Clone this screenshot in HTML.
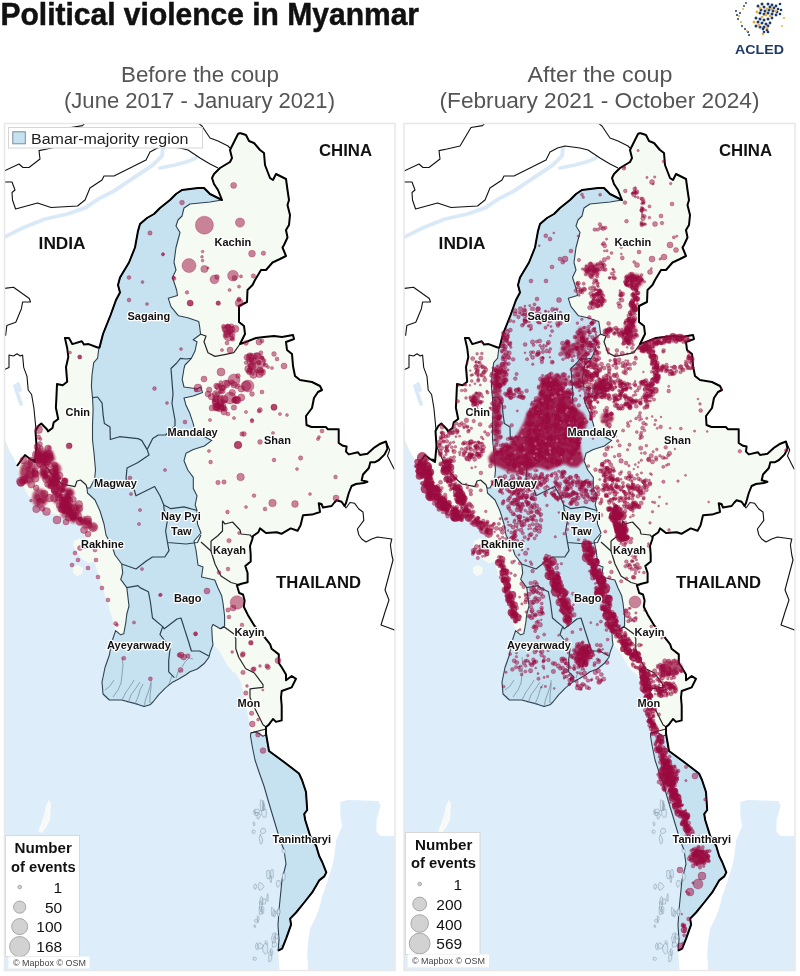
<!DOCTYPE html>
<html><head><meta charset="utf-8"><style>
html,body{margin:0;padding:0;background:#fff;}
body{width:800px;height:976px;overflow:hidden;position:relative;font-family:"Liberation Sans",sans-serif;}
svg{position:absolute;left:0;top:0;}
.cty{font-family:"Liberation Sans",sans-serif;font-weight:bold;font-size:16px;fill:#111;}
.dots circle{fill:#9b0b40;fill-opacity:0.5;stroke:#9b0b40;stroke-opacity:0.5;stroke-width:0.6}
.st{font-family:"Liberation Sans",sans-serif;font-weight:bold;font-size:11px;fill:#111;paint-order:stroke;stroke:#fff;stroke-width:2.5px;stroke-linejoin:round;}
</style></head><body>
<svg width="800" height="976" viewBox="0 0 800 976">
<defs>
<filter id="bl2" x="-20%" y="-20%" width="140%" height="140%"><feGaussianBlur stdDeviation="0.7"/></filter>
<filter id="bl" x="-20%" y="-20%" width="140%" height="140%"><feGaussianBlur stdDeviation="1.3"/></filter>
<clipPath id="cl"><rect x="4.5" y="123.5" width="390.5" height="847"/></clipPath>
<clipPath id="crp"><rect x="404" y="123.5" width="391" height="847"/></clipPath>
</defs>
<text x="0.5" y="24.8" font-family="'Liberation Sans', sans-serif" font-weight="bold" font-size="31" fill="#111" stroke="#111" stroke-width="0.5" textLength="418.5" lengthAdjust="spacingAndGlyphs">Political violence in Myanmar</text>
<text x="121" y="82" font-family="'Liberation Sans', sans-serif" font-size="21.5" fill="#555" textLength="158" lengthAdjust="spacingAndGlyphs">Before the coup</text>
<text x="64" y="108" font-family="'Liberation Sans', sans-serif" font-size="21.5" fill="#555" textLength="271" lengthAdjust="spacingAndGlyphs">(June 2017 - January 2021)</text>
<text x="527.5" y="82" font-family="'Liberation Sans', sans-serif" font-size="21.5" fill="#555" textLength="145" lengthAdjust="spacingAndGlyphs">After the coup</text>
<text x="439.5" y="108" font-family="'Liberation Sans', sans-serif" font-size="21.5" fill="#555" textLength="320" lengthAdjust="spacingAndGlyphs">(February 2021 - October 2024)</text>

<g>
<g fill="#1f3a68">
<circle cx="758" cy="6" r="1.5"/><circle cx="762" cy="4" r="1.5"/><circle cx="764" cy="7" r="1.5"/><circle cx="768" cy="4" r="1.5"/><circle cx="770" cy="7" r="1.5"/><circle cx="772" cy="5" r="1.4"/><circle cx="774" cy="8" r="1.4"/><circle cx="776" cy="6" r="1.4"/><circle cx="778" cy="9" r="1.3"/><circle cx="780" cy="4" r="1.3"/>
<circle cx="761" cy="10" r="1.5"/><circle cx="765" cy="11" r="1.5"/><circle cx="769" cy="10" r="1.5"/><circle cx="773" cy="11" r="1.5"/><circle cx="777" cy="12" r="1.4"/><circle cx="781" cy="10" r="1.3"/>
<circle cx="760" cy="13" r="1.5"/><circle cx="764" cy="14" r="1.5"/><circle cx="768" cy="13" r="1.5"/><circle cx="772" cy="14" r="1.5"/><circle cx="776" cy="15" r="1.4"/><circle cx="780" cy="14" r="1.3"/>
<circle cx="756" cy="18" r="1.5"/><circle cx="760" cy="19" r="1.5"/><circle cx="764" cy="20" r="1.5"/><circle cx="768" cy="19" r="1.5"/><circle cx="772" cy="18" r="1.4"/>
<circle cx="758" cy="22" r="1.5"/><circle cx="762" cy="23" r="1.5"/><circle cx="766" cy="24" r="1.5"/><circle cx="770" cy="23" r="1.4"/>
<circle cx="756" cy="26" r="1.5"/><circle cx="760" cy="27" r="1.5"/><circle cx="764" cy="27" r="1.5"/><circle cx="768" cy="26" r="1.4"/>
<circle cx="763" cy="29" r="1.4"/><circle cx="767" cy="30" r="1.4"/><circle cx="764" cy="32" r="1.3"/><circle cx="768" cy="32" r="1.3"/>
<circle cx="736" cy="11" r="1"/><circle cx="737" cy="15" r="1.1"/><circle cx="738" cy="19" r="1"/><circle cx="740" cy="13" r="1"/><circle cx="742" cy="26" r="1"/><circle cx="745" cy="29" r="1"/><circle cx="748" cy="32" r="1.1"/><circle cx="749" cy="35" r="1"/><circle cx="744" cy="6" r="0.9"/><circle cx="746" cy="3" r="0.9"/>
</g>
<g fill="#e9ac3c">
<circle cx="760" cy="8" r="1.4"/><circle cx="767" cy="9" r="1.4"/><circle cx="772" cy="9" r="1.3"/><circle cx="776" cy="11" r="1.2"/><circle cx="757" cy="12" r="1.4"/><circle cx="766" cy="15" r="1.4"/><circle cx="770" cy="16" r="1.3"/>
<circle cx="754" cy="22" r="1.5"/><circle cx="759" cy="25" r="1.5"/><circle cx="767" cy="28" r="1.4"/><circle cx="763" cy="34" r="1.3"/><circle cx="762" cy="17" r="1.3"/>
<circle cx="739" cy="16" r="1"/><circle cx="741" cy="22" r="1"/><circle cx="747" cy="31" r="1"/><circle cx="743" cy="9" r="0.9"/><circle cx="784" cy="18" r="1"/><circle cx="782" cy="26" r="0.9"/>
</g>
<text x="735" y="54" font-family="'Liberation Sans', sans-serif" font-weight="bold" font-size="13" fill="#1f3a68" textLength="49" lengthAdjust="spacingAndGlyphs">ACLED</text>
</g>
<g clip-path="url(#cl)">
<rect x="0" y="120" width="400" height="856" fill="#fff"/>
<path d="M0.0,390.0 L4.0,400.0 L5.0,440.0 L10.0,452.0 L14.0,458.0 L17.0,466.0 L40.0,485.0 L80.0,520.0 L110.0,560.0 L150.0,600.0 L210.0,640.0 L240.0,660.0 L266.0,733.3 L269.0,751.0 L284.0,762.0 L299.0,773.5 L302.0,780.0 L306.0,792.0 L307.2,810.0 L304.2,814.0 L305.2,820.0 L310.2,836.0 L316.2,846.0 L319.2,856.0 L322.2,862.0 L326.3,872.4 L324.3,876.4 L319.2,880.4 L312.2,892.4 L304.2,902.5 L296.1,912.5 L290.1,918.6 L291.1,924.6 L286.1,938.6 L282.1,948.7 L278.1,950.7 L280.0,975.0 L0.0,975.0Z" fill="#ddedfa"/>
<path d="M340.3,802.0 L348.4,800.0 L378.5,801.0 L380.5,806.0 L376.5,820.0 L376.5,832.0 L380.5,836.0 L392.5,836.0 L400.0,836.0 L400.0,975.0 L308.0,975.0 L308.2,968.8 L307.2,954.7 L308.2,940.6 L310.2,928.6 L316.2,916.5 L320.2,904.5 L322.2,896.5 L326.3,884.4 L332.3,866.0 L334.3,856.0 L336.3,840.0 L342.3,826.0 L340.3,816.0Z" fill="#ddedfa"/>
<path d="M15.0,386.0 L17.0,392.0 L19.0,398.0 L21.0,404.0" fill="none" stroke="#d9e9f7" stroke-width="3.8" stroke-linecap="round" stroke-linejoin="round"/>
<path d="M18.0,384.0 L20.0,390.0" fill="none" stroke="#d9e9f7" stroke-width="3.8" stroke-linecap="round" stroke-linejoin="round"/>
<path d="M0.0,238.0 L4.5,237.0 L22.5,228.0 L45.0,219.0 L67.5,214.0 L85.6,207.6 L99.0,198.6 L112.6,191.8 L126.0,182.8 L139.6,173.8 L153.0,164.8 L162.0,155.8 L163.0,148.0" fill="none" stroke="#d9e9f7" stroke-width="3.8" stroke-linecap="round" stroke-linejoin="round"/>
<path d="M160.0,168.0 L175.0,165.0 L186.0,162.0 L196.0,158.0" fill="none" stroke="#d9e9f7" stroke-width="3.8" stroke-linecap="round" stroke-linejoin="round"/>
<path d="M0.0,171.0 L4.0,171.0 L19.0,164.0 L23.0,167.5 L29.0,167.5 L40.0,159.0 L39.0,150.6 L47.0,149.0 L60.0,146.0 L71.0,127.5 L82.5,125.6 L86.0,122.0" fill="none" stroke="#111" stroke-width="1.1" stroke-linejoin="round"/>
<path d="M0.0,182.0 L12.0,182.0 L15.0,190.0 L12.0,192.5 L12.5,200.0 L15.6,209.0 L37.5,203.0 L51.0,207.5 L77.5,206.0 L85.0,200.0 L90.0,188.0 L102.0,180.0 L104.0,176.0 L114.0,176.0 L130.0,168.0 L142.0,162.0 L146.0,160.0 L150.0,152.0 L157.5,148.0 L165.0,146.0 L180.0,148.0 L188.0,150.0 L194.0,154.0 L200.0,158.0 L210.0,164.0 L218.0,168.0" fill="none" stroke="#111" stroke-width="1.1" stroke-linejoin="round"/>
<path d="M198.0,123.0 L202.0,126.0 L210.0,138.0 L218.0,141.0 L228.0,146.0 L230.0,148.0" fill="none" stroke="#111" stroke-width="1.1" stroke-linejoin="round"/>
<path d="M0.0,288.4 L4.5,288.4 L13.5,287.2 L29.3,298.5 L30.5,302.0 L22.6,302.0 L21.4,308.7 L15.8,322.2 L6.8,325.6 L5.6,335.8" fill="none" stroke="#111" stroke-width="1.1" stroke-linejoin="round"/>
<path d="M0.0,369.6 L4.5,369.6 L9.0,367.4 L9.0,355.0 L13.5,356.0 L17.0,353.8 L20.3,356.0 L22.6,355.0 L23.7,367.4 L27.0,376.4 L28.2,390.0 L31.6,394.5 L33.9,408.0 L36.1,430.6 L36.9,453.0 L36.9,462.0 L35.3,464.0 L33.8,459.4 L27.0,459.0 L25.0,455.0" fill="none" stroke="#111" stroke-width="1.1" stroke-linejoin="round"/>
<path d="M386.0,441.5 L389.7,450.0 L387.5,455.9 L394.0,468.8 L400.0,472.0" fill="none" stroke="#111" stroke-width="1.1" stroke-linejoin="round"/>
<path d="M344.5,506.0 L346.0,508.0 L350.0,502.5 L354.5,503.2 L358.8,509.0 L363.0,512.0 L363.8,520.4 L357.4,529.0 L358.8,534.8 L361.7,539.0 L366.0,542.0 L371.7,539.0 L377.5,537.0 L391.8,539.0 L390.4,544.8 L391.8,555.0 L393.0,560.0 L389.0,575.0 L385.0,590.0 L389.0,600.0 L385.0,612.0 L381.0,625.0 L392.0,629.0 L400.0,632.0" fill="none" stroke="#111" stroke-width="1.1" stroke-linejoin="round"/>
<path d="M240.0,133.0 L246.0,135.0 L249.0,141.0 L254.0,143.0 L260.0,150.0 L264.0,153.0 L265.0,165.0 L270.0,178.0 L273.0,180.0 L276.0,174.0 L286.0,179.0 L287.5,190.0 L289.0,200.0 L287.5,205.0 L290.0,215.0 L289.0,225.0 L286.0,230.0 L287.5,237.5 L284.0,245.0 L282.5,247.5 L286.0,256.0 L280.0,259.0 L272.5,262.5 L266.0,270.0 L261.0,270.0 L255.0,280.0 L252.5,285.0 L247.5,290.0 L247.0,302.0 L239.0,306.0 L239.0,322.0 L244.0,326.0 L245.0,334.0 L240.0,344.0 L246.0,342.0 L256.0,338.0 L264.0,337.0 L274.0,336.0 L282.0,337.0 L293.0,335.0 L294.0,339.0 L286.0,342.0 L287.0,350.0 L292.0,354.0 L293.0,366.0 L295.0,376.0 L300.0,380.0 L312.0,382.0 L320.0,386.0 L322.0,390.0 L318.0,392.0 L314.0,398.0 L312.0,408.0 L306.0,416.0 L306.5,425.0 L311.5,427.0 L325.8,427.0 L328.0,429.3 L338.7,429.3 L338.7,443.0 L343.0,445.8 L346.6,446.5 L346.0,451.6 L348.8,454.4 L358.0,452.3 L360.0,455.0 L367.4,453.7 L374.6,447.3 L380.3,443.7 L386.0,441.5 L387.5,448.7 L384.6,454.4 L379.0,460.0 L374.6,462.3 L370.3,462.3 L368.9,468.0 L363.0,474.5 L361.7,480.3 L367.4,481.7 L363.8,483.0 L356.0,484.0 L351.6,486.0 L348.8,493.0 L346.0,503.0 L344.5,506.0 L341.6,501.8 L336.6,500.3 L334.4,502.5 L331.6,506.0 L323.0,507.5 L321.5,504.0 L318.7,503.2 L320.0,512.0 L312.0,514.6 L303.0,515.3 L300.6,525.3 L297.6,530.7 L290.7,528.4 L281.4,533.8 L276.8,532.2 L266.0,533.0 L260.0,528.4 L258.4,532.2 L253.0,536.0 L252.3,539.2 L250.0,546.0 L250.7,554.5 L250.7,561.4 L245.3,566.0 L247.6,573.0 L247.6,582.2 L241.5,583.7 L236.9,585.2 L239.2,593.0 L243.0,594.5 L244.6,600.6 L243.8,606.7 L247.6,614.4 L254.4,625.7 L264.5,637.2 L270.2,644.4 L271.6,648.7 L278.8,654.4 L278.8,663.0 L281.7,667.3 L286.0,674.5 L286.0,680.3 L291.7,676.0 L296.0,678.8 L291.7,687.4 L281.7,691.0 L281.0,697.5 L281.7,706.0 L281.7,720.4 L276.0,721.9 L273.0,719.0 L268.8,724.7 L266.0,727.0 L266.0,733.3 L269.0,751.0 L284.0,762.0 L299.0,773.5 L302.0,780.0 L306.0,792.0 L307.2,810.0 L304.2,814.0 L305.2,820.0 L310.2,836.0 L316.2,846.0 L319.2,856.0 L322.2,862.0 L326.3,872.4 L324.3,876.4 L319.2,880.4 L312.2,892.4 L304.2,902.5 L296.1,912.5 L290.1,918.6 L291.1,924.6 L286.1,938.6 L282.1,948.7 L278.1,950.7 L279.0,940.0 L278.0,925.0 L279.0,910.0 L280.0,900.0 L282.0,880.0 L286.0,864.0 L284.0,850.0 L280.0,840.0 L274.0,820.0 L268.0,800.0 L264.0,786.0 L259.0,772.0 L255.0,760.0 L252.0,745.0 L250.5,736.0 L249.0,720.0 L246.0,706.0 L243.0,692.0 L241.0,682.0 L236.0,674.0 L233.0,671.8 L227.5,666.0 L224.6,660.3 L218.9,650.3 L213.0,644.6 L210.3,651.7 L208.8,657.5 L204.5,663.2 L197.3,669.0 L190.0,671.8 L185.9,674.7 L178.7,679.0 L173.0,681.9 L165.8,687.6 L158.6,694.8 L152.9,702.0 L150.0,704.8 L144.0,706.5 L138.0,704.4 L121.7,700.0 L109.4,700.0 L103.0,694.0 L102.0,682.0 L105.0,667.5 L109.4,655.0 L111.5,643.0 L115.6,630.6 L111.5,616.0 L106.0,598.0 L100.0,581.0 L96.0,567.0 L92.0,552.0 L86.0,538.0 L80.0,526.0 L70.0,519.0 L60.0,516.0 L48.0,512.0 L36.0,504.0 L27.0,494.0 L21.0,482.0 L18.0,472.0 L17.0,466.0 L25.0,455.0 L30.0,459.0 L35.0,462.0 L36.5,446.0 L35.5,431.0 L38.5,425.8 L41.3,423.5 L46.9,429.2 L48.0,431.4 L52.5,428.0 L53.7,422.4 L58.2,419.0 L55.9,407.7 L56.5,395.4 L57.0,384.1 L62.7,385.2 L67.2,381.8 L66.0,367.2 L68.3,357.0 L67.2,348.0 L64.9,337.9 L68.9,337.9 L72.3,344.1 L81.8,341.3 L84.1,344.6 L88.6,344.1 L97.6,347.5 L99.5,347.5 L103.0,334.0 L107.0,324.0 L110.6,315.0 L116.0,300.0 L120.0,292.5 L118.0,285.0 L120.0,277.5 L129.0,262.5 L135.0,247.5 L138.0,231.0 L140.0,224.0 L147.0,218.0 L154.0,214.0 L160.0,208.0 L170.0,200.0 L176.0,194.0 L182.0,190.0 L198.0,188.0 L204.0,188.0 L210.0,194.0 L218.0,198.0 L222.0,200.0 L218.0,190.0 L214.0,184.0 L212.0,178.0 L214.0,174.0 L220.0,168.0 L230.0,162.0 L232.0,158.0 L230.0,150.0 L232.0,146.0 L234.0,142.0 L238.0,134.0Z" fill="#f5fbf2"/>
<path d="M74.0,541.0 L80.0,538.0 L86.0,542.0 L92.0,548.0 L96.0,556.0 L94.0,562.0 L88.0,563.0 L82.0,559.0 L77.0,552.0 L73.0,546.0Z" fill="#f5fbf2"/>
<path d="M73.0,567.0 L78.0,565.0 L83.0,568.0 L82.0,574.0 L77.0,576.0 L73.0,573.0Z" fill="#f5fbf2"/>
<path d="M48.5,800.0 L51.0,803.0 L50.5,812.0 L50.0,820.0 L47.0,826.0 L42.0,833.0 L38.0,831.0 L41.0,824.0 L44.0,815.0 L46.0,806.0Z" fill="#f7faf7"/>
<path d="M182.0,190.0 L198.0,188.0 L204.0,188.0 L210.0,194.0 L218.0,198.0 L222.0,200.0 L210.0,202.0 L190.0,204.0 L184.0,208.0 L182.0,216.0 L178.0,220.0 L176.0,226.0 L180.0,232.5 L176.0,247.5 L174.0,262.5 L176.0,270.0 L172.5,277.5 L176.6,290.0 L177.5,295.5 L168.3,298.3 L171.0,306.6 L178.5,315.8 L187.7,317.7 L198.7,321.4 L199.7,327.0 L200.6,334.3 L193.2,339.8 L197.0,341.7 L195.0,351.0 L191.4,358.3 L185.0,365.0 L184.0,368.5 L182.2,379.5 L184.0,387.0 L197.0,388.7 L200.7,387.0 L202.5,392.4 L193.3,396.0 L184.0,398.0 L186.0,405.3 L189.6,412.7 L193.3,423.8 L195.2,433.0 L204.4,436.7 L211.8,440.4 L204.4,446.0 L193.3,449.6 L186.0,453.3 L184.0,460.7 L187.8,470.0 L193.3,477.3 L193.3,488.4 L197.0,495.8 L195.2,505.0 L197.0,510.5 L197.5,524.0 L201.0,533.0 L194.0,541.0 L196.0,550.0 L198.0,565.0 L203.0,567.0 L201.5,577.0 L214.8,580.0 L218.0,588.0 L221.7,595.8 L223.0,603.0 L224.6,616.0 L224.6,626.0 L220.3,628.8 L213.0,624.5 L211.7,627.3 L212.4,640.3 L213.0,644.6 L210.3,651.7 L208.8,657.5 L204.5,663.2 L197.3,669.0 L190.0,671.8 L185.9,674.7 L178.7,679.0 L173.0,681.9 L165.8,687.6 L158.6,694.8 L152.9,702.0 L150.0,704.8 L144.0,706.5 L138.0,704.4 L121.7,700.0 L109.4,700.0 L103.0,694.0 L102.0,682.0 L105.0,667.5 L109.4,655.0 L111.5,643.0 L115.6,630.6 L120.7,634.8 L123.8,633.7 L125.8,622.5 L126.8,614.0 L129.0,606.0 L126.8,587.6 L120.7,579.4 L122.7,573.0 L121.7,564.0 L115.0,555.0 L112.5,547.5 L106.0,535.0 L104.0,524.0 L100.0,511.0 L95.0,500.0 L87.5,493.0 L87.0,488.0 L90.0,488.0 L94.6,479.0 L95.5,470.0 L94.0,453.0 L92.5,440.0 L92.5,425.8 L93.1,408.9 L92.5,397.6 L91.4,386.3 L92.0,375.0 L93.1,367.2 L93.7,362.7 L97.6,358.2 L98.7,349.2 L99.5,347.5 L103.0,334.0 L107.0,324.0 L110.6,315.0 L116.0,300.0 L120.0,292.5 L118.0,285.0 L120.0,277.5 L129.0,262.5 L135.0,247.5 L138.0,231.0 L140.0,224.0 L147.0,218.0 L154.0,214.0 L160.0,208.0 L170.0,200.0 L176.0,194.0Z" fill="#c6e2f0" stroke="#2e4150" stroke-width="1.1" stroke-linejoin="round"/>
<path d="M250.8,733.0 L254.4,732.0 L258.7,733.3 L263.0,736.2 L266.0,734.8 L269.0,751.0 L284.0,762.0 L299.0,773.5 L302.0,780.0 L306.0,792.0 L307.2,810.0 L304.2,814.0 L305.2,820.0 L310.2,836.0 L316.2,846.0 L319.2,856.0 L322.2,862.0 L326.3,872.4 L324.3,876.4 L319.2,880.4 L312.2,892.4 L304.2,902.5 L296.1,912.5 L290.1,918.6 L291.1,924.6 L286.1,938.6 L282.1,948.7 L278.1,950.7 L279.0,940.0 L278.0,925.0 L279.0,910.0 L280.0,900.0 L282.0,880.0 L286.0,864.0 L284.0,850.0 L280.0,840.0 L274.0,820.0 L268.0,800.0 L264.0,786.0 L259.0,772.0 L255.0,760.0 L252.0,745.0 L250.5,736.0Z" fill="#c6e2f0" stroke="#2e4150" stroke-width="1.1" stroke-linejoin="round"/>
<path d="M113.0,697.0 L118.0,690.0 L121.0,683.0 L122.0,675.0 L123.0,665.0 L122.0,657.0" fill="none" stroke="#71869a" stroke-width="0.7"/>
<path d="M122.0,700.0 L126.0,692.0 L131.0,685.0 L134.0,680.0" fill="none" stroke="#71869a" stroke-width="0.7"/>
<path d="M128.0,703.0 L131.0,695.0 L136.0,688.0 L140.0,682.0" fill="none" stroke="#71869a" stroke-width="0.7"/>
<path d="M135.0,704.0 L138.0,697.0 L140.0,690.0 L143.0,684.0" fill="none" stroke="#71869a" stroke-width="0.7"/>
<path d="M144.0,706.0 L146.0,698.0 L149.0,690.0 L151.0,683.0" fill="none" stroke="#71869a" stroke-width="0.7"/>
<path d="M150.0,703.0 L150.0,695.0 L151.0,688.0 L151.0,680.0" fill="none" stroke="#71869a" stroke-width="0.7"/>
<path d="M165.0,689.0 L169.0,684.0 L172.0,676.0" fill="none" stroke="#71869a" stroke-width="0.7"/>
<path d="M105.0,690.0 L110.0,686.0 L114.0,680.0" fill="none" stroke="#71869a" stroke-width="0.7"/>
<path d="M182.0,667.0 L185.0,662.0 L189.0,658.0 L193.0,659.0" fill="none" stroke="#71869a" stroke-width="0.7"/>
<path d="M176.0,678.0 L178.0,672.0 L182.0,670.0" fill="none" stroke="#71869a" stroke-width="0.7"/>
<path d="M273.3,873.3 L273.4,877.4 L271.9,878.0 L270.6,876.9 L270.6,873.3 L270.8,870.0 L271.9,869.6 L273.1,869.8Z M277.3,944.2 L275.8,946.4 L274.3,946.9 L272.3,947.1 L272.3,944.2 L272.7,942.0 L274.3,940.9 L275.7,942.3Z M269.9,875.2 L269.1,878.9 L267.2,878.5 L266.5,875.2 L266.9,870.6 L269.3,870.6Z M278.3,936.1 L278.2,938.9 L276.3,938.6 L275.1,937.2 L274.8,934.8 L276.3,933.7 L277.6,934.3Z M262.4,911.0 L261.2,914.6 L259.3,914.4 L259.2,907.2 L261.3,906.7Z M259.3,814.1 L258.5,815.1 L257.3,815.4 L255.3,815.7 L255.5,814.1 L255.6,812.8 L257.3,812.4 L258.6,813.1Z M259.0,918.6 L258.8,920.4 L258.2,922.6 L257.4,921.2 L257.3,918.6 L257.3,915.9 L258.2,916.1 L258.8,916.6Z M275.3,938.4 L274.7,939.7 L273.8,939.6 L273.7,937.0 L274.8,936.7Z M255.4,812.0 L254.9,813.9 L254.2,814.6 L253.7,812.0 L254.3,810.2 L254.9,809.8Z M265.9,901.6 L265.4,904.0 L262.3,904.3 L262.0,901.6 L262.3,899.0 L265.5,899.0Z M268.3,897.8 L267.8,901.6 L266.8,899.6 L266.8,895.9 L267.9,893.6Z M271.7,879.5 L271.0,882.9 L270.1,880.9 L270.0,878.0 L271.0,875.5Z M257.5,921.3 L257.3,922.4 L256.2,923.0 L255.3,922.2 L254.7,921.3 L254.7,919.9 L256.2,919.2 L257.5,920.1Z M274.7,912.0 L273.6,916.0 L271.8,915.8 L271.3,912.0 L271.6,907.3 L273.4,908.8Z M259.8,810.9 L258.5,812.6 L255.0,812.7 L253.5,810.9 L255.2,809.3 L258.6,809.2Z M267.8,948.2 L267.5,952.3 L265.3,954.3 L263.3,951.8 L262.4,948.2 L263.5,945.1 L265.3,943.1 L267.3,944.5Z M266.5,813.0 L266.0,816.9 L263.5,817.4 L261.8,814.8 L261.2,810.7 L263.6,810.0 L266.0,809.1Z M263.8,804.8 L263.9,809.2 L263.2,810.6 L262.7,808.5 L262.3,804.8 L262.7,801.5 L263.2,800.8 L263.8,800.9Z M280.8,884.0 L279.3,886.2 L277.6,887.4 L276.6,885.1 L276.3,882.7 L277.5,880.3 L279.8,880.8Z M267.4,942.6 L267.2,944.5 L266.1,943.9 L265.6,943.2 L264.9,941.5 L266.0,940.4 L266.8,941.5Z M285.3,876.4 L284.9,879.2 L283.6,880.6 L282.4,879.0 L282.3,876.4 L282.3,873.4 L283.6,873.4 L284.8,873.7Z M263.9,909.9 L263.6,912.6 L262.7,914.2 L262.1,911.2 L261.5,907.5 L262.7,906.2 L263.7,907.2Z M264.9,807.6 L264.5,809.9 L263.8,810.1 L263.3,809.6 L262.7,807.6 L263.3,805.5 L263.8,803.6 L264.6,804.7Z M256.6,886.6 L255.8,889.1 L254.5,889.2 L253.6,886.6 L254.5,884.4 L255.9,883.8Z M257.9,946.8 L257.7,949.7 L256.8,949.7 L256.1,949.2 L255.5,946.8 L255.9,944.1 L256.8,942.7 L257.5,944.6Z M262.1,905.5 L261.0,911.8 L259.6,908.5 L259.4,902.0 L260.9,901.3Z M283.0,947.4 L282.5,948.5 L281.0,948.7 L279.3,948.3 L280.1,946.9 L280.9,945.6 L282.5,946.3Z M263.9,805.7 L262.6,810.4 L260.8,810.9 L260.1,805.7 L260.6,799.8 L262.6,800.8Z M280.4,911.6 L279.7,913.6 L278.3,914.2 L276.6,913.8 L276.3,911.6 L277.1,910.1 L278.3,909.3 L279.9,909.4Z M263.6,945.9 L261.8,948.3 L259.2,949.0 L257.8,945.9 L259.2,942.7 L261.6,943.8Z M271.9,957.0 L271.5,959.8 L270.5,961.2 L268.8,961.9 L268.7,957.0 L268.8,952.2 L270.5,950.6 L271.8,953.5Z M262.9,839.9 L261.9,843.5 L260.5,843.9 L259.7,841.5 L259.2,837.7 L260.4,834.1 L261.6,837.2Z M255.6,926.2 L255.3,927.6 L254.3,927.2 L253.7,926.2 L254.2,925.0 L255.3,925.0Z M275.5,938.0 L275.2,942.6 L272.6,943.2 L271.5,938.0 L272.8,933.7 L275.3,932.7Z M264.2,886.5 L262.0,889.2 L259.5,890.4 L257.9,886.5 L259.4,882.3 L262.1,883.6Z M285.3,851.0 L285.0,853.4 L282.6,852.4 L281.8,851.0 L282.4,849.3 L284.7,849.3Z M272.8,952.5 L271.8,954.9 L270.8,956.0 L270.3,952.5 L270.7,948.4 L271.9,949.4Z M275.7,914.2 L275.1,916.5 L274.0,917.1 L273.2,915.4 L272.6,912.3 L273.9,910.1 L275.5,910.8Z M255.0,823.7 L254.7,825.7 L253.5,825.6 L253.2,823.7 L253.4,821.8 L254.5,822.5Z M260.6,815.7 L259.5,817.1 L258.6,819.2 L257.0,818.4 L257.2,815.7 L257.3,813.5 L258.6,812.1 L259.8,813.6Z M255.4,831.6 L254.2,833.6 L252.2,832.9 L252.1,830.3 L254.1,829.9Z M266.0,830.9 L264.6,833.1 L262.2,833.7 L260.2,832.2 L260.8,830.0 L262.2,828.0 L264.8,828.6Z M279.7,912.6 L279.3,915.9 L277.8,916.2 L277.5,912.6 L277.8,909.2 L279.4,908.5Z M262.9,901.1 L262.4,904.3 L261.1,904.7 L259.7,903.4 L260.0,899.2 L261.1,896.6 L262.5,897.4Z M256.9,958.8 L255.2,960.4 L253.2,959.9 L253.0,957.5 L255.3,957.1Z" fill="#d3e7f5" stroke="#8797a5" stroke-width="0.5"/>
<path d="M200.6,334.3 L206.0,336.0 L204.0,341.7 L208.0,352.7 L215.0,356.4 L224.6,354.6 L233.8,352.7 L240.0,344.0" fill="none" stroke="#262626" stroke-width="1.2" stroke-linejoin="round"/>
<path d="M36.0,445.0 L45.0,465.0 L55.0,478.0 L62.0,484.0 L75.0,486.6 L77.0,481.0 L80.6,480.0 L86.0,484.7 L87.0,488.0" fill="none" stroke="#262626" stroke-width="1.2" stroke-linejoin="round"/>
<path d="M92.5,397.6 L97.6,397.0 L102.1,403.2 L103.2,415.6 L104.4,423.5 L110.0,427.0 L110.3,439.5 L119.5,436.7 L138.0,438.6 L141.7,440.4 L147.2,449.6" fill="none" stroke="#2e4150" stroke-width="1.2" stroke-linejoin="round"/>
<path d="M147.2,449.6 L152.7,438.6 L158.3,435.0 L165.6,435.0 L175.0,425.6 L175.0,420.0 L172.0,403.5 L173.0,394.3 L171.0,368.5 L176.7,363.0 L180.4,358.3 L186.0,359.0 L191.4,358.3" fill="none" stroke="#2e4150" stroke-width="1.2" stroke-linejoin="round"/>
<path d="M147.2,449.6 L149.0,455.0 L138.0,462.5 L127.0,468.0 L126.0,479.0 L134.3,490.0 L136.0,495.8 L154.6,486.5 L160.0,495.8 L163.8,505.0 L171.0,508.7 L184.0,506.8 L197.0,510.5" fill="none" stroke="#2e4150" stroke-width="1.2" stroke-linejoin="round"/>
<path d="M121.7,564.0 L136.0,569.0 L146.3,561.0 L152.5,557.0 L164.8,557.0 L169.0,550.7 L167.5,542.5" fill="none" stroke="#2e4150" stroke-width="1.2" stroke-linejoin="round"/>
<path d="M163.8,505.0 L164.0,509.0 L167.5,520.0 L165.6,531.0 L167.5,542.5 L186.0,544.0 L197.5,542.5 L201.0,535.0" fill="none" stroke="#2e4150" stroke-width="1.2" stroke-linejoin="round"/>
<path d="M126.8,587.6 L138.0,585.6 L140.0,587.6 L148.4,591.7 L150.4,602.0 L152.5,618.0 L162.7,626.6 L164.3,628.8 L177.0,619.0 L181.0,618.0 L185.0,630.6 L189.0,643.0 L191.4,651.0 L199.6,651.0 L208.8,656.0" fill="none" stroke="#2e4150" stroke-width="1.2" stroke-linejoin="round"/>
<path d="M162.7,626.6 L160.0,634.5 L168.0,645.0 L170.0,649.0 L168.7,660.3 L168.7,671.8 L174.4,677.6" fill="none" stroke="#2e4150" stroke-width="1.2" stroke-linejoin="round"/>
<path d="M211.0,541.0 L217.5,536.0 L222.5,531.0 L222.5,521.0 L225.0,524.0 L232.5,522.0 L240.0,530.0 L241.0,534.0 L250.0,535.0 L252.5,537.5" fill="none" stroke="#262626" stroke-width="1.2" stroke-linejoin="round"/>
<path d="M211.0,541.0 L211.0,551.0 L215.0,564.0 L221.0,576.0 L231.0,582.5 L240.0,585.0" fill="none" stroke="#262626" stroke-width="1.2" stroke-linejoin="round"/>
<path d="M201.0,542.0 L211.0,551.0" fill="none" stroke="#262626" stroke-width="1.2" stroke-linejoin="round"/>
<path d="M266.0,727.0 L263.0,724.7 L254.4,707.5 L250.0,697.5 L250.0,688.9 L263.0,687.4 L263.0,684.6 L254.4,673.0 L245.8,668.8 L238.7,657.3 L235.8,648.7 L235.8,638.7 L234.3,634.3 L224.3,627.0 L220.3,628.8" fill="none" stroke="#262626" stroke-width="1.2" stroke-linejoin="round"/>
<path d="M250.8,733.0 L266.0,729.0" fill="none" stroke="#262626" stroke-width="1.2" stroke-linejoin="round"/>
<path d="M240.0,133.0 L246.0,135.0 L249.0,141.0 L254.0,143.0 L260.0,150.0 L264.0,153.0 L265.0,165.0 L270.0,178.0 L273.0,180.0 L276.0,174.0 L286.0,179.0 L287.5,190.0 L289.0,200.0 L287.5,205.0 L290.0,215.0 L289.0,225.0 L286.0,230.0 L287.5,237.5 L284.0,245.0 L282.5,247.5 L286.0,256.0 L280.0,259.0 L272.5,262.5 L266.0,270.0 L261.0,270.0 L255.0,280.0 L252.5,285.0 L247.5,290.0 L247.0,302.0 L239.0,306.0 L239.0,322.0 L244.0,326.0 L245.0,334.0 L240.0,344.0 L246.0,342.0 L256.0,338.0 L264.0,337.0 L274.0,336.0 L282.0,337.0 L293.0,335.0 L294.0,339.0 L286.0,342.0 L287.0,350.0 L292.0,354.0 L293.0,366.0 L295.0,376.0 L300.0,380.0 L312.0,382.0 L320.0,386.0 L322.0,390.0 L318.0,392.0 L314.0,398.0 L312.0,408.0 L306.0,416.0 L306.5,425.0 L311.5,427.0 L325.8,427.0 L328.0,429.3 L338.7,429.3 L338.7,443.0 L343.0,445.8 L346.6,446.5 L346.0,451.6 L348.8,454.4 L358.0,452.3 L360.0,455.0 L367.4,453.7 L374.6,447.3 L380.3,443.7 L386.0,441.5 L387.5,448.7 L384.6,454.4 L379.0,460.0 L374.6,462.3 L370.3,462.3 L368.9,468.0 L363.0,474.5 L361.7,480.3 L367.4,481.7 L363.8,483.0 L356.0,484.0 L351.6,486.0 L348.8,493.0 L346.0,503.0 L344.5,506.0 L341.6,501.8 L336.6,500.3 L334.4,502.5 L331.6,506.0 L323.0,507.5 L321.5,504.0 L318.7,503.2 L320.0,512.0 L312.0,514.6 L303.0,515.3 L300.6,525.3 L297.6,530.7 L290.7,528.4 L281.4,533.8 L276.8,532.2 L266.0,533.0 L260.0,528.4 L258.4,532.2 L253.0,536.0 L252.3,539.2 L250.0,546.0 L250.7,554.5 L250.7,561.4 L245.3,566.0 L247.6,573.0 L247.6,582.2 L241.5,583.7 L236.9,585.2 L239.2,593.0 L243.0,594.5 L244.6,600.6 L243.8,606.7 L247.6,614.4 L254.4,625.7 L264.5,637.2 L270.2,644.4 L271.6,648.7 L278.8,654.4 L278.8,663.0 L281.7,667.3 L286.0,674.5 L286.0,680.3 L291.7,676.0 L296.0,678.8 L291.7,687.4 L281.7,691.0 L281.0,697.5 L281.7,706.0 L281.7,720.4 L276.0,721.9 L273.0,719.0 L268.8,724.7 L266.0,727.0 L266.0,733.3 L269.0,751.0 L284.0,762.0 L299.0,773.5 L302.0,780.0 L306.0,792.0 L307.2,810.0 L304.2,814.0 L305.2,820.0 L310.2,836.0 L316.2,846.0 L319.2,856.0 L322.2,862.0 L326.3,872.4 L324.3,876.4 L319.2,880.4 L312.2,892.4 L304.2,902.5 L296.1,912.5 L290.1,918.6 L291.1,924.6 L286.1,938.6 L282.1,948.7 L278.1,950.7" fill="none" stroke="#000" stroke-width="2" stroke-linejoin="round"/>
<path d="M17.0,466.0 L25.0,455.0 L30.0,459.0 L35.0,462.0 L36.5,446.0 L35.5,431.0 L38.5,425.8 L41.3,423.5 L46.9,429.2 L48.0,431.4 L52.5,428.0 L53.7,422.4 L58.2,419.0 L55.9,407.7 L56.5,395.4 L57.0,384.1 L62.7,385.2 L67.2,381.8 L66.0,367.2 L68.3,357.0 L67.2,348.0 L64.9,337.9 L68.9,337.9 L72.3,344.1 L81.8,341.3 L84.1,344.6 L88.6,344.1 L97.6,347.5 L99.5,347.5 L103.0,334.0 L107.0,324.0 L110.6,315.0 L116.0,300.0 L120.0,292.5 L118.0,285.0 L120.0,277.5 L129.0,262.5 L135.0,247.5 L138.0,231.0 L140.0,224.0 L147.0,218.0 L154.0,214.0 L160.0,208.0 L170.0,200.0 L176.0,194.0 L182.0,190.0 L198.0,188.0 L204.0,188.0 L210.0,194.0 L218.0,198.0 L222.0,200.0 L218.0,190.0 L214.0,184.0 L212.0,178.0 L214.0,174.0 L220.0,168.0 L230.0,162.0 L232.0,158.0 L230.0,150.0 L232.0,146.0 L234.0,142.0 L238.0,134.0 L240.0,133.0" fill="none" stroke="#000" stroke-width="2" stroke-linejoin="round"/>
<g fill="#9b0b40" filter="url(#bl)"><ellipse cx="27.7" cy="472.5" rx="8.0" ry="11.2" fill-opacity="0.80"/><ellipse cx="40.0" cy="498.0" rx="8.0" ry="9.6" fill-opacity="0.75"/><g fill="#9b0b40"><circle cx="43.8" cy="456.6" r="4.9" fill-opacity="0.89"/><circle cx="45.6" cy="459.3" r="2.6" fill-opacity="0.78"/><circle cx="50.2" cy="458.5" r="5.2" fill-opacity="0.70"/><circle cx="43.0" cy="452.5" r="4.1" fill-opacity="0.80"/><circle cx="37.7" cy="455.4" r="3.3" fill-opacity="0.88"/><circle cx="49.0" cy="454.5" r="4.9" fill-opacity="0.71"/><circle cx="48.3" cy="457.3" r="2.5" fill-opacity="0.87"/><circle cx="42.1" cy="458.6" r="5.4" fill-opacity="0.87"/><circle cx="44.8" cy="473.1" r="4.1" fill-opacity="0.83"/><circle cx="43.6" cy="472.8" r="4.6" fill-opacity="0.89"/><circle cx="55.4" cy="466.5" r="3.6" fill-opacity="0.71"/><circle cx="44.2" cy="463.0" r="3.4" fill-opacity="0.81"/><circle cx="43.8" cy="475.2" r="3.5" fill-opacity="0.74"/><circle cx="56.0" cy="472.2" r="3.4" fill-opacity="0.78"/><circle cx="56.1" cy="468.9" r="5.4" fill-opacity="0.68"/><circle cx="56.7" cy="480.7" r="2.5" fill-opacity="0.85"/><circle cx="52.7" cy="479.7" r="2.5" fill-opacity="0.69"/><circle cx="50.0" cy="485.3" r="3.1" fill-opacity="0.85"/><circle cx="62.9" cy="488.1" r="3.5" fill-opacity="0.75"/><circle cx="56.9" cy="485.6" r="2.8" fill-opacity="0.84"/><circle cx="62.7" cy="489.9" r="2.6" fill-opacity="0.89"/><circle cx="52.1" cy="482.1" r="4.3" fill-opacity="0.88"/><circle cx="57.6" cy="493.9" r="4.1" fill-opacity="0.75"/><circle cx="57.3" cy="482.7" r="2.7" fill-opacity="0.71"/><circle cx="64.3" cy="498.7" r="3.0" fill-opacity="0.69"/><circle cx="68.8" cy="491.8" r="3.7" fill-opacity="0.73"/><circle cx="64.4" cy="499.9" r="3.9" fill-opacity="0.77"/><circle cx="56.3" cy="501.2" r="2.6" fill-opacity="0.79"/><circle cx="69.6" cy="493.2" r="4.7" fill-opacity="0.89"/><circle cx="66.5" cy="503.1" r="2.8" fill-opacity="0.77"/><circle cx="60.7" cy="507.7" r="3.4" fill-opacity="0.78"/><circle cx="73.5" cy="507.8" r="5.4" fill-opacity="0.78"/><circle cx="68.1" cy="508.9" r="3.9" fill-opacity="0.74"/><circle cx="66.8" cy="500.2" r="3.6" fill-opacity="0.90"/><circle cx="77.4" cy="510.4" r="4.0" fill-opacity="0.75"/><circle cx="64.3" cy="505.1" r="4.8" fill-opacity="0.87"/><circle cx="65.0" cy="514.1" r="4.4" fill-opacity="0.65"/><circle cx="70.2" cy="515.3" r="3.2" fill-opacity="0.65"/><circle cx="70.4" cy="514.6" r="4.4" fill-opacity="0.65"/><circle cx="73.5" cy="519.3" r="4.0" fill-opacity="0.63"/><circle cx="74.7" cy="517.7" r="2.9" fill-opacity="0.64"/><circle cx="81.4" cy="521.0" r="4.0" fill-opacity="0.66"/><circle cx="83.9" cy="521.1" r="4.3" fill-opacity="0.67"/><circle cx="86.4" cy="524.6" r="4.6" fill-opacity="0.65"/><circle cx="93.6" cy="527.4" r="3.7" fill-opacity="0.62"/></g></g><g class="dots"><circle cx="38.4" cy="437.1" r="2.3"/><circle cx="40.6" cy="439" r="1.5"/><circle cx="38.6" cy="429.6" r="4"/><circle cx="39.8" cy="444.1" r="2.6"/><circle cx="30.5" cy="462.7" r="3"/><circle cx="35.1" cy="473.1" r="3.3"/><circle cx="31.1" cy="460.3" r="3.3"/><circle cx="29.5" cy="466.9" r="1.4"/><circle cx="35" cy="471.7" r="3.2"/><circle cx="35.3" cy="478.5" r="3.8"/><circle cx="25.6" cy="480.9" r="2.5"/><circle cx="26.4" cy="476" r="2.1"/><circle cx="27.8" cy="469.3" r="2.2"/><circle cx="29.4" cy="474.9" r="3.7"/><circle cx="31.3" cy="484.5" r="3.6"/><circle cx="21" cy="482.6" r="3.9"/><circle cx="35.8" cy="474.4" r="3.2"/><circle cx="21.9" cy="481.8" r="2.8"/><circle cx="23.4" cy="460.3" r="3.6"/><circle cx="33.7" cy="470" r="1.7"/><circle cx="23.6" cy="480" r="3.7"/><circle cx="30.9" cy="500.7" r="1.4"/><circle cx="44.4" cy="493.9" r="3.7"/><circle cx="49.6" cy="498.1" r="4"/><circle cx="36.2" cy="487.8" r="2.9"/><circle cx="38.2" cy="500.7" r="1.7"/><circle cx="36.3" cy="509" r="3.7"/><circle cx="37.6" cy="497" r="2.7"/><circle cx="42.9" cy="500.3" r="2.8"/><circle cx="42.4" cy="508.6" r="2.7"/><circle cx="38.6" cy="503.3" r="1.9"/><circle cx="40.4" cy="499.2" r="1.3"/><circle cx="38.3" cy="499.9" r="1.4"/><circle cx="42.3" cy="501.2" r="1.5"/><circle cx="232" cy="329.3" r="3.1"/><circle cx="227.6" cy="334.1" r="3.3"/><circle cx="232.8" cy="339.3" r="2"/><circle cx="229.3" cy="331.9" r="2.2"/><circle cx="227.8" cy="326.3" r="2.3"/><circle cx="231.5" cy="326" r="2.3"/><circle cx="231.1" cy="334.7" r="2.1"/><circle cx="225.6" cy="336.1" r="1.9"/><circle cx="225" cy="328.7" r="3.2"/><circle cx="223.6" cy="326.4" r="2.2"/><circle cx="235.3" cy="328.8" r="3.6"/><circle cx="247.1" cy="357.4" r="3.1"/><circle cx="264.2" cy="360.6" r="1.9"/><circle cx="245.9" cy="362.8" r="1.8"/><circle cx="262.4" cy="371.5" r="1.8"/><circle cx="249.7" cy="370.6" r="3"/><circle cx="262.4" cy="357.7" r="1.7"/><circle cx="250" cy="370.2" r="2"/><circle cx="251.3" cy="359.7" r="2.4"/><circle cx="252.8" cy="373.8" r="1.7"/><circle cx="253.4" cy="374.6" r="3.8"/><circle cx="248.3" cy="368.9" r="3.6"/><circle cx="258.9" cy="362.5" r="2.1"/><circle cx="251.2" cy="354.4" r="1.5"/><circle cx="257.1" cy="356" r="3.5"/><circle cx="259.6" cy="373.9" r="3.7"/><circle cx="264.6" cy="364.2" r="1.3"/><circle cx="260.9" cy="352.8" r="2.1"/><circle cx="258.9" cy="362.7" r="2.4"/><circle cx="265.5" cy="365.1" r="2.2"/><circle cx="249.1" cy="372.1" r="2.6"/><circle cx="261.8" cy="357.9" r="1.8"/><circle cx="255.8" cy="370.9" r="1.8"/><circle cx="262.3" cy="371.1" r="1.3"/><circle cx="258.1" cy="372.2" r="1.4"/><circle cx="249.5" cy="355.5" r="2.7"/><circle cx="253.2" cy="361.2" r="3.4"/><circle cx="255.1" cy="356.8" r="2.1"/><circle cx="251.4" cy="366.1" r="2.9"/><circle cx="220" cy="385.7" r="2.2"/><circle cx="211.5" cy="396.7" r="3.2"/><circle cx="220.7" cy="382.4" r="1.8"/><circle cx="220.4" cy="398.1" r="3.4"/><circle cx="220.7" cy="404" r="3"/><circle cx="222.5" cy="391.2" r="2.6"/><circle cx="232.3" cy="392.6" r="3.2"/><circle cx="223.6" cy="387.4" r="2.7"/><circle cx="232" cy="382.1" r="2.4"/><circle cx="222.3" cy="406.4" r="3.8"/><circle cx="220.5" cy="406.9" r="3.4"/><circle cx="216.4" cy="393.9" r="1.6"/><circle cx="236.3" cy="399.9" r="3.7"/><circle cx="235.5" cy="400" r="3.3"/><circle cx="227.3" cy="383.1" r="2.9"/><circle cx="238.7" cy="385.4" r="1.4"/><circle cx="237.4" cy="400.2" r="3.6"/><circle cx="241.3" cy="397.4" r="3.5"/><circle cx="225.4" cy="401.5" r="1.6"/><circle cx="209.2" cy="389.7" r="2.8"/><circle cx="236.8" cy="387.3" r="1.8"/><circle cx="216" cy="398.5" r="3.3"/><circle cx="221.2" cy="391" r="2.4"/><circle cx="219.6" cy="392.5" r="1.5"/><circle cx="225" cy="409.2" r="2.4"/><circle cx="233.9" cy="384.8" r="3.2"/><circle cx="234.2" cy="400.2" r="2.7"/><circle cx="224.4" cy="399.3" r="3.7"/><circle cx="233.9" cy="407.5" r="2.7"/><circle cx="222.9" cy="401.6" r="1.8"/><circle cx="216.6" cy="386" r="2.9"/><circle cx="218.3" cy="387" r="3.2"/><circle cx="241.3" cy="388.9" r="3.2"/><circle cx="216.6" cy="408.2" r="2.9"/><circle cx="214.3" cy="400.6" r="1.4"/><circle cx="217.7" cy="402.6" r="1.8"/><circle cx="215.8" cy="401.9" r="3.4"/><circle cx="217.7" cy="405.2" r="2.6"/><circle cx="223.4" cy="407.9" r="2.8"/><circle cx="217.7" cy="406.6" r="3.6"/><circle cx="216.4" cy="406.8" r="3.9"/><circle cx="41.3" cy="447.6" r="1.9"/><circle cx="46.4" cy="456.5" r="3.9"/><circle cx="49.1" cy="447.8" r="1.8"/><circle cx="37.2" cy="446.7" r="3.2"/><circle cx="37.1" cy="460.3" r="2.1"/><circle cx="40.5" cy="457.6" r="1.5"/><circle cx="37.8" cy="450.1" r="2.9"/><circle cx="38.7" cy="451.7" r="2.6"/><circle cx="36.2" cy="454.7" r="3.9"/><circle cx="39.8" cy="453.9" r="1.6"/><circle cx="37.5" cy="456.3" r="1.6"/><circle cx="39.5" cy="458.4" r="3.3"/><circle cx="37.9" cy="456.5" r="3.1"/><circle cx="48.1" cy="448.3" r="3.3"/><circle cx="55" cy="464.7" r="2.7"/><circle cx="38" cy="461.1" r="2.3"/><circle cx="50.1" cy="464.8" r="2.8"/><circle cx="39.4" cy="464.2" r="3"/><circle cx="48.9" cy="453.7" r="3.8"/><circle cx="38.6" cy="457.9" r="3.2"/><circle cx="47.7" cy="462.3" r="3"/><circle cx="44.9" cy="457.5" r="1.8"/><circle cx="37.1" cy="465.6" r="3.3"/><circle cx="46.6" cy="466" r="2.3"/><circle cx="41.1" cy="458.9" r="3.7"/><circle cx="36.6" cy="461.3" r="2"/><circle cx="51.1" cy="458.3" r="2.2"/><circle cx="43.8" cy="462.1" r="3.4"/><circle cx="46.6" cy="476.4" r="1.6"/><circle cx="44.9" cy="461.5" r="1.6"/><circle cx="55.1" cy="474" r="1.8"/><circle cx="43.3" cy="467.8" r="3.3"/><circle cx="55.8" cy="474.5" r="2.9"/><circle cx="42.4" cy="467.5" r="1.8"/><circle cx="50.1" cy="470.9" r="1.8"/><circle cx="44.5" cy="475.1" r="1.4"/><circle cx="55.6" cy="477.3" r="3.9"/><circle cx="47.2" cy="470.6" r="2.9"/><circle cx="52.2" cy="479" r="3.2"/><circle cx="45.5" cy="476.7" r="2.6"/><circle cx="51.5" cy="474" r="1.3"/><circle cx="54.9" cy="472.7" r="2.6"/><circle cx="55.2" cy="477.7" r="1.8"/><circle cx="55.3" cy="469.2" r="2.7"/><circle cx="57.7" cy="477.4" r="2.8"/><circle cx="47.5" cy="484.3" r="3"/><circle cx="45.8" cy="475.7" r="1.9"/><circle cx="46.3" cy="479.3" r="3.8"/><circle cx="51.2" cy="485.9" r="3.2"/><circle cx="56.8" cy="487" r="3.2"/><circle cx="59.5" cy="475.4" r="3.5"/><circle cx="53.5" cy="483.6" r="2.6"/><circle cx="48" cy="478.4" r="3.2"/><circle cx="55.5" cy="476.9" r="3.1"/><circle cx="50.8" cy="477.8" r="3.3"/><circle cx="52.8" cy="472.1" r="3.7"/><circle cx="64.4" cy="484.8" r="2.3"/><circle cx="60.6" cy="489.4" r="1.9"/><circle cx="65.7" cy="480.4" r="2.5"/><circle cx="53.9" cy="481.7" r="1.8"/><circle cx="58.1" cy="480.9" r="1.4"/><circle cx="59.8" cy="478.7" r="1.4"/><circle cx="59" cy="485.7" r="3.2"/><circle cx="51" cy="485.6" r="2.4"/><circle cx="54.4" cy="479.4" r="2.6"/><circle cx="53.3" cy="489.9" r="2.2"/><circle cx="64.6" cy="483" r="3.4"/><circle cx="59.3" cy="496.2" r="2.1"/><circle cx="55" cy="482.8" r="3.5"/><circle cx="62.6" cy="484.4" r="1.6"/><circle cx="54.1" cy="498.1" r="3.7"/><circle cx="62.5" cy="501.1" r="3.8"/><circle cx="59.1" cy="497.1" r="3.9"/><circle cx="54.8" cy="490.9" r="3.6"/><circle cx="55.3" cy="492.8" r="2.2"/><circle cx="66.6" cy="503.6" r="1.8"/><circle cx="67.8" cy="499.7" r="3.6"/><circle cx="64.1" cy="503.5" r="2.3"/><circle cx="61.3" cy="489.6" r="3.4"/><circle cx="62.6" cy="490.4" r="1.8"/><circle cx="67.4" cy="497.1" r="3.2"/><circle cx="60.7" cy="494.7" r="1.7"/><circle cx="62.3" cy="500.2" r="3.1"/><circle cx="54.9" cy="489.7" r="3.6"/><circle cx="68.8" cy="510.1" r="3.7"/><circle cx="65" cy="510.4" r="3.3"/><circle cx="62.7" cy="499.9" r="1.5"/><circle cx="64" cy="511.6" r="1.6"/><circle cx="67.4" cy="494.7" r="1.5"/><circle cx="69" cy="497.3" r="1.4"/><circle cx="59.1" cy="505.4" r="2.9"/><circle cx="67.2" cy="500.9" r="3.4"/><circle cx="68.1" cy="508.3" r="2.7"/><circle cx="59.8" cy="496.1" r="1.5"/><circle cx="60" cy="510.4" r="1.5"/><circle cx="65.3" cy="497" r="3.5"/><circle cx="68.3" cy="505.3" r="3.4"/><circle cx="73.4" cy="499.4" r="2.9"/><circle cx="69.4" cy="500.7" r="3.6"/><circle cx="72.4" cy="514.8" r="1.9"/><circle cx="71.3" cy="507.8" r="3.3"/><circle cx="62" cy="505.4" r="2.6"/><circle cx="61.9" cy="509.6" r="3.3"/><circle cx="69" cy="511.5" r="2.9"/><circle cx="64.8" cy="505.5" r="4"/><circle cx="67.2" cy="507.1" r="1.5"/><circle cx="64.9" cy="501.8" r="3.8"/><circle cx="75" cy="516" r="4"/><circle cx="72.7" cy="517.1" r="2.7"/><circle cx="68.9" cy="517.5" r="3.7"/><circle cx="79.5" cy="508.2" r="3.4"/><circle cx="78.9" cy="504.3" r="3.8"/><circle cx="68.2" cy="509.9" r="2.7"/><circle cx="67.4" cy="507.4" r="3.3"/><circle cx="63.8" cy="511.3" r="2.2"/><circle cx="72.9" cy="516.5" r="2.1"/><circle cx="66.5" cy="512" r="2.4"/><circle cx="73.1" cy="516" r="3.9"/><circle cx="73.7" cy="512.6" r="2.1"/><circle cx="74.6" cy="516.3" r="2.8"/><circle cx="73.6" cy="519.5" r="2.1"/><circle cx="79.6" cy="521.9" r="3.5"/><circle cx="78" cy="515.4" r="3.5"/><circle cx="80.3" cy="518.4" r="1.7"/><circle cx="87.7" cy="519.7" r="3.9"/><circle cx="80.1" cy="519.3" r="2.2"/><circle cx="80.5" cy="520.5" r="1.6"/><circle cx="88.1" cy="521.5" r="3.5"/><circle cx="89.2" cy="521.6" r="1.4"/><circle cx="89.3" cy="525.3" r="3.1"/><circle cx="233.6" cy="185.4" r="3"/><circle cx="204.4" cy="225.2" r="9"/><circle cx="240" cy="222.6" r="4.6"/><circle cx="182" cy="202.6" r="2.4"/><circle cx="252" cy="253.6" r="3.4"/><circle cx="263.4" cy="253.2" r="2.2"/><circle cx="189" cy="265.6" r="7"/><circle cx="204.4" cy="269" r="3.6"/><circle cx="214.4" cy="279.4" r="4.4"/><circle cx="217" cy="277" r="2.4"/><circle cx="233" cy="275.6" r="5.4"/><circle cx="234.4" cy="278" r="2.4"/><circle cx="241" cy="276.4" r="1.6"/><circle cx="253.4" cy="276" r="2.2"/><circle cx="202.6" cy="251.6" r="1.4"/><circle cx="202" cy="256.8" r="1.4"/><circle cx="202.6" cy="260.6" r="1.4"/><circle cx="208" cy="268" r="1.2"/><circle cx="187" cy="292.4" r="1.8"/><circle cx="190.4" cy="303.2" r="2.8"/><circle cx="218.4" cy="303.2" r="2.2"/><circle cx="229.6" cy="290" r="1.6"/><circle cx="239" cy="286.6" r="1.6"/><circle cx="239.2" cy="303" r="4"/><circle cx="239" cy="300" r="2"/><circle cx="174" cy="278.4" r="2"/><circle cx="163" cy="254.6" r="1.4"/><circle cx="150" cy="233" r="2.2"/><circle cx="163" cy="254" r="1.5"/><circle cx="129" cy="277.5" r="1.9"/><circle cx="142.5" cy="282" r="1.5"/><circle cx="129" cy="300" r="1.9"/><circle cx="147" cy="304" r="1.5"/><circle cx="173.6" cy="277.5" r="1.5"/><circle cx="181" cy="349" r="1.5"/><circle cx="154.5" cy="388.5" r="1.9"/><circle cx="167" cy="403" r="1.5"/><circle cx="79.5" cy="357" r="1.9"/><circle cx="190" cy="303" r="3"/><circle cx="218" cy="303" r="2"/><circle cx="239" cy="299" r="2"/><circle cx="228" cy="330" r="5"/><circle cx="229" cy="335" r="6"/><circle cx="228" cy="327" r="3"/><circle cx="232" cy="338" r="2"/><circle cx="222" cy="350" r="1.6"/><circle cx="230" cy="350" r="3"/><circle cx="227" cy="343" r="2"/><circle cx="259" cy="342" r="3"/><circle cx="246" cy="343" r="2.4"/><circle cx="262" cy="341" r="2"/><circle cx="256" cy="362" r="9"/><circle cx="250" cy="358" r="4"/><circle cx="252" cy="366" r="4"/><circle cx="260" cy="370" r="3"/><circle cx="262" cy="372" r="3.6"/><circle cx="274" cy="354" r="2.4"/><circle cx="277" cy="359" r="2"/><circle cx="284" cy="366" r="3"/><circle cx="268" cy="367" r="1.6"/><circle cx="272" cy="368" r="1.6"/><circle cx="221" cy="372" r="4"/><circle cx="204" cy="379" r="3"/><circle cx="234" cy="380" r="6"/><circle cx="246" cy="386" r="5"/><circle cx="248" cy="386" r="6"/><circle cx="238" cy="376" r="2.4"/><circle cx="226" cy="384" r="4"/><circle cx="222" cy="388" r="3"/><circle cx="216" cy="394" r="3.6"/><circle cx="208" cy="394" r="3"/><circle cx="230" cy="398" r="6"/><circle cx="218" cy="402" r="6"/><circle cx="220" cy="408" r="4"/><circle cx="212" cy="408" r="3"/><circle cx="224" cy="412" r="3"/><circle cx="228" cy="414" r="2"/><circle cx="198" cy="388" r="4"/><circle cx="196" cy="390" r="2"/><circle cx="252" cy="394" r="2.4"/><circle cx="262" cy="392" r="2"/><circle cx="274" cy="407" r="3"/><circle cx="280" cy="414" r="1.6"/><circle cx="260" cy="410" r="2.4"/><circle cx="246" cy="412" r="1.6"/><circle cx="252" cy="420" r="1.6"/><circle cx="234" cy="418" r="1.6"/><circle cx="210" cy="420" r="1.6"/><circle cx="244" cy="434" r="2.4"/><circle cx="238" cy="445" r="3.6"/><circle cx="260" cy="442" r="2.4"/><circle cx="273" cy="433" r="1.6"/><circle cx="322" cy="431" r="2"/><circle cx="318" cy="439" r="1.6"/><circle cx="185" cy="422" r="2"/><circle cx="209" cy="451" r="1.6"/><circle cx="274" cy="407.5" r="3"/><circle cx="238" cy="445" r="3.8"/><circle cx="242" cy="434" r="2.2"/><circle cx="252" cy="421" r="1.9"/><circle cx="259" cy="411" r="1.9"/><circle cx="274" cy="460" r="1.9"/><circle cx="300.6" cy="458" r="2.2"/><circle cx="297" cy="469" r="1.5"/><circle cx="240.6" cy="477" r="3.8"/><circle cx="218" cy="482.5" r="2.2"/><circle cx="224" cy="482" r="2.2"/><circle cx="210.6" cy="462" r="1.9"/><circle cx="254" cy="495.6" r="1.9"/><circle cx="272.5" cy="503" r="3.8"/><circle cx="295" cy="504" r="3.4"/><circle cx="265" cy="509" r="1.9"/><circle cx="227.5" cy="512" r="1.9"/><circle cx="246" cy="507" r="1.5"/><circle cx="310" cy="494" r="1.5"/><circle cx="335.5" cy="477" r="1.9"/><circle cx="336" cy="498" r="3"/><circle cx="319" cy="437" r="1.5"/><circle cx="287" cy="415" r="1.5"/><circle cx="229" cy="540.6" r="2.2"/><circle cx="239" cy="533" r="1.5"/><circle cx="228" cy="569" r="1.9"/><circle cx="237" cy="602.5" r="6.8"/><circle cx="233" cy="608" r="3"/><circle cx="228" cy="610" r="2.2"/><circle cx="229" cy="617" r="1.9"/><circle cx="242" cy="625" r="1.9"/><circle cx="251" cy="643" r="1.9"/><circle cx="242.5" cy="655" r="2.2"/><circle cx="254" cy="669" r="2.2"/><circle cx="267" cy="666" r="2.2"/><circle cx="278" cy="660.6" r="3"/><circle cx="207" cy="591" r="3"/><circle cx="219" cy="572.5" r="1.9"/><circle cx="180.6" cy="670" r="2.5"/><circle cx="183.6" cy="657" r="3"/><circle cx="179" cy="655" r="2"/><circle cx="188" cy="656" r="2.2"/><circle cx="195.6" cy="634" r="1.9"/><circle cx="160" cy="595" r="1.5"/><circle cx="117" cy="625" r="1.5"/><circle cx="250.8" cy="642.7" r="2.4"/><circle cx="243" cy="654" r="2.4"/><circle cx="232.2" cy="652" r="1.4"/><circle cx="260" cy="666" r="1.4"/><circle cx="268" cy="667.3" r="2.4"/><circle cx="253" cy="669.5" r="2.2"/><circle cx="243" cy="672.4" r="2.2"/><circle cx="247" cy="686" r="1.4"/><circle cx="245.8" cy="693" r="2.2"/><circle cx="262.8" cy="690" r="1.1"/><circle cx="251.6" cy="713.3" r="2.2"/><circle cx="258" cy="719.7" r="1.4"/><circle cx="252.3" cy="724" r="2.9"/><circle cx="258" cy="734.8" r="2.4"/><circle cx="263" cy="750.6" r="2.9"/><circle cx="123.8" cy="658.3" r="2"/><circle cx="150.4" cy="678.8" r="2"/><circle cx="181" cy="655" r="3"/><circle cx="134" cy="622.5" r="1.6"/><circle cx="115.6" cy="623.5" r="2"/><circle cx="160.7" cy="594.8" r="1.6"/><circle cx="195.5" cy="633.7" r="2"/><circle cx="142" cy="569" r="1.6"/><circle cx="139" cy="524" r="1.6"/><circle cx="130" cy="478" r="2"/><circle cx="131" cy="494" r="1.6"/><circle cx="165" cy="470" r="1.6"/><circle cx="140" cy="510" r="1.6"/><circle cx="70" cy="352.5" r="1.5"/><circle cx="80" cy="357" r="1.9"/><circle cx="69.5" cy="445.5" r="2.6"/><circle cx="64" cy="480" r="2.2"/><circle cx="93" cy="527" r="4.5"/><circle cx="21" cy="481.5" r="4.5"/><circle cx="48" cy="457.5" r="5"/><circle cx="46.5" cy="511.5" r="4"/><circle cx="69" cy="446" r="3"/><circle cx="64.5" cy="481" r="3"/><circle cx="85" cy="545" r="3.5"/><circle cx="80" cy="548" r="2.5"/><circle cx="75" cy="553" r="2"/><circle cx="78" cy="560" r="2"/><circle cx="95" cy="550" r="2"/><circle cx="96" cy="560" r="2"/><circle cx="72" cy="565" r="2"/><circle cx="88" cy="568" r="2"/><circle cx="98" cy="577" r="2"/><circle cx="102" cy="588" r="2"/><circle cx="108" cy="600" r="2"/><circle cx="57" cy="520" r="4"/><circle cx="66" cy="522" r="3"/><circle cx="84" cy="530" r="3.5"/><circle cx="88" cy="534" r="3"/></g>
<text x="319" y="156" class="cty" textLength="53" lengthAdjust="spacingAndGlyphs">CHINA</text>
<text x="38.6" y="249" class="cty" textLength="47" lengthAdjust="spacingAndGlyphs">INDIA</text>
<text x="276" y="587.5" class="cty" textLength="85" lengthAdjust="spacingAndGlyphs">THAILAND</text>
<text x="214.5" y="246" class="st">Kachin</text>
<text x="127.5" y="319.5" class="st">Sagaing</text>
<text x="65.6" y="416" class="st">Chin</text>
<text x="167.5" y="436" class="st">Mandalay</text>
<text x="264" y="444" class="st">Shan</text>
<text x="94" y="487" class="st">Magway</text>
<text x="161" y="520" class="st">Nay Pyi</text>
<text x="171" y="535" class="st">Taw</text>
<text x="81" y="548" class="st">Rakhine</text>
<text x="213" y="554" class="st">Kayah</text>
<text x="174" y="602" class="st">Bago</text>
<text x="234.5" y="636" class="st">Kayin</text>
<text x="107" y="649" class="st">Ayeyarwady</text>
<text x="237.6" y="707" class="st">Mon</text>
<text x="272.5" y="843" class="st">Tanintharyi</text>
<g font-family="'Liberation Sans', sans-serif">
<rect x="8.5" y="127.5" width="194" height="20.5" fill="#fff" stroke="#d6d6d6" stroke-width="1"/>
<rect x="12.8" y="131.8" width="12.5" height="12" fill="#c6e2f0" stroke="#7b8c99" stroke-width="1"/>
<text x="31" y="144" font-size="15.5" fill="#222" textLength="157.5" lengthAdjust="spacingAndGlyphs">Bamar-majority region</text>
</g>
</g>
<g clip-path="url(#crp)">
<g transform="translate(400,0)">
<rect x="0" y="120" width="400" height="856" fill="#fff"/>
<path d="M0.0,390.0 L4.0,400.0 L5.0,440.0 L10.0,452.0 L14.0,458.0 L17.0,466.0 L40.0,485.0 L80.0,520.0 L110.0,560.0 L150.0,600.0 L210.0,640.0 L240.0,660.0 L266.0,733.3 L269.0,751.0 L284.0,762.0 L299.0,773.5 L302.0,780.0 L306.0,792.0 L307.2,810.0 L304.2,814.0 L305.2,820.0 L310.2,836.0 L316.2,846.0 L319.2,856.0 L322.2,862.0 L326.3,872.4 L324.3,876.4 L319.2,880.4 L312.2,892.4 L304.2,902.5 L296.1,912.5 L290.1,918.6 L291.1,924.6 L286.1,938.6 L282.1,948.7 L278.1,950.7 L280.0,975.0 L0.0,975.0Z" fill="#ddedfa"/>
<path d="M340.3,802.0 L348.4,800.0 L378.5,801.0 L380.5,806.0 L376.5,820.0 L376.5,832.0 L380.5,836.0 L392.5,836.0 L400.0,836.0 L400.0,975.0 L308.0,975.0 L308.2,968.8 L307.2,954.7 L308.2,940.6 L310.2,928.6 L316.2,916.5 L320.2,904.5 L322.2,896.5 L326.3,884.4 L332.3,866.0 L334.3,856.0 L336.3,840.0 L342.3,826.0 L340.3,816.0Z" fill="#ddedfa"/>
<path d="M15.0,386.0 L17.0,392.0 L19.0,398.0 L21.0,404.0" fill="none" stroke="#d9e9f7" stroke-width="3.8" stroke-linecap="round" stroke-linejoin="round"/>
<path d="M18.0,384.0 L20.0,390.0" fill="none" stroke="#d9e9f7" stroke-width="3.8" stroke-linecap="round" stroke-linejoin="round"/>
<path d="M0.0,238.0 L4.5,237.0 L22.5,228.0 L45.0,219.0 L67.5,214.0 L85.6,207.6 L99.0,198.6 L112.6,191.8 L126.0,182.8 L139.6,173.8 L153.0,164.8 L162.0,155.8 L163.0,148.0" fill="none" stroke="#d9e9f7" stroke-width="3.8" stroke-linecap="round" stroke-linejoin="round"/>
<path d="M160.0,168.0 L175.0,165.0 L186.0,162.0 L196.0,158.0" fill="none" stroke="#d9e9f7" stroke-width="3.8" stroke-linecap="round" stroke-linejoin="round"/>
<path d="M0.0,171.0 L4.0,171.0 L19.0,164.0 L23.0,167.5 L29.0,167.5 L40.0,159.0 L39.0,150.6 L47.0,149.0 L60.0,146.0 L71.0,127.5 L82.5,125.6 L86.0,122.0" fill="none" stroke="#111" stroke-width="1.1" stroke-linejoin="round"/>
<path d="M0.0,182.0 L12.0,182.0 L15.0,190.0 L12.0,192.5 L12.5,200.0 L15.6,209.0 L37.5,203.0 L51.0,207.5 L77.5,206.0 L85.0,200.0 L90.0,188.0 L102.0,180.0 L104.0,176.0 L114.0,176.0 L130.0,168.0 L142.0,162.0 L146.0,160.0 L150.0,152.0 L157.5,148.0 L165.0,146.0 L180.0,148.0 L188.0,150.0 L194.0,154.0 L200.0,158.0 L210.0,164.0 L218.0,168.0" fill="none" stroke="#111" stroke-width="1.1" stroke-linejoin="round"/>
<path d="M198.0,123.0 L202.0,126.0 L210.0,138.0 L218.0,141.0 L228.0,146.0 L230.0,148.0" fill="none" stroke="#111" stroke-width="1.1" stroke-linejoin="round"/>
<path d="M0.0,288.4 L4.5,288.4 L13.5,287.2 L29.3,298.5 L30.5,302.0 L22.6,302.0 L21.4,308.7 L15.8,322.2 L6.8,325.6 L5.6,335.8" fill="none" stroke="#111" stroke-width="1.1" stroke-linejoin="round"/>
<path d="M0.0,369.6 L4.5,369.6 L9.0,367.4 L9.0,355.0 L13.5,356.0 L17.0,353.8 L20.3,356.0 L22.6,355.0 L23.7,367.4 L27.0,376.4 L28.2,390.0 L31.6,394.5 L33.9,408.0 L36.1,430.6 L36.9,453.0 L36.9,462.0 L35.3,464.0 L33.8,459.4 L27.0,459.0 L25.0,455.0" fill="none" stroke="#111" stroke-width="1.1" stroke-linejoin="round"/>
<path d="M386.0,441.5 L389.7,450.0 L387.5,455.9 L394.0,468.8 L400.0,472.0" fill="none" stroke="#111" stroke-width="1.1" stroke-linejoin="round"/>
<path d="M344.5,506.0 L346.0,508.0 L350.0,502.5 L354.5,503.2 L358.8,509.0 L363.0,512.0 L363.8,520.4 L357.4,529.0 L358.8,534.8 L361.7,539.0 L366.0,542.0 L371.7,539.0 L377.5,537.0 L391.8,539.0 L390.4,544.8 L391.8,555.0 L393.0,560.0 L389.0,575.0 L385.0,590.0 L389.0,600.0 L385.0,612.0 L381.0,625.0 L392.0,629.0 L400.0,632.0" fill="none" stroke="#111" stroke-width="1.1" stroke-linejoin="round"/>
<path d="M240.0,133.0 L246.0,135.0 L249.0,141.0 L254.0,143.0 L260.0,150.0 L264.0,153.0 L265.0,165.0 L270.0,178.0 L273.0,180.0 L276.0,174.0 L286.0,179.0 L287.5,190.0 L289.0,200.0 L287.5,205.0 L290.0,215.0 L289.0,225.0 L286.0,230.0 L287.5,237.5 L284.0,245.0 L282.5,247.5 L286.0,256.0 L280.0,259.0 L272.5,262.5 L266.0,270.0 L261.0,270.0 L255.0,280.0 L252.5,285.0 L247.5,290.0 L247.0,302.0 L239.0,306.0 L239.0,322.0 L244.0,326.0 L245.0,334.0 L240.0,344.0 L246.0,342.0 L256.0,338.0 L264.0,337.0 L274.0,336.0 L282.0,337.0 L293.0,335.0 L294.0,339.0 L286.0,342.0 L287.0,350.0 L292.0,354.0 L293.0,366.0 L295.0,376.0 L300.0,380.0 L312.0,382.0 L320.0,386.0 L322.0,390.0 L318.0,392.0 L314.0,398.0 L312.0,408.0 L306.0,416.0 L306.5,425.0 L311.5,427.0 L325.8,427.0 L328.0,429.3 L338.7,429.3 L338.7,443.0 L343.0,445.8 L346.6,446.5 L346.0,451.6 L348.8,454.4 L358.0,452.3 L360.0,455.0 L367.4,453.7 L374.6,447.3 L380.3,443.7 L386.0,441.5 L387.5,448.7 L384.6,454.4 L379.0,460.0 L374.6,462.3 L370.3,462.3 L368.9,468.0 L363.0,474.5 L361.7,480.3 L367.4,481.7 L363.8,483.0 L356.0,484.0 L351.6,486.0 L348.8,493.0 L346.0,503.0 L344.5,506.0 L341.6,501.8 L336.6,500.3 L334.4,502.5 L331.6,506.0 L323.0,507.5 L321.5,504.0 L318.7,503.2 L320.0,512.0 L312.0,514.6 L303.0,515.3 L300.6,525.3 L297.6,530.7 L290.7,528.4 L281.4,533.8 L276.8,532.2 L266.0,533.0 L260.0,528.4 L258.4,532.2 L253.0,536.0 L252.3,539.2 L250.0,546.0 L250.7,554.5 L250.7,561.4 L245.3,566.0 L247.6,573.0 L247.6,582.2 L241.5,583.7 L236.9,585.2 L239.2,593.0 L243.0,594.5 L244.6,600.6 L243.8,606.7 L247.6,614.4 L254.4,625.7 L264.5,637.2 L270.2,644.4 L271.6,648.7 L278.8,654.4 L278.8,663.0 L281.7,667.3 L286.0,674.5 L286.0,680.3 L291.7,676.0 L296.0,678.8 L291.7,687.4 L281.7,691.0 L281.0,697.5 L281.7,706.0 L281.7,720.4 L276.0,721.9 L273.0,719.0 L268.8,724.7 L266.0,727.0 L266.0,733.3 L269.0,751.0 L284.0,762.0 L299.0,773.5 L302.0,780.0 L306.0,792.0 L307.2,810.0 L304.2,814.0 L305.2,820.0 L310.2,836.0 L316.2,846.0 L319.2,856.0 L322.2,862.0 L326.3,872.4 L324.3,876.4 L319.2,880.4 L312.2,892.4 L304.2,902.5 L296.1,912.5 L290.1,918.6 L291.1,924.6 L286.1,938.6 L282.1,948.7 L278.1,950.7 L279.0,940.0 L278.0,925.0 L279.0,910.0 L280.0,900.0 L282.0,880.0 L286.0,864.0 L284.0,850.0 L280.0,840.0 L274.0,820.0 L268.0,800.0 L264.0,786.0 L259.0,772.0 L255.0,760.0 L252.0,745.0 L250.5,736.0 L249.0,720.0 L246.0,706.0 L243.0,692.0 L241.0,682.0 L236.0,674.0 L233.0,671.8 L227.5,666.0 L224.6,660.3 L218.9,650.3 L213.0,644.6 L210.3,651.7 L208.8,657.5 L204.5,663.2 L197.3,669.0 L190.0,671.8 L185.9,674.7 L178.7,679.0 L173.0,681.9 L165.8,687.6 L158.6,694.8 L152.9,702.0 L150.0,704.8 L144.0,706.5 L138.0,704.4 L121.7,700.0 L109.4,700.0 L103.0,694.0 L102.0,682.0 L105.0,667.5 L109.4,655.0 L111.5,643.0 L115.6,630.6 L111.5,616.0 L106.0,598.0 L100.0,581.0 L96.0,567.0 L92.0,552.0 L86.0,538.0 L80.0,526.0 L70.0,519.0 L60.0,516.0 L48.0,512.0 L36.0,504.0 L27.0,494.0 L21.0,482.0 L18.0,472.0 L17.0,466.0 L25.0,455.0 L30.0,459.0 L35.0,462.0 L36.5,446.0 L35.5,431.0 L38.5,425.8 L41.3,423.5 L46.9,429.2 L48.0,431.4 L52.5,428.0 L53.7,422.4 L58.2,419.0 L55.9,407.7 L56.5,395.4 L57.0,384.1 L62.7,385.2 L67.2,381.8 L66.0,367.2 L68.3,357.0 L67.2,348.0 L64.9,337.9 L68.9,337.9 L72.3,344.1 L81.8,341.3 L84.1,344.6 L88.6,344.1 L97.6,347.5 L99.5,347.5 L103.0,334.0 L107.0,324.0 L110.6,315.0 L116.0,300.0 L120.0,292.5 L118.0,285.0 L120.0,277.5 L129.0,262.5 L135.0,247.5 L138.0,231.0 L140.0,224.0 L147.0,218.0 L154.0,214.0 L160.0,208.0 L170.0,200.0 L176.0,194.0 L182.0,190.0 L198.0,188.0 L204.0,188.0 L210.0,194.0 L218.0,198.0 L222.0,200.0 L218.0,190.0 L214.0,184.0 L212.0,178.0 L214.0,174.0 L220.0,168.0 L230.0,162.0 L232.0,158.0 L230.0,150.0 L232.0,146.0 L234.0,142.0 L238.0,134.0Z" fill="#f5fbf2"/>
<path d="M74.0,541.0 L80.0,538.0 L86.0,542.0 L92.0,548.0 L96.0,556.0 L94.0,562.0 L88.0,563.0 L82.0,559.0 L77.0,552.0 L73.0,546.0Z" fill="#f5fbf2"/>
<path d="M73.0,567.0 L78.0,565.0 L83.0,568.0 L82.0,574.0 L77.0,576.0 L73.0,573.0Z" fill="#f5fbf2"/>
<path d="M48.5,800.0 L51.0,803.0 L50.5,812.0 L50.0,820.0 L47.0,826.0 L42.0,833.0 L38.0,831.0 L41.0,824.0 L44.0,815.0 L46.0,806.0Z" fill="#f7faf7"/>
<path d="M182.0,190.0 L198.0,188.0 L204.0,188.0 L210.0,194.0 L218.0,198.0 L222.0,200.0 L210.0,202.0 L190.0,204.0 L184.0,208.0 L182.0,216.0 L178.0,220.0 L176.0,226.0 L180.0,232.5 L176.0,247.5 L174.0,262.5 L176.0,270.0 L172.5,277.5 L176.6,290.0 L177.5,295.5 L168.3,298.3 L171.0,306.6 L178.5,315.8 L187.7,317.7 L198.7,321.4 L199.7,327.0 L200.6,334.3 L193.2,339.8 L197.0,341.7 L195.0,351.0 L191.4,358.3 L185.0,365.0 L184.0,368.5 L182.2,379.5 L184.0,387.0 L197.0,388.7 L200.7,387.0 L202.5,392.4 L193.3,396.0 L184.0,398.0 L186.0,405.3 L189.6,412.7 L193.3,423.8 L195.2,433.0 L204.4,436.7 L211.8,440.4 L204.4,446.0 L193.3,449.6 L186.0,453.3 L184.0,460.7 L187.8,470.0 L193.3,477.3 L193.3,488.4 L197.0,495.8 L195.2,505.0 L197.0,510.5 L197.5,524.0 L201.0,533.0 L194.0,541.0 L196.0,550.0 L198.0,565.0 L203.0,567.0 L201.5,577.0 L214.8,580.0 L218.0,588.0 L221.7,595.8 L223.0,603.0 L224.6,616.0 L224.6,626.0 L220.3,628.8 L213.0,624.5 L211.7,627.3 L212.4,640.3 L213.0,644.6 L210.3,651.7 L208.8,657.5 L204.5,663.2 L197.3,669.0 L190.0,671.8 L185.9,674.7 L178.7,679.0 L173.0,681.9 L165.8,687.6 L158.6,694.8 L152.9,702.0 L150.0,704.8 L144.0,706.5 L138.0,704.4 L121.7,700.0 L109.4,700.0 L103.0,694.0 L102.0,682.0 L105.0,667.5 L109.4,655.0 L111.5,643.0 L115.6,630.6 L120.7,634.8 L123.8,633.7 L125.8,622.5 L126.8,614.0 L129.0,606.0 L126.8,587.6 L120.7,579.4 L122.7,573.0 L121.7,564.0 L115.0,555.0 L112.5,547.5 L106.0,535.0 L104.0,524.0 L100.0,511.0 L95.0,500.0 L87.5,493.0 L87.0,488.0 L90.0,488.0 L94.6,479.0 L95.5,470.0 L94.0,453.0 L92.5,440.0 L92.5,425.8 L93.1,408.9 L92.5,397.6 L91.4,386.3 L92.0,375.0 L93.1,367.2 L93.7,362.7 L97.6,358.2 L98.7,349.2 L99.5,347.5 L103.0,334.0 L107.0,324.0 L110.6,315.0 L116.0,300.0 L120.0,292.5 L118.0,285.0 L120.0,277.5 L129.0,262.5 L135.0,247.5 L138.0,231.0 L140.0,224.0 L147.0,218.0 L154.0,214.0 L160.0,208.0 L170.0,200.0 L176.0,194.0Z" fill="#c6e2f0" stroke="#2e4150" stroke-width="1.1" stroke-linejoin="round"/>
<path d="M250.8,733.0 L254.4,732.0 L258.7,733.3 L263.0,736.2 L266.0,734.8 L269.0,751.0 L284.0,762.0 L299.0,773.5 L302.0,780.0 L306.0,792.0 L307.2,810.0 L304.2,814.0 L305.2,820.0 L310.2,836.0 L316.2,846.0 L319.2,856.0 L322.2,862.0 L326.3,872.4 L324.3,876.4 L319.2,880.4 L312.2,892.4 L304.2,902.5 L296.1,912.5 L290.1,918.6 L291.1,924.6 L286.1,938.6 L282.1,948.7 L278.1,950.7 L279.0,940.0 L278.0,925.0 L279.0,910.0 L280.0,900.0 L282.0,880.0 L286.0,864.0 L284.0,850.0 L280.0,840.0 L274.0,820.0 L268.0,800.0 L264.0,786.0 L259.0,772.0 L255.0,760.0 L252.0,745.0 L250.5,736.0Z" fill="#c6e2f0" stroke="#2e4150" stroke-width="1.1" stroke-linejoin="round"/>
<path d="M113.0,697.0 L118.0,690.0 L121.0,683.0 L122.0,675.0 L123.0,665.0 L122.0,657.0" fill="none" stroke="#71869a" stroke-width="0.7"/>
<path d="M122.0,700.0 L126.0,692.0 L131.0,685.0 L134.0,680.0" fill="none" stroke="#71869a" stroke-width="0.7"/>
<path d="M128.0,703.0 L131.0,695.0 L136.0,688.0 L140.0,682.0" fill="none" stroke="#71869a" stroke-width="0.7"/>
<path d="M135.0,704.0 L138.0,697.0 L140.0,690.0 L143.0,684.0" fill="none" stroke="#71869a" stroke-width="0.7"/>
<path d="M144.0,706.0 L146.0,698.0 L149.0,690.0 L151.0,683.0" fill="none" stroke="#71869a" stroke-width="0.7"/>
<path d="M150.0,703.0 L150.0,695.0 L151.0,688.0 L151.0,680.0" fill="none" stroke="#71869a" stroke-width="0.7"/>
<path d="M165.0,689.0 L169.0,684.0 L172.0,676.0" fill="none" stroke="#71869a" stroke-width="0.7"/>
<path d="M105.0,690.0 L110.0,686.0 L114.0,680.0" fill="none" stroke="#71869a" stroke-width="0.7"/>
<path d="M182.0,667.0 L185.0,662.0 L189.0,658.0 L193.0,659.0" fill="none" stroke="#71869a" stroke-width="0.7"/>
<path d="M176.0,678.0 L178.0,672.0 L182.0,670.0" fill="none" stroke="#71869a" stroke-width="0.7"/>
<path d="M273.3,873.3 L273.4,877.4 L271.9,878.0 L270.6,876.9 L270.6,873.3 L270.8,870.0 L271.9,869.6 L273.1,869.8Z M277.3,944.2 L275.8,946.4 L274.3,946.9 L272.3,947.1 L272.3,944.2 L272.7,942.0 L274.3,940.9 L275.7,942.3Z M269.9,875.2 L269.1,878.9 L267.2,878.5 L266.5,875.2 L266.9,870.6 L269.3,870.6Z M278.3,936.1 L278.2,938.9 L276.3,938.6 L275.1,937.2 L274.8,934.8 L276.3,933.7 L277.6,934.3Z M262.4,911.0 L261.2,914.6 L259.3,914.4 L259.2,907.2 L261.3,906.7Z M259.3,814.1 L258.5,815.1 L257.3,815.4 L255.3,815.7 L255.5,814.1 L255.6,812.8 L257.3,812.4 L258.6,813.1Z M259.0,918.6 L258.8,920.4 L258.2,922.6 L257.4,921.2 L257.3,918.6 L257.3,915.9 L258.2,916.1 L258.8,916.6Z M275.3,938.4 L274.7,939.7 L273.8,939.6 L273.7,937.0 L274.8,936.7Z M255.4,812.0 L254.9,813.9 L254.2,814.6 L253.7,812.0 L254.3,810.2 L254.9,809.8Z M265.9,901.6 L265.4,904.0 L262.3,904.3 L262.0,901.6 L262.3,899.0 L265.5,899.0Z M268.3,897.8 L267.8,901.6 L266.8,899.6 L266.8,895.9 L267.9,893.6Z M271.7,879.5 L271.0,882.9 L270.1,880.9 L270.0,878.0 L271.0,875.5Z M257.5,921.3 L257.3,922.4 L256.2,923.0 L255.3,922.2 L254.7,921.3 L254.7,919.9 L256.2,919.2 L257.5,920.1Z M274.7,912.0 L273.6,916.0 L271.8,915.8 L271.3,912.0 L271.6,907.3 L273.4,908.8Z M259.8,810.9 L258.5,812.6 L255.0,812.7 L253.5,810.9 L255.2,809.3 L258.6,809.2Z M267.8,948.2 L267.5,952.3 L265.3,954.3 L263.3,951.8 L262.4,948.2 L263.5,945.1 L265.3,943.1 L267.3,944.5Z M266.5,813.0 L266.0,816.9 L263.5,817.4 L261.8,814.8 L261.2,810.7 L263.6,810.0 L266.0,809.1Z M263.8,804.8 L263.9,809.2 L263.2,810.6 L262.7,808.5 L262.3,804.8 L262.7,801.5 L263.2,800.8 L263.8,800.9Z M280.8,884.0 L279.3,886.2 L277.6,887.4 L276.6,885.1 L276.3,882.7 L277.5,880.3 L279.8,880.8Z M267.4,942.6 L267.2,944.5 L266.1,943.9 L265.6,943.2 L264.9,941.5 L266.0,940.4 L266.8,941.5Z M285.3,876.4 L284.9,879.2 L283.6,880.6 L282.4,879.0 L282.3,876.4 L282.3,873.4 L283.6,873.4 L284.8,873.7Z M263.9,909.9 L263.6,912.6 L262.7,914.2 L262.1,911.2 L261.5,907.5 L262.7,906.2 L263.7,907.2Z M264.9,807.6 L264.5,809.9 L263.8,810.1 L263.3,809.6 L262.7,807.6 L263.3,805.5 L263.8,803.6 L264.6,804.7Z M256.6,886.6 L255.8,889.1 L254.5,889.2 L253.6,886.6 L254.5,884.4 L255.9,883.8Z M257.9,946.8 L257.7,949.7 L256.8,949.7 L256.1,949.2 L255.5,946.8 L255.9,944.1 L256.8,942.7 L257.5,944.6Z M262.1,905.5 L261.0,911.8 L259.6,908.5 L259.4,902.0 L260.9,901.3Z M283.0,947.4 L282.5,948.5 L281.0,948.7 L279.3,948.3 L280.1,946.9 L280.9,945.6 L282.5,946.3Z M263.9,805.7 L262.6,810.4 L260.8,810.9 L260.1,805.7 L260.6,799.8 L262.6,800.8Z M280.4,911.6 L279.7,913.6 L278.3,914.2 L276.6,913.8 L276.3,911.6 L277.1,910.1 L278.3,909.3 L279.9,909.4Z M263.6,945.9 L261.8,948.3 L259.2,949.0 L257.8,945.9 L259.2,942.7 L261.6,943.8Z M271.9,957.0 L271.5,959.8 L270.5,961.2 L268.8,961.9 L268.7,957.0 L268.8,952.2 L270.5,950.6 L271.8,953.5Z M262.9,839.9 L261.9,843.5 L260.5,843.9 L259.7,841.5 L259.2,837.7 L260.4,834.1 L261.6,837.2Z M255.6,926.2 L255.3,927.6 L254.3,927.2 L253.7,926.2 L254.2,925.0 L255.3,925.0Z M275.5,938.0 L275.2,942.6 L272.6,943.2 L271.5,938.0 L272.8,933.7 L275.3,932.7Z M264.2,886.5 L262.0,889.2 L259.5,890.4 L257.9,886.5 L259.4,882.3 L262.1,883.6Z M285.3,851.0 L285.0,853.4 L282.6,852.4 L281.8,851.0 L282.4,849.3 L284.7,849.3Z M272.8,952.5 L271.8,954.9 L270.8,956.0 L270.3,952.5 L270.7,948.4 L271.9,949.4Z M275.7,914.2 L275.1,916.5 L274.0,917.1 L273.2,915.4 L272.6,912.3 L273.9,910.1 L275.5,910.8Z M255.0,823.7 L254.7,825.7 L253.5,825.6 L253.2,823.7 L253.4,821.8 L254.5,822.5Z M260.6,815.7 L259.5,817.1 L258.6,819.2 L257.0,818.4 L257.2,815.7 L257.3,813.5 L258.6,812.1 L259.8,813.6Z M255.4,831.6 L254.2,833.6 L252.2,832.9 L252.1,830.3 L254.1,829.9Z M266.0,830.9 L264.6,833.1 L262.2,833.7 L260.2,832.2 L260.8,830.0 L262.2,828.0 L264.8,828.6Z M279.7,912.6 L279.3,915.9 L277.8,916.2 L277.5,912.6 L277.8,909.2 L279.4,908.5Z M262.9,901.1 L262.4,904.3 L261.1,904.7 L259.7,903.4 L260.0,899.2 L261.1,896.6 L262.5,897.4Z M256.9,958.8 L255.2,960.4 L253.2,959.9 L253.0,957.5 L255.3,957.1Z" fill="#d3e7f5" stroke="#8797a5" stroke-width="0.5"/>
<path d="M200.6,334.3 L206.0,336.0 L204.0,341.7 L208.0,352.7 L215.0,356.4 L224.6,354.6 L233.8,352.7 L240.0,344.0" fill="none" stroke="#262626" stroke-width="1.2" stroke-linejoin="round"/>
<path d="M36.0,445.0 L45.0,465.0 L55.0,478.0 L62.0,484.0 L75.0,486.6 L77.0,481.0 L80.6,480.0 L86.0,484.7 L87.0,488.0" fill="none" stroke="#262626" stroke-width="1.2" stroke-linejoin="round"/>
<path d="M92.5,397.6 L97.6,397.0 L102.1,403.2 L103.2,415.6 L104.4,423.5 L110.0,427.0 L110.3,439.5 L119.5,436.7 L138.0,438.6 L141.7,440.4 L147.2,449.6" fill="none" stroke="#2e4150" stroke-width="1.2" stroke-linejoin="round"/>
<path d="M147.2,449.6 L152.7,438.6 L158.3,435.0 L165.6,435.0 L175.0,425.6 L175.0,420.0 L172.0,403.5 L173.0,394.3 L171.0,368.5 L176.7,363.0 L180.4,358.3 L186.0,359.0 L191.4,358.3" fill="none" stroke="#2e4150" stroke-width="1.2" stroke-linejoin="round"/>
<path d="M147.2,449.6 L149.0,455.0 L138.0,462.5 L127.0,468.0 L126.0,479.0 L134.3,490.0 L136.0,495.8 L154.6,486.5 L160.0,495.8 L163.8,505.0 L171.0,508.7 L184.0,506.8 L197.0,510.5" fill="none" stroke="#2e4150" stroke-width="1.2" stroke-linejoin="round"/>
<path d="M121.7,564.0 L136.0,569.0 L146.3,561.0 L152.5,557.0 L164.8,557.0 L169.0,550.7 L167.5,542.5" fill="none" stroke="#2e4150" stroke-width="1.2" stroke-linejoin="round"/>
<path d="M163.8,505.0 L164.0,509.0 L167.5,520.0 L165.6,531.0 L167.5,542.5 L186.0,544.0 L197.5,542.5 L201.0,535.0" fill="none" stroke="#2e4150" stroke-width="1.2" stroke-linejoin="round"/>
<path d="M126.8,587.6 L138.0,585.6 L140.0,587.6 L148.4,591.7 L150.4,602.0 L152.5,618.0 L162.7,626.6 L164.3,628.8 L177.0,619.0 L181.0,618.0 L185.0,630.6 L189.0,643.0 L191.4,651.0 L199.6,651.0 L208.8,656.0" fill="none" stroke="#2e4150" stroke-width="1.2" stroke-linejoin="round"/>
<path d="M162.7,626.6 L160.0,634.5 L168.0,645.0 L170.0,649.0 L168.7,660.3 L168.7,671.8 L174.4,677.6" fill="none" stroke="#2e4150" stroke-width="1.2" stroke-linejoin="round"/>
<path d="M211.0,541.0 L217.5,536.0 L222.5,531.0 L222.5,521.0 L225.0,524.0 L232.5,522.0 L240.0,530.0 L241.0,534.0 L250.0,535.0 L252.5,537.5" fill="none" stroke="#262626" stroke-width="1.2" stroke-linejoin="round"/>
<path d="M211.0,541.0 L211.0,551.0 L215.0,564.0 L221.0,576.0 L231.0,582.5 L240.0,585.0" fill="none" stroke="#262626" stroke-width="1.2" stroke-linejoin="round"/>
<path d="M201.0,542.0 L211.0,551.0" fill="none" stroke="#262626" stroke-width="1.2" stroke-linejoin="round"/>
<path d="M266.0,727.0 L263.0,724.7 L254.4,707.5 L250.0,697.5 L250.0,688.9 L263.0,687.4 L263.0,684.6 L254.4,673.0 L245.8,668.8 L238.7,657.3 L235.8,648.7 L235.8,638.7 L234.3,634.3 L224.3,627.0 L220.3,628.8" fill="none" stroke="#262626" stroke-width="1.2" stroke-linejoin="round"/>
<path d="M250.8,733.0 L266.0,729.0" fill="none" stroke="#262626" stroke-width="1.2" stroke-linejoin="round"/>
<path d="M240.0,133.0 L246.0,135.0 L249.0,141.0 L254.0,143.0 L260.0,150.0 L264.0,153.0 L265.0,165.0 L270.0,178.0 L273.0,180.0 L276.0,174.0 L286.0,179.0 L287.5,190.0 L289.0,200.0 L287.5,205.0 L290.0,215.0 L289.0,225.0 L286.0,230.0 L287.5,237.5 L284.0,245.0 L282.5,247.5 L286.0,256.0 L280.0,259.0 L272.5,262.5 L266.0,270.0 L261.0,270.0 L255.0,280.0 L252.5,285.0 L247.5,290.0 L247.0,302.0 L239.0,306.0 L239.0,322.0 L244.0,326.0 L245.0,334.0 L240.0,344.0 L246.0,342.0 L256.0,338.0 L264.0,337.0 L274.0,336.0 L282.0,337.0 L293.0,335.0 L294.0,339.0 L286.0,342.0 L287.0,350.0 L292.0,354.0 L293.0,366.0 L295.0,376.0 L300.0,380.0 L312.0,382.0 L320.0,386.0 L322.0,390.0 L318.0,392.0 L314.0,398.0 L312.0,408.0 L306.0,416.0 L306.5,425.0 L311.5,427.0 L325.8,427.0 L328.0,429.3 L338.7,429.3 L338.7,443.0 L343.0,445.8 L346.6,446.5 L346.0,451.6 L348.8,454.4 L358.0,452.3 L360.0,455.0 L367.4,453.7 L374.6,447.3 L380.3,443.7 L386.0,441.5 L387.5,448.7 L384.6,454.4 L379.0,460.0 L374.6,462.3 L370.3,462.3 L368.9,468.0 L363.0,474.5 L361.7,480.3 L367.4,481.7 L363.8,483.0 L356.0,484.0 L351.6,486.0 L348.8,493.0 L346.0,503.0 L344.5,506.0 L341.6,501.8 L336.6,500.3 L334.4,502.5 L331.6,506.0 L323.0,507.5 L321.5,504.0 L318.7,503.2 L320.0,512.0 L312.0,514.6 L303.0,515.3 L300.6,525.3 L297.6,530.7 L290.7,528.4 L281.4,533.8 L276.8,532.2 L266.0,533.0 L260.0,528.4 L258.4,532.2 L253.0,536.0 L252.3,539.2 L250.0,546.0 L250.7,554.5 L250.7,561.4 L245.3,566.0 L247.6,573.0 L247.6,582.2 L241.5,583.7 L236.9,585.2 L239.2,593.0 L243.0,594.5 L244.6,600.6 L243.8,606.7 L247.6,614.4 L254.4,625.7 L264.5,637.2 L270.2,644.4 L271.6,648.7 L278.8,654.4 L278.8,663.0 L281.7,667.3 L286.0,674.5 L286.0,680.3 L291.7,676.0 L296.0,678.8 L291.7,687.4 L281.7,691.0 L281.0,697.5 L281.7,706.0 L281.7,720.4 L276.0,721.9 L273.0,719.0 L268.8,724.7 L266.0,727.0 L266.0,733.3 L269.0,751.0 L284.0,762.0 L299.0,773.5 L302.0,780.0 L306.0,792.0 L307.2,810.0 L304.2,814.0 L305.2,820.0 L310.2,836.0 L316.2,846.0 L319.2,856.0 L322.2,862.0 L326.3,872.4 L324.3,876.4 L319.2,880.4 L312.2,892.4 L304.2,902.5 L296.1,912.5 L290.1,918.6 L291.1,924.6 L286.1,938.6 L282.1,948.7 L278.1,950.7" fill="none" stroke="#000" stroke-width="2" stroke-linejoin="round"/>
<path d="M17.0,466.0 L25.0,455.0 L30.0,459.0 L35.0,462.0 L36.5,446.0 L35.5,431.0 L38.5,425.8 L41.3,423.5 L46.9,429.2 L48.0,431.4 L52.5,428.0 L53.7,422.4 L58.2,419.0 L55.9,407.7 L56.5,395.4 L57.0,384.1 L62.7,385.2 L67.2,381.8 L66.0,367.2 L68.3,357.0 L67.2,348.0 L64.9,337.9 L68.9,337.9 L72.3,344.1 L81.8,341.3 L84.1,344.6 L88.6,344.1 L97.6,347.5 L99.5,347.5 L103.0,334.0 L107.0,324.0 L110.6,315.0 L116.0,300.0 L120.0,292.5 L118.0,285.0 L120.0,277.5 L129.0,262.5 L135.0,247.5 L138.0,231.0 L140.0,224.0 L147.0,218.0 L154.0,214.0 L160.0,208.0 L170.0,200.0 L176.0,194.0 L182.0,190.0 L198.0,188.0 L204.0,188.0 L210.0,194.0 L218.0,198.0 L222.0,200.0 L218.0,190.0 L214.0,184.0 L212.0,178.0 L214.0,174.0 L220.0,168.0 L230.0,162.0 L232.0,158.0 L230.0,150.0 L232.0,146.0 L234.0,142.0 L238.0,134.0 L240.0,133.0" fill="none" stroke="#000" stroke-width="2" stroke-linejoin="round"/>
</g>
<g fill="#9b0b40" filter="url(#bl)"><path d="M541.8,379.5 L550.0,376.0 L558.0,381.0 L564.5,389.0 L571.0,399.0 L577.6,408.8 L584.0,413.7 L587.3,421.8 L585.7,428.3 L580.0,440.0 L580.8,451.0 L584.0,460.8 L577.6,467.3 L571.0,467.3 L564.5,464.0 L556.4,467.3 L548.3,470.6 L538.5,467.3 L528.8,470.6 L519.0,473.8 L509.3,472.2 L499.5,467.3 L489.8,464.0 L488.1,457.6 L493.0,451.0 L502.8,447.8 L512.5,441.3 L519.0,431.5 L524.0,421.8 L527.2,412.0 L533.7,405.5 L538.5,395.8 L540.0,386.0Z" fill-opacity="0.9"/><ellipse cx="592.0" cy="270.0" rx="8.0" ry="6.4" fill-opacity="0.80"/><ellipse cx="635.0" cy="281.0" rx="8.0" ry="7.2" fill-opacity="0.80"/><ellipse cx="568.0" cy="350.0" rx="7.2" ry="7.2" fill-opacity="0.75"/><ellipse cx="581.0" cy="343.0" rx="5.6" ry="16.0" fill-opacity="0.70"/><ellipse cx="500.0" cy="376.0" rx="7.2" ry="11.2" fill-opacity="0.70"/><ellipse cx="555.0" cy="381.0" rx="14.4" ry="6.4" fill-opacity="0.70"/><ellipse cx="630.0" cy="331.0" rx="6.4" ry="11.2" fill-opacity="0.70"/><ellipse cx="497.0" cy="410.0" rx="4.0" ry="36.0" fill-opacity="0.80"/><ellipse cx="580.0" cy="376.0" rx="7.2" ry="12.0" fill-opacity="0.70"/><ellipse cx="600.0" cy="390.0" rx="7.2" ry="7.2" fill-opacity="0.70"/><ellipse cx="607.0" cy="418.0" rx="6.4" ry="6.4" fill-opacity="0.70"/><ellipse cx="671.0" cy="667.0" rx="11.2" ry="6.4" fill-opacity="0.75"/><ellipse cx="699.0" cy="857.0" rx="8.8" ry="8.8" fill-opacity="0.95"/><ellipse cx="668.0" cy="776.0" rx="8.0" ry="12.0" fill-opacity="0.92"/><ellipse cx="583.0" cy="655.0" rx="7.2" ry="10.4" fill-opacity="0.95"/></g><g filter="url(#bl2)"><g fill="#9b0b40"><circle cx="586.6" cy="545.5" r="5.3" fill-opacity="0.78"/><circle cx="588.1" cy="549.1" r="3.0" fill-opacity="0.79"/><circle cx="590.2" cy="554.3" r="2.8" fill-opacity="0.74"/><circle cx="586.3" cy="557.8" r="4.6" fill-opacity="0.68"/><circle cx="595.3" cy="562.5" r="4.5" fill-opacity="0.81"/><circle cx="588.9" cy="557.3" r="4.1" fill-opacity="0.69"/><circle cx="590.2" cy="562.7" r="2.6" fill-opacity="0.78"/><circle cx="593.6" cy="571.4" r="4.0" fill-opacity="0.82"/><circle cx="595.3" cy="573.1" r="3.9" fill-opacity="0.74"/><circle cx="601.0" cy="579.5" r="5.0" fill-opacity="0.83"/><circle cx="596.0" cy="575.9" r="3.3" fill-opacity="0.69"/><circle cx="601.2" cy="580.8" r="5.0" fill-opacity="0.76"/><circle cx="604.1" cy="588.1" r="2.5" fill-opacity="0.72"/><circle cx="604.9" cy="588.1" r="5.4" fill-opacity="0.76"/><circle cx="598.6" cy="593.0" r="4.8" fill-opacity="0.74"/><circle cx="599.9" cy="593.7" r="5.4" fill-opacity="0.85"/><circle cx="601.4" cy="596.3" r="2.8" fill-opacity="0.69"/><circle cx="608.7" cy="599.1" r="4.2" fill-opacity="0.78"/><circle cx="604.2" cy="607.7" r="2.9" fill-opacity="0.82"/><circle cx="604.5" cy="608.5" r="3.1" fill-opacity="0.74"/><circle cx="613.2" cy="615.5" r="3.4" fill-opacity="0.87"/><circle cx="607.4" cy="615.4" r="5.1" fill-opacity="0.82"/><circle cx="607.4" cy="624.4" r="3.1" fill-opacity="0.73"/><circle cx="615.3" cy="621.5" r="3.4" fill-opacity="0.69"/><circle cx="610.9" cy="626.7" r="3.2" fill-opacity="0.81"/><circle cx="615.2" cy="628.6" r="5.4" fill-opacity="0.78"/><circle cx="618.9" cy="635.3" r="3.0" fill-opacity="0.71"/><circle cx="623.7" cy="637.9" r="3.2" fill-opacity="0.72"/><circle cx="624.7" cy="642.2" r="3.1" fill-opacity="0.89"/><circle cx="628.4" cy="642.4" r="3.7" fill-opacity="0.70"/><circle cx="623.3" cy="648.9" r="3.2" fill-opacity="0.83"/><circle cx="627.8" cy="650.9" r="4.3" fill-opacity="0.74"/><circle cx="628.7" cy="653.0" r="2.7" fill-opacity="0.73"/><circle cx="633.7" cy="657.2" r="4.3" fill-opacity="0.74"/><circle cx="638.6" cy="654.3" r="2.5" fill-opacity="0.74"/><circle cx="635.9" cy="656.0" r="3.0" fill-opacity="0.76"/><circle cx="638.6" cy="659.7" r="3.6" fill-opacity="0.88"/><circle cx="552.3" cy="561.4" r="4.6" fill-opacity="0.72"/><circle cx="546.0" cy="559.6" r="2.5" fill-opacity="0.78"/><circle cx="552.3" cy="571.7" r="2.5" fill-opacity="0.73"/><circle cx="551.6" cy="573.3" r="3.4" fill-opacity="0.80"/><circle cx="549.2" cy="575.4" r="4.7" fill-opacity="0.78"/><circle cx="556.5" cy="579.8" r="4.9" fill-opacity="0.78"/><circle cx="554.5" cy="582.7" r="5.2" fill-opacity="0.77"/><circle cx="556.5" cy="586.6" r="5.1" fill-opacity="0.71"/><circle cx="559.7" cy="585.9" r="4.2" fill-opacity="0.72"/><circle cx="556.2" cy="591.3" r="5.5" fill-opacity="0.78"/><circle cx="563.3" cy="592.7" r="4.7" fill-opacity="0.72"/><circle cx="562.0" cy="600.5" r="2.7" fill-opacity="0.75"/><circle cx="559.5" cy="602.2" r="3.9" fill-opacity="0.65"/><circle cx="566.8" cy="605.0" r="4.3" fill-opacity="0.78"/><circle cx="564.1" cy="604.4" r="3.4" fill-opacity="0.74"/><circle cx="564.8" cy="609.5" r="5.2" fill-opacity="0.73"/><circle cx="568.2" cy="619.8" r="3.5" fill-opacity="0.73"/><circle cx="567.3" cy="619.4" r="4.9" fill-opacity="0.78"/><circle cx="502.3" cy="559.3" r="3.1" fill-opacity="0.66"/><circle cx="498.5" cy="562.5" r="3.6" fill-opacity="0.77"/><circle cx="502.6" cy="567.7" r="2.4" fill-opacity="0.63"/><circle cx="501.7" cy="566.2" r="2.3" fill-opacity="0.68"/><circle cx="503.4" cy="570.0" r="2.5" fill-opacity="0.77"/><circle cx="506.2" cy="572.2" r="2.0" fill-opacity="0.61"/><circle cx="506.2" cy="572.2" r="3.4" fill-opacity="0.71"/><circle cx="503.5" cy="579.2" r="1.8" fill-opacity="0.63"/><circle cx="505.1" cy="577.1" r="3.6" fill-opacity="0.65"/><circle cx="503.8" cy="579.8" r="3.2" fill-opacity="0.69"/><circle cx="507.4" cy="585.9" r="3.6" fill-opacity="0.79"/><circle cx="508.4" cy="585.7" r="2.8" fill-opacity="0.64"/><circle cx="505.1" cy="589.8" r="3.4" fill-opacity="0.64"/><circle cx="507.3" cy="591.6" r="3.3" fill-opacity="0.70"/><circle cx="510.0" cy="596.5" r="2.7" fill-opacity="0.76"/><circle cx="512.4" cy="595.0" r="3.9" fill-opacity="0.74"/><circle cx="508.4" cy="599.7" r="3.2" fill-opacity="0.78"/><circle cx="510.6" cy="602.9" r="3.7" fill-opacity="0.76"/><circle cx="514.7" cy="604.8" r="3.2" fill-opacity="0.64"/><circle cx="514.0" cy="609.4" r="3.2" fill-opacity="0.74"/><circle cx="511.6" cy="612.4" r="4.0" fill-opacity="0.80"/><circle cx="514.2" cy="614.2" r="2.5" fill-opacity="0.78"/><circle cx="516.8" cy="614.1" r="2.0" fill-opacity="0.69"/><circle cx="515.6" cy="619.1" r="2.9" fill-opacity="0.61"/><circle cx="517.9" cy="617.4" r="3.6" fill-opacity="0.63"/><circle cx="640.9" cy="669.9" r="2.4" fill-opacity="0.63"/><circle cx="642.9" cy="672.5" r="4.1" fill-opacity="0.74"/><circle cx="646.5" cy="673.9" r="4.4" fill-opacity="0.62"/><circle cx="642.4" cy="677.2" r="2.7" fill-opacity="0.75"/><circle cx="645.9" cy="680.2" r="4.1" fill-opacity="0.71"/><circle cx="644.2" cy="682.2" r="4.1" fill-opacity="0.78"/><circle cx="644.0" cy="688.4" r="4.4" fill-opacity="0.70"/><circle cx="647.0" cy="687.0" r="3.4" fill-opacity="0.70"/><circle cx="647.7" cy="688.8" r="4.4" fill-opacity="0.70"/><circle cx="646.8" cy="697.3" r="3.4" fill-opacity="0.70"/><circle cx="649.3" cy="695.6" r="3.4" fill-opacity="0.68"/><circle cx="651.6" cy="704.6" r="2.7" fill-opacity="0.69"/><circle cx="646.5" cy="704.6" r="4.0" fill-opacity="0.78"/><circle cx="649.3" cy="707.0" r="2.5" fill-opacity="0.72"/><circle cx="652.9" cy="709.0" r="4.0" fill-opacity="0.60"/><circle cx="648.4" cy="712.9" r="3.7" fill-opacity="0.66"/><circle cx="650.0" cy="718.8" r="2.3" fill-opacity="0.75"/><circle cx="649.2" cy="721.1" r="2.6" fill-opacity="0.64"/><circle cx="652.7" cy="723.6" r="3.0" fill-opacity="0.68"/><circle cx="653.4" cy="724.7" r="2.5" fill-opacity="0.73"/><circle cx="654.9" cy="730.2" r="4.1" fill-opacity="0.72"/><circle cx="660.4" cy="738.2" r="3.9" fill-opacity="0.81"/><circle cx="661.7" cy="741.8" r="2.8" fill-opacity="0.83"/><circle cx="658.1" cy="749.4" r="4.2" fill-opacity="0.67"/><circle cx="659.2" cy="750.5" r="2.7" fill-opacity="0.66"/><circle cx="664.2" cy="751.5" r="4.0" fill-opacity="0.66"/><circle cx="662.1" cy="755.9" r="2.1" fill-opacity="0.68"/><circle cx="664.8" cy="760.0" r="4.4" fill-opacity="0.66"/><circle cx="664.4" cy="761.5" r="3.3" fill-opacity="0.78"/><circle cx="663.1" cy="759.5" r="2.3" fill-opacity="0.65"/><circle cx="666.3" cy="765.1" r="3.4" fill-opacity="0.67"/><circle cx="664.7" cy="766.0" r="4.1" fill-opacity="0.85"/><circle cx="670.5" cy="768.3" r="2.2" fill-opacity="0.84"/><circle cx="668.1" cy="775.8" r="2.8" fill-opacity="0.74"/><circle cx="669.3" cy="776.5" r="3.5" fill-opacity="0.64"/><circle cx="671.4" cy="782.3" r="2.5" fill-opacity="0.73"/><circle cx="672.4" cy="782.4" r="2.5" fill-opacity="0.67"/><circle cx="671.7" cy="782.7" r="4.2" fill-opacity="0.81"/><circle cx="673.8" cy="791.4" r="3.6" fill-opacity="0.72"/><circle cx="673.9" cy="792.0" r="4.5" fill-opacity="0.81"/><circle cx="672.4" cy="797.8" r="3.9" fill-opacity="0.80"/><circle cx="677.3" cy="797.4" r="4.2" fill-opacity="0.82"/><circle cx="677.7" cy="802.8" r="3.9" fill-opacity="0.72"/><circle cx="679.1" cy="801.1" r="2.9" fill-opacity="0.74"/><circle cx="675.5" cy="806.0" r="3.6" fill-opacity="0.77"/><circle cx="678.2" cy="813.0" r="3.7" fill-opacity="0.71"/><circle cx="682.3" cy="813.5" r="3.3" fill-opacity="0.72"/><circle cx="685.8" cy="817.0" r="3.8" fill-opacity="0.80"/><circle cx="686.8" cy="815.8" r="3.5" fill-opacity="0.79"/><circle cx="683.2" cy="821.3" r="2.1" fill-opacity="0.68"/><circle cx="685.2" cy="822.3" r="2.6" fill-opacity="0.83"/><circle cx="687.0" cy="828.4" r="4.4" fill-opacity="0.76"/><circle cx="690.7" cy="832.6" r="4.0" fill-opacity="0.65"/><circle cx="688.7" cy="836.7" r="2.1" fill-opacity="0.84"/><circle cx="417.4" cy="461.7" r="3.0" fill-opacity="0.74"/><circle cx="422.2" cy="457.4" r="5.3" fill-opacity="0.73"/><circle cx="422.3" cy="466.3" r="3.6" fill-opacity="0.70"/><circle cx="423.6" cy="465.9" r="3.3" fill-opacity="0.79"/><circle cx="420.9" cy="463.4" r="3.2" fill-opacity="0.65"/><circle cx="419.4" cy="471.2" r="3.7" fill-opacity="0.83"/><circle cx="426.6" cy="467.0" r="5.5" fill-opacity="0.84"/><circle cx="419.5" cy="476.0" r="3.8" fill-opacity="0.74"/><circle cx="430.0" cy="472.3" r="4.1" fill-opacity="0.84"/><circle cx="427.3" cy="474.7" r="5.4" fill-opacity="0.81"/><circle cx="427.6" cy="474.2" r="4.4" fill-opacity="0.73"/><circle cx="423.4" cy="473.5" r="4.1" fill-opacity="0.66"/><circle cx="427.4" cy="483.3" r="3.9" fill-opacity="0.69"/><circle cx="428.9" cy="480.7" r="4.8" fill-opacity="0.75"/><circle cx="434.7" cy="489.5" r="4.7" fill-opacity="0.69"/><circle cx="425.4" cy="488.9" r="4.8" fill-opacity="0.77"/><circle cx="429.5" cy="485.6" r="4.5" fill-opacity="0.76"/><circle cx="432.0" cy="489.4" r="4.8" fill-opacity="0.68"/><circle cx="430.4" cy="496.0" r="5.2" fill-opacity="0.82"/><circle cx="428.2" cy="486.4" r="3.3" fill-opacity="0.73"/><circle cx="436.3" cy="489.8" r="4.1" fill-opacity="0.65"/><circle cx="430.7" cy="495.9" r="4.1" fill-opacity="0.77"/><circle cx="435.7" cy="496.8" r="3.1" fill-opacity="0.71"/><circle cx="439.6" cy="500.6" r="2.7" fill-opacity="0.66"/><circle cx="442.2" cy="501.3" r="4.8" fill-opacity="0.68"/><circle cx="438.2" cy="497.5" r="4.9" fill-opacity="0.72"/><circle cx="442.9" cy="507.6" r="3.5" fill-opacity="0.75"/><circle cx="443.8" cy="506.9" r="3.8" fill-opacity="0.72"/><circle cx="439.3" cy="508.9" r="2.7" fill-opacity="0.66"/><circle cx="444.2" cy="504.8" r="4.5" fill-opacity="0.70"/><circle cx="448.6" cy="503.0" r="3.1" fill-opacity="0.78"/><circle cx="441.4" cy="505.4" r="4.7" fill-opacity="0.78"/><circle cx="445.7" cy="506.3" r="3.6" fill-opacity="0.79"/><circle cx="446.6" cy="506.0" r="4.6" fill-opacity="0.76"/><circle cx="455.7" cy="516.6" r="5.2" fill-opacity="0.73"/><circle cx="454.5" cy="510.0" r="3.4" fill-opacity="0.72"/><circle cx="459.2" cy="518.1" r="3.2" fill-opacity="0.71"/><circle cx="453.3" cy="512.6" r="3.7" fill-opacity="0.72"/><circle cx="454.8" cy="516.7" r="4.9" fill-opacity="0.75"/><circle cx="461.5" cy="516.7" r="3.0" fill-opacity="0.80"/><circle cx="448.4" cy="463.0" r="2.5" fill-opacity="0.70"/><circle cx="446.6" cy="468.9" r="5.4" fill-opacity="0.73"/><circle cx="450.2" cy="467.6" r="4.1" fill-opacity="0.76"/><circle cx="445.0" cy="471.0" r="4.7" fill-opacity="0.78"/><circle cx="446.3" cy="479.2" r="2.9" fill-opacity="0.75"/><circle cx="452.8" cy="478.7" r="3.1" fill-opacity="0.75"/><circle cx="453.2" cy="486.4" r="3.7" fill-opacity="0.67"/><circle cx="458.7" cy="488.6" r="4.0" fill-opacity="0.71"/><circle cx="458.0" cy="491.9" r="5.2" fill-opacity="0.68"/><circle cx="460.4" cy="494.5" r="5.1" fill-opacity="0.76"/><circle cx="462.0" cy="499.5" r="5.4" fill-opacity="0.73"/><circle cx="460.7" cy="500.9" r="4.9" fill-opacity="0.68"/><circle cx="461.3" cy="498.8" r="4.7" fill-opacity="0.80"/><circle cx="462.9" cy="502.3" r="3.1" fill-opacity="0.68"/><circle cx="464.1" cy="512.9" r="2.7" fill-opacity="0.66"/><circle cx="464.5" cy="513.3" r="4.8" fill-opacity="0.64"/><circle cx="468.7" cy="517.7" r="3.9" fill-opacity="0.73"/><circle cx="471.0" cy="516.8" r="2.8" fill-opacity="0.60"/><circle cx="475.0" cy="523.1" r="3.9" fill-opacity="0.60"/><circle cx="477.1" cy="521.6" r="2.7" fill-opacity="0.70"/><circle cx="480.6" cy="525.4" r="4.5" fill-opacity="0.65"/><circle cx="483.5" cy="529.6" r="4.8" fill-opacity="0.63"/><circle cx="489.0" cy="531.8" r="3.6" fill-opacity="0.60"/><circle cx="488.6" cy="533.4" r="4.5" fill-opacity="0.63"/><circle cx="636.1" cy="290.1" r="2.1" fill-opacity="0.75"/><circle cx="636.5" cy="290.8" r="1.6" fill-opacity="0.65"/><circle cx="634.8" cy="295.8" r="2.9" fill-opacity="0.68"/><circle cx="633.3" cy="294.6" r="2.2" fill-opacity="0.61"/><circle cx="636.8" cy="298.7" r="2.8" fill-opacity="0.75"/><circle cx="633.3" cy="300.9" r="1.9" fill-opacity="0.71"/><circle cx="631.7" cy="304.5" r="3.2" fill-opacity="0.72"/><circle cx="631.8" cy="303.8" r="3.0" fill-opacity="0.58"/><circle cx="633.5" cy="307.0" r="3.4" fill-opacity="0.67"/><circle cx="635.0" cy="308.3" r="3.1" fill-opacity="0.64"/><circle cx="634.9" cy="309.3" r="3.2" fill-opacity="0.60"/><circle cx="632.5" cy="313.7" r="1.9" fill-opacity="0.72"/><circle cx="630.9" cy="314.7" r="1.7" fill-opacity="0.62"/><circle cx="631.3" cy="319.0" r="2.3" fill-opacity="0.69"/><circle cx="628.9" cy="319.4" r="2.5" fill-opacity="0.74"/><circle cx="632.3" cy="323.0" r="1.6" fill-opacity="0.63"/><circle cx="631.2" cy="322.9" r="2.7" fill-opacity="0.65"/><circle cx="627.1" cy="329.0" r="3.1" fill-opacity="0.60"/><circle cx="629.9" cy="327.5" r="2.3" fill-opacity="0.66"/><circle cx="627.8" cy="329.9" r="2.3" fill-opacity="0.69"/><circle cx="627.1" cy="331.3" r="3.0" fill-opacity="0.62"/><circle cx="630.3" cy="335.3" r="3.0" fill-opacity="0.62"/><circle cx="629.2" cy="335.4" r="1.8" fill-opacity="0.58"/><circle cx="627.9" cy="341.1" r="1.9" fill-opacity="0.64"/><circle cx="628.3" cy="343.0" r="1.7" fill-opacity="0.60"/><circle cx="624.2" cy="343.0" r="2.4" fill-opacity="0.58"/><circle cx="642.5" cy="349.6" r="2.9" fill-opacity="0.68"/><circle cx="643.7" cy="350.8" r="2.6" fill-opacity="0.62"/><circle cx="643.8" cy="344.8" r="2.7" fill-opacity="0.69"/><circle cx="649.3" cy="348.3" r="3.3" fill-opacity="0.68"/><circle cx="645.7" cy="344.4" r="2.6" fill-opacity="0.68"/><circle cx="648.4" cy="343.6" r="2.9" fill-opacity="0.71"/><circle cx="654.8" cy="343.8" r="2.1" fill-opacity="0.71"/><circle cx="657.4" cy="342.3" r="2.6" fill-opacity="0.66"/><circle cx="655.4" cy="342.6" r="4.0" fill-opacity="0.66"/><circle cx="661.3" cy="342.7" r="2.2" fill-opacity="0.74"/><circle cx="663.3" cy="338.2" r="2.0" fill-opacity="0.61"/><circle cx="665.5" cy="340.5" r="2.5" fill-opacity="0.74"/><circle cx="666.7" cy="338.4" r="2.1" fill-opacity="0.75"/><circle cx="667.8" cy="340.4" r="3.0" fill-opacity="0.67"/><circle cx="672.9" cy="336.9" r="3.8" fill-opacity="0.75"/><circle cx="676.9" cy="339.3" r="2.1" fill-opacity="0.72"/><circle cx="676.2" cy="341.4" r="2.3" fill-opacity="0.67"/><circle cx="682.0" cy="337.4" r="3.0" fill-opacity="0.58"/><circle cx="679.7" cy="337.7" r="4.0" fill-opacity="0.74"/><circle cx="686.0" cy="338.8" r="3.3" fill-opacity="0.70"/><circle cx="649.3" cy="350.6" r="3.6" fill-opacity="0.57"/><circle cx="649.0" cy="352.3" r="2.1" fill-opacity="0.63"/><circle cx="652.1" cy="353.0" r="2.9" fill-opacity="0.61"/><circle cx="652.9" cy="356.5" r="3.2" fill-opacity="0.57"/><circle cx="654.4" cy="357.9" r="3.9" fill-opacity="0.68"/><circle cx="654.0" cy="362.0" r="3.2" fill-opacity="0.69"/><circle cx="656.5" cy="366.5" r="2.9" fill-opacity="0.75"/><circle cx="657.2" cy="369.7" r="2.7" fill-opacity="0.64"/><circle cx="655.8" cy="372.6" r="3.0" fill-opacity="0.66"/><circle cx="655.2" cy="375.2" r="2.5" fill-opacity="0.57"/><circle cx="657.2" cy="377.8" r="3.4" fill-opacity="0.67"/><circle cx="657.5" cy="376.8" r="3.1" fill-opacity="0.58"/><circle cx="652.9" cy="380.1" r="2.9" fill-opacity="0.64"/><circle cx="651.7" cy="384.0" r="3.0" fill-opacity="0.61"/><circle cx="652.4" cy="384.6" r="2.3" fill-opacity="0.58"/><circle cx="655.3" cy="390.4" r="3.3" fill-opacity="0.72"/><circle cx="651.5" cy="391.8" r="2.3" fill-opacity="0.70"/><circle cx="650.7" cy="395.1" r="2.0" fill-opacity="0.71"/><circle cx="646.4" cy="395.6" r="3.9" fill-opacity="0.56"/><circle cx="645.5" cy="396.8" r="2.5" fill-opacity="0.57"/><circle cx="619.1" cy="515.3" r="3.7" fill-opacity="0.76"/><circle cx="615.9" cy="507.2" r="2.6" fill-opacity="0.88"/><circle cx="614.2" cy="515.5" r="5.3" fill-opacity="0.89"/><circle cx="616.0" cy="512.4" r="3.4" fill-opacity="0.88"/><circle cx="621.7" cy="515.8" r="5.0" fill-opacity="0.75"/><circle cx="617.2" cy="515.6" r="5.1" fill-opacity="0.90"/><circle cx="615.6" cy="523.9" r="3.1" fill-opacity="0.87"/><circle cx="614.0" cy="518.4" r="4.7" fill-opacity="0.75"/><circle cx="624.2" cy="529.9" r="4.6" fill-opacity="0.71"/><circle cx="622.1" cy="530.6" r="3.8" fill-opacity="0.69"/><circle cx="618.3" cy="527.5" r="4.6" fill-opacity="0.72"/><circle cx="617.9" cy="526.7" r="4.5" fill-opacity="0.85"/><circle cx="621.2" cy="534.7" r="5.2" fill-opacity="0.81"/><circle cx="619.7" cy="530.9" r="5.3" fill-opacity="0.83"/><circle cx="621.4" cy="538.0" r="2.7" fill-opacity="0.90"/><circle cx="623.1" cy="536.8" r="4.1" fill-opacity="0.69"/><circle cx="626.0" cy="537.7" r="3.2" fill-opacity="0.86"/><circle cx="620.7" cy="537.7" r="4.8" fill-opacity="0.73"/></g></g><g class="dots"><circle cx="634.6" cy="188.8" r="1.8"/><circle cx="632.6" cy="193.4" r="1.4"/><circle cx="632.5" cy="193.1" r="1"/><circle cx="635.5" cy="187.8" r="1"/><circle cx="635.4" cy="196.9" r="1.1"/><circle cx="633.8" cy="194.5" r="2.2"/><circle cx="636.6" cy="191.8" r="2.3"/><circle cx="641.7" cy="203.7" r="1.1"/><circle cx="641.9" cy="211.8" r="1.2"/><circle cx="643.5" cy="209.7" r="1.4"/><circle cx="643.3" cy="202.8" r="1"/><circle cx="641.2" cy="210.2" r="1.5"/><circle cx="641.9" cy="209" r="1.5"/><circle cx="641.8" cy="224.9" r="1.9"/><circle cx="641.5" cy="222.7" r="1.6"/><circle cx="645.3" cy="224.3" r="1.3"/><circle cx="642.5" cy="224.6" r="1.1"/><circle cx="599.9" cy="224.3" r="1.8"/><circle cx="603.2" cy="228.6" r="2.1"/><circle cx="597.8" cy="229.6" r="1.7"/><circle cx="601" cy="227.6" r="2.1"/><circle cx="605.3" cy="227.8" r="1.8"/><circle cx="594.7" cy="229.6" r="1.8"/><circle cx="603.7" cy="243.2" r="1.8"/><circle cx="602.1" cy="244.4" r="1.1"/><circle cx="606.6" cy="239.1" r="1.2"/><circle cx="604.3" cy="250.9" r="1"/><circle cx="604.7" cy="245.8" r="2.1"/><circle cx="606.9" cy="250.8" r="1.3"/><circle cx="602.3" cy="263.3" r="2.1"/><circle cx="600.4" cy="261.8" r="1.2"/><circle cx="602.9" cy="266.1" r="1.3"/><circle cx="602" cy="265.8" r="2.2"/><circle cx="604.5" cy="265.2" r="1.8"/><circle cx="604.4" cy="259.6" r="2.2"/><circle cx="605.2" cy="269.5" r="2"/><circle cx="602.1" cy="263.8" r="1"/><circle cx="597.1" cy="281.2" r="1"/><circle cx="593.7" cy="283.2" r="1.4"/><circle cx="594.9" cy="280.5" r="2.1"/><circle cx="596.9" cy="283" r="1.3"/><circle cx="594.8" cy="287.3" r="1.1"/><circle cx="595.7" cy="289.7" r="1"/><circle cx="592.8" cy="286.9" r="1.3"/><circle cx="598.6" cy="283.2" r="0.9"/><circle cx="599.6" cy="290.6" r="1.1"/><circle cx="596.3" cy="280.5" r="1.6"/><circle cx="597.6" cy="285.2" r="1.4"/><circle cx="593.3" cy="295.4" r="1.6"/><circle cx="598.2" cy="286.6" r="1.2"/><circle cx="598.8" cy="296.1" r="2"/><circle cx="594.9" cy="303.3" r="1.6"/><circle cx="591.8" cy="301.3" r="0.9"/><circle cx="591.2" cy="303.6" r="1.9"/><circle cx="596.7" cy="305.5" r="2.2"/><circle cx="591.9" cy="303.2" r="1.2"/><circle cx="590.6" cy="303" r="1.8"/><circle cx="592.8" cy="307.5" r="2"/><circle cx="589.7" cy="307.6" r="2.2"/><circle cx="597.6" cy="274" r="1.6"/><circle cx="585.6" cy="274.6" r="1.4"/><circle cx="589.9" cy="268.4" r="2.2"/><circle cx="596.5" cy="264.7" r="1.1"/><circle cx="598.1" cy="264.3" r="2.1"/><circle cx="589" cy="270.8" r="1.1"/><circle cx="595" cy="270.4" r="2.2"/><circle cx="590.7" cy="275.9" r="2.1"/><circle cx="586.2" cy="266" r="1.3"/><circle cx="586.8" cy="271.4" r="1.3"/><circle cx="590.4" cy="264.1" r="2.2"/><circle cx="589.1" cy="269.3" r="1.7"/><circle cx="600.1" cy="268.7" r="2.2"/><circle cx="592" cy="270.5" r="1.6"/><circle cx="582.4" cy="269" r="1.2"/><circle cx="585.4" cy="269.6" r="1.9"/><circle cx="593.1" cy="267.2" r="1.6"/><circle cx="593.1" cy="274.5" r="1"/><circle cx="593.2" cy="266" r="1.3"/><circle cx="597.4" cy="270.1" r="1.7"/><circle cx="597.2" cy="276.6" r="1.5"/><circle cx="594.3" cy="270.1" r="1.6"/><circle cx="595.9" cy="269.2" r="1.6"/><circle cx="591.6" cy="277.1" r="1.9"/><circle cx="587.2" cy="271" r="2.2"/><circle cx="598.8" cy="264.2" r="1.1"/><circle cx="590.8" cy="263.2" r="1.2"/><circle cx="626.5" cy="284.1" r="2"/><circle cx="639.3" cy="283.9" r="1.1"/><circle cx="633" cy="280.8" r="2.3"/><circle cx="641.6" cy="274.9" r="1.5"/><circle cx="635.3" cy="278.1" r="1.2"/><circle cx="631.4" cy="285" r="0.9"/><circle cx="636.1" cy="279.9" r="0.9"/><circle cx="631.6" cy="283.2" r="1.6"/><circle cx="627.1" cy="276.8" r="1"/><circle cx="640.6" cy="276.9" r="1.1"/><circle cx="633.4" cy="288.4" r="2"/><circle cx="630.2" cy="274.7" r="2.2"/><circle cx="636.4" cy="284.6" r="1"/><circle cx="626.2" cy="284.4" r="1.5"/><circle cx="637.7" cy="286.4" r="1"/><circle cx="642.3" cy="280.2" r="1.4"/><circle cx="636.1" cy="288.7" r="1.3"/><circle cx="627.6" cy="281.5" r="1.2"/><circle cx="631.2" cy="277.5" r="2"/><circle cx="630.8" cy="281" r="1.1"/><circle cx="639.7" cy="281.9" r="1.2"/><circle cx="634.5" cy="288.8" r="1"/><circle cx="641.4" cy="279.8" r="1.6"/><circle cx="641.7" cy="279.1" r="1.6"/><circle cx="631.9" cy="287" r="1.9"/><circle cx="637.7" cy="279.3" r="1.4"/><circle cx="626.4" cy="285.3" r="1.3"/><circle cx="638.4" cy="277.1" r="1.2"/><circle cx="630.9" cy="280.3" r="1.1"/><circle cx="633.9" cy="276.7" r="2.2"/><circle cx="644.5" cy="281.8" r="1.2"/><circle cx="578.6" cy="287.7" r="1.6"/><circle cx="576.4" cy="288.1" r="0.9"/><circle cx="577.2" cy="283.1" r="1.5"/><circle cx="577.7" cy="284.8" r="1.7"/><circle cx="580.4" cy="291" r="1.8"/><circle cx="582.6" cy="292.5" r="1.4"/><circle cx="575.8" cy="290.7" r="1.8"/><circle cx="584.7" cy="289.5" r="1.9"/><circle cx="583.7" cy="283.7" r="1.6"/><circle cx="580.1" cy="292" r="2"/><circle cx="583.9" cy="289" r="2.1"/><circle cx="582.2" cy="290.3" r="1.2"/><circle cx="578.3" cy="283.3" r="2.1"/><circle cx="580.7" cy="289.5" r="1.8"/><circle cx="613.8" cy="274.9" r="0.9"/><circle cx="615" cy="278" r="1.6"/><circle cx="612.4" cy="276.9" r="1"/><circle cx="614.4" cy="272" r="1"/><circle cx="609.7" cy="277.8" r="1.2"/><circle cx="611.9" cy="273.6" r="1.6"/><circle cx="613.8" cy="278.2" r="1.8"/><circle cx="613.4" cy="269.9" r="1.1"/><circle cx="609.5" cy="277.9" r="1.3"/><circle cx="612.7" cy="269.1" r="1"/><circle cx="618.6" cy="303.4" r="1.9"/><circle cx="621.1" cy="295.8" r="1.6"/><circle cx="619.8" cy="299.3" r="1.1"/><circle cx="622.4" cy="294" r="2.3"/><circle cx="619.8" cy="306.4" r="2.3"/><circle cx="619.7" cy="295.4" r="1.2"/><circle cx="620.5" cy="292.8" r="1.6"/><circle cx="621.9" cy="300.2" r="2.1"/><circle cx="621.2" cy="294.6" r="2.2"/><circle cx="619.9" cy="290.5" r="0.9"/><circle cx="537.6" cy="315.6" r="1.3"/><circle cx="519.3" cy="312.6" r="1.3"/><circle cx="551" cy="326.5" r="1.1"/><circle cx="560.2" cy="323" r="2.2"/><circle cx="527.1" cy="313.4" r="1.5"/><circle cx="530.8" cy="315" r="1.3"/><circle cx="555.4" cy="311" r="2.2"/><circle cx="525" cy="310.4" r="1.6"/><circle cx="521.9" cy="313.5" r="2.2"/><circle cx="558" cy="325.7" r="1.8"/><circle cx="540.6" cy="323.1" r="1"/><circle cx="550.1" cy="315.6" r="2"/><circle cx="545.5" cy="311" r="1"/><circle cx="536.6" cy="312.6" r="1.3"/><circle cx="525.5" cy="321.4" r="1.3"/><circle cx="541" cy="314" r="1.1"/><circle cx="520.4" cy="308.8" r="2.2"/><circle cx="537.8" cy="309.2" r="2.2"/><circle cx="563.8" cy="315.6" r="1.1"/><circle cx="529.8" cy="305.6" r="1.2"/><circle cx="525.4" cy="318.9" r="2.1"/><circle cx="551" cy="314.6" r="1.5"/><circle cx="539.3" cy="313.6" r="1.4"/><circle cx="515.2" cy="310.8" r="2.3"/><circle cx="518.5" cy="317.1" r="1.8"/><circle cx="556.9" cy="309" r="1.3"/><circle cx="524.9" cy="314.2" r="1.5"/><circle cx="558.6" cy="316.3" r="1.7"/><circle cx="524.9" cy="306.1" r="1.1"/><circle cx="539.2" cy="322.1" r="2.2"/><circle cx="549.5" cy="321.1" r="2"/><circle cx="535.8" cy="318.4" r="1"/><circle cx="552.7" cy="309.5" r="2.2"/><circle cx="545.6" cy="311.5" r="1.1"/><circle cx="525.1" cy="320.8" r="1.9"/><circle cx="539.3" cy="319.3" r="1.4"/><circle cx="523.6" cy="319.8" r="0.9"/><circle cx="527.7" cy="315.9" r="2.2"/><circle cx="545.5" cy="327.7" r="1.6"/><circle cx="524.2" cy="309.9" r="2.2"/><circle cx="548.6" cy="311.6" r="0.9"/><circle cx="537.9" cy="321.9" r="1.5"/><circle cx="525.4" cy="321.7" r="2.2"/><circle cx="529.6" cy="314.8" r="1.9"/><circle cx="522.3" cy="325.3" r="1.9"/><circle cx="538.3" cy="308.7" r="2.3"/><circle cx="528.2" cy="326" r="1.2"/><circle cx="523.5" cy="324.3" r="1.3"/><circle cx="561.5" cy="316.9" r="1.2"/><circle cx="523.6" cy="314.7" r="1.8"/><circle cx="532.5" cy="309" r="2.3"/><circle cx="515.1" cy="314" r="2.2"/><circle cx="557.9" cy="323.5" r="2.3"/><circle cx="560.4" cy="312.2" r="1.2"/><circle cx="513.7" cy="321.6" r="1.4"/><circle cx="531.4" cy="312.3" r="1.1"/><circle cx="530.3" cy="329.8" r="1.1"/><circle cx="530.5" cy="326" r="2.1"/><circle cx="534.5" cy="304.4" r="1.6"/><circle cx="531.4" cy="328.7" r="1.2"/><circle cx="504.6" cy="362.9" r="0.9"/><circle cx="505.1" cy="359.5" r="2"/><circle cx="503.6" cy="356.9" r="2.2"/><circle cx="504.4" cy="337.9" r="2.2"/><circle cx="507.2" cy="337.5" r="1.9"/><circle cx="504.2" cy="338" r="0.9"/><circle cx="508.6" cy="363.7" r="1.8"/><circle cx="503.3" cy="346" r="2.2"/><circle cx="510.5" cy="342.5" r="1.3"/><circle cx="505.3" cy="346.7" r="2.2"/><circle cx="502.8" cy="359.1" r="1.9"/><circle cx="509.2" cy="357.9" r="1.8"/><circle cx="504.3" cy="339.8" r="1.4"/><circle cx="503" cy="357.1" r="1.2"/><circle cx="506.5" cy="340" r="2.3"/><circle cx="506" cy="355.4" r="1.5"/><circle cx="503.3" cy="343.7" r="1.8"/><circle cx="507.7" cy="356.9" r="2.1"/><circle cx="507.6" cy="331.8" r="2.1"/><circle cx="503.9" cy="349.7" r="1.4"/><circle cx="508.4" cy="335" r="1.2"/><circle cx="503.5" cy="333.1" r="2.1"/><circle cx="506.8" cy="340.1" r="1.5"/><circle cx="510.9" cy="347.3" r="1.2"/><circle cx="509.1" cy="353.1" r="2.3"/><circle cx="502" cy="346" r="2"/><circle cx="506.8" cy="364.2" r="1.4"/><circle cx="509.7" cy="345" r="1.3"/><circle cx="502.1" cy="350.8" r="1.8"/><circle cx="503.2" cy="341.7" r="1.1"/><circle cx="503" cy="337.2" r="1.7"/><circle cx="507.5" cy="335.1" r="0.9"/><circle cx="504.3" cy="354.1" r="1.2"/><circle cx="504.1" cy="335.1" r="2"/><circle cx="506.5" cy="329.5" r="1"/><circle cx="505" cy="349" r="1.8"/><circle cx="508" cy="343.4" r="1.3"/><circle cx="504.1" cy="365.1" r="1.3"/><circle cx="506.7" cy="341.3" r="1.5"/><circle cx="504.6" cy="334.9" r="1.9"/><circle cx="510" cy="344" r="2"/><circle cx="505.1" cy="362.3" r="1.5"/><circle cx="506.5" cy="352.6" r="2.2"/><circle cx="501.9" cy="351.9" r="1.4"/><circle cx="568.1" cy="343.6" r="1.3"/><circle cx="568.4" cy="357.7" r="1.1"/><circle cx="567.8" cy="355.5" r="2.3"/><circle cx="562.6" cy="343.3" r="2.2"/><circle cx="576.6" cy="349.7" r="1"/><circle cx="575.7" cy="348" r="2.2"/><circle cx="570.2" cy="355.8" r="1.1"/><circle cx="573.1" cy="345" r="1.5"/><circle cx="574.2" cy="355.9" r="1.2"/><circle cx="562.9" cy="348.2" r="1.6"/><circle cx="565.9" cy="343.2" r="1.2"/><circle cx="572" cy="357.2" r="1"/><circle cx="569.1" cy="354.6" r="1"/><circle cx="569.8" cy="350.9" r="1.8"/><circle cx="564.5" cy="348.6" r="1.7"/><circle cx="566.7" cy="352.9" r="1.5"/><circle cx="566.9" cy="341.4" r="1.8"/><circle cx="567.8" cy="345.2" r="2"/><circle cx="573" cy="349.2" r="1.2"/><circle cx="567.5" cy="342.9" r="1.1"/><circle cx="566.8" cy="342.7" r="1.5"/><circle cx="568.2" cy="341.7" r="1.8"/><circle cx="560.5" cy="354.2" r="2"/><circle cx="568.2" cy="342" r="1.6"/><circle cx="565.8" cy="358.1" r="1.1"/><circle cx="584.2" cy="355.6" r="1.2"/><circle cx="587.7" cy="342.7" r="2.2"/><circle cx="574.9" cy="337" r="2"/><circle cx="577.8" cy="355.6" r="1.1"/><circle cx="581" cy="359.8" r="1.2"/><circle cx="577.7" cy="343.2" r="1.3"/><circle cx="583.5" cy="358.8" r="1.1"/><circle cx="585" cy="327.6" r="1.6"/><circle cx="582.9" cy="337.4" r="2.1"/><circle cx="581.8" cy="346.2" r="2.1"/><circle cx="582.8" cy="338.8" r="2"/><circle cx="582.1" cy="337.4" r="2"/><circle cx="580.2" cy="330.1" r="1.9"/><circle cx="577.6" cy="348.6" r="2.3"/><circle cx="582.2" cy="349.5" r="1.3"/><circle cx="576.1" cy="347.6" r="1.5"/><circle cx="581.2" cy="358.8" r="1.1"/><circle cx="577.2" cy="349.1" r="0.9"/><circle cx="575.5" cy="337.3" r="1.2"/><circle cx="582.2" cy="346.6" r="1.2"/><circle cx="582.7" cy="342" r="1.1"/><circle cx="582.9" cy="357.9" r="2"/><circle cx="579.6" cy="333.6" r="0.9"/><circle cx="583" cy="345.5" r="1.4"/><circle cx="583" cy="340.8" r="2.2"/><circle cx="584.3" cy="332.9" r="2.2"/><circle cx="574.6" cy="344.3" r="1.5"/><circle cx="581.7" cy="360.6" r="1.1"/><circle cx="576.8" cy="347.3" r="1.6"/><circle cx="583" cy="355.5" r="1.1"/><circle cx="578.3" cy="335" r="1"/><circle cx="586.5" cy="354.3" r="1.9"/><circle cx="584.4" cy="341.6" r="1.9"/><circle cx="580.3" cy="332" r="1"/><circle cx="578.7" cy="353" r="1.9"/><circle cx="585.8" cy="351.5" r="1.3"/><circle cx="581.8" cy="340.4" r="2"/><circle cx="581.3" cy="333.6" r="1.8"/><circle cx="577.6" cy="332.4" r="1.9"/><circle cx="578.6" cy="358.2" r="1.4"/><circle cx="495.3" cy="387.4" r="1.8"/><circle cx="503.5" cy="380.6" r="2.3"/><circle cx="499.5" cy="385.5" r="1.9"/><circle cx="506.4" cy="374.2" r="1.9"/><circle cx="501.3" cy="370.6" r="1.2"/><circle cx="502.2" cy="364.2" r="2.2"/><circle cx="497.2" cy="366" r="0.9"/><circle cx="491.7" cy="381.4" r="1.8"/><circle cx="503.5" cy="382.6" r="1"/><circle cx="501.6" cy="372.2" r="2"/><circle cx="492.9" cy="367.8" r="1.1"/><circle cx="505.6" cy="379.8" r="2.1"/><circle cx="502.4" cy="370" r="1"/><circle cx="492.8" cy="383.2" r="1.2"/><circle cx="496.7" cy="373.9" r="0.9"/><circle cx="495.6" cy="369.9" r="1.9"/><circle cx="497.6" cy="371" r="2.2"/><circle cx="500.1" cy="385.8" r="1.8"/><circle cx="491.6" cy="373.6" r="1.5"/><circle cx="504.9" cy="371.7" r="1.9"/><circle cx="500.7" cy="368.1" r="2.1"/><circle cx="494.6" cy="383.3" r="2.3"/><circle cx="491.1" cy="375.7" r="1.6"/><circle cx="505.3" cy="367.2" r="1.6"/><circle cx="497.2" cy="385.3" r="1.3"/><circle cx="508" cy="369.9" r="1.2"/><circle cx="503.6" cy="376" r="1.1"/><circle cx="502.5" cy="364.3" r="2"/><circle cx="503.5" cy="384" r="1.8"/><circle cx="497.4" cy="373.2" r="1.5"/><circle cx="494.7" cy="369.4" r="2.2"/><circle cx="500" cy="372.6" r="2.1"/><circle cx="495.2" cy="374.9" r="1.6"/><circle cx="504.6" cy="383.1" r="1.8"/><circle cx="497.3" cy="371.1" r="1.1"/><circle cx="506.2" cy="380.5" r="1.9"/><circle cx="543.1" cy="380" r="2"/><circle cx="557.9" cy="375" r="1.5"/><circle cx="568.9" cy="376.8" r="1.2"/><circle cx="547.9" cy="384.3" r="2.1"/><circle cx="542.6" cy="375.5" r="1.2"/><circle cx="548.8" cy="381.4" r="1.1"/><circle cx="548.8" cy="376" r="2.3"/><circle cx="563.2" cy="374.6" r="2.2"/><circle cx="540.7" cy="379.1" r="2.3"/><circle cx="565.6" cy="384.7" r="1.5"/><circle cx="544.1" cy="383.2" r="1"/><circle cx="544.4" cy="379.2" r="0.9"/><circle cx="551.4" cy="385.7" r="1.9"/><circle cx="555" cy="383.1" r="1.5"/><circle cx="542.1" cy="382.7" r="1.5"/><circle cx="563.7" cy="387.5" r="1.5"/><circle cx="557.7" cy="385" r="1.5"/><circle cx="545.2" cy="384.6" r="2.1"/><circle cx="564.9" cy="384.2" r="2.1"/><circle cx="561.5" cy="383.3" r="1.5"/><circle cx="548.3" cy="383.1" r="1"/><circle cx="552.1" cy="385.5" r="1.9"/><circle cx="559.7" cy="377" r="1.5"/><circle cx="553.4" cy="382.9" r="1.5"/><circle cx="561.3" cy="387.9" r="1.2"/><circle cx="560.6" cy="385.5" r="1.4"/><circle cx="554.6" cy="388.6" r="1"/><circle cx="556.6" cy="375.6" r="2"/><circle cx="570.9" cy="381.3" r="1"/><circle cx="557.7" cy="381.7" r="1.9"/><circle cx="555.4" cy="383.2" r="2.1"/><circle cx="555.8" cy="379.6" r="2.2"/><circle cx="544.6" cy="383.9" r="1.4"/><circle cx="564.5" cy="375" r="2.3"/><circle cx="549.8" cy="373.9" r="1.3"/><circle cx="551.4" cy="373.2" r="1.5"/><circle cx="552.1" cy="384.2" r="1.4"/><circle cx="546.5" cy="376.6" r="1.9"/><circle cx="570.8" cy="381.4" r="1.2"/><circle cx="565.9" cy="379.3" r="1.2"/><circle cx="541.7" cy="385.4" r="2"/><circle cx="542.8" cy="352" r="1.7"/><circle cx="532.7" cy="357.4" r="2"/><circle cx="549.4" cy="352" r="1.3"/><circle cx="539.7" cy="341" r="2.1"/><circle cx="532.8" cy="364.2" r="1.3"/><circle cx="533.5" cy="345.1" r="1.5"/><circle cx="546" cy="346" r="1.2"/><circle cx="530.9" cy="352.3" r="1.5"/><circle cx="542.9" cy="358.1" r="1.4"/><circle cx="552.6" cy="362.1" r="1.1"/><circle cx="549.9" cy="357.3" r="0.9"/><circle cx="543.6" cy="345" r="1"/><circle cx="525.1" cy="344.5" r="2"/><circle cx="532.5" cy="341.9" r="2.2"/><circle cx="548.5" cy="342.4" r="2.1"/><circle cx="541.9" cy="362" r="1.8"/><circle cx="552.2" cy="362.2" r="2.1"/><circle cx="527.1" cy="359.2" r="1.6"/><circle cx="546.7" cy="351" r="2.1"/><circle cx="540" cy="345.5" r="1.2"/><circle cx="525" cy="352.8" r="1"/><circle cx="536.8" cy="341.6" r="1.6"/><circle cx="537.9" cy="354.3" r="2.1"/><circle cx="536.8" cy="355" r="1.8"/><circle cx="550.3" cy="349" r="1.5"/><circle cx="542.9" cy="357.4" r="0.9"/><circle cx="541.9" cy="358.8" r="2.2"/><circle cx="538.4" cy="352.5" r="2.2"/><circle cx="542.5" cy="347.8" r="2.1"/><circle cx="533.2" cy="352.2" r="1.6"/><circle cx="547.7" cy="343.7" r="1.5"/><circle cx="594.6" cy="299" r="2.1"/><circle cx="592.3" cy="303.9" r="1.5"/><circle cx="596.1" cy="293.9" r="1.6"/><circle cx="604.5" cy="300.8" r="2"/><circle cx="593" cy="294.7" r="1.3"/><circle cx="597.6" cy="300.4" r="2"/><circle cx="602.9" cy="298.8" r="1"/><circle cx="598" cy="300.8" r="2"/><circle cx="603.4" cy="300" r="1.8"/><circle cx="598.3" cy="301.5" r="1.7"/><circle cx="599.3" cy="292.8" r="1.8"/><circle cx="595.2" cy="302.7" r="1"/><circle cx="600.9" cy="305.5" r="1.8"/><circle cx="593.6" cy="303.8" r="2"/><circle cx="597.1" cy="293.6" r="1.3"/><circle cx="594.6" cy="294.7" r="1.5"/><circle cx="598.6" cy="305.8" r="1"/><circle cx="597.2" cy="289.7" r="1.1"/><circle cx="601.6" cy="299.4" r="2.2"/><circle cx="595" cy="289.3" r="1.4"/><circle cx="597.7" cy="305.9" r="2.3"/><circle cx="595.6" cy="296.4" r="1"/><circle cx="598.6" cy="292.8" r="1.1"/><circle cx="599.3" cy="291.2" r="2.3"/><circle cx="599.9" cy="293.4" r="1.9"/><circle cx="600.9" cy="301.8" r="2.1"/><circle cx="600.1" cy="290.5" r="1.8"/><circle cx="599.8" cy="297.3" r="2.2"/><circle cx="592.6" cy="302.1" r="1.1"/><circle cx="602.5" cy="297.8" r="1"/><circle cx="593.6" cy="299.3" r="1.5"/><circle cx="599.2" cy="291.6" r="2"/><circle cx="593.5" cy="300.6" r="1.8"/><circle cx="594.5" cy="295.9" r="2"/><circle cx="597.2" cy="294.3" r="1"/><circle cx="601.9" cy="295" r="1.7"/><circle cx="597.8" cy="294.6" r="1.5"/><circle cx="603" cy="295.8" r="1.9"/><circle cx="597.8" cy="305.1" r="2"/><circle cx="591.7" cy="296.6" r="1.7"/><circle cx="601.7" cy="305" r="1"/><circle cx="602" cy="303.6" r="2.1"/><circle cx="597.3" cy="293.9" r="2.1"/><circle cx="601.5" cy="301.3" r="2.2"/><circle cx="593.2" cy="290.5" r="1.7"/><circle cx="601.4" cy="292.6" r="2"/><circle cx="597.9" cy="301.2" r="1.6"/><circle cx="590.7" cy="293.6" r="2"/><circle cx="601.2" cy="297.3" r="1"/><circle cx="601.5" cy="302.9" r="1.2"/><circle cx="631.3" cy="342.1" r="2.1"/><circle cx="630.3" cy="330.3" r="1.7"/><circle cx="625" cy="322.4" r="1.2"/><circle cx="633.2" cy="327.2" r="1.7"/><circle cx="628.4" cy="331.5" r="1.1"/><circle cx="628" cy="320" r="1.8"/><circle cx="634.6" cy="321.4" r="1.7"/><circle cx="627.5" cy="331.5" r="0.9"/><circle cx="635.9" cy="330.6" r="1.7"/><circle cx="626.2" cy="338.8" r="1.5"/><circle cx="625.2" cy="322.1" r="1"/><circle cx="622.8" cy="332.6" r="2.1"/><circle cx="629.3" cy="343.5" r="2.2"/><circle cx="623" cy="333.7" r="1.5"/><circle cx="626.1" cy="332.8" r="1.8"/><circle cx="637.3" cy="335.8" r="1.5"/><circle cx="629.2" cy="321.5" r="2.3"/><circle cx="627.6" cy="342.3" r="2.2"/><circle cx="634.6" cy="336.9" r="1.8"/><circle cx="624.3" cy="338.1" r="2.2"/><circle cx="632.8" cy="325.4" r="1.7"/><circle cx="634.1" cy="320" r="1.4"/><circle cx="626.1" cy="320.5" r="1.6"/><circle cx="624.7" cy="323.7" r="1.1"/><circle cx="633.5" cy="322.5" r="1"/><circle cx="629.2" cy="319.7" r="2.2"/><circle cx="635.5" cy="334.6" r="1.5"/><circle cx="627.4" cy="340" r="1.6"/><circle cx="632.1" cy="321" r="1.2"/><circle cx="622.9" cy="337" r="1.7"/><circle cx="626.3" cy="328.5" r="1.1"/><circle cx="626.3" cy="340.5" r="1.4"/><circle cx="627.3" cy="280.9" r="1.3"/><circle cx="637.5" cy="283.4" r="1.2"/><circle cx="631.7" cy="278" r="1.3"/><circle cx="627.8" cy="279.1" r="2.3"/><circle cx="626.4" cy="278.1" r="2.2"/><circle cx="625.8" cy="284.2" r="1.3"/><circle cx="636.3" cy="278.8" r="1.1"/><circle cx="632.4" cy="276.6" r="1.5"/><circle cx="637.8" cy="277.1" r="1.7"/><circle cx="626.9" cy="276.5" r="2"/><circle cx="635" cy="276.8" r="1"/><circle cx="626.2" cy="282.5" r="1.6"/><circle cx="628.8" cy="276.9" r="1.8"/><circle cx="634.9" cy="285.4" r="1.7"/><circle cx="635.3" cy="279.7" r="1.9"/><circle cx="629.7" cy="285.8" r="2.1"/><circle cx="631.9" cy="274.2" r="2.2"/><circle cx="631.7" cy="286.2" r="1.3"/><circle cx="627.6" cy="285.6" r="1.4"/><circle cx="627.3" cy="279.2" r="1.7"/><circle cx="625.1" cy="281.3" r="1.5"/><circle cx="632.2" cy="275.7" r="1.9"/><circle cx="636.4" cy="286.1" r="1.3"/><circle cx="635" cy="279.3" r="2"/><circle cx="638.4" cy="280.9" r="1.6"/><circle cx="632.4" cy="281.5" r="0.9"/><circle cx="628.5" cy="285.4" r="0.9"/><circle cx="626.4" cy="283.8" r="1.2"/><circle cx="625.2" cy="282.4" r="1.7"/><circle cx="632.3" cy="283.8" r="1"/><circle cx="575.7" cy="442.4" r="1"/><circle cx="533.9" cy="424.5" r="1.6"/><circle cx="542.7" cy="394.8" r="1.5"/><circle cx="534.7" cy="432.3" r="2.1"/><circle cx="535.2" cy="430.8" r="1.9"/><circle cx="536.2" cy="451.1" r="2.2"/><circle cx="548.8" cy="418.6" r="2.1"/><circle cx="556.4" cy="416.7" r="2.2"/><circle cx="570.5" cy="412.1" r="1.2"/><circle cx="545.8" cy="419.8" r="2.3"/><circle cx="572.6" cy="452.8" r="1"/><circle cx="556" cy="461.6" r="2.2"/><circle cx="541" cy="418.8" r="1.8"/><circle cx="547.4" cy="427.5" r="1"/><circle cx="551.3" cy="425.4" r="0.9"/><circle cx="562.5" cy="449.7" r="2.1"/><circle cx="562.9" cy="406.3" r="1.8"/><circle cx="542.3" cy="428.4" r="2.2"/><circle cx="561.8" cy="405" r="1.6"/><circle cx="551.3" cy="461.1" r="1.3"/><circle cx="544.1" cy="436.8" r="1.1"/><circle cx="560.3" cy="461.5" r="1.6"/><circle cx="542" cy="422.3" r="1.6"/><circle cx="534.4" cy="408.5" r="1.5"/><circle cx="543.1" cy="404.5" r="1"/><circle cx="557.6" cy="452.2" r="1.8"/><circle cx="558.9" cy="437" r="1.2"/><circle cx="566.8" cy="421.9" r="1.7"/><circle cx="561.3" cy="422.5" r="1.3"/><circle cx="540.6" cy="402.7" r="1.6"/><circle cx="548.5" cy="431.9" r="0.9"/><circle cx="546.7" cy="453.9" r="1.2"/><circle cx="558.2" cy="424.3" r="1.3"/><circle cx="570.2" cy="397.7" r="1"/><circle cx="575.8" cy="420.2" r="1"/><circle cx="548.7" cy="420.2" r="1.9"/><circle cx="533.1" cy="403" r="2.2"/><circle cx="568.4" cy="397.4" r="1.4"/><circle cx="546.7" cy="439" r="1.8"/><circle cx="574.6" cy="450.7" r="1.6"/><circle cx="568.4" cy="444.5" r="2"/><circle cx="553.6" cy="447.8" r="1.9"/><circle cx="569.9" cy="431.9" r="1.6"/><circle cx="580.9" cy="430.8" r="1.5"/><circle cx="570.9" cy="454.8" r="1.8"/><circle cx="548.3" cy="421.2" r="1.5"/><circle cx="567.5" cy="408.4" r="1.4"/><circle cx="558.1" cy="415.8" r="1.4"/><circle cx="571.1" cy="453" r="1.6"/><circle cx="551.9" cy="399.7" r="1.3"/><circle cx="535.1" cy="431" r="1.7"/><circle cx="545.1" cy="452.5" r="2.1"/><circle cx="550.9" cy="457.8" r="0.9"/><circle cx="529.7" cy="430.2" r="1.6"/><circle cx="557.2" cy="464.9" r="1.6"/><circle cx="556" cy="439.8" r="1.4"/><circle cx="547" cy="432.6" r="1.4"/><circle cx="580.1" cy="439.1" r="1.6"/><circle cx="532.5" cy="415" r="1.5"/><circle cx="558.4" cy="430.9" r="2.1"/><circle cx="581" cy="423.9" r="1.5"/><circle cx="546.2" cy="427.4" r="2"/><circle cx="536.6" cy="410.4" r="2.3"/><circle cx="573.3" cy="426" r="1.1"/><circle cx="577.1" cy="440.2" r="2"/><circle cx="550.6" cy="397.5" r="1.3"/><circle cx="555.6" cy="425.4" r="1.2"/><circle cx="537.2" cy="435.4" r="1.7"/><circle cx="562.6" cy="388.4" r="1.5"/><circle cx="571.1" cy="409.5" r="1.9"/><circle cx="574.2" cy="431.9" r="1.8"/><circle cx="538" cy="424.8" r="1.7"/><circle cx="541.9" cy="436.7" r="1.6"/><circle cx="550" cy="394.7" r="1.1"/><circle cx="569.5" cy="393.5" r="1"/><circle cx="536.6" cy="426.8" r="2.1"/><circle cx="561.3" cy="449.5" r="1"/><circle cx="545.1" cy="442.2" r="1.4"/><circle cx="536.5" cy="406.3" r="1"/><circle cx="577.6" cy="431.6" r="1.4"/><circle cx="552.2" cy="415.9" r="1"/><circle cx="576.9" cy="431.6" r="2.2"/><circle cx="551.6" cy="434.6" r="1.2"/><circle cx="574.9" cy="410.2" r="2.2"/><circle cx="572.7" cy="409.3" r="1.7"/><circle cx="580.8" cy="424.6" r="2.2"/><circle cx="540.6" cy="416.2" r="1.9"/><circle cx="539.4" cy="409.7" r="2.1"/><circle cx="554.1" cy="448.4" r="1.2"/><circle cx="536.7" cy="413.7" r="1.2"/><circle cx="558.4" cy="394.2" r="1.6"/><circle cx="548.6" cy="417.3" r="1"/><circle cx="533.9" cy="451.1" r="1.4"/><circle cx="540.7" cy="400.3" r="1.3"/><circle cx="564.2" cy="412.3" r="1.1"/><circle cx="566.5" cy="392.4" r="1.3"/><circle cx="551.8" cy="451.9" r="2"/><circle cx="535.9" cy="413.2" r="1.9"/><circle cx="548.1" cy="461.7" r="1.2"/><circle cx="580.3" cy="425.4" r="1.2"/><circle cx="552.4" cy="395.5" r="1.9"/><circle cx="541.6" cy="457" r="1.7"/><circle cx="547.6" cy="404.7" r="1.8"/><circle cx="538.9" cy="454.8" r="1.1"/><circle cx="555.7" cy="428.4" r="1.3"/><circle cx="570.2" cy="415.8" r="1.8"/><circle cx="558.8" cy="409.9" r="1.4"/><circle cx="574.7" cy="410.7" r="1.8"/><circle cx="533.1" cy="430" r="1.4"/><circle cx="555" cy="408.8" r="1"/><circle cx="544.4" cy="403.1" r="1.1"/><circle cx="567.1" cy="407.6" r="1.5"/><circle cx="577.9" cy="447" r="2.1"/><circle cx="565.1" cy="438.1" r="1.4"/><circle cx="550.1" cy="437.7" r="1.9"/><circle cx="540.9" cy="452.7" r="1.4"/><circle cx="562.2" cy="399.5" r="1.1"/><circle cx="578.1" cy="443.7" r="1.9"/><circle cx="536.1" cy="400.8" r="1.3"/><circle cx="548.3" cy="388.1" r="1.3"/><circle cx="562.7" cy="399.4" r="2.1"/><circle cx="558.9" cy="442.3" r="1.3"/><circle cx="551.4" cy="439.7" r="1.4"/><circle cx="570.5" cy="407.9" r="1"/><circle cx="574.8" cy="433.6" r="1"/><circle cx="540.7" cy="393.9" r="2"/><circle cx="569" cy="391.9" r="1.9"/><circle cx="549" cy="444.8" r="2.1"/><circle cx="542.7" cy="392.2" r="2.2"/><circle cx="550.7" cy="459.4" r="1.9"/><circle cx="568.4" cy="451.4" r="1.8"/><circle cx="552.4" cy="389.3" r="1.9"/><circle cx="551" cy="426" r="2.2"/><circle cx="534.1" cy="446" r="1"/><circle cx="566.4" cy="449.5" r="1.3"/><circle cx="557.6" cy="462.6" r="1.8"/><circle cx="557.5" cy="405" r="1"/><circle cx="547" cy="417.9" r="1.2"/><circle cx="544.4" cy="395.9" r="1.9"/><circle cx="564.5" cy="404" r="1.2"/><circle cx="555.9" cy="420.6" r="2.2"/><circle cx="546.7" cy="408.9" r="2.1"/><circle cx="534.9" cy="430.1" r="1.4"/><circle cx="572.7" cy="428.9" r="2"/><circle cx="536.5" cy="438.3" r="1.7"/><circle cx="552.8" cy="446.3" r="2.1"/><circle cx="533.4" cy="408.1" r="1.4"/><circle cx="542.7" cy="400.8" r="1.9"/><circle cx="552.1" cy="394" r="1.4"/><circle cx="553.2" cy="414" r="1.1"/><circle cx="531.7" cy="442.4" r="2.3"/><circle cx="558.6" cy="393.7" r="1.6"/><circle cx="551.3" cy="400.2" r="1.7"/><circle cx="563.1" cy="435.2" r="2.2"/><circle cx="563.5" cy="405.1" r="1.2"/><circle cx="570.4" cy="452.2" r="1.3"/><circle cx="537.4" cy="436" r="2.1"/><circle cx="570.9" cy="451.4" r="1.9"/><circle cx="545.3" cy="399.8" r="2.1"/><circle cx="544.9" cy="414.5" r="1.7"/><circle cx="547.7" cy="451.5" r="1.2"/><circle cx="529.3" cy="430.3" r="1.8"/><circle cx="572.9" cy="441.4" r="2.2"/><circle cx="579.9" cy="424.6" r="1.6"/><circle cx="535.8" cy="409" r="1.7"/><circle cx="531.5" cy="440" r="1.1"/><circle cx="551.8" cy="462.6" r="1"/><circle cx="529.2" cy="420.2" r="1.2"/><circle cx="574.1" cy="453.4" r="2"/><circle cx="550.8" cy="407.7" r="1.8"/><circle cx="555.8" cy="418.7" r="1.4"/><circle cx="551.6" cy="438.3" r="2.1"/><circle cx="543.6" cy="420.5" r="1.7"/><circle cx="546.5" cy="400.6" r="1"/><circle cx="545.1" cy="421.8" r="2.3"/><circle cx="561.7" cy="449.9" r="1"/><circle cx="564.9" cy="433.7" r="1.3"/><circle cx="559" cy="461.2" r="1.6"/><circle cx="563.3" cy="408.9" r="1.4"/><circle cx="537.6" cy="439.3" r="1.5"/><circle cx="531.8" cy="437.8" r="1.4"/><circle cx="559.5" cy="418.3" r="1.6"/><circle cx="558.6" cy="416.7" r="1.1"/><circle cx="557.7" cy="394" r="2.1"/><circle cx="541.2" cy="392.6" r="1.6"/><circle cx="541.1" cy="424.1" r="1.7"/><circle cx="539.7" cy="430.8" r="1.1"/><circle cx="555.7" cy="432.1" r="1"/><circle cx="549.8" cy="390.9" r="1.5"/><circle cx="575.4" cy="429" r="1.9"/><circle cx="569.4" cy="394.2" r="2.3"/><circle cx="567.4" cy="393.2" r="2.1"/><circle cx="548.9" cy="398.7" r="2.2"/><circle cx="558.5" cy="447" r="1.1"/><circle cx="540.3" cy="414.8" r="0.9"/><circle cx="560.3" cy="402.1" r="1.3"/><circle cx="566.6" cy="419.1" r="2.1"/><circle cx="561.8" cy="454.8" r="1.7"/><circle cx="536.4" cy="444.6" r="1.4"/><circle cx="569.8" cy="439.4" r="2.1"/><circle cx="533.9" cy="414.8" r="1.9"/><circle cx="580.1" cy="442.7" r="1"/><circle cx="560.8" cy="393" r="1.7"/><circle cx="572" cy="394" r="2.2"/><circle cx="564.8" cy="405.4" r="1.2"/><circle cx="552" cy="452.1" r="1.7"/><circle cx="533.2" cy="449.1" r="1.2"/><circle cx="558" cy="408.2" r="1.9"/><circle cx="548.3" cy="396.5" r="2.1"/><circle cx="557.2" cy="440.2" r="2"/><circle cx="546.2" cy="397.1" r="1.6"/><circle cx="575.9" cy="449" r="0.9"/><circle cx="537.2" cy="450.5" r="1.9"/><circle cx="549" cy="423.1" r="1.1"/><circle cx="574.3" cy="416.5" r="2.1"/><circle cx="561.2" cy="391.1" r="1.4"/><circle cx="539.1" cy="456.5" r="1.7"/><circle cx="547.2" cy="422.4" r="1.7"/><circle cx="548.7" cy="413.3" r="0.9"/><circle cx="559.4" cy="411.7" r="0.9"/><circle cx="552.7" cy="463.9" r="1"/><circle cx="535.2" cy="438.7" r="1.3"/><circle cx="542.3" cy="425" r="1.3"/><circle cx="558.9" cy="427.3" r="2.2"/><circle cx="558.4" cy="446.7" r="2.1"/><circle cx="570.4" cy="435.6" r="1.8"/><circle cx="547.3" cy="407.5" r="2"/><circle cx="565.2" cy="409.3" r="2"/><circle cx="568.4" cy="425.7" r="1.8"/><circle cx="546.6" cy="429.1" r="1.5"/><circle cx="530.4" cy="412" r="1.4"/><circle cx="582.4" cy="423.5" r="1.4"/><circle cx="540.6" cy="403.8" r="1.4"/><circle cx="575.8" cy="421.3" r="1.5"/><circle cx="558.8" cy="409.2" r="1.1"/><circle cx="530.7" cy="409.1" r="1.3"/><circle cx="567.7" cy="429.1" r="2.2"/><circle cx="546.1" cy="458.7" r="1.7"/><circle cx="559.5" cy="464" r="1.4"/><circle cx="570.4" cy="419.3" r="2.1"/><circle cx="530.8" cy="423.8" r="2.2"/><circle cx="542.4" cy="405.6" r="0.9"/><circle cx="536.2" cy="406.4" r="1.9"/><circle cx="539.2" cy="417" r="1.2"/><circle cx="560.8" cy="454.1" r="1.8"/><circle cx="538" cy="443.7" r="2.2"/><circle cx="560.7" cy="391.3" r="2"/><circle cx="576" cy="412.3" r="1.1"/><circle cx="537.5" cy="428" r="2.1"/><circle cx="562.8" cy="458.8" r="1.2"/><circle cx="545.3" cy="444.9" r="1.8"/><circle cx="549.7" cy="439.3" r="1.4"/><circle cx="530.2" cy="418.1" r="1"/><circle cx="562.1" cy="411.8" r="1.6"/><circle cx="560.5" cy="405.6" r="1.5"/><circle cx="558.6" cy="464" r="1"/><circle cx="561.4" cy="442.9" r="1.4"/><circle cx="535" cy="446.4" r="1"/><circle cx="572.6" cy="418.9" r="1.7"/><circle cx="560" cy="429.4" r="1.8"/><circle cx="560.7" cy="411.5" r="1.9"/><circle cx="541.4" cy="441.9" r="2"/><circle cx="570.5" cy="409.7" r="2"/><circle cx="581.7" cy="421.3" r="1.3"/><circle cx="556.3" cy="460.3" r="1.1"/><circle cx="527.5" cy="423.1" r="1.8"/><circle cx="570.4" cy="414" r="2.3"/><circle cx="539.8" cy="445.5" r="1"/><circle cx="530.4" cy="425.1" r="1.7"/><circle cx="547.5" cy="396.9" r="1.1"/><circle cx="568.3" cy="458.7" r="1.1"/><circle cx="554.9" cy="435.9" r="1.4"/><circle cx="571.8" cy="421.8" r="1.4"/><circle cx="568.1" cy="390.2" r="1.8"/><circle cx="549.5" cy="454.1" r="1"/><circle cx="558.6" cy="417.8" r="2.2"/><circle cx="579.9" cy="435.2" r="1.2"/><circle cx="541.1" cy="406" r="1.5"/><circle cx="540" cy="401.3" r="2"/><circle cx="563" cy="408.9" r="2.3"/><circle cx="539.1" cy="430.6" r="1.1"/><circle cx="542" cy="445.1" r="2.1"/><circle cx="542.8" cy="411.5" r="1.6"/><circle cx="565.2" cy="432.8" r="1.5"/><circle cx="559.4" cy="455.6" r="1.2"/><circle cx="576.5" cy="413.8" r="2"/><circle cx="575.3" cy="399.6" r="2.1"/><circle cx="568.2" cy="392.8" r="1.1"/><circle cx="565.2" cy="392.2" r="1.4"/><circle cx="578.4" cy="442.3" r="2.1"/><circle cx="540.1" cy="448.4" r="1.9"/><circle cx="529.1" cy="425.4" r="1.2"/><circle cx="551.1" cy="393.4" r="0.9"/><circle cx="554.3" cy="395.9" r="1.5"/><circle cx="537" cy="439.8" r="1.1"/><circle cx="568.3" cy="425.1" r="1.1"/><circle cx="546.8" cy="424.7" r="2.2"/><circle cx="546.6" cy="402.2" r="2.3"/><circle cx="576.5" cy="443.5" r="1.3"/><circle cx="536.9" cy="406.2" r="1"/><circle cx="529.4" cy="425.7" r="1.5"/><circle cx="558.2" cy="414" r="0.9"/><circle cx="565.5" cy="437.2" r="1.7"/><circle cx="557.7" cy="440.2" r="2.3"/><circle cx="575.9" cy="442.4" r="1.5"/><circle cx="544.8" cy="418.5" r="2.3"/><circle cx="548.7" cy="415.8" r="1.5"/><circle cx="578.9" cy="405.4" r="1.8"/><circle cx="548.1" cy="404.3" r="1.2"/><circle cx="570.9" cy="457.7" r="1"/><circle cx="565.9" cy="410.9" r="1.8"/><circle cx="557.7" cy="410.2" r="2.3"/><circle cx="574.8" cy="425.8" r="1.7"/><circle cx="562.3" cy="444.5" r="1.4"/><circle cx="566.9" cy="416.5" r="1.6"/><circle cx="561.3" cy="439.2" r="1.4"/><circle cx="562.2" cy="428.4" r="1.2"/><circle cx="561.3" cy="406.2" r="2.2"/><circle cx="553.5" cy="442.7" r="1.6"/><circle cx="553.7" cy="402.7" r="1.1"/><circle cx="578.9" cy="427.3" r="1.6"/><circle cx="556.5" cy="450.1" r="1.2"/><circle cx="536.7" cy="450.8" r="1.5"/><circle cx="562.9" cy="451.2" r="2.2"/><circle cx="548.4" cy="451.6" r="2"/><circle cx="541.1" cy="393.2" r="1.4"/><circle cx="572" cy="426.7" r="1.5"/><circle cx="531.9" cy="416.6" r="2.3"/><circle cx="565.9" cy="420.9" r="1.6"/><circle cx="571.7" cy="445.7" r="1.1"/><circle cx="565.1" cy="414.4" r="1.6"/><circle cx="540.3" cy="414.7" r="1.4"/><circle cx="548.3" cy="386.4" r="1.2"/><circle cx="559" cy="389.6" r="1.1"/><circle cx="567.2" cy="407" r="1.4"/><circle cx="540.5" cy="451.7" r="1"/><circle cx="562.6" cy="453.7" r="1.2"/><circle cx="550.7" cy="448.4" r="1.8"/><circle cx="547.8" cy="388.5" r="1.5"/><circle cx="547.6" cy="442" r="1.3"/><circle cx="549.8" cy="436.9" r="2"/><circle cx="546.7" cy="415.8" r="1.7"/><circle cx="547.9" cy="438.2" r="1.4"/><circle cx="531" cy="445.5" r="1.4"/><circle cx="556.4" cy="424.7" r="2.2"/><circle cx="560.2" cy="422" r="1.5"/><circle cx="574" cy="418.2" r="1.6"/><circle cx="576.9" cy="420.2" r="1.6"/><circle cx="555.7" cy="451" r="1.8"/><circle cx="568.5" cy="417.1" r="1"/><circle cx="565.1" cy="429.3" r="2"/><circle cx="570.1" cy="394.4" r="1.2"/><circle cx="569.2" cy="430.2" r="1"/><circle cx="565.1" cy="441.9" r="1.6"/><circle cx="530.1" cy="440.3" r="1.5"/><circle cx="572.7" cy="454.8" r="1.1"/><circle cx="545.7" cy="426.5" r="0.9"/><circle cx="541.7" cy="410" r="1.3"/><circle cx="575.1" cy="429.5" r="1.6"/><circle cx="550.5" cy="389.1" r="1.3"/><circle cx="575.5" cy="449.2" r="2.1"/><circle cx="541.4" cy="401.2" r="1"/><circle cx="557.1" cy="414.9" r="1.5"/><circle cx="554.4" cy="431.7" r="1.4"/><circle cx="571.9" cy="401" r="2.2"/><circle cx="558.1" cy="389.1" r="1.3"/><circle cx="556.9" cy="417.7" r="1.7"/><circle cx="545.1" cy="406.9" r="2"/><circle cx="543.3" cy="441.8" r="2"/><circle cx="560.2" cy="421.4" r="2.2"/><circle cx="551.9" cy="455.2" r="1"/><circle cx="551.3" cy="436.1" r="1"/><circle cx="560.4" cy="399.4" r="2.2"/><circle cx="558.4" cy="449.1" r="1.6"/><circle cx="564.7" cy="439" r="1.3"/><circle cx="538.8" cy="452.1" r="1.1"/><circle cx="550.2" cy="437.7" r="1.3"/><circle cx="577.7" cy="439.9" r="1.1"/><circle cx="530.2" cy="440.7" r="1"/><circle cx="573.8" cy="408.5" r="1.2"/><circle cx="559.6" cy="410.5" r="1.7"/><circle cx="545.2" cy="452.3" r="1.1"/><circle cx="548.9" cy="387.6" r="1.4"/><circle cx="562.9" cy="402.9" r="1.7"/><circle cx="532.2" cy="422.2" r="1.9"/><circle cx="551.1" cy="439.3" r="1.1"/><circle cx="579.6" cy="427.1" r="1.3"/><circle cx="546.5" cy="445" r="1.6"/><circle cx="554.1" cy="454.1" r="1.7"/><circle cx="557.3" cy="392.1" r="1.1"/><circle cx="542.2" cy="456.4" r="2.1"/><circle cx="528.8" cy="432.9" r="2.3"/><circle cx="546.3" cy="460.6" r="1.8"/><circle cx="529.8" cy="411.7" r="1.5"/><circle cx="540.9" cy="444.4" r="1.2"/><circle cx="571.1" cy="408.9" r="1"/><circle cx="558.3" cy="392.7" r="1.7"/><circle cx="571.1" cy="432.6" r="1.5"/><circle cx="528.9" cy="426.1" r="1"/><circle cx="563.2" cy="395.6" r="1.7"/><circle cx="546.8" cy="415" r="1.8"/><circle cx="536.2" cy="398.6" r="2.2"/><circle cx="545.6" cy="452.4" r="2.1"/><circle cx="553.9" cy="396.9" r="1"/><circle cx="554.8" cy="427.9" r="1.1"/><circle cx="553.2" cy="398.1" r="1.6"/><circle cx="555.4" cy="414.4" r="1.2"/><circle cx="549.6" cy="401.3" r="1.1"/><circle cx="540.4" cy="454.7" r="1.6"/><circle cx="579.8" cy="424.1" r="2"/><circle cx="558.9" cy="440.1" r="1.2"/><circle cx="569" cy="397.3" r="1.3"/><circle cx="528.7" cy="416.5" r="1.6"/><circle cx="543.3" cy="456.2" r="1"/><circle cx="559.4" cy="403.7" r="1.7"/><circle cx="570.9" cy="441.9" r="1"/><circle cx="540.8" cy="432.9" r="2.3"/><circle cx="529.3" cy="434.5" r="1.9"/><circle cx="572.6" cy="412.4" r="2"/><circle cx="552.9" cy="458.7" r="0.9"/><circle cx="579.7" cy="418" r="1.5"/><circle cx="531.9" cy="404.6" r="1.9"/><circle cx="565" cy="397.1" r="1.4"/><circle cx="534.9" cy="400.9" r="1.2"/><circle cx="553.9" cy="424.8" r="2"/><circle cx="577.9" cy="445.1" r="1.8"/><circle cx="538.1" cy="435" r="2.1"/><circle cx="571.1" cy="392.4" r="1.9"/><circle cx="546.6" cy="398" r="2.3"/><circle cx="564.7" cy="444.6" r="1.1"/><circle cx="577.7" cy="444.6" r="2.1"/><circle cx="571.9" cy="432.2" r="1.5"/><circle cx="573.2" cy="447.8" r="2.1"/><circle cx="556.8" cy="460.7" r="1.1"/><circle cx="541.1" cy="452.1" r="1.2"/><circle cx="538.1" cy="421.6" r="1.2"/><circle cx="554.6" cy="457.6" r="1.9"/><circle cx="566.8" cy="416.4" r="2"/><circle cx="571.4" cy="439.6" r="2.2"/><circle cx="573.2" cy="417.5" r="1"/><circle cx="563.5" cy="451.9" r="1.4"/><circle cx="560.3" cy="451.9" r="2"/><circle cx="527.3" cy="424.1" r="0.9"/><circle cx="533.2" cy="450" r="1.5"/><circle cx="560.9" cy="421.6" r="1.4"/><circle cx="539" cy="413.3" r="2.1"/><circle cx="561.7" cy="408.4" r="1"/><circle cx="509.9" cy="458.4" r="1.5"/><circle cx="527.1" cy="461.8" r="1.1"/><circle cx="528" cy="437.3" r="2.1"/><circle cx="506.1" cy="444.7" r="2.2"/><circle cx="513.9" cy="443.2" r="2.1"/><circle cx="524.9" cy="464.6" r="1.5"/><circle cx="520" cy="466.6" r="1.6"/><circle cx="534.5" cy="441.2" r="1.6"/><circle cx="539.6" cy="450.5" r="2"/><circle cx="509" cy="447.3" r="1"/><circle cx="522.3" cy="463.6" r="1.6"/><circle cx="514.6" cy="465.7" r="2.2"/><circle cx="527.3" cy="438.4" r="1.8"/><circle cx="517.5" cy="466.7" r="1.4"/><circle cx="527.1" cy="456.2" r="1.4"/><circle cx="521" cy="457.6" r="2.2"/><circle cx="519.9" cy="447.6" r="2.3"/><circle cx="528.1" cy="453.8" r="1.5"/><circle cx="531" cy="464.5" r="1.9"/><circle cx="512.3" cy="440.4" r="2.2"/><circle cx="523.9" cy="454.5" r="1"/><circle cx="515.3" cy="459.9" r="1.8"/><circle cx="510.4" cy="460.4" r="1.3"/><circle cx="521.9" cy="449.5" r="2.3"/><circle cx="526.5" cy="461.8" r="1.8"/><circle cx="514.7" cy="466.8" r="1.9"/><circle cx="528.4" cy="444.9" r="1.1"/><circle cx="523.3" cy="462.4" r="2"/><circle cx="513.3" cy="440.5" r="1.6"/><circle cx="530.5" cy="441.5" r="1.3"/><circle cx="500.4" cy="445.5" r="1.4"/><circle cx="506.2" cy="445.9" r="2.2"/><circle cx="506.7" cy="446.3" r="1.5"/><circle cx="502.8" cy="444.3" r="1.5"/><circle cx="515" cy="466.8" r="1.3"/><circle cx="517.8" cy="462.8" r="1.8"/><circle cx="532.3" cy="446.1" r="1.1"/><circle cx="531.3" cy="451" r="1.7"/><circle cx="527.5" cy="460.1" r="1.3"/><circle cx="514" cy="465.4" r="1.6"/><circle cx="510.7" cy="456.2" r="1.3"/><circle cx="534.4" cy="454.1" r="1.4"/><circle cx="539.4" cy="444.5" r="1.2"/><circle cx="501.1" cy="453.6" r="2"/><circle cx="527.8" cy="449.2" r="2"/><circle cx="502.9" cy="445.8" r="1.8"/><circle cx="540.6" cy="456.3" r="1.9"/><circle cx="532.1" cy="448.6" r="2.2"/><circle cx="530.7" cy="446.9" r="1.4"/><circle cx="533.5" cy="447.2" r="1.2"/><circle cx="536.4" cy="453" r="1.6"/><circle cx="527.5" cy="464.8" r="1.1"/><circle cx="512.9" cy="438.1" r="1.5"/><circle cx="520.1" cy="463.3" r="1.8"/><circle cx="523.4" cy="448.9" r="1.7"/><circle cx="510" cy="463" r="2"/><circle cx="534.9" cy="440.8" r="1.8"/><circle cx="531.2" cy="452" r="2.2"/><circle cx="537.5" cy="459.8" r="2"/><circle cx="526.5" cy="464.1" r="1.1"/><circle cx="529" cy="458.5" r="1.8"/><circle cx="510.1" cy="438.2" r="1.7"/><circle cx="534.3" cy="444.7" r="1.2"/><circle cx="507.9" cy="439" r="1.8"/><circle cx="513.8" cy="458.4" r="1"/><circle cx="534.9" cy="446.4" r="0.9"/><circle cx="525.7" cy="440.4" r="1.3"/><circle cx="500.6" cy="450.3" r="1.7"/><circle cx="507.9" cy="456.1" r="1.4"/><circle cx="512.6" cy="454.2" r="1.2"/><circle cx="532.9" cy="442.7" r="2.1"/><circle cx="533.6" cy="453.2" r="0.9"/><circle cx="520.2" cy="449.6" r="1"/><circle cx="525.7" cy="459.2" r="1.7"/><circle cx="515.6" cy="452.4" r="1.7"/><circle cx="508" cy="463.8" r="2.3"/><circle cx="501.1" cy="451.3" r="1.1"/><circle cx="518" cy="457.8" r="1.9"/><circle cx="518" cy="446.9" r="1.2"/><circle cx="515.7" cy="445" r="1.2"/><circle cx="530.4" cy="452.5" r="1.5"/><circle cx="506.7" cy="458.5" r="1.2"/><circle cx="509.7" cy="453.9" r="1.9"/><circle cx="529.8" cy="459" r="1"/><circle cx="536" cy="459.1" r="1.8"/><circle cx="509.6" cy="447.4" r="1.1"/><circle cx="511.5" cy="437.4" r="1.1"/><circle cx="513.6" cy="464.8" r="2"/><circle cx="518" cy="439.3" r="1"/><circle cx="504.8" cy="460.9" r="1.6"/><circle cx="533" cy="451.2" r="2.1"/><circle cx="522.8" cy="452.3" r="1.2"/><circle cx="538" cy="458.7" r="2.2"/><circle cx="541.1" cy="450" r="1.9"/><circle cx="514.9" cy="462" r="2.1"/><circle cx="507.4" cy="454.7" r="1.4"/><circle cx="532.6" cy="450.8" r="1"/><circle cx="537.1" cy="453.1" r="1"/><circle cx="512.2" cy="456" r="2.1"/><circle cx="519.3" cy="456.5" r="1.2"/><circle cx="508.7" cy="465" r="1.4"/><circle cx="502.6" cy="454.9" r="1.1"/><circle cx="506.8" cy="450.6" r="1.7"/><circle cx="526" cy="458.6" r="1.5"/><circle cx="501" cy="459.2" r="1"/><circle cx="518.7" cy="448.8" r="1.8"/><circle cx="529.4" cy="443.7" r="1.8"/><circle cx="528.4" cy="451.1" r="1.1"/><circle cx="538" cy="455.2" r="1"/><circle cx="508.1" cy="448.6" r="2"/><circle cx="534.2" cy="456.3" r="1.9"/><circle cx="507.7" cy="457.5" r="2.2"/><circle cx="526.1" cy="465.4" r="1.3"/><circle cx="531.3" cy="439.3" r="2.3"/><circle cx="529.2" cy="442" r="2"/><circle cx="505.2" cy="452.4" r="1"/><circle cx="532.6" cy="464.5" r="2.2"/><circle cx="522.5" cy="462.3" r="1.6"/><circle cx="525.3" cy="455" r="2"/><circle cx="522" cy="445.3" r="1.5"/><circle cx="533.7" cy="450.7" r="1.1"/><circle cx="526.6" cy="442.6" r="1.5"/><circle cx="522" cy="447.3" r="1"/><circle cx="530.1" cy="463.2" r="2.1"/><circle cx="502.5" cy="447.8" r="1.3"/><circle cx="531.5" cy="440.7" r="1.7"/><circle cx="503" cy="458.2" r="1.7"/><circle cx="520.9" cy="450.6" r="1.5"/><circle cx="524.9" cy="456.8" r="2.2"/><circle cx="530.2" cy="461.5" r="2.2"/><circle cx="534.8" cy="458.9" r="0.9"/><circle cx="528" cy="463.2" r="1.5"/><circle cx="536.6" cy="441.8" r="2.2"/><circle cx="517.4" cy="458.6" r="1.3"/><circle cx="511.2" cy="447.2" r="1.4"/><circle cx="502.2" cy="450.2" r="2.3"/><circle cx="526.8" cy="465.8" r="2"/><circle cx="531.1" cy="444.8" r="1.2"/><circle cx="516.1" cy="436.7" r="1.2"/><circle cx="512.5" cy="460.7" r="2"/><circle cx="500.9" cy="436.5" r="1.6"/><circle cx="495.1" cy="421.4" r="1.4"/><circle cx="497.4" cy="451.9" r="1.1"/><circle cx="497.3" cy="423.5" r="1.7"/><circle cx="501.4" cy="401.7" r="2.2"/><circle cx="494.9" cy="446.6" r="0.9"/><circle cx="494.6" cy="429.4" r="2.3"/><circle cx="493.8" cy="404.4" r="1.9"/><circle cx="498.9" cy="432.1" r="2"/><circle cx="494.5" cy="388.1" r="0.9"/><circle cx="498.9" cy="383.8" r="1.3"/><circle cx="501.6" cy="422.9" r="1.7"/><circle cx="498.6" cy="418.8" r="1.9"/><circle cx="495" cy="370.8" r="1"/><circle cx="496.9" cy="452.3" r="1.9"/><circle cx="494.7" cy="434.2" r="1.1"/><circle cx="493" cy="392.3" r="1.5"/><circle cx="498.9" cy="405" r="1.9"/><circle cx="495.4" cy="439.9" r="0.9"/><circle cx="500.3" cy="385.4" r="2.1"/><circle cx="500" cy="425.4" r="1.3"/><circle cx="498.6" cy="417.8" r="1.8"/><circle cx="493.8" cy="377.9" r="1"/><circle cx="501.8" cy="399.5" r="1.8"/><circle cx="497.7" cy="385.1" r="1"/><circle cx="495.6" cy="430" r="1.1"/><circle cx="499.9" cy="387.6" r="1.4"/><circle cx="497.2" cy="375" r="1.2"/><circle cx="500" cy="390.7" r="1.4"/><circle cx="499.6" cy="385.2" r="1.2"/><circle cx="494.2" cy="399.6" r="1.4"/><circle cx="498.4" cy="407.5" r="2.1"/><circle cx="492.5" cy="424.7" r="2.1"/><circle cx="496.4" cy="375.4" r="1.5"/><circle cx="499.1" cy="373.4" r="1.1"/><circle cx="496.8" cy="380.6" r="1.2"/><circle cx="496.4" cy="375.6" r="1"/><circle cx="495.6" cy="407.2" r="2.2"/><circle cx="497.5" cy="371.4" r="1.2"/><circle cx="499.4" cy="415.7" r="2.1"/><circle cx="497.2" cy="386.6" r="1.1"/><circle cx="500.6" cy="384.1" r="1"/><circle cx="494.7" cy="448.2" r="1.5"/><circle cx="499.3" cy="371.7" r="1.5"/><circle cx="495.2" cy="383.5" r="1.8"/><circle cx="495.6" cy="375.8" r="2.3"/><circle cx="496.8" cy="381.2" r="0.9"/><circle cx="498.5" cy="411.3" r="0.9"/><circle cx="496.7" cy="431.6" r="1.7"/><circle cx="494.3" cy="409.9" r="1.7"/><circle cx="498.5" cy="378.1" r="2"/><circle cx="500.6" cy="398.1" r="2.2"/><circle cx="493.8" cy="385.4" r="1.7"/><circle cx="496.4" cy="377.6" r="1.2"/><circle cx="499.5" cy="417.5" r="2.2"/><circle cx="496" cy="426.1" r="0.9"/><circle cx="496.8" cy="411" r="2.2"/><circle cx="496.9" cy="454.3" r="1.8"/><circle cx="494.2" cy="440.1" r="1.2"/><circle cx="495.2" cy="401.6" r="1.4"/><circle cx="495.7" cy="379.6" r="2.1"/><circle cx="494.6" cy="405.9" r="1.7"/><circle cx="499.1" cy="377.4" r="1.2"/><circle cx="497.2" cy="417.3" r="2.1"/><circle cx="493.7" cy="417.7" r="1.5"/><circle cx="496.1" cy="445" r="1.8"/><circle cx="494.7" cy="449.8" r="1.5"/><circle cx="494.9" cy="391" r="2.3"/><circle cx="500.7" cy="402.8" r="1.6"/><circle cx="500.5" cy="437.6" r="1.8"/><circle cx="497.1" cy="375.5" r="1.2"/><circle cx="498.6" cy="417.8" r="2"/><circle cx="501" cy="416.3" r="1.2"/><circle cx="498.9" cy="388" r="1.2"/><circle cx="495.7" cy="412.1" r="1.8"/><circle cx="492.7" cy="431.7" r="1.8"/><circle cx="496.7" cy="425.5" r="2"/><circle cx="505.2" cy="393.7" r="1.8"/><circle cx="522" cy="395.8" r="1.2"/><circle cx="510.6" cy="393.2" r="2.2"/><circle cx="510" cy="392.9" r="2.2"/><circle cx="526.6" cy="390.8" r="1.9"/><circle cx="513.6" cy="396" r="2"/><circle cx="508.1" cy="390.7" r="1.2"/><circle cx="508.3" cy="392.9" r="1.5"/><circle cx="506.9" cy="395" r="2.2"/><circle cx="518.8" cy="392.3" r="1.9"/><circle cx="515.5" cy="390.1" r="1.6"/><circle cx="508.9" cy="392.4" r="2.2"/><circle cx="523.4" cy="398" r="1.8"/><circle cx="520.2" cy="396.5" r="2.3"/><circle cx="509.7" cy="397.2" r="1.3"/><circle cx="511.1" cy="397.9" r="1.7"/><circle cx="519.1" cy="390.4" r="0.9"/><circle cx="517.8" cy="396.7" r="1.3"/><circle cx="509.2" cy="396.4" r="0.9"/><circle cx="510.5" cy="391.2" r="1.9"/><circle cx="513" cy="394.3" r="1.3"/><circle cx="515" cy="393.7" r="1.3"/><circle cx="520" cy="396.4" r="1.3"/><circle cx="524" cy="396.7" r="1.4"/><circle cx="516.8" cy="390.3" r="2.2"/><circle cx="518.4" cy="388.6" r="1.1"/><circle cx="521.6" cy="392.6" r="1.9"/><circle cx="510.5" cy="397.6" r="2"/><circle cx="507.3" cy="395" r="1.2"/><circle cx="522" cy="397.6" r="2"/><circle cx="510.5" cy="389.1" r="1.8"/><circle cx="518.6" cy="389.7" r="1.2"/><circle cx="519" cy="389.3" r="1.8"/><circle cx="575.3" cy="368.8" r="1.5"/><circle cx="580.6" cy="382.7" r="0.9"/><circle cx="584" cy="367.6" r="1.3"/><circle cx="582.5" cy="381.7" r="1.8"/><circle cx="587.2" cy="367.1" r="1.3"/><circle cx="582.9" cy="368.8" r="1.1"/><circle cx="575.1" cy="384.1" r="2.1"/><circle cx="585.3" cy="370.3" r="1.3"/><circle cx="584" cy="362.7" r="1.8"/><circle cx="580.2" cy="365.5" r="2.2"/><circle cx="586.8" cy="374.9" r="1.2"/><circle cx="573.2" cy="376.2" r="1.6"/><circle cx="577.5" cy="382.5" r="1.6"/><circle cx="585" cy="364.2" r="1"/><circle cx="578" cy="375.5" r="1.3"/><circle cx="583" cy="367.7" r="1.3"/><circle cx="579.6" cy="382.4" r="2"/><circle cx="577.7" cy="374.4" r="2.2"/><circle cx="587.8" cy="379.6" r="1"/><circle cx="579.2" cy="380.1" r="1.3"/><circle cx="579.4" cy="379.6" r="1.3"/><circle cx="572.2" cy="383.5" r="2"/><circle cx="578.9" cy="363.6" r="1.5"/><circle cx="571.9" cy="369.6" r="2"/><circle cx="580.6" cy="386" r="1.1"/><circle cx="574.1" cy="383.9" r="1.5"/><circle cx="577.1" cy="364.7" r="1.2"/><circle cx="575.7" cy="383.2" r="2.1"/><circle cx="587.3" cy="375.2" r="2.2"/><circle cx="581.9" cy="369.7" r="1.6"/><circle cx="583.9" cy="383" r="1.1"/><circle cx="577.1" cy="368.4" r="1.3"/><circle cx="579.4" cy="390.7" r="1.1"/><circle cx="586.4" cy="370.6" r="1.1"/><circle cx="584.4" cy="371.2" r="1.2"/><circle cx="578.5" cy="385.7" r="2.1"/><circle cx="581.3" cy="361.3" r="2"/><circle cx="581.9" cy="388" r="2.2"/><circle cx="576.9" cy="386.5" r="2"/><circle cx="595.8" cy="387.6" r="1.4"/><circle cx="597.4" cy="387.8" r="1.1"/><circle cx="595.1" cy="397.4" r="1.5"/><circle cx="602.4" cy="397" r="2"/><circle cx="595.4" cy="397.6" r="2"/><circle cx="604.6" cy="395.6" r="1.3"/><circle cx="602.8" cy="387.9" r="2.1"/><circle cx="593.4" cy="390.7" r="1.4"/><circle cx="605.8" cy="387.2" r="2.1"/><circle cx="604.4" cy="393.2" r="1.8"/><circle cx="600.9" cy="389.2" r="1.4"/><circle cx="605.1" cy="395.1" r="2.1"/><circle cx="594.9" cy="387.1" r="1.2"/><circle cx="592.8" cy="386.9" r="0.9"/><circle cx="605.3" cy="385.1" r="1"/><circle cx="592.2" cy="394.3" r="1.2"/><circle cx="599.3" cy="388.2" r="2"/><circle cx="608.2" cy="386.6" r="1.8"/><circle cx="607.1" cy="389.5" r="2.2"/><circle cx="604.2" cy="386.6" r="2.1"/><circle cx="601.3" cy="382.9" r="1.7"/><circle cx="605.9" cy="390.3" r="1.6"/><circle cx="598.5" cy="396.8" r="1.8"/><circle cx="473.5" cy="397.1" r="1.4"/><circle cx="482.5" cy="401.7" r="1.1"/><circle cx="478.1" cy="398.1" r="1.9"/><circle cx="476.2" cy="393.3" r="1.6"/><circle cx="480.8" cy="403" r="1.4"/><circle cx="473.7" cy="402.4" r="2"/><circle cx="473.6" cy="404.4" r="2.3"/><circle cx="476.2" cy="397.3" r="1.9"/><circle cx="474.6" cy="396.6" r="1.9"/><circle cx="473.2" cy="399.7" r="1.6"/><circle cx="479" cy="394" r="2.2"/><circle cx="480.5" cy="394.6" r="2.2"/><circle cx="477.6" cy="402.6" r="2.1"/><circle cx="475.3" cy="404.9" r="1.2"/><circle cx="471.3" cy="399" r="2.2"/><circle cx="477.1" cy="405.1" r="1.7"/><circle cx="472.7" cy="400.8" r="2"/><circle cx="476.1" cy="400.4" r="1.3"/><circle cx="474.3" cy="397.9" r="1.6"/><circle cx="476.6" cy="393.3" r="0.9"/><circle cx="475.1" cy="402" r="1.9"/><circle cx="473.8" cy="395.6" r="1.6"/><circle cx="473.1" cy="400.4" r="2.2"/><circle cx="473.4" cy="400.2" r="1.9"/><circle cx="480" cy="402" r="1.9"/><circle cx="474.3" cy="403.7" r="2.2"/><circle cx="476.3" cy="393.2" r="1"/><circle cx="480.6" cy="401.5" r="1.1"/><circle cx="476.5" cy="400.9" r="2.3"/><circle cx="478" cy="376.4" r="1.2"/><circle cx="476.4" cy="361.9" r="1.5"/><circle cx="481.4" cy="365.3" r="1.1"/><circle cx="476.3" cy="365.6" r="1.6"/><circle cx="476.2" cy="369.5" r="1.5"/><circle cx="485.7" cy="369.7" r="2.2"/><circle cx="479.7" cy="362.8" r="1.7"/><circle cx="475.7" cy="362.1" r="1"/><circle cx="478.8" cy="366.5" r="1.5"/><circle cx="478.2" cy="374.6" r="1.4"/><circle cx="480.9" cy="358.2" r="2.1"/><circle cx="482.7" cy="366.5" r="1.8"/><circle cx="485" cy="367.6" r="1.5"/><circle cx="477.6" cy="371.3" r="1.8"/><circle cx="475.7" cy="366.8" r="2.1"/><circle cx="483.5" cy="372.2" r="1.8"/><circle cx="478.1" cy="380.7" r="1.7"/><circle cx="478.8" cy="362.4" r="1.1"/><circle cx="484.8" cy="377.2" r="0.9"/><circle cx="477.9" cy="369.5" r="1.6"/><circle cx="478.4" cy="379.5" r="1.4"/><circle cx="468.3" cy="431.4" r="1.8"/><circle cx="467.8" cy="426.7" r="1.4"/><circle cx="468.9" cy="430.3" r="1.3"/><circle cx="467" cy="427.1" r="1.4"/><circle cx="471.3" cy="428.3" r="1.3"/><circle cx="468" cy="456.4" r="1.1"/><circle cx="479.3" cy="442.9" r="1.2"/><circle cx="477.6" cy="454.4" r="2.2"/><circle cx="482.7" cy="451" r="2.2"/><circle cx="470.4" cy="443.9" r="1.9"/><circle cx="480.6" cy="447.7" r="1"/><circle cx="481" cy="455.1" r="1.7"/><circle cx="475.1" cy="442.2" r="1.1"/><circle cx="464.3" cy="452.2" r="1.8"/><circle cx="483.3" cy="447.2" r="2.3"/><circle cx="470.4" cy="447.8" r="1.3"/><circle cx="464.2" cy="443.6" r="1.1"/><circle cx="468.4" cy="454.7" r="1"/><circle cx="472.7" cy="453.6" r="0.9"/><circle cx="470.5" cy="455.8" r="1.7"/><circle cx="470.8" cy="457.6" r="1.7"/><circle cx="468.1" cy="447.9" r="2.2"/><circle cx="473.5" cy="442.8" r="1.1"/><circle cx="469.2" cy="453.8" r="0.9"/><circle cx="479.2" cy="455.7" r="1.6"/><circle cx="469.9" cy="453.4" r="1.7"/><circle cx="477.5" cy="448.2" r="2.2"/><circle cx="474.8" cy="446.3" r="1.4"/><circle cx="466.5" cy="458.1" r="2"/><circle cx="478.9" cy="456.4" r="2.3"/><circle cx="476.5" cy="446.4" r="2"/><circle cx="466.3" cy="452.2" r="1.1"/><circle cx="480.6" cy="449.8" r="1.3"/><circle cx="463.6" cy="455.2" r="1.7"/><circle cx="481.8" cy="451.7" r="1.5"/><circle cx="478.6" cy="442.1" r="1.3"/><circle cx="470.6" cy="454.5" r="1.3"/><circle cx="477.5" cy="453" r="1"/><circle cx="471.9" cy="454.4" r="1.2"/><circle cx="475.7" cy="445.6" r="1.4"/><circle cx="473.7" cy="456.2" r="2"/><circle cx="470.9" cy="457.3" r="1.5"/><circle cx="482.8" cy="449.5" r="1.1"/><circle cx="478" cy="442.9" r="1.9"/><circle cx="473" cy="454.8" r="1.1"/><circle cx="475.3" cy="447.5" r="1.2"/><circle cx="471.5" cy="441.7" r="2.1"/><circle cx="471.1" cy="449.4" r="1.9"/><circle cx="477.5" cy="446.9" r="2.2"/><circle cx="464.4" cy="442.7" r="2"/><circle cx="462.9" cy="443.7" r="1.6"/><circle cx="468.1" cy="443.3" r="2.2"/><circle cx="471.4" cy="455.7" r="1.3"/><circle cx="481.9" cy="444.4" r="2.2"/><circle cx="474.7" cy="459.4" r="2"/><circle cx="475.1" cy="450.7" r="2.1"/><circle cx="470.6" cy="442" r="2.2"/><circle cx="479.3" cy="453.6" r="1.9"/><circle cx="465.6" cy="449.3" r="2.1"/><circle cx="463.9" cy="453.7" r="1.7"/><circle cx="469.7" cy="443.4" r="1.1"/><circle cx="449.3" cy="444.8" r="1.3"/><circle cx="446.8" cy="446.9" r="2"/><circle cx="452.1" cy="432.8" r="2.1"/><circle cx="446.8" cy="461.6" r="2.3"/><circle cx="441.4" cy="448" r="2.3"/><circle cx="447.2" cy="446.7" r="1.3"/><circle cx="441" cy="437.2" r="1.8"/><circle cx="451.5" cy="461.1" r="1.9"/><circle cx="446.7" cy="461.2" r="1.8"/><circle cx="451" cy="458.1" r="1.8"/><circle cx="446.6" cy="448.8" r="1.3"/><circle cx="438.2" cy="446.9" r="1.2"/><circle cx="450.2" cy="431.3" r="2.1"/><circle cx="454.1" cy="451.6" r="2.2"/><circle cx="439.2" cy="442.4" r="2.3"/><circle cx="445.5" cy="447.5" r="0.9"/><circle cx="448" cy="459.5" r="1.7"/><circle cx="442.9" cy="433.5" r="2.1"/><circle cx="444.4" cy="458.7" r="1.6"/><circle cx="445.8" cy="461.8" r="1.5"/><circle cx="454.7" cy="429.4" r="2.1"/><circle cx="455.9" cy="436.7" r="1.1"/><circle cx="446.7" cy="450.8" r="2.2"/><circle cx="453" cy="450.5" r="1.1"/><circle cx="455.4" cy="446.8" r="1.4"/><circle cx="459.6" cy="436.2" r="1.1"/><circle cx="441.8" cy="432.4" r="1.7"/><circle cx="457.2" cy="432.8" r="1.6"/><circle cx="451.8" cy="447.2" r="1.5"/><circle cx="448.1" cy="435.5" r="2"/><circle cx="443.8" cy="456.7" r="1.2"/><circle cx="440.2" cy="444.2" r="1.4"/><circle cx="446.1" cy="454.5" r="1.2"/><circle cx="454.1" cy="457.1" r="1.5"/><circle cx="450.1" cy="460.3" r="1.7"/><circle cx="440" cy="438.9" r="1"/><circle cx="453.6" cy="442.2" r="1.3"/><circle cx="450.3" cy="460.7" r="1.2"/><circle cx="441.7" cy="438" r="1.4"/><circle cx="459.8" cy="452.4" r="1.5"/><circle cx="453.6" cy="432.6" r="1.8"/><circle cx="439.4" cy="445.2" r="1.4"/><circle cx="440.5" cy="453.7" r="1.9"/><circle cx="450.3" cy="433.1" r="1.8"/><circle cx="448.4" cy="450.8" r="1"/><circle cx="443.3" cy="441.3" r="1.2"/><circle cx="440.1" cy="451.7" r="2.3"/><circle cx="446" cy="436.6" r="1.8"/><circle cx="443.3" cy="441.4" r="1.9"/><circle cx="448.3" cy="432.6" r="1"/><circle cx="467.4" cy="458.9" r="2.2"/><circle cx="482.3" cy="375" r="2.2"/><circle cx="482.6" cy="396.8" r="1.1"/><circle cx="476.1" cy="409.4" r="2.3"/><circle cx="481.8" cy="353.5" r="1.4"/><circle cx="456.5" cy="423.5" r="1.4"/><circle cx="476.9" cy="373.2" r="2.3"/><circle cx="442.1" cy="427.1" r="2.1"/><circle cx="472.7" cy="358.6" r="2.1"/><circle cx="477.1" cy="353.8" r="1.4"/><circle cx="487.9" cy="434.3" r="2.1"/><circle cx="469.9" cy="456.3" r="1.8"/><circle cx="490.1" cy="407.9" r="1.2"/><circle cx="466" cy="398" r="1.4"/><circle cx="457.9" cy="401.3" r="1.7"/><circle cx="465.2" cy="390.3" r="1.8"/><circle cx="480.1" cy="424.4" r="2"/><circle cx="465.6" cy="385" r="1.3"/><circle cx="459.5" cy="425" r="2"/><circle cx="464" cy="427.7" r="1.2"/><circle cx="457.1" cy="430.6" r="1.9"/><circle cx="473.7" cy="421.1" r="1.8"/><circle cx="475.8" cy="372.7" r="1"/><circle cx="466.4" cy="420.4" r="2.3"/><circle cx="482" cy="367.5" r="1.4"/><circle cx="443.1" cy="435.5" r="1.9"/><circle cx="464.3" cy="384.3" r="1.3"/><circle cx="464.3" cy="425.4" r="2.2"/><circle cx="461.6" cy="390.5" r="1.3"/><circle cx="484.8" cy="379.8" r="2.1"/><circle cx="486.9" cy="391.3" r="1.2"/><circle cx="480.3" cy="385" r="1.1"/><circle cx="487.6" cy="392.7" r="1.5"/><circle cx="470.3" cy="370.6" r="0.9"/><circle cx="458.8" cy="385.5" r="0.9"/><circle cx="457.8" cy="431.3" r="1.4"/><circle cx="475.1" cy="414.9" r="1.2"/><circle cx="471.2" cy="375.3" r="1.2"/><circle cx="473.1" cy="412.2" r="1.6"/><circle cx="450.5" cy="442.8" r="1.2"/><circle cx="469.9" cy="385.3" r="1"/><circle cx="481.6" cy="437.3" r="1.3"/><circle cx="567.6" cy="484.4" r="2.3"/><circle cx="495.4" cy="481.4" r="1.2"/><circle cx="552.5" cy="493.3" r="2.1"/><circle cx="544.8" cy="481.6" r="2"/><circle cx="500.5" cy="477.8" r="2"/><circle cx="534" cy="499.8" r="1"/><circle cx="536.2" cy="476.4" r="0.9"/><circle cx="526.9" cy="483" r="1.6"/><circle cx="518.9" cy="491.1" r="1.6"/><circle cx="541.1" cy="484.8" r="1.4"/><circle cx="576.1" cy="476.3" r="2.1"/><circle cx="525.8" cy="480.1" r="1.8"/><circle cx="546.3" cy="478.5" r="1"/><circle cx="585.5" cy="481.1" r="1.1"/><circle cx="555.6" cy="486" r="1.4"/><circle cx="522.8" cy="495.4" r="1.4"/><circle cx="531.7" cy="498.7" r="1.4"/><circle cx="530.2" cy="474.9" r="1.8"/><circle cx="556.5" cy="483.4" r="1.5"/><circle cx="513.3" cy="493.7" r="1.5"/><circle cx="573.2" cy="481.2" r="1.9"/><circle cx="586.1" cy="490.5" r="1.8"/><circle cx="539.7" cy="484.2" r="1.2"/><circle cx="507.3" cy="489.4" r="1.9"/><circle cx="515.9" cy="489.3" r="1.1"/><circle cx="551.3" cy="475.1" r="1.6"/><circle cx="521.4" cy="486.5" r="1.1"/><circle cx="538.3" cy="488.5" r="1.1"/><circle cx="520.9" cy="490.4" r="1.7"/><circle cx="551.7" cy="493.4" r="1.7"/><circle cx="512.2" cy="483.3" r="2.1"/><circle cx="546.7" cy="492.6" r="1.4"/><circle cx="534.8" cy="499.1" r="2.1"/><circle cx="555.3" cy="473.2" r="1.8"/><circle cx="516.8" cy="495.4" r="1.1"/><circle cx="572.8" cy="485.6" r="0.9"/><circle cx="579" cy="483.2" r="2.1"/><circle cx="558.8" cy="486" r="2.1"/><circle cx="510.3" cy="497" r="1.4"/><circle cx="552.4" cy="473.6" r="1.1"/><circle cx="519.3" cy="478.4" r="2.2"/><circle cx="589" cy="483.2" r="2"/><circle cx="518.1" cy="497.8" r="2"/><circle cx="563.2" cy="476.8" r="1"/><circle cx="582.5" cy="486.6" r="1.8"/><circle cx="559.9" cy="483.9" r="2"/><circle cx="535.6" cy="475.9" r="2.2"/><circle cx="518.1" cy="492.3" r="2.1"/><circle cx="514.8" cy="490.9" r="1.5"/><circle cx="512.4" cy="476.5" r="2.2"/><circle cx="526.8" cy="485.3" r="1.6"/><circle cx="564.5" cy="496.3" r="1.4"/><circle cx="511" cy="480.4" r="1.9"/><circle cx="555.8" cy="482.2" r="1.6"/><circle cx="537.2" cy="485.2" r="2"/><circle cx="509.8" cy="491.7" r="1.4"/><circle cx="517.6" cy="489.1" r="1.6"/><circle cx="527.7" cy="487.4" r="1.2"/><circle cx="569.9" cy="477.6" r="2.1"/><circle cx="545.2" cy="488" r="1.8"/><circle cx="502.5" cy="493.3" r="1.3"/><circle cx="576.3" cy="493.6" r="1.8"/><circle cx="571.5" cy="483.1" r="1.8"/><circle cx="500.1" cy="482.4" r="1.6"/><circle cx="504.9" cy="476.6" r="2.1"/><circle cx="528.8" cy="474.5" r="1.2"/><circle cx="547.7" cy="475.7" r="1.6"/><circle cx="543.8" cy="483.2" r="1.6"/><circle cx="547" cy="486.1" r="1.2"/><circle cx="568.1" cy="479.2" r="1.9"/><circle cx="512.8" cy="487.2" r="1.8"/><circle cx="527.2" cy="484.4" r="1"/><circle cx="554.3" cy="490.7" r="1.1"/><circle cx="545.1" cy="492" r="1"/><circle cx="498.4" cy="477.6" r="1"/><circle cx="538.9" cy="477.5" r="1.3"/><circle cx="536.2" cy="481.1" r="2"/><circle cx="562.3" cy="473.4" r="1.2"/><circle cx="500.8" cy="490.9" r="2"/><circle cx="531.2" cy="497.9" r="1.4"/><circle cx="521.2" cy="472.2" r="2.2"/><circle cx="541.2" cy="483.2" r="1.5"/><circle cx="566.9" cy="494.9" r="1.6"/><circle cx="507.8" cy="482.2" r="2.1"/><circle cx="530.8" cy="489.8" r="1.7"/><circle cx="536.1" cy="487.2" r="1.2"/><circle cx="545.7" cy="495.9" r="1"/><circle cx="526.9" cy="496.4" r="2.3"/><circle cx="553.2" cy="495.3" r="1.6"/><circle cx="503.1" cy="479" r="1.9"/><circle cx="562.8" cy="476.1" r="1.8"/><circle cx="555.7" cy="489.7" r="0.9"/><circle cx="534.2" cy="479.7" r="1.7"/><circle cx="523.7" cy="473.8" r="1.8"/><circle cx="518.7" cy="493.7" r="1.3"/><circle cx="544.6" cy="494.2" r="1.1"/><circle cx="563.1" cy="472" r="2.2"/><circle cx="526.9" cy="475.4" r="1.5"/><circle cx="540.1" cy="482.4" r="1.1"/><circle cx="542.3" cy="479" r="2.3"/><circle cx="528.3" cy="483.1" r="1.2"/><circle cx="554.6" cy="495" r="1.5"/><circle cx="565.5" cy="478.4" r="1.1"/><circle cx="494.2" cy="483.5" r="2.1"/><circle cx="510.3" cy="483.2" r="2"/><circle cx="517.6" cy="474.6" r="1.6"/><circle cx="532.5" cy="498.2" r="2.2"/><circle cx="513.8" cy="486.8" r="1.5"/><circle cx="493.4" cy="483.3" r="2.2"/><circle cx="520.3" cy="487.6" r="1.9"/><circle cx="500.9" cy="479" r="1.9"/><circle cx="491.9" cy="481.3" r="1.1"/><circle cx="537.3" cy="470.5" r="1.1"/><circle cx="541.8" cy="474.1" r="2"/><circle cx="531.7" cy="477.6" r="1.2"/><circle cx="564.2" cy="472.9" r="2.2"/><circle cx="530.8" cy="487.9" r="2.1"/><circle cx="559.4" cy="487.6" r="1.9"/><circle cx="517.8" cy="484.9" r="1.2"/><circle cx="533.7" cy="478.4" r="1.7"/><circle cx="519.9" cy="478.2" r="1.8"/><circle cx="539.6" cy="476.9" r="1.1"/><circle cx="540.9" cy="485.1" r="1.9"/><circle cx="527.4" cy="482.4" r="2.1"/><circle cx="571.4" cy="488.4" r="1.2"/><circle cx="571" cy="486.7" r="1"/><circle cx="576.3" cy="475.3" r="1.3"/><circle cx="551.6" cy="475.8" r="1.5"/><circle cx="561.4" cy="472.9" r="1.8"/><circle cx="500.4" cy="484.3" r="1.8"/><circle cx="558.7" cy="471.3" r="1.2"/><circle cx="586" cy="481.7" r="1.5"/><circle cx="527.5" cy="490.9" r="1.9"/><circle cx="555" cy="482.1" r="1.7"/><circle cx="541.5" cy="475.6" r="2.2"/><circle cx="589.3" cy="484" r="2.1"/><circle cx="514.1" cy="492.3" r="1.9"/><circle cx="577.9" cy="478" r="2"/><circle cx="537.5" cy="479.4" r="1.4"/><circle cx="569.9" cy="495.3" r="2.1"/><circle cx="556.9" cy="475.1" r="1.1"/><circle cx="546.8" cy="476.4" r="1.4"/><circle cx="561.7" cy="476.7" r="2.1"/><circle cx="522.9" cy="495.5" r="1.3"/><circle cx="516.7" cy="481.8" r="0.9"/><circle cx="533.6" cy="481.4" r="0.9"/><circle cx="576.2" cy="481.3" r="0.9"/><circle cx="500" cy="491.3" r="1.7"/><circle cx="540.4" cy="477.4" r="1.3"/><circle cx="587" cy="481.2" r="2.3"/><circle cx="561.1" cy="494.3" r="1.9"/><circle cx="545" cy="494.4" r="1.1"/><circle cx="544" cy="478" r="1.5"/><circle cx="509.1" cy="491.2" r="1.7"/><circle cx="567.9" cy="488.8" r="1.7"/><circle cx="546.7" cy="479.8" r="2.2"/><circle cx="527.1" cy="473.1" r="1.4"/><circle cx="560.6" cy="497.9" r="1.8"/><circle cx="556.3" cy="498.1" r="2"/><circle cx="534.5" cy="483.9" r="2"/><circle cx="521.8" cy="473.3" r="1.8"/><circle cx="570.9" cy="477.4" r="1.9"/><circle cx="503.6" cy="484.8" r="1.4"/><circle cx="534.6" cy="493.8" r="1.8"/><circle cx="535.3" cy="470.5" r="1.6"/><circle cx="531.2" cy="498.6" r="1.5"/><circle cx="575" cy="493.4" r="1.7"/><circle cx="513.8" cy="479.1" r="1.6"/><circle cx="529.5" cy="489.4" r="1.6"/><circle cx="522.3" cy="488.2" r="2.3"/><circle cx="510.3" cy="480.1" r="0.9"/><circle cx="532.3" cy="495.1" r="1.9"/><circle cx="548.6" cy="487.4" r="0.9"/><circle cx="528.4" cy="477.8" r="1.8"/><circle cx="496.5" cy="486.3" r="1.4"/><circle cx="539.2" cy="482.1" r="1"/><circle cx="563.1" cy="494" r="1.7"/><circle cx="501.6" cy="488" r="2.1"/><circle cx="556.5" cy="478.3" r="2.2"/><circle cx="588" cy="377.7" r="1.4"/><circle cx="588.7" cy="396.1" r="1.8"/><circle cx="589.3" cy="374.3" r="2.2"/><circle cx="593.1" cy="411.4" r="1.7"/><circle cx="591.4" cy="375.2" r="1.9"/><circle cx="599.5" cy="382.3" r="1.6"/><circle cx="594.1" cy="373.3" r="1.9"/><circle cx="589.1" cy="407.6" r="1"/><circle cx="594.4" cy="400" r="1.2"/><circle cx="590.1" cy="342.6" r="1.9"/><circle cx="592.5" cy="380.6" r="1.4"/><circle cx="593.4" cy="415.4" r="2"/><circle cx="592.3" cy="358.6" r="1.4"/><circle cx="596.9" cy="337.5" r="1.7"/><circle cx="591.9" cy="413.6" r="1.1"/><circle cx="597.5" cy="359.7" r="1.7"/><circle cx="589.3" cy="335.6" r="1.1"/><circle cx="588.9" cy="390.1" r="1.7"/><circle cx="585.9" cy="400.1" r="1.6"/><circle cx="586.3" cy="402" r="2"/><circle cx="597" cy="342.9" r="0.9"/><circle cx="597.9" cy="402.6" r="1"/><circle cx="596.3" cy="397.3" r="1.8"/><circle cx="589.2" cy="403.4" r="2.2"/><circle cx="589" cy="388.3" r="1.9"/><circle cx="597.6" cy="376.7" r="1.3"/><circle cx="588" cy="374.3" r="1.1"/><circle cx="587.9" cy="389.7" r="1.8"/><circle cx="585.9" cy="397.8" r="2"/><circle cx="588.9" cy="329.8" r="1.3"/><circle cx="596.3" cy="366.7" r="2"/><circle cx="589.6" cy="408" r="1.1"/><circle cx="585.2" cy="395.3" r="1"/><circle cx="594.7" cy="328.3" r="1.2"/><circle cx="594.6" cy="407.4" r="1.5"/><circle cx="591.2" cy="323.1" r="1.4"/><circle cx="587.9" cy="398.9" r="1.9"/><circle cx="596.6" cy="373.2" r="1.9"/><circle cx="586" cy="358.5" r="1.3"/><circle cx="588.5" cy="393.9" r="1.2"/><circle cx="589.2" cy="348.2" r="2.1"/><circle cx="594.2" cy="368.1" r="1.4"/><circle cx="591.2" cy="376.7" r="2.1"/><circle cx="588.1" cy="345.9" r="1"/><circle cx="592" cy="396.8" r="1.1"/><circle cx="590.9" cy="419.1" r="1.6"/><circle cx="590.1" cy="403.9" r="2.1"/><circle cx="590" cy="332.4" r="1.8"/><circle cx="595.8" cy="412.3" r="1.8"/><circle cx="588.9" cy="371.5" r="1.3"/><circle cx="591.1" cy="366.8" r="2.2"/><circle cx="591.6" cy="416.4" r="1.1"/><circle cx="598.7" cy="384" r="2.1"/><circle cx="590.6" cy="419.1" r="0.9"/><circle cx="597.6" cy="401.9" r="1.4"/><circle cx="597.3" cy="341.4" r="2"/><circle cx="591.5" cy="361.1" r="1.2"/><circle cx="596.8" cy="393.1" r="1"/><circle cx="590" cy="361.5" r="1.7"/><circle cx="594.1" cy="356.6" r="1.1"/><circle cx="585.1" cy="371.9" r="1.7"/><circle cx="591.2" cy="418.2" r="1.5"/><circle cx="589.6" cy="361.8" r="1.1"/><circle cx="599" cy="379.1" r="1.7"/><circle cx="590.8" cy="345" r="1.3"/><circle cx="591.9" cy="364.6" r="2.3"/><circle cx="593" cy="340.7" r="1"/><circle cx="586.5" cy="354.6" r="2"/><circle cx="598.2" cy="343.6" r="2"/><circle cx="591.1" cy="373.8" r="1.6"/><circle cx="594.7" cy="388.9" r="1.4"/><circle cx="588.8" cy="326.7" r="1.7"/><circle cx="594.5" cy="342.4" r="1"/><circle cx="591.8" cy="323.4" r="1.9"/><circle cx="594" cy="347.9" r="1.5"/><circle cx="587.7" cy="338.6" r="1.2"/><circle cx="597.1" cy="365.3" r="1.9"/><circle cx="589.6" cy="400.7" r="1.7"/><circle cx="594.5" cy="359.3" r="1.7"/><circle cx="594.8" cy="373.2" r="1.8"/><circle cx="585.6" cy="353.4" r="1.2"/><circle cx="591.1" cy="406.9" r="2"/><circle cx="595.5" cy="350.2" r="1.2"/><circle cx="595.3" cy="349.9" r="1.9"/><circle cx="589.6" cy="396.1" r="1.7"/><circle cx="584.5" cy="374.5" r="1.4"/><circle cx="596.3" cy="351.5" r="1.2"/><circle cx="596.5" cy="375" r="2"/><circle cx="591.8" cy="323.7" r="2"/><circle cx="587.5" cy="367.2" r="0.9"/><circle cx="588.1" cy="386.6" r="2"/><circle cx="594.2" cy="364.3" r="1.9"/><circle cx="594.7" cy="340.6" r="1.6"/><circle cx="593.6" cy="392.9" r="1.2"/><circle cx="589" cy="354.3" r="1"/><circle cx="589.6" cy="393" r="1.7"/><circle cx="586.8" cy="393.2" r="1.1"/><circle cx="596" cy="334.8" r="1"/><circle cx="588" cy="371.5" r="1.3"/><circle cx="588.5" cy="395" r="1.9"/><circle cx="593" cy="345.5" r="2.2"/><circle cx="589.3" cy="352.1" r="1.2"/><circle cx="590.9" cy="409.8" r="0.9"/><circle cx="597.4" cy="350.9" r="0.9"/><circle cx="598.4" cy="347.2" r="1.2"/><circle cx="585.9" cy="356.7" r="1.1"/><circle cx="586.9" cy="345" r="1.7"/><circle cx="591.1" cy="350.5" r="1.6"/><circle cx="596.4" cy="392.4" r="1.4"/><circle cx="593" cy="367.6" r="1.4"/><circle cx="593.7" cy="329.9" r="2.2"/><circle cx="595.2" cy="343.8" r="1.6"/><circle cx="597.3" cy="355.1" r="1.6"/><circle cx="594.6" cy="339.2" r="1.8"/><circle cx="590.8" cy="418.3" r="1.2"/><circle cx="588.4" cy="331.8" r="1.1"/><circle cx="592.5" cy="337.4" r="2"/><circle cx="585.5" cy="382.3" r="2.1"/><circle cx="586" cy="341.7" r="2"/><circle cx="591.5" cy="413.2" r="1.4"/><circle cx="590.4" cy="415.8" r="1.4"/><circle cx="587.2" cy="374.6" r="2.2"/><circle cx="596.4" cy="394.9" r="1.7"/><circle cx="585.6" cy="398.4" r="1.9"/><circle cx="589.1" cy="388.5" r="1.5"/><circle cx="598.9" cy="358.4" r="2"/><circle cx="591.5" cy="401.2" r="1.3"/><circle cx="592.7" cy="322.5" r="1.6"/><circle cx="594.8" cy="362.5" r="2.3"/><circle cx="585.3" cy="390.4" r="1.9"/><circle cx="593.7" cy="321.6" r="2.2"/><circle cx="591" cy="379.5" r="2"/><circle cx="598.8" cy="347.1" r="1"/><circle cx="595.8" cy="341" r="1.1"/><circle cx="598.4" cy="386.5" r="1.7"/><circle cx="586.1" cy="361.3" r="2.2"/><circle cx="597.5" cy="393.2" r="1"/><circle cx="595.1" cy="369.3" r="1.6"/><circle cx="586.3" cy="371.2" r="2"/><circle cx="590.7" cy="346.6" r="1.2"/><circle cx="591.4" cy="384.7" r="1.7"/><circle cx="598.2" cy="371.1" r="1.6"/><circle cx="589" cy="332.4" r="1.5"/><circle cx="591.7" cy="407.9" r="1.9"/><circle cx="595.7" cy="395.9" r="1.3"/><circle cx="595.7" cy="340.6" r="1.7"/><circle cx="593.5" cy="397.6" r="1.1"/><circle cx="589.5" cy="402.4" r="2"/><circle cx="587.4" cy="330.7" r="1.9"/><circle cx="595.9" cy="384.8" r="2"/><circle cx="592.3" cy="376.2" r="2.2"/><circle cx="594.4" cy="385.6" r="1.7"/><circle cx="591.9" cy="395.7" r="1.7"/><circle cx="586.1" cy="362.6" r="1.5"/><circle cx="590.9" cy="376.1" r="1.4"/><circle cx="590.3" cy="362.7" r="1.4"/><circle cx="590.3" cy="364.9" r="1.7"/><circle cx="589.9" cy="343.9" r="0.9"/><circle cx="588.6" cy="366.5" r="1.4"/><circle cx="597.4" cy="344.1" r="1.3"/><circle cx="595.2" cy="399.7" r="1.6"/><circle cx="590.2" cy="343.4" r="2"/><circle cx="585.8" cy="379.4" r="2.3"/><circle cx="595.4" cy="365.9" r="1.1"/><circle cx="585" cy="393.2" r="1"/><circle cx="596.9" cy="386.6" r="1.6"/><circle cx="593.9" cy="330" r="1.7"/><circle cx="590.7" cy="345" r="2.2"/><circle cx="595.7" cy="332.2" r="1.2"/><circle cx="589.5" cy="377.3" r="1.4"/><circle cx="591" cy="401.3" r="1.2"/><circle cx="595.5" cy="353.1" r="2.2"/><circle cx="599.2" cy="352.7" r="1.7"/><circle cx="585.8" cy="361" r="1.8"/><circle cx="594.2" cy="354.3" r="0.9"/><circle cx="586" cy="376" r="1.1"/><circle cx="588.9" cy="381.8" r="2.2"/><circle cx="592.2" cy="345.5" r="1.7"/><circle cx="588.4" cy="398.2" r="1.1"/><circle cx="588.2" cy="363.9" r="2.2"/><circle cx="586.6" cy="339.2" r="1.1"/><circle cx="587.4" cy="353.2" r="1.5"/><circle cx="596.2" cy="360.4" r="1.6"/><circle cx="590.3" cy="397.4" r="2.2"/><circle cx="590.8" cy="412.1" r="1.3"/><circle cx="626.5" cy="333.3" r="1.9"/><circle cx="612.2" cy="330.7" r="1.1"/><circle cx="624.2" cy="331.6" r="1.9"/><circle cx="614.1" cy="333.3" r="1.2"/><circle cx="607.2" cy="331.4" r="1.9"/><circle cx="616" cy="328" r="1.9"/><circle cx="613.4" cy="328.7" r="1.3"/><circle cx="608.1" cy="336.2" r="1.7"/><circle cx="610.8" cy="330.5" r="1.3"/><circle cx="609.7" cy="331.5" r="2"/><circle cx="621.9" cy="335" r="2.1"/><circle cx="618.7" cy="329.1" r="1"/><circle cx="606.9" cy="330.6" r="1.6"/><circle cx="622.7" cy="333.9" r="1.5"/><circle cx="621.1" cy="331.4" r="1"/><circle cx="618.7" cy="331.6" r="2.1"/><circle cx="610.1" cy="329" r="1.2"/><circle cx="618.4" cy="334.8" r="1.3"/><circle cx="609.5" cy="328.9" r="2.3"/><circle cx="604" cy="334.1" r="1.4"/><circle cx="607.5" cy="332.4" r="2.2"/><circle cx="608.9" cy="329.6" r="1.8"/><circle cx="618.8" cy="333.1" r="1.2"/><circle cx="607.2" cy="330.4" r="1.6"/><circle cx="614.4" cy="333.5" r="1.9"/><circle cx="624.5" cy="332.7" r="1"/><circle cx="610.6" cy="329.4" r="1.7"/><circle cx="621.8" cy="329.3" r="1.3"/><circle cx="623.4" cy="334.9" r="1.1"/><circle cx="619.5" cy="335.9" r="1.5"/><circle cx="606.7" cy="334.6" r="1.3"/><circle cx="606.2" cy="329.6" r="1.5"/><circle cx="606" cy="331.9" r="1.7"/><circle cx="616.3" cy="332" r="2"/><circle cx="605.1" cy="331.3" r="2.2"/><circle cx="621.4" cy="333.4" r="2"/><circle cx="616.7" cy="329.2" r="1.3"/><circle cx="688.2" cy="358.1" r="1.7"/><circle cx="686" cy="364.1" r="2"/><circle cx="693" cy="367.6" r="1.3"/><circle cx="686.5" cy="365.2" r="1.9"/><circle cx="688.7" cy="356.9" r="1.1"/><circle cx="688.4" cy="356.4" r="1.6"/><circle cx="692.5" cy="367.7" r="1.4"/><circle cx="691.9" cy="358.1" r="2.1"/><circle cx="687.7" cy="367.7" r="2"/><circle cx="688.1" cy="351.7" r="1.2"/><circle cx="690.4" cy="358.2" r="1.7"/><circle cx="691.7" cy="362.8" r="2"/><circle cx="691.9" cy="368.6" r="1"/><circle cx="689.8" cy="355.6" r="2.2"/><circle cx="692.3" cy="359.7" r="2"/><circle cx="688.6" cy="367.6" r="1.9"/><circle cx="689.5" cy="361.3" r="2"/><circle cx="690.3" cy="369.2" r="0.9"/><circle cx="692.1" cy="366.5" r="1.4"/><circle cx="685.8" cy="361.4" r="1.4"/><circle cx="687.6" cy="359" r="1"/><circle cx="690.6" cy="358.9" r="1.3"/><circle cx="674.5" cy="367.5" r="2.3"/><circle cx="663" cy="367.5" r="1.1"/><circle cx="670.1" cy="373.9" r="2.1"/><circle cx="666.6" cy="364.6" r="1.6"/><circle cx="667.2" cy="370.7" r="1.7"/><circle cx="674.3" cy="367" r="1.9"/><circle cx="676.5" cy="371.1" r="1.6"/><circle cx="671.1" cy="366.9" r="1"/><circle cx="671.2" cy="370.2" r="1.2"/><circle cx="680.5" cy="372.2" r="1.6"/><circle cx="664.2" cy="366.7" r="1.9"/><circle cx="668.4" cy="370" r="1.1"/><circle cx="680.3" cy="367.4" r="2.2"/><circle cx="667.9" cy="367.1" r="1.1"/><circle cx="683.2" cy="369.9" r="2.1"/><circle cx="661.5" cy="369.4" r="1.9"/><circle cx="662.5" cy="367.7" r="2.3"/><circle cx="672.8" cy="373.6" r="1.3"/><circle cx="666.3" cy="369.6" r="1.4"/><circle cx="673.9" cy="373.3" r="2.2"/><circle cx="681" cy="366.6" r="2"/><circle cx="660.4" cy="368.2" r="2.2"/><circle cx="666.1" cy="367.7" r="1.7"/><circle cx="665.7" cy="371.1" r="1.8"/><circle cx="661.7" cy="371" r="1.4"/><circle cx="671" cy="371.9" r="2.3"/><circle cx="682.2" cy="369.3" r="1.3"/><circle cx="672.4" cy="373.8" r="1.9"/><circle cx="609.7" cy="388.5" r="1.5"/><circle cx="607.9" cy="388.6" r="1.2"/><circle cx="607.6" cy="384.2" r="1.1"/><circle cx="613.8" cy="382" r="1.2"/><circle cx="605.6" cy="384.5" r="1.5"/><circle cx="610.4" cy="377.1" r="1.3"/><circle cx="611.9" cy="388.8" r="2.1"/><circle cx="611.1" cy="384.6" r="1.4"/><circle cx="599.3" cy="381.9" r="1.2"/><circle cx="608.4" cy="390.7" r="1.2"/><circle cx="600.2" cy="386.1" r="1.1"/><circle cx="602.6" cy="382" r="2.3"/><circle cx="604.2" cy="380.1" r="1.6"/><circle cx="601.6" cy="381.4" r="1.9"/><circle cx="604.2" cy="387.7" r="1.2"/><circle cx="600.6" cy="385" r="1.5"/><circle cx="610.9" cy="385.7" r="1.4"/><circle cx="601.1" cy="384.8" r="2"/><circle cx="606.6" cy="382.6" r="1.9"/><circle cx="608.8" cy="381.8" r="1.2"/><circle cx="606.4" cy="383.8" r="2.2"/><circle cx="614.9" cy="383.9" r="1.4"/><circle cx="602.6" cy="385.1" r="1.9"/><circle cx="603" cy="386" r="2.3"/><circle cx="605.3" cy="390" r="1.5"/><circle cx="609.4" cy="388.9" r="1.2"/><circle cx="600" cy="379.9" r="1.6"/><circle cx="610.9" cy="385.1" r="2.2"/><circle cx="605.9" cy="375.4" r="1.6"/><circle cx="609.1" cy="378.2" r="2.1"/><circle cx="605.6" cy="390.4" r="1.4"/><circle cx="608.9" cy="383.7" r="1.3"/><circle cx="603" cy="380.1" r="2.1"/><circle cx="607" cy="375.6" r="1.3"/><circle cx="608.8" cy="387.9" r="1.1"/><circle cx="611.5" cy="381.2" r="1.6"/><circle cx="605.7" cy="382" r="2.3"/><circle cx="610.8" cy="386.2" r="1.1"/><circle cx="609.8" cy="385.1" r="1.3"/><circle cx="618.3" cy="408.7" r="1.6"/><circle cx="620" cy="395.1" r="2.3"/><circle cx="615.2" cy="405.6" r="2"/><circle cx="628.8" cy="406.7" r="1.1"/><circle cx="629.8" cy="407.3" r="1.6"/><circle cx="617.7" cy="407.7" r="1.1"/><circle cx="632.7" cy="400.6" r="2"/><circle cx="629" cy="403.3" r="2.3"/><circle cx="628" cy="397.6" r="1.4"/><circle cx="614.2" cy="401" r="1.1"/><circle cx="632.9" cy="401.9" r="1.9"/><circle cx="623.4" cy="406.3" r="1.4"/><circle cx="621.3" cy="405.9" r="1.9"/><circle cx="630.8" cy="398.9" r="2.1"/><circle cx="627.7" cy="403.2" r="1.5"/><circle cx="624.3" cy="395.2" r="1"/><circle cx="619.2" cy="396" r="1"/><circle cx="627.3" cy="405.7" r="1.8"/><circle cx="617.1" cy="405.6" r="2.1"/><circle cx="625.4" cy="397.6" r="1.7"/><circle cx="620.9" cy="398.3" r="1.1"/><circle cx="630.3" cy="404.1" r="2.2"/><circle cx="616.4" cy="398.2" r="1.6"/><circle cx="614.2" cy="398.8" r="1.7"/><circle cx="622.6" cy="408.6" r="1.7"/><circle cx="625.8" cy="403.4" r="2"/><circle cx="617.4" cy="404.5" r="1.1"/><circle cx="613.4" cy="401.9" r="0.9"/><circle cx="618.2" cy="400.1" r="1.2"/><circle cx="617.9" cy="399.2" r="1.5"/><circle cx="620.2" cy="399.2" r="0.9"/><circle cx="629.7" cy="405.8" r="1.6"/><circle cx="631" cy="401.3" r="1.2"/><circle cx="615.4" cy="402" r="1.7"/><circle cx="615.3" cy="399.1" r="1.8"/><circle cx="626.5" cy="404.1" r="1.8"/><circle cx="620.6" cy="395.1" r="0.9"/><circle cx="629.8" cy="407.8" r="2.2"/><circle cx="616.4" cy="399.5" r="1.2"/><circle cx="630.2" cy="407.1" r="2.1"/><circle cx="620.6" cy="409" r="1.3"/><circle cx="624.5" cy="404.8" r="1.2"/><circle cx="620.6" cy="395.6" r="2"/><circle cx="616.7" cy="396.2" r="1.3"/><circle cx="625.8" cy="404.2" r="1.6"/><circle cx="630.1" cy="406" r="1.2"/><circle cx="623.7" cy="396.7" r="1.2"/><circle cx="620" cy="408.2" r="1.8"/><circle cx="614.8" cy="397.5" r="1.7"/><circle cx="607.5" cy="410.4" r="1"/><circle cx="608.1" cy="419.6" r="1"/><circle cx="611.4" cy="413.8" r="1.7"/><circle cx="607.5" cy="415.4" r="2.2"/><circle cx="605.3" cy="416.8" r="1.7"/><circle cx="611.3" cy="418.6" r="1.9"/><circle cx="609.2" cy="425.3" r="2.3"/><circle cx="611.2" cy="413.5" r="1.7"/><circle cx="606" cy="413.7" r="2"/><circle cx="602.5" cy="421.4" r="1.6"/><circle cx="605.8" cy="421.3" r="1.9"/><circle cx="611.8" cy="414.2" r="1.8"/><circle cx="606.9" cy="425" r="1.5"/><circle cx="604.7" cy="410.4" r="1.6"/><circle cx="607.5" cy="414.9" r="1"/><circle cx="606.7" cy="411.1" r="1.1"/><circle cx="606.1" cy="415.6" r="1.6"/><circle cx="607.5" cy="416.2" r="1.1"/><circle cx="620.2" cy="385.6" r="2.3"/><circle cx="622.8" cy="383.5" r="1.3"/><circle cx="627.4" cy="384.9" r="2"/><circle cx="622.1" cy="383.7" r="1.5"/><circle cx="623.9" cy="389.7" r="1.5"/><circle cx="625.8" cy="389.6" r="1.8"/><circle cx="625.9" cy="388.3" r="1.4"/><circle cx="625.3" cy="385.8" r="1"/><circle cx="627.5" cy="383.7" r="1.8"/><circle cx="622.8" cy="389.2" r="1.4"/><circle cx="622.8" cy="388.9" r="1.2"/><circle cx="622.7" cy="384.9" r="2.3"/><circle cx="621.2" cy="382.1" r="2"/><circle cx="620.8" cy="384.1" r="2"/><circle cx="627.1" cy="387.9" r="1.1"/><circle cx="648.9" cy="383.6" r="2"/><circle cx="644.7" cy="388.9" r="1.6"/><circle cx="642.6" cy="381.5" r="1.6"/><circle cx="648.7" cy="385.7" r="2.1"/><circle cx="641.5" cy="384.8" r="1.6"/><circle cx="641.1" cy="382.6" r="2.2"/><circle cx="647.2" cy="385.1" r="1.8"/><circle cx="645.9" cy="380.5" r="2.1"/><circle cx="641.6" cy="382.4" r="1.1"/><circle cx="645.1" cy="385.8" r="1.5"/><circle cx="644.7" cy="381.4" r="1.9"/><circle cx="645.4" cy="383.1" r="2.1"/><circle cx="643.9" cy="384.5" r="1.3"/><circle cx="647.4" cy="389" r="1.1"/><circle cx="645.1" cy="389.7" r="2.1"/><circle cx="636.1" cy="418.4" r="1.5"/><circle cx="641.4" cy="472.9" r="1.2"/><circle cx="607.6" cy="470" r="1.5"/><circle cx="670.2" cy="428.2" r="1"/><circle cx="631.1" cy="487.8" r="1.4"/><circle cx="641.3" cy="453.2" r="1"/><circle cx="646.4" cy="445.7" r="1.4"/><circle cx="666.4" cy="465.3" r="1.1"/><circle cx="621.1" cy="460.9" r="2.3"/><circle cx="610" cy="473.4" r="2"/><circle cx="637.8" cy="489.7" r="1.7"/><circle cx="609.5" cy="427.3" r="1.1"/><circle cx="648.8" cy="459.9" r="2.1"/><circle cx="621.1" cy="479.3" r="1.1"/><circle cx="663.4" cy="481.7" r="1.7"/><circle cx="648.5" cy="459.1" r="2"/><circle cx="641.4" cy="419.1" r="1.2"/><circle cx="652.2" cy="416.4" r="1"/><circle cx="620.1" cy="473.7" r="1.7"/><circle cx="628.6" cy="487.1" r="1.7"/><circle cx="619.1" cy="455.2" r="2.1"/><circle cx="629.5" cy="444.8" r="1.7"/><circle cx="614.5" cy="456.6" r="1.3"/><circle cx="637.9" cy="467" r="0.9"/><circle cx="640.6" cy="435.1" r="1.7"/><circle cx="665.7" cy="447.4" r="1.8"/><circle cx="623.1" cy="430.5" r="1.6"/><circle cx="642.6" cy="427.9" r="2"/><circle cx="640" cy="438.4" r="1.3"/><circle cx="605.7" cy="460.5" r="0.9"/><circle cx="668.5" cy="464.3" r="1.4"/><circle cx="635.3" cy="464.6" r="1.1"/><circle cx="629.2" cy="472.9" r="1.9"/><circle cx="646.8" cy="418.3" r="1.2"/><circle cx="651.2" cy="455.8" r="2.2"/><circle cx="644.4" cy="483.5" r="1.6"/><circle cx="641.4" cy="432.5" r="1.5"/><circle cx="674.9" cy="449" r="0.9"/><circle cx="628.3" cy="425.8" r="1.8"/><circle cx="640.7" cy="448.1" r="2.2"/><circle cx="661" cy="417" r="0.9"/><circle cx="656.1" cy="457.7" r="1.8"/><circle cx="640" cy="412.9" r="1.5"/><circle cx="666.8" cy="458.2" r="1"/><circle cx="643.6" cy="423.2" r="1.9"/><circle cx="651.6" cy="474.6" r="1"/><circle cx="637.1" cy="474.8" r="1.4"/><circle cx="605.1" cy="454.6" r="2.2"/><circle cx="649.4" cy="480.1" r="1"/><circle cx="646.1" cy="424.5" r="1.4"/><circle cx="611.9" cy="447.1" r="1"/><circle cx="652.5" cy="461.7" r="2.2"/><circle cx="669.5" cy="453.4" r="2.2"/><circle cx="639.4" cy="416.5" r="1.9"/><circle cx="643.1" cy="482.2" r="1.6"/><circle cx="626.1" cy="463" r="1.9"/><circle cx="636.8" cy="432" r="1.5"/><circle cx="657.2" cy="428.3" r="1.1"/><circle cx="638.7" cy="462.6" r="1"/><circle cx="621.4" cy="471.8" r="1.3"/><circle cx="606.9" cy="448.9" r="2.1"/><circle cx="656.3" cy="459.7" r="1.6"/><circle cx="653.2" cy="451.7" r="1.2"/><circle cx="655.6" cy="420.3" r="1.3"/><circle cx="668.1" cy="455.5" r="1.6"/><circle cx="656.8" cy="449.4" r="1.4"/><circle cx="607.8" cy="460.7" r="1.4"/><circle cx="613.5" cy="479.6" r="1.1"/><circle cx="612.7" cy="468.5" r="2"/><circle cx="609.4" cy="478.1" r="1.9"/><circle cx="603.3" cy="485" r="1.7"/><circle cx="611.1" cy="485.2" r="1.3"/><circle cx="605.6" cy="470.8" r="1"/><circle cx="613" cy="480.6" r="1.6"/><circle cx="607.7" cy="486.4" r="1"/><circle cx="604.7" cy="480.6" r="1.6"/><circle cx="607" cy="467.8" r="1.2"/><circle cx="609.7" cy="470.2" r="2.2"/><circle cx="603.4" cy="475.4" r="1"/><circle cx="604.7" cy="462.2" r="1.6"/><circle cx="604.8" cy="468.3" r="2.2"/><circle cx="614.2" cy="479.4" r="1.4"/><circle cx="605.8" cy="478.3" r="1.6"/><circle cx="611.5" cy="479.4" r="1.8"/><circle cx="613.4" cy="470.9" r="1.6"/><circle cx="609.2" cy="461.8" r="1.7"/><circle cx="610.8" cy="464.7" r="2"/><circle cx="610.5" cy="476.4" r="2.1"/><circle cx="611.9" cy="478.9" r="1.8"/><circle cx="601.9" cy="470.2" r="1.4"/><circle cx="612.7" cy="483.4" r="1.3"/><circle cx="600" cy="469.8" r="1"/><circle cx="614.2" cy="470.8" r="1.4"/><circle cx="612.7" cy="476" r="1.8"/><circle cx="606" cy="473.8" r="2.2"/><circle cx="603.4" cy="475.8" r="1.6"/><circle cx="607.1" cy="484" r="1.5"/><circle cx="599.7" cy="479.5" r="1.1"/><circle cx="603.2" cy="472.6" r="2"/><circle cx="606" cy="472.5" r="1.5"/><circle cx="607.3" cy="468.4" r="2.2"/><circle cx="602" cy="464" r="1.7"/><circle cx="604.6" cy="481.6" r="1"/><circle cx="609.8" cy="470.9" r="2.2"/><circle cx="603.8" cy="473" r="1.3"/><circle cx="607.5" cy="468.4" r="1.8"/><circle cx="605.6" cy="481.2" r="1.3"/><circle cx="606.3" cy="476.7" r="1.9"/><circle cx="609.4" cy="472.9" r="1"/><circle cx="601.9" cy="465.5" r="1.8"/><circle cx="604.5" cy="487.2" r="1.2"/><circle cx="602.9" cy="465.5" r="1.1"/><circle cx="609.9" cy="477.4" r="1.3"/><circle cx="612" cy="480.3" r="1.5"/><circle cx="608.7" cy="479.7" r="1.5"/><circle cx="600.5" cy="470.9" r="2.2"/><circle cx="605" cy="479.2" r="1"/><circle cx="611.4" cy="485.9" r="1.4"/><circle cx="605" cy="475.4" r="1.3"/><circle cx="602.4" cy="463.9" r="1.9"/><circle cx="607.1" cy="488.7" r="2.2"/><circle cx="613" cy="478.5" r="1.8"/><circle cx="627.2" cy="486.2" r="1.1"/><circle cx="632.1" cy="482.6" r="1.1"/><circle cx="646.3" cy="489.8" r="2.1"/><circle cx="620.9" cy="489.8" r="1.3"/><circle cx="644.6" cy="481" r="1.8"/><circle cx="632.4" cy="483.8" r="1"/><circle cx="629.4" cy="488.6" r="2"/><circle cx="616.9" cy="480.4" r="1.3"/><circle cx="643.3" cy="481.6" r="1.8"/><circle cx="639.2" cy="487.9" r="1.1"/><circle cx="628.8" cy="498.6" r="1.4"/><circle cx="632.5" cy="486.1" r="1.6"/><circle cx="633.5" cy="484.3" r="1.3"/><circle cx="645" cy="485.1" r="1.7"/><circle cx="632.3" cy="480.8" r="0.9"/><circle cx="640.4" cy="479.9" r="1.7"/><circle cx="615.2" cy="491.7" r="1.8"/><circle cx="631" cy="476.3" r="2.2"/><circle cx="629.5" cy="496.6" r="1"/><circle cx="644.7" cy="487.4" r="1.2"/><circle cx="625.9" cy="477.8" r="1.7"/><circle cx="617.6" cy="492.8" r="1.1"/><circle cx="638.4" cy="490.8" r="1.9"/><circle cx="649.8" cy="483.1" r="1.9"/><circle cx="625.5" cy="497.5" r="2.1"/><circle cx="641.6" cy="490.4" r="1.3"/><circle cx="649.8" cy="484.1" r="2.1"/><circle cx="637.9" cy="496.2" r="2"/><circle cx="628" cy="485.5" r="2"/><circle cx="636.8" cy="489" r="2.1"/><circle cx="628.4" cy="478.3" r="2.1"/><circle cx="617.9" cy="479.2" r="2"/><circle cx="637.8" cy="485.8" r="1.7"/><circle cx="632.3" cy="498.8" r="1.6"/><circle cx="631.7" cy="487.1" r="1.5"/><circle cx="638.4" cy="478.7" r="1.9"/><circle cx="631.9" cy="484.5" r="1"/><circle cx="612.1" cy="488.9" r="2.1"/><circle cx="646.1" cy="480.4" r="1.9"/><circle cx="643.5" cy="487.5" r="2.1"/><circle cx="616.2" cy="484.1" r="1.6"/><circle cx="640" cy="486.8" r="1.3"/><circle cx="646.1" cy="485.4" r="1.5"/><circle cx="617.8" cy="487.6" r="1.9"/><circle cx="623.9" cy="491.9" r="1.6"/><circle cx="620.7" cy="489.1" r="2.2"/><circle cx="617" cy="479.7" r="2.1"/><circle cx="630.8" cy="477" r="1.3"/><circle cx="630.5" cy="480.2" r="1.3"/><circle cx="647.8" cy="486.7" r="1.2"/><circle cx="634.3" cy="478.7" r="1.6"/><circle cx="615.3" cy="363.5" r="1.7"/><circle cx="603.1" cy="389.8" r="1.8"/><circle cx="624.7" cy="384.3" r="1.2"/><circle cx="598.7" cy="388.1" r="2"/><circle cx="594.3" cy="376.7" r="1.3"/><circle cx="608.8" cy="394.9" r="1.7"/><circle cx="618.8" cy="390.6" r="1.3"/><circle cx="614.3" cy="375" r="1.6"/><circle cx="611.1" cy="386.7" r="1.1"/><circle cx="622.2" cy="366.4" r="1.3"/><circle cx="605.2" cy="398.1" r="1"/><circle cx="597.8" cy="390.1" r="0.9"/><circle cx="596.5" cy="374.3" r="1"/><circle cx="609" cy="373.8" r="1.9"/><circle cx="609.7" cy="398.6" r="2.1"/><circle cx="624.2" cy="382.6" r="1.6"/><circle cx="598.1" cy="372.8" r="1.2"/><circle cx="599.1" cy="384.6" r="1.4"/><circle cx="619.6" cy="382.9" r="2.1"/><circle cx="610.3" cy="385.3" r="1.2"/><circle cx="617.1" cy="376.2" r="1.9"/><circle cx="613" cy="365.6" r="1.3"/><circle cx="614.7" cy="381.8" r="1.9"/><circle cx="603.8" cy="379.1" r="1.6"/><circle cx="619" cy="362.9" r="1.6"/><circle cx="601.3" cy="383.6" r="1.3"/><circle cx="599.4" cy="369.3" r="2.2"/><circle cx="605.1" cy="395.2" r="1.9"/><circle cx="601.7" cy="382.2" r="0.9"/><circle cx="625.6" cy="385.2" r="1.1"/><circle cx="610.7" cy="379.8" r="1.8"/><circle cx="602.4" cy="396.4" r="1.8"/><circle cx="623.8" cy="372.2" r="1.9"/><circle cx="600.9" cy="392.1" r="1.9"/><circle cx="608.8" cy="396.1" r="2"/><circle cx="612.6" cy="389.4" r="1.8"/><circle cx="606.4" cy="380" r="1.6"/><circle cx="599.8" cy="370.4" r="2.1"/><circle cx="622.5" cy="387.9" r="1.9"/><circle cx="610.4" cy="382.9" r="1.8"/><circle cx="592.3" cy="377.7" r="2.3"/><circle cx="599.4" cy="378.7" r="1"/><circle cx="601.2" cy="393" r="0.9"/><circle cx="620.8" cy="391.9" r="2.1"/><circle cx="601.3" cy="397.3" r="1.4"/><circle cx="608.2" cy="398" r="1.7"/><circle cx="616.5" cy="364.4" r="0.9"/><circle cx="601.5" cy="364.2" r="2.1"/><circle cx="616.4" cy="367.7" r="1.9"/><circle cx="603.4" cy="381.1" r="1"/><circle cx="622" cy="391.5" r="1.7"/><circle cx="616.9" cy="373.6" r="1.1"/><circle cx="603.7" cy="389.6" r="1.7"/><circle cx="596.8" cy="369.6" r="1.6"/><circle cx="608.2" cy="365.4" r="2.1"/><circle cx="596.6" cy="390" r="2"/><circle cx="603.4" cy="381.7" r="2.3"/><circle cx="614.2" cy="375.5" r="2.3"/><circle cx="603.2" cy="376.9" r="1.3"/><circle cx="615.5" cy="395.3" r="1.9"/><circle cx="618" cy="380.3" r="2.1"/><circle cx="595.9" cy="383.9" r="2"/><circle cx="620" cy="386.9" r="1"/><circle cx="609.2" cy="370.8" r="1.8"/><circle cx="606.3" cy="378.2" r="1.7"/><circle cx="613.2" cy="395.6" r="1.3"/><circle cx="601.9" cy="367.4" r="1.1"/><circle cx="596.5" cy="374.4" r="2.2"/><circle cx="610.1" cy="360.6" r="1.3"/><circle cx="609" cy="387.3" r="1.1"/><circle cx="596.4" cy="373.2" r="1"/><circle cx="620.8" cy="395.2" r="1"/><circle cx="621" cy="393.7" r="1.8"/><circle cx="602.8" cy="392.8" r="1"/><circle cx="595.4" cy="385.9" r="1.1"/><circle cx="616" cy="386.9" r="1.2"/><circle cx="609.2" cy="368.5" r="2.1"/><circle cx="614.7" cy="387.6" r="1.8"/><circle cx="620.1" cy="380.6" r="1.7"/><circle cx="639.8" cy="402.7" r="1.6"/><circle cx="633.3" cy="395.5" r="1.2"/><circle cx="625.1" cy="395.6" r="2.1"/><circle cx="646.6" cy="386.3" r="1.6"/><circle cx="642.5" cy="397.4" r="1.5"/><circle cx="640.3" cy="400.6" r="2.1"/><circle cx="640.5" cy="403.5" r="1.9"/><circle cx="628.6" cy="387.8" r="1.3"/><circle cx="635.6" cy="394.7" r="1.3"/><circle cx="636.1" cy="401" r="2.2"/><circle cx="629.8" cy="398.9" r="2.2"/><circle cx="636.3" cy="406.3" r="2"/><circle cx="634.6" cy="384.3" r="2"/><circle cx="637.5" cy="390.5" r="1.5"/><circle cx="646.8" cy="406.8" r="2.2"/><circle cx="648" cy="385.3" r="1.4"/><circle cx="635.2" cy="385.3" r="1.6"/><circle cx="629" cy="399.6" r="1.5"/><circle cx="632.4" cy="400.6" r="1.4"/><circle cx="647.6" cy="406.3" r="1.3"/><circle cx="632.9" cy="400.9" r="1.1"/><circle cx="654" cy="399.6" r="1.7"/><circle cx="626.5" cy="388.5" r="1.5"/><circle cx="642.8" cy="382.3" r="2.3"/><circle cx="647.4" cy="404.4" r="1.9"/><circle cx="630.4" cy="387.2" r="1"/><circle cx="641.5" cy="382.4" r="1.2"/><circle cx="648.7" cy="388.6" r="2.3"/><circle cx="629.8" cy="384.2" r="1.4"/><circle cx="648.7" cy="396.3" r="2"/><circle cx="635.1" cy="381.3" r="1"/><circle cx="646.7" cy="395.2" r="2"/><circle cx="631" cy="388.4" r="1.2"/><circle cx="650.5" cy="401.1" r="1.1"/><circle cx="639" cy="387.7" r="2"/><circle cx="646.6" cy="400.5" r="1.2"/><circle cx="626.3" cy="399.2" r="1.9"/><circle cx="651.9" cy="390.8" r="1.6"/><circle cx="644.5" cy="407.8" r="1.8"/><circle cx="640.5" cy="403.1" r="1.6"/><circle cx="626" cy="396.4" r="1.5"/><circle cx="635.1" cy="391.8" r="1.2"/><circle cx="634.4" cy="402.4" r="2.1"/><circle cx="624" cy="366.9" r="1.1"/><circle cx="625.4" cy="364.9" r="2"/><circle cx="622.3" cy="353.4" r="2.2"/><circle cx="627.6" cy="363.1" r="1.4"/><circle cx="615.7" cy="361.4" r="1.5"/><circle cx="634.4" cy="363.3" r="2"/><circle cx="626.7" cy="365.1" r="1.1"/><circle cx="627.3" cy="353.8" r="1"/><circle cx="629.9" cy="364.5" r="1.8"/><circle cx="619.1" cy="359.7" r="2"/><circle cx="628.4" cy="368.2" r="1"/><circle cx="628" cy="360.7" r="1"/><circle cx="623.1" cy="363.4" r="2.1"/><circle cx="614.9" cy="360.2" r="2"/><circle cx="635.5" cy="356.9" r="1.2"/><circle cx="616.5" cy="354.4" r="1.5"/><circle cx="630" cy="368.7" r="1.7"/><circle cx="635.9" cy="358.5" r="1.8"/><circle cx="632.4" cy="352.3" r="1.3"/><circle cx="625.6" cy="360.5" r="0.9"/><circle cx="615.7" cy="363.5" r="1.5"/><circle cx="615.2" cy="359.6" r="1.4"/><circle cx="626.2" cy="369.2" r="2"/><circle cx="473.8" cy="552.6" r="1.4"/><circle cx="481.7" cy="548.1" r="1.5"/><circle cx="480.4" cy="550.1" r="1.7"/><circle cx="473.4" cy="550.7" r="2.3"/><circle cx="478.4" cy="552.1" r="2"/><circle cx="485" cy="555.8" r="1.4"/><circle cx="483.4" cy="547.2" r="1.8"/><circle cx="474.8" cy="549.6" r="1.9"/><circle cx="487.2" cy="553.8" r="2.1"/><circle cx="487.1" cy="551.2" r="2.1"/><circle cx="482.4" cy="556.4" r="1.1"/><circle cx="473.3" cy="552.4" r="1.7"/><circle cx="483" cy="546.9" r="1.7"/><circle cx="482.8" cy="551" r="1.5"/><circle cx="479.5" cy="546" r="1"/><circle cx="476.5" cy="546.8" r="2.2"/><circle cx="477.8" cy="558" r="1.7"/><circle cx="483.4" cy="551.2" r="1.2"/><circle cx="481" cy="549" r="2.1"/><circle cx="472.7" cy="554.2" r="1.4"/><circle cx="478.7" cy="552.7" r="2.3"/><circle cx="480.4" cy="553" r="1.2"/><circle cx="484.6" cy="551.8" r="2"/><circle cx="486.7" cy="554" r="1.9"/><circle cx="480.8" cy="546.1" r="1.5"/><circle cx="487.7" cy="550.1" r="1.1"/><circle cx="517.1" cy="489.2" r="1.7"/><circle cx="508" cy="500.2" r="1.8"/><circle cx="529.5" cy="525.7" r="1.6"/><circle cx="516.5" cy="485.8" r="1.4"/><circle cx="521" cy="508.5" r="2.3"/><circle cx="513" cy="544.2" r="2"/><circle cx="533" cy="519.4" r="1.6"/><circle cx="519.6" cy="516.7" r="2.2"/><circle cx="539" cy="513.4" r="1.6"/><circle cx="502.6" cy="537.7" r="1.6"/><circle cx="519" cy="554.8" r="1.1"/><circle cx="509.7" cy="540.4" r="1.4"/><circle cx="508.5" cy="506.7" r="2.1"/><circle cx="502.5" cy="532.2" r="2.1"/><circle cx="500.2" cy="518.8" r="1.2"/><circle cx="503.4" cy="502" r="1.9"/><circle cx="523.3" cy="494.1" r="1.3"/><circle cx="531.2" cy="518.1" r="2.2"/><circle cx="509.2" cy="498.4" r="1.8"/><circle cx="524.2" cy="521.3" r="2"/><circle cx="521.3" cy="507" r="1.8"/><circle cx="519.4" cy="494.8" r="1.9"/><circle cx="517" cy="543.7" r="1.8"/><circle cx="540.2" cy="525.6" r="1.7"/><circle cx="512.9" cy="492.2" r="2.2"/><circle cx="539.1" cy="531.3" r="2.2"/><circle cx="524.7" cy="537.2" r="1.7"/><circle cx="530.7" cy="516.6" r="1.1"/><circle cx="522.6" cy="503.5" r="1.3"/><circle cx="536.6" cy="528.3" r="1.9"/><circle cx="533.9" cy="515.6" r="1.5"/><circle cx="517" cy="510" r="2"/><circle cx="536.9" cy="505.9" r="1.9"/><circle cx="528.1" cy="539.3" r="1.4"/><circle cx="512.1" cy="538.2" r="2.1"/><circle cx="517.1" cy="504.2" r="1.4"/><circle cx="521.3" cy="521.9" r="1.3"/><circle cx="500.6" cy="529.2" r="1.9"/><circle cx="528.6" cy="512.8" r="2.1"/><circle cx="498.8" cy="523.8" r="1.6"/><circle cx="508" cy="521.8" r="0.9"/><circle cx="526.9" cy="520.6" r="1.7"/><circle cx="535" cy="529.9" r="2.2"/><circle cx="528" cy="549.1" r="1.1"/><circle cx="534.2" cy="507.4" r="2.2"/><circle cx="531.2" cy="512.4" r="1.6"/><circle cx="521.7" cy="524.8" r="1.9"/><circle cx="513.1" cy="527.4" r="1.9"/><circle cx="514.8" cy="532.7" r="2.2"/><circle cx="514.3" cy="521.8" r="1.6"/><circle cx="534.9" cy="503.9" r="1.3"/><circle cx="515.3" cy="530.7" r="1.1"/><circle cx="541.1" cy="520.2" r="1.9"/><circle cx="516.1" cy="486.9" r="1.4"/><circle cx="523.1" cy="491.3" r="2.3"/><circle cx="523.8" cy="517.1" r="0.9"/><circle cx="508.8" cy="508.6" r="1.8"/><circle cx="505.7" cy="519" r="1.3"/><circle cx="522.8" cy="533.2" r="1.6"/><circle cx="531" cy="528.6" r="1"/><circle cx="526.9" cy="518.9" r="2"/><circle cx="539.2" cy="509.6" r="2.1"/><circle cx="508.1" cy="530.5" r="0.9"/><circle cx="534.3" cy="516.2" r="1.5"/><circle cx="519.9" cy="511.1" r="1.2"/><circle cx="528.5" cy="528.9" r="1"/><circle cx="509.9" cy="550.2" r="1.3"/><circle cx="510.9" cy="525.5" r="1.4"/><circle cx="503.7" cy="500.7" r="1.1"/><circle cx="517.6" cy="504.9" r="1.8"/><circle cx="511.6" cy="494.4" r="1.5"/><circle cx="514" cy="535.9" r="2.3"/><circle cx="541" cy="514.4" r="1.8"/><circle cx="503.8" cy="527.7" r="2.1"/><circle cx="528.7" cy="538.4" r="1"/><circle cx="525.2" cy="486.6" r="1.9"/><circle cx="533" cy="507.5" r="0.9"/><circle cx="525.3" cy="510.6" r="1.4"/><circle cx="514.1" cy="500.5" r="2.3"/><circle cx="516.8" cy="516" r="1.3"/><circle cx="518.6" cy="544.9" r="1.5"/><circle cx="516.6" cy="541.2" r="2.3"/><circle cx="531.2" cy="534.3" r="2.1"/><circle cx="521.4" cy="512.1" r="0.9"/><circle cx="521.2" cy="509.9" r="0.9"/><circle cx="513.8" cy="539.9" r="1.8"/><circle cx="527.6" cy="519.2" r="1"/><circle cx="534.6" cy="538.3" r="1.6"/><circle cx="522.7" cy="541.3" r="1.6"/><circle cx="518.9" cy="518.9" r="1.9"/><circle cx="530.4" cy="508.4" r="2"/><circle cx="514.5" cy="532.2" r="1.4"/><circle cx="532.2" cy="511.7" r="1.4"/><circle cx="517.1" cy="527.3" r="0.9"/><circle cx="522" cy="550" r="1"/><circle cx="537.2" cy="525.1" r="2.3"/><circle cx="529.8" cy="535.3" r="2"/><circle cx="516.5" cy="493.3" r="2.1"/><circle cx="536.6" cy="535.5" r="1.2"/><circle cx="520" cy="521" r="1.4"/><circle cx="519.5" cy="517" r="2.3"/><circle cx="525.6" cy="553.3" r="2.2"/><circle cx="505.8" cy="539" r="1.4"/><circle cx="524.3" cy="524.4" r="1.9"/><circle cx="511.2" cy="532.5" r="1.4"/><circle cx="532.4" cy="519.6" r="1.8"/><circle cx="521.1" cy="530.2" r="2.1"/><circle cx="537.2" cy="512" r="2.3"/><circle cx="515.2" cy="535.9" r="2.1"/><circle cx="514" cy="514.4" r="1.4"/><circle cx="513.1" cy="513.8" r="2.1"/><circle cx="532.8" cy="524.2" r="1.8"/><circle cx="511.2" cy="538.5" r="2.1"/><circle cx="514.8" cy="519.9" r="1.2"/><circle cx="509" cy="544.6" r="1.8"/><circle cx="517.7" cy="529.8" r="1.2"/><circle cx="523.3" cy="497.9" r="1.7"/><circle cx="512.3" cy="503.4" r="1.9"/><circle cx="513.9" cy="537" r="1.9"/><circle cx="514.5" cy="487.2" r="2.1"/><circle cx="522.3" cy="525.6" r="1.9"/><circle cx="522.1" cy="548.5" r="0.9"/><circle cx="540.6" cy="528.1" r="1.5"/><circle cx="524.2" cy="485.7" r="1.8"/><circle cx="516.1" cy="525.2" r="2.1"/><circle cx="511.7" cy="502.6" r="1"/><circle cx="502.7" cy="503.7" r="1.6"/><circle cx="510.7" cy="511.1" r="1.8"/><circle cx="518.5" cy="504.4" r="1.1"/><circle cx="511.1" cy="503.1" r="1.9"/><circle cx="526.1" cy="495.9" r="2.2"/><circle cx="526.6" cy="497.2" r="1.5"/><circle cx="518.4" cy="507.3" r="2.2"/><circle cx="528.1" cy="503.9" r="1.7"/><circle cx="522.3" cy="504.2" r="1.6"/><circle cx="519.5" cy="506.7" r="1.3"/><circle cx="519.7" cy="504.5" r="2.2"/><circle cx="518.3" cy="501.1" r="1.5"/><circle cx="515" cy="500" r="2"/><circle cx="514.5" cy="501.7" r="1.3"/><circle cx="523.9" cy="505.8" r="1.1"/><circle cx="521.7" cy="497.6" r="1.8"/><circle cx="526.3" cy="498.1" r="1.2"/><circle cx="517.3" cy="499.6" r="2.1"/><circle cx="531" cy="506.1" r="1.5"/><circle cx="521" cy="497.8" r="1.5"/><circle cx="519.5" cy="497.7" r="2.1"/><circle cx="517.2" cy="501.8" r="1"/><circle cx="526.6" cy="502.2" r="2"/><circle cx="527.3" cy="505.4" r="1.3"/><circle cx="516" cy="503.4" r="1"/><circle cx="532.5" cy="505.1" r="1.6"/><circle cx="568.1" cy="481.9" r="1.7"/><circle cx="588.7" cy="482.8" r="1"/><circle cx="584.3" cy="491.3" r="2"/><circle cx="570.6" cy="503.6" r="2.1"/><circle cx="566.1" cy="492.9" r="1.7"/><circle cx="572.5" cy="499.6" r="1.9"/><circle cx="590.9" cy="486.1" r="1.6"/><circle cx="577.2" cy="494" r="0.9"/><circle cx="590.6" cy="490.8" r="1.1"/><circle cx="592.7" cy="493.4" r="1.9"/><circle cx="587" cy="494.9" r="2.2"/><circle cx="552.8" cy="488" r="1.1"/><circle cx="581.8" cy="485.3" r="0.9"/><circle cx="556.8" cy="484.2" r="1.7"/><circle cx="572.8" cy="491.1" r="0.9"/><circle cx="576.4" cy="486.1" r="1"/><circle cx="570" cy="484" r="1.5"/><circle cx="558.2" cy="497.6" r="2.1"/><circle cx="566.2" cy="481.7" r="2.3"/><circle cx="554.2" cy="495.6" r="2"/><circle cx="574.1" cy="501.4" r="1.1"/><circle cx="586" cy="501.8" r="2.2"/><circle cx="592.5" cy="490.5" r="1.6"/><circle cx="592.4" cy="489.1" r="1.3"/><circle cx="565.5" cy="488.5" r="2.3"/><circle cx="584.5" cy="490.4" r="1"/><circle cx="568.3" cy="487" r="2.2"/><circle cx="571" cy="503.3" r="1.3"/><circle cx="579.8" cy="486.8" r="2.1"/><circle cx="571.5" cy="503.6" r="1.7"/><circle cx="568.8" cy="496.6" r="1.9"/><circle cx="584.4" cy="498.3" r="1.2"/><circle cx="577.2" cy="482.5" r="2.1"/><circle cx="586.7" cy="490.3" r="1.2"/><circle cx="571.3" cy="494.6" r="2.1"/><circle cx="594.6" cy="487.8" r="0.9"/><circle cx="583.2" cy="496.5" r="1.8"/><circle cx="590.2" cy="499.5" r="1.8"/><circle cx="591.1" cy="483" r="2.2"/><circle cx="583.3" cy="482.3" r="1.1"/><circle cx="582.1" cy="487.3" r="2.2"/><circle cx="563.9" cy="491.7" r="1.6"/><circle cx="597" cy="487.3" r="2.1"/><circle cx="586.2" cy="493.7" r="2.2"/><circle cx="594.2" cy="498" r="1.7"/><circle cx="582.5" cy="482.8" r="1.8"/><circle cx="567.3" cy="489.3" r="2.1"/><circle cx="592" cy="497.9" r="1.5"/><circle cx="576.8" cy="503.7" r="2.2"/><circle cx="580.4" cy="481.9" r="2.2"/><circle cx="582.9" cy="484.7" r="2"/><circle cx="584.3" cy="484" r="2.2"/><circle cx="573.7" cy="499.8" r="2.2"/><circle cx="584.8" cy="482" r="1.4"/><circle cx="585.2" cy="488.8" r="1.1"/><circle cx="572.8" cy="483.4" r="1.6"/><circle cx="555" cy="497.4" r="1.2"/><circle cx="581.6" cy="495.4" r="1.2"/><circle cx="581.4" cy="493.2" r="1.8"/><circle cx="559.3" cy="491.4" r="2.1"/><circle cx="580.9" cy="485.8" r="1.4"/><circle cx="573.9" cy="492.3" r="1.5"/><circle cx="592.1" cy="490.9" r="1.3"/><circle cx="572.6" cy="481.3" r="1"/><circle cx="591.4" cy="498.2" r="1.2"/><circle cx="565.9" cy="481.8" r="1.3"/><circle cx="576.1" cy="498.1" r="1.6"/><circle cx="578.4" cy="481" r="1.1"/><circle cx="583.6" cy="483.1" r="2.2"/><circle cx="577.8" cy="494.3" r="1.1"/><circle cx="566.8" cy="488.9" r="1.9"/><circle cx="589.1" cy="496.7" r="1.2"/><circle cx="573.1" cy="502" r="1.1"/><circle cx="567.4" cy="494.8" r="2.3"/><circle cx="573.1" cy="492.7" r="2.1"/><circle cx="554.8" cy="494.4" r="1.3"/><circle cx="587.8" cy="497.1" r="1.5"/><circle cx="557.6" cy="498.4" r="1.9"/><circle cx="578.2" cy="497.9" r="2.2"/><circle cx="562.2" cy="496.6" r="2"/><circle cx="563.3" cy="501.7" r="1.3"/><circle cx="597.8" cy="494" r="2.3"/><circle cx="594.2" cy="498.8" r="1.4"/><circle cx="572.9" cy="494.1" r="2"/><circle cx="570.8" cy="501.6" r="1.2"/><circle cx="576" cy="483.5" r="1.1"/><circle cx="564.5" cy="481.1" r="1.7"/><circle cx="581" cy="489.5" r="2"/><circle cx="577.3" cy="496.4" r="1"/><circle cx="558" cy="500.4" r="1.1"/><circle cx="579.8" cy="489.1" r="1.8"/><circle cx="593.6" cy="499.9" r="2.3"/><circle cx="598.3" cy="489.6" r="2.3"/><circle cx="588.1" cy="486.7" r="1.4"/><circle cx="576.2" cy="500.3" r="1"/><circle cx="594.6" cy="496.1" r="1.7"/><circle cx="534.4" cy="661.4" r="1.5"/><circle cx="552.9" cy="663.3" r="1.9"/><circle cx="521.6" cy="674.4" r="1.5"/><circle cx="535.7" cy="668" r="1"/><circle cx="562.9" cy="672.5" r="1.3"/><circle cx="534.2" cy="662.5" r="1.9"/><circle cx="527.1" cy="660.7" r="1.6"/><circle cx="524.2" cy="662.9" r="1.9"/><circle cx="540.3" cy="651.7" r="1.4"/><circle cx="544.2" cy="657" r="1.4"/><circle cx="543.6" cy="660.9" r="1.2"/><circle cx="543.2" cy="666.4" r="1.5"/><circle cx="547.6" cy="676.5" r="1.3"/><circle cx="562.7" cy="668" r="2"/><circle cx="533.4" cy="659.7" r="1.9"/><circle cx="544.1" cy="677.4" r="1.1"/><circle cx="530.6" cy="670.7" r="2.2"/><circle cx="538" cy="673.6" r="1.1"/><circle cx="548.4" cy="659.9" r="1.9"/><circle cx="527.8" cy="655.6" r="1.3"/><circle cx="553.4" cy="671.4" r="2.2"/><circle cx="534.8" cy="652" r="2"/><circle cx="525.4" cy="671.5" r="1.6"/><circle cx="536.6" cy="650.9" r="1.2"/><circle cx="554.9" cy="663.8" r="2.1"/><circle cx="558.4" cy="666" r="2.3"/><circle cx="542" cy="651.6" r="2.1"/><circle cx="519" cy="667.4" r="1.3"/><circle cx="532.9" cy="664" r="1.3"/><circle cx="520.3" cy="670" r="1.8"/><circle cx="516.4" cy="656.7" r="1.3"/><circle cx="531.9" cy="664.7" r="2.2"/><circle cx="516.1" cy="667.2" r="1.8"/><circle cx="525.5" cy="660.7" r="1.5"/><circle cx="563.2" cy="673.3" r="1.6"/><circle cx="514.1" cy="660.7" r="2"/><circle cx="536.1" cy="661.7" r="1.8"/><circle cx="512.4" cy="669.4" r="1.9"/><circle cx="516.8" cy="662.5" r="2.1"/><circle cx="525.7" cy="665.9" r="1.4"/><circle cx="543.2" cy="661.7" r="1.4"/><circle cx="565.5" cy="670.8" r="2.3"/><circle cx="530.1" cy="664" r="1.4"/><circle cx="562" cy="661" r="1.9"/><circle cx="520.6" cy="666.3" r="1.3"/><circle cx="564.8" cy="661" r="2.2"/><circle cx="544" cy="660.2" r="1.7"/><circle cx="565.9" cy="670.8" r="2.1"/><circle cx="544" cy="668.6" r="1.1"/><circle cx="541.6" cy="612" r="1.8"/><circle cx="531.1" cy="618.2" r="1.6"/><circle cx="540.4" cy="613.9" r="2.1"/><circle cx="538.9" cy="599.2" r="2.2"/><circle cx="543.1" cy="613.6" r="1.5"/><circle cx="535" cy="582.3" r="2.1"/><circle cx="541.6" cy="609.7" r="1.6"/><circle cx="533" cy="592.5" r="1.8"/><circle cx="532.1" cy="610.4" r="2.2"/><circle cx="533.2" cy="585.7" r="0.9"/><circle cx="541.7" cy="603.4" r="1.5"/><circle cx="525.9" cy="596.1" r="1.6"/><circle cx="536.5" cy="591.1" r="1.8"/><circle cx="526.9" cy="594.8" r="1"/><circle cx="530.8" cy="590.7" r="0.9"/><circle cx="541.1" cy="593.8" r="1.9"/><circle cx="541.3" cy="619.8" r="0.9"/><circle cx="536.7" cy="622.6" r="1.8"/><circle cx="537.1" cy="601.3" r="2.1"/><circle cx="535.7" cy="597.6" r="1.6"/><circle cx="534.4" cy="589.4" r="1.8"/><circle cx="541.7" cy="612.7" r="0.9"/><circle cx="533.1" cy="618.3" r="1.1"/><circle cx="535.1" cy="614.2" r="1.6"/><circle cx="539.1" cy="588.3" r="1.7"/><circle cx="535.5" cy="616.1" r="1.1"/><circle cx="542.5" cy="589.2" r="1.9"/><circle cx="532.6" cy="615" r="1.9"/><circle cx="533.2" cy="627.4" r="1.5"/><circle cx="534.3" cy="615.8" r="1.1"/><circle cx="542.9" cy="596.6" r="2.1"/><circle cx="536.8" cy="592" r="1.5"/><circle cx="529" cy="616.2" r="1.9"/><circle cx="538.7" cy="586.7" r="1"/><circle cx="536.7" cy="584.1" r="1.9"/><circle cx="535.9" cy="626.6" r="2"/><circle cx="538.1" cy="621.4" r="1.6"/><circle cx="530.8" cy="583.1" r="1.9"/><circle cx="538.3" cy="611.6" r="1.6"/><circle cx="534.1" cy="626" r="1.4"/><circle cx="540.2" cy="624.8" r="2.3"/><circle cx="533.7" cy="587.8" r="1.6"/><circle cx="534.8" cy="599.4" r="2"/><circle cx="529.2" cy="594.2" r="2.1"/><circle cx="529.7" cy="616.2" r="1.3"/><circle cx="533.2" cy="603.5" r="1.2"/><circle cx="525.5" cy="602" r="1.9"/><circle cx="535.9" cy="628" r="2.3"/><circle cx="538.7" cy="593.1" r="1.5"/><circle cx="526.3" cy="599.7" r="2"/><circle cx="531.3" cy="589.3" r="1.7"/><circle cx="542.9" cy="612.3" r="1.1"/><circle cx="533.6" cy="591.5" r="2"/><circle cx="533.4" cy="602.2" r="2.1"/><circle cx="530.9" cy="602.4" r="2.3"/><circle cx="531.1" cy="607" r="1.8"/><circle cx="531.7" cy="611.4" r="1.5"/><circle cx="541.6" cy="607.8" r="1.9"/><circle cx="536.5" cy="614.9" r="1.4"/><circle cx="528" cy="598.2" r="1.4"/><circle cx="632.3" cy="505.8" r="1.9"/><circle cx="637.2" cy="506.1" r="2.3"/><circle cx="637" cy="504.9" r="1.4"/><circle cx="631.1" cy="509.2" r="1.5"/><circle cx="635.5" cy="506.2" r="1.9"/><circle cx="631.9" cy="507" r="1.5"/><circle cx="633" cy="506.7" r="1"/><circle cx="632.9" cy="511.2" r="1.2"/><circle cx="635.8" cy="503.1" r="1.9"/><circle cx="628.9" cy="507.1" r="2"/><circle cx="632.3" cy="502.9" r="1.3"/><circle cx="632.8" cy="508.9" r="1.1"/><circle cx="633.9" cy="504.8" r="2"/><circle cx="635.2" cy="504.4" r="1.7"/><circle cx="627" cy="507.3" r="1.8"/><circle cx="628.3" cy="508" r="1.1"/><circle cx="638.6" cy="506.6" r="2.2"/><circle cx="634.4" cy="502.6" r="1.9"/><circle cx="633.6" cy="504.5" r="1.9"/><circle cx="633" cy="502.4" r="1.2"/><circle cx="616.7" cy="509.8" r="2.3"/><circle cx="612.2" cy="487.7" r="1.2"/><circle cx="619.5" cy="486.3" r="1.2"/><circle cx="625.6" cy="494.2" r="1.9"/><circle cx="607.9" cy="496.4" r="1.2"/><circle cx="613.3" cy="490.9" r="2.2"/><circle cx="613.5" cy="498.2" r="1.1"/><circle cx="615.6" cy="508.3" r="2.1"/><circle cx="601.5" cy="501.5" r="1.7"/><circle cx="613.5" cy="503.4" r="1.2"/><circle cx="625.4" cy="494.5" r="1.1"/><circle cx="633.8" cy="487.5" r="2"/><circle cx="633.1" cy="495.1" r="1.5"/><circle cx="605.3" cy="486.2" r="1.9"/><circle cx="613.5" cy="498.9" r="1.4"/><circle cx="608.3" cy="486.9" r="2"/><circle cx="616.6" cy="486.6" r="2.1"/><circle cx="602.7" cy="488.9" r="1.1"/><circle cx="623" cy="505.3" r="0.9"/><circle cx="641.2" cy="503.1" r="2.1"/><circle cx="616.1" cy="495.1" r="1"/><circle cx="608.1" cy="508.1" r="1.3"/><circle cx="616.1" cy="507" r="1.3"/><circle cx="621.7" cy="498.5" r="1.2"/><circle cx="608" cy="501" r="1.1"/><circle cx="634.3" cy="508.2" r="1.5"/><circle cx="601.5" cy="499.1" r="1.3"/><circle cx="600.3" cy="503.3" r="1.7"/><circle cx="608.6" cy="489.4" r="1.9"/><circle cx="640.8" cy="492.6" r="1.7"/><circle cx="606" cy="496" r="1.7"/><circle cx="610.3" cy="500.1" r="1.7"/><circle cx="615.7" cy="486.4" r="1.7"/><circle cx="624.7" cy="500.8" r="2.1"/><circle cx="625.4" cy="505.1" r="1.1"/><circle cx="624.6" cy="506.8" r="1.7"/><circle cx="616.7" cy="486.8" r="1.6"/><circle cx="630.7" cy="505.8" r="2.2"/><circle cx="620.9" cy="510.3" r="1.4"/><circle cx="595.9" cy="494.8" r="1.7"/><circle cx="633.6" cy="489" r="0.9"/><circle cx="631.1" cy="487.7" r="2.1"/><circle cx="623.3" cy="486.1" r="1.6"/><circle cx="633.6" cy="488.7" r="2.2"/><circle cx="624.7" cy="502.3" r="1.7"/><circle cx="597.3" cy="498.1" r="1.4"/><circle cx="614.8" cy="493.9" r="2.1"/><circle cx="609.3" cy="502.8" r="1.7"/><circle cx="609.2" cy="509.4" r="1.3"/><circle cx="610" cy="487.8" r="1.9"/><circle cx="629.7" cy="493" r="1.1"/><circle cx="624.8" cy="492.1" r="1.7"/><circle cx="606.2" cy="494.8" r="2.1"/><circle cx="610.4" cy="510.7" r="1"/><circle cx="625.1" cy="511.2" r="1.9"/><circle cx="640.7" cy="492.5" r="2.2"/><circle cx="640.2" cy="490.2" r="2"/><circle cx="614.6" cy="505.1" r="1.7"/><circle cx="640.9" cy="495" r="1.5"/><circle cx="603.4" cy="490.2" r="2.1"/><circle cx="608.1" cy="508.9" r="2"/><circle cx="623.5" cy="491.1" r="0.9"/><circle cx="609" cy="510.1" r="1.5"/><circle cx="613.4" cy="509.3" r="2"/><circle cx="628.9" cy="490.6" r="1"/><circle cx="604.1" cy="489.9" r="1.2"/><circle cx="623.5" cy="491.4" r="1.2"/><circle cx="638.9" cy="493.1" r="0.9"/><circle cx="595.5" cy="498.5" r="0.9"/><circle cx="622.9" cy="482.8" r="1.6"/><circle cx="625.9" cy="498.2" r="1.2"/><circle cx="643.6" cy="493" r="1.7"/><circle cx="615.7" cy="505.6" r="1.1"/><circle cx="606.3" cy="495.5" r="1.7"/><circle cx="620.9" cy="500" r="2.1"/><circle cx="611.4" cy="500.2" r="2.2"/><circle cx="643.6" cy="498.9" r="1.4"/><circle cx="627.5" cy="503.9" r="1.9"/><circle cx="628.8" cy="493.5" r="1.9"/><circle cx="612.6" cy="489" r="1"/><circle cx="622.7" cy="487.1" r="1.3"/><circle cx="609.9" cy="493.2" r="1.5"/><circle cx="643.7" cy="497.8" r="1.7"/><circle cx="615" cy="498.4" r="2"/><circle cx="621.1" cy="497.4" r="1.4"/><circle cx="604.3" cy="488.4" r="1"/><circle cx="615.8" cy="499.2" r="1.1"/><circle cx="632.8" cy="495.6" r="1.8"/><circle cx="630.9" cy="619.7" r="1.9"/><circle cx="625.9" cy="615.8" r="1.3"/><circle cx="635.9" cy="612.9" r="1.2"/><circle cx="625.9" cy="611" r="2.2"/><circle cx="624.8" cy="613.6" r="1.5"/><circle cx="634.9" cy="619.5" r="2.3"/><circle cx="629.1" cy="608.4" r="1.2"/><circle cx="633.9" cy="621.3" r="1"/><circle cx="628.3" cy="621.2" r="1.7"/><circle cx="630.4" cy="608.2" r="1"/><circle cx="627.5" cy="616.9" r="1"/><circle cx="632" cy="620.1" r="0.9"/><circle cx="628.6" cy="613.6" r="1.8"/><circle cx="635.8" cy="617.9" r="1.5"/><circle cx="629.4" cy="617" r="1.5"/><circle cx="639.9" cy="567.7" r="1.7"/><circle cx="635.7" cy="566.6" r="1.6"/><circle cx="635.6" cy="569.4" r="2.3"/><circle cx="629.9" cy="566.9" r="2.3"/><circle cx="638" cy="568.3" r="1.3"/><circle cx="627.9" cy="565" r="1.5"/><circle cx="631.9" cy="561.1" r="1.6"/><circle cx="634.2" cy="557.4" r="1.8"/><circle cx="636.4" cy="559.7" r="1.2"/><circle cx="625.6" cy="566.3" r="1.8"/><circle cx="631.6" cy="569.1" r="1.7"/><circle cx="633.1" cy="577.2" r="1.9"/><circle cx="632.1" cy="561.2" r="1.1"/><circle cx="635.3" cy="573.4" r="1.4"/><circle cx="626.4" cy="561.6" r="1.9"/><circle cx="637.3" cy="564.6" r="2.1"/><circle cx="631.2" cy="555.6" r="1.2"/><circle cx="639.2" cy="571.9" r="1"/><circle cx="629.6" cy="564.5" r="1.6"/><circle cx="633.5" cy="561.3" r="0.9"/><circle cx="634.1" cy="577.4" r="1.9"/><circle cx="635.6" cy="556.4" r="1.3"/><circle cx="634.3" cy="565" r="1.2"/><circle cx="593.4" cy="654.9" r="1.6"/><circle cx="591.5" cy="651.7" r="2.2"/><circle cx="579.1" cy="665.4" r="1.4"/><circle cx="577.6" cy="687.7" r="2.3"/><circle cx="584.5" cy="673" r="2.2"/><circle cx="581.5" cy="685.9" r="2"/><circle cx="574.2" cy="658" r="1.9"/><circle cx="568.2" cy="652.8" r="1.2"/><circle cx="585.2" cy="677.3" r="1.9"/><circle cx="582.1" cy="666" r="1.1"/><circle cx="572.1" cy="657.2" r="1.4"/><circle cx="593" cy="652.1" r="1.2"/><circle cx="603.7" cy="679.1" r="2.2"/><circle cx="598.9" cy="649.8" r="1.6"/><circle cx="601.7" cy="680.3" r="1.2"/><circle cx="584.1" cy="669.5" r="0.9"/><circle cx="572.2" cy="677.1" r="1.8"/><circle cx="582.4" cy="668.6" r="1.6"/><circle cx="577.3" cy="644.3" r="1.9"/><circle cx="598.6" cy="661.7" r="2"/><circle cx="601.4" cy="674.6" r="2"/><circle cx="607.1" cy="662.6" r="2"/><circle cx="596.9" cy="644.9" r="1.7"/><circle cx="564.5" cy="676.6" r="1.4"/><circle cx="578.8" cy="653.6" r="2"/><circle cx="592" cy="654.9" r="1.9"/><circle cx="569.3" cy="680.1" r="1.7"/><circle cx="598.3" cy="670.8" r="2.3"/><circle cx="594.8" cy="663.2" r="1.7"/><circle cx="588.3" cy="654.3" r="1.3"/><circle cx="599.9" cy="680.9" r="2.3"/><circle cx="594.3" cy="665.2" r="1.5"/><circle cx="595.3" cy="672.5" r="2.2"/><circle cx="597.4" cy="659.2" r="1.3"/><circle cx="581.4" cy="659.7" r="1"/><circle cx="584.8" cy="684.9" r="1.3"/><circle cx="597.2" cy="677.9" r="1.8"/><circle cx="589.8" cy="652.5" r="1.8"/><circle cx="589.2" cy="688.3" r="1.6"/><circle cx="577.7" cy="685.3" r="1.8"/><circle cx="577.1" cy="672.5" r="1.1"/><circle cx="569.4" cy="684.2" r="1.5"/><circle cx="600.1" cy="650.7" r="1.6"/><circle cx="571.9" cy="680.1" r="1.7"/><circle cx="579.7" cy="659.2" r="1.2"/><circle cx="570.5" cy="674.5" r="1.3"/><circle cx="565.2" cy="659.3" r="1.5"/><circle cx="580.2" cy="688.6" r="1.9"/><circle cx="582.9" cy="659.9" r="1.2"/><circle cx="567.6" cy="663.6" r="1.8"/><circle cx="565.3" cy="663.8" r="1.1"/><circle cx="590.1" cy="657.2" r="1.8"/><circle cx="599.1" cy="660.2" r="1.4"/><circle cx="591.1" cy="680.3" r="1.1"/><circle cx="578.3" cy="667" r="1.8"/><circle cx="576.5" cy="658.3" r="1.9"/><circle cx="584.2" cy="661.8" r="1.7"/><circle cx="565.8" cy="663.5" r="1.3"/><circle cx="568.4" cy="666.2" r="1.9"/><circle cx="586.3" cy="664.9" r="1.8"/><circle cx="581.1" cy="689.1" r="1.2"/><circle cx="560.4" cy="668.4" r="1.9"/><circle cx="579.1" cy="660" r="1.4"/><circle cx="572.2" cy="679.6" r="2.1"/><circle cx="574" cy="668.2" r="1.5"/><circle cx="566.6" cy="676.7" r="1.6"/><circle cx="605.2" cy="653.1" r="1.1"/><circle cx="600.5" cy="645.4" r="1.9"/><circle cx="568.8" cy="675.3" r="1"/><circle cx="585.8" cy="662.5" r="2.3"/><circle cx="599.2" cy="651.3" r="1.9"/><circle cx="579.3" cy="663.2" r="1.3"/><circle cx="571.4" cy="655.1" r="1.3"/><circle cx="569.4" cy="683.7" r="1.4"/><circle cx="588" cy="680.6" r="1.8"/><circle cx="576.5" cy="681.5" r="1.8"/><circle cx="561.6" cy="658.9" r="1.9"/><circle cx="587.2" cy="687.4" r="2"/><circle cx="577.2" cy="685.4" r="0.9"/><circle cx="585" cy="662.1" r="1"/><circle cx="591.8" cy="679.4" r="1.2"/><circle cx="572.3" cy="678.5" r="1.6"/><circle cx="607.2" cy="653.8" r="1.3"/><circle cx="582.6" cy="684.3" r="2"/><circle cx="579.3" cy="673.3" r="0.9"/><circle cx="563.2" cy="658.6" r="1.8"/><circle cx="602.7" cy="649.3" r="1"/><circle cx="574.3" cy="668.9" r="1.8"/><circle cx="574.3" cy="665.8" r="1.4"/><circle cx="589" cy="645.5" r="1.8"/><circle cx="570.5" cy="667.7" r="1.2"/><circle cx="582.2" cy="653.2" r="1.8"/><circle cx="599" cy="682.2" r="2.3"/><circle cx="665.1" cy="690.7" r="1.4"/><circle cx="661.8" cy="690.1" r="2.3"/><circle cx="662.5" cy="691.4" r="1.3"/><circle cx="670.4" cy="689.9" r="1.3"/><circle cx="665" cy="683.1" r="1"/><circle cx="664" cy="692.4" r="1"/><circle cx="675.2" cy="689.1" r="1.7"/><circle cx="668.1" cy="684.2" r="1.6"/><circle cx="671" cy="694.1" r="1.9"/><circle cx="669.6" cy="684.8" r="1.5"/><circle cx="666.2" cy="683.6" r="2"/><circle cx="658" cy="690.9" r="1.3"/><circle cx="668.4" cy="693.3" r="1.7"/><circle cx="667.3" cy="695.2" r="1"/><circle cx="663.6" cy="686.1" r="1.7"/><circle cx="663.9" cy="695.9" r="1.2"/><circle cx="661.4" cy="695.8" r="1.9"/><circle cx="664.6" cy="688.2" r="1.9"/><circle cx="659" cy="693.1" r="1.2"/><circle cx="661.8" cy="694.2" r="1.7"/><circle cx="660.9" cy="692.6" r="1.5"/><circle cx="670.3" cy="686.4" r="1.5"/><circle cx="669.7" cy="688.2" r="1.3"/><circle cx="666.5" cy="696.3" r="1"/><circle cx="661" cy="689.8" r="2.3"/><circle cx="668.8" cy="684.9" r="1.2"/><circle cx="658.7" cy="690" r="2.3"/><circle cx="675.3" cy="688.1" r="2.2"/><circle cx="669.8" cy="684" r="2.2"/><circle cx="666.3" cy="690.2" r="1.2"/><circle cx="665.8" cy="693.6" r="1.7"/><circle cx="675.6" cy="690.5" r="2.2"/><circle cx="658.7" cy="693.3" r="1.7"/><circle cx="673.7" cy="687.7" r="1.5"/><circle cx="672.3" cy="686.6" r="1.4"/><circle cx="672.9" cy="692.1" r="1.6"/><circle cx="664.3" cy="686.3" r="1.4"/><circle cx="658.7" cy="694.8" r="2"/><circle cx="675.3" cy="692.4" r="1.1"/><circle cx="659" cy="685.4" r="1.3"/><circle cx="668.4" cy="683.9" r="2.1"/><circle cx="664.6" cy="685.4" r="1"/><circle cx="666.5" cy="687.9" r="1.6"/><circle cx="660" cy="664.7" r="1.6"/><circle cx="659.4" cy="667" r="2.1"/><circle cx="673.5" cy="661.1" r="1.8"/><circle cx="657.3" cy="667.5" r="1.1"/><circle cx="664.8" cy="660.9" r="2.2"/><circle cx="661.1" cy="669.8" r="2"/><circle cx="669.6" cy="668.3" r="1.4"/><circle cx="679.9" cy="670" r="1"/><circle cx="676.7" cy="661.3" r="1.6"/><circle cx="662.1" cy="666.7" r="1.8"/><circle cx="677.5" cy="664.2" r="1"/><circle cx="669.6" cy="673.6" r="1.7"/><circle cx="674.3" cy="671.3" r="1.8"/><circle cx="677.7" cy="671.9" r="1.1"/><circle cx="664.4" cy="670.4" r="1.7"/><circle cx="681.1" cy="671.4" r="1.4"/><circle cx="661.8" cy="669.5" r="1.1"/><circle cx="670.9" cy="663.4" r="1.5"/><circle cx="675.3" cy="669.1" r="1.8"/><circle cx="676.7" cy="673.5" r="1.8"/><circle cx="675.1" cy="673.2" r="1.9"/><circle cx="674.8" cy="659.6" r="0.9"/><circle cx="677.1" cy="672.6" r="1.4"/><circle cx="662.9" cy="666.1" r="2.1"/><circle cx="678.2" cy="661.1" r="1.2"/><circle cx="662.8" cy="670.9" r="1.3"/><circle cx="668.6" cy="661.2" r="2.1"/><circle cx="657.6" cy="665.7" r="1.4"/><circle cx="668.8" cy="673" r="2.2"/><circle cx="681" cy="670.6" r="1.7"/><circle cx="671.3" cy="670.5" r="1.7"/><circle cx="682.2" cy="671.1" r="1.5"/><circle cx="673.1" cy="674.5" r="1.2"/><circle cx="671.1" cy="686.4" r="2.2"/><circle cx="653.6" cy="686.6" r="2.1"/><circle cx="672.3" cy="687.6" r="2.1"/><circle cx="664.3" cy="683.5" r="1.2"/><circle cx="660.6" cy="695.4" r="2.2"/><circle cx="645.3" cy="676.5" r="1.2"/><circle cx="670.9" cy="673.1" r="2"/><circle cx="650.3" cy="677.5" r="2.3"/><circle cx="648" cy="684.3" r="1.3"/><circle cx="665.7" cy="675.2" r="2.2"/><circle cx="654.5" cy="686.7" r="0.9"/><circle cx="674.1" cy="685.7" r="2.2"/><circle cx="667.8" cy="678.7" r="1.2"/><circle cx="672.5" cy="686.6" r="1.4"/><circle cx="646.3" cy="686.2" r="1"/><circle cx="649.5" cy="688.9" r="1.3"/><circle cx="669.6" cy="688.6" r="1.8"/><circle cx="663.4" cy="671.9" r="2.1"/><circle cx="673.5" cy="682.9" r="1.2"/><circle cx="646.8" cy="675.2" r="2.3"/><circle cx="654.2" cy="675.9" r="1.6"/><circle cx="668.9" cy="676.6" r="0.9"/><circle cx="668.4" cy="673.9" r="2.2"/><circle cx="664.5" cy="668.9" r="2.3"/><circle cx="666.3" cy="673.2" r="2.1"/><circle cx="663.1" cy="685.8" r="0.9"/><circle cx="650.8" cy="690.2" r="0.9"/><circle cx="662.6" cy="671.9" r="2"/><circle cx="658.5" cy="689.9" r="2.2"/><circle cx="655.7" cy="690.2" r="1.4"/><circle cx="674" cy="677.4" r="1.8"/><circle cx="652.2" cy="688.2" r="1.3"/><circle cx="657.5" cy="688.2" r="2.1"/><circle cx="648.5" cy="672.8" r="1.2"/><circle cx="668.6" cy="686.9" r="1.9"/><circle cx="669.8" cy="674.5" r="1.6"/><circle cx="663.2" cy="675.3" r="2"/><circle cx="650.8" cy="680.4" r="1.9"/><circle cx="651.1" cy="686.6" r="1.5"/><circle cx="664.9" cy="691" r="1.9"/><circle cx="671.6" cy="686.6" r="2"/><circle cx="670.8" cy="684.7" r="1.6"/><circle cx="649.2" cy="674.6" r="1"/><circle cx="647.6" cy="679" r="1.3"/><circle cx="662" cy="691.2" r="1.3"/><circle cx="650.1" cy="684.5" r="1.2"/><circle cx="671.4" cy="678.5" r="1.4"/><circle cx="666.4" cy="682.9" r="1.4"/><circle cx="666.8" cy="693.4" r="1"/><circle cx="651.1" cy="682.7" r="1.3"/><circle cx="659.7" cy="682.1" r="1.3"/><circle cx="647.7" cy="679.7" r="2"/><circle cx="648.4" cy="683.1" r="2"/><circle cx="662.3" cy="677.7" r="2.2"/><circle cx="653.6" cy="681.5" r="1.5"/><circle cx="670.9" cy="685.4" r="1.7"/><circle cx="660.5" cy="692.9" r="1.4"/><circle cx="648.2" cy="672.9" r="1.2"/><circle cx="661.8" cy="690.3" r="1.5"/><circle cx="660.7" cy="674.3" r="2.1"/><circle cx="657.5" cy="679.4" r="1.9"/><circle cx="659.4" cy="679.9" r="2.1"/><circle cx="657.6" cy="673.7" r="1.6"/><circle cx="653.8" cy="675.2" r="2"/><circle cx="655.2" cy="685.5" r="1.3"/><circle cx="647.7" cy="689.9" r="2"/><circle cx="666.6" cy="685.1" r="1.1"/><circle cx="660" cy="691.3" r="2"/><circle cx="662.9" cy="685.7" r="1.1"/><circle cx="656.8" cy="687.6" r="1.9"/><circle cx="652.7" cy="675" r="1.1"/><circle cx="654.6" cy="670.9" r="2.2"/><circle cx="662.4" cy="681.7" r="1"/><circle cx="673.2" cy="674.9" r="2"/><circle cx="650.6" cy="675.6" r="1.1"/><circle cx="661.1" cy="676" r="1.7"/><circle cx="703.7" cy="851" r="1.1"/><circle cx="699.3" cy="854.8" r="1.5"/><circle cx="696.1" cy="849.6" r="1.1"/><circle cx="704" cy="860" r="1.9"/><circle cx="702" cy="857.3" r="1.2"/><circle cx="708.1" cy="857.7" r="1.5"/><circle cx="693.7" cy="854.3" r="2.3"/><circle cx="696.9" cy="863.7" r="1.1"/><circle cx="701.2" cy="852" r="1.2"/><circle cx="694.7" cy="854.7" r="1.8"/><circle cx="697" cy="864.9" r="1.1"/><circle cx="706.8" cy="855.6" r="2"/><circle cx="696.7" cy="851.7" r="2.2"/><circle cx="702" cy="861.9" r="1.6"/><circle cx="695.7" cy="852.6" r="2.1"/><circle cx="697.6" cy="855.1" r="2.2"/><circle cx="692.5" cy="849.7" r="1.1"/><circle cx="694.7" cy="855.2" r="1.4"/><circle cx="698.1" cy="846.8" r="1.4"/><circle cx="699.2" cy="847.2" r="1.6"/><circle cx="707.9" cy="860.4" r="2.2"/><circle cx="706.9" cy="856.9" r="0.9"/><circle cx="689.3" cy="858.7" r="2.1"/><circle cx="695.3" cy="848.9" r="2"/><circle cx="699.9" cy="856.3" r="1.1"/><circle cx="700.2" cy="858.6" r="1.9"/><circle cx="706.3" cy="853.1" r="1.5"/><circle cx="695.6" cy="863.8" r="1.5"/><circle cx="689.6" cy="856.4" r="1.1"/><circle cx="696.4" cy="855.9" r="0.9"/><circle cx="700" cy="867.6" r="1.7"/><circle cx="709" cy="861.2" r="1.4"/><circle cx="705.4" cy="860.6" r="1.3"/><circle cx="691.6" cy="860.1" r="2.2"/><circle cx="699.8" cy="850.6" r="1.2"/><circle cx="703.7" cy="866.4" r="1.2"/><circle cx="693.2" cy="849.1" r="1.2"/><circle cx="693" cy="855.2" r="1.2"/><circle cx="702.6" cy="851.3" r="1.3"/><circle cx="697.2" cy="849.7" r="1"/><circle cx="702.8" cy="847.1" r="1.6"/><circle cx="707.6" cy="859.5" r="1.3"/><circle cx="696.8" cy="855.4" r="1.3"/><circle cx="691.1" cy="850.6" r="1.4"/><circle cx="690.3" cy="859.5" r="1.2"/><circle cx="699.2" cy="861.3" r="1.6"/><circle cx="704.3" cy="863.2" r="1.5"/><circle cx="703.2" cy="854.1" r="1.3"/><circle cx="707.6" cy="856.4" r="2.1"/><circle cx="706.6" cy="851.5" r="1.2"/><circle cx="707.5" cy="851.2" r="1.7"/><circle cx="708.6" cy="856.2" r="1.5"/><circle cx="676.5" cy="782.2" r="1.2"/><circle cx="676.5" cy="777.3" r="2.1"/><circle cx="661.6" cy="769.2" r="2.3"/><circle cx="676.8" cy="771.6" r="1.6"/><circle cx="674.5" cy="785.1" r="2.2"/><circle cx="665.2" cy="768" r="1.6"/><circle cx="676.7" cy="779.4" r="2.1"/><circle cx="661.9" cy="776.2" r="2.2"/><circle cx="669.4" cy="784.8" r="2"/><circle cx="666.9" cy="781.7" r="1.9"/><circle cx="666.8" cy="776.6" r="2"/><circle cx="665.3" cy="781.3" r="1.7"/><circle cx="675" cy="768.2" r="1.6"/><circle cx="663.1" cy="785.1" r="1.9"/><circle cx="660.8" cy="778.7" r="2"/><circle cx="664.9" cy="763.4" r="1.7"/><circle cx="670.3" cy="773.9" r="1.3"/><circle cx="664.9" cy="768" r="2"/><circle cx="665.6" cy="782.4" r="1.7"/><circle cx="662.6" cy="769.4" r="1.8"/><circle cx="661.1" cy="768.8" r="1"/><circle cx="661.8" cy="772.6" r="1.9"/><circle cx="676.3" cy="778.7" r="1.1"/><circle cx="665.5" cy="765.3" r="1.3"/><circle cx="669.5" cy="776.1" r="1.1"/><circle cx="663.5" cy="787.9" r="1.8"/><circle cx="670" cy="770.7" r="1.3"/><circle cx="671.1" cy="789.7" r="1.8"/><circle cx="673.7" cy="766.6" r="1.5"/><circle cx="671" cy="781.3" r="1.3"/><circle cx="671.6" cy="788.4" r="1.6"/><circle cx="665.9" cy="781.6" r="2.1"/><circle cx="671.7" cy="788.8" r="2"/><circle cx="671.5" cy="767.3" r="1.1"/><circle cx="664.8" cy="789.4" r="1.3"/><circle cx="664.2" cy="788.8" r="2.3"/><circle cx="673.1" cy="771.6" r="2.1"/><circle cx="659.3" cy="771" r="1.2"/><circle cx="675.2" cy="774.4" r="2.1"/><circle cx="667.8" cy="772.2" r="1.4"/><circle cx="658.9" cy="774.6" r="2.2"/><circle cx="660" cy="774.3" r="2.1"/><circle cx="672.8" cy="782.4" r="2.3"/><circle cx="659" cy="782.1" r="2"/><circle cx="671.2" cy="766.1" r="1.5"/><circle cx="667.7" cy="777.3" r="2.1"/><circle cx="659.4" cy="777.6" r="1.1"/><circle cx="664.6" cy="790.1" r="1.8"/><circle cx="671.4" cy="779.2" r="1.2"/><circle cx="664.9" cy="767" r="1.8"/><circle cx="675" cy="766" r="1.2"/><circle cx="668" cy="767.1" r="1.6"/><circle cx="666.6" cy="767.1" r="1.1"/><circle cx="669.8" cy="789.4" r="1.6"/><circle cx="669.2" cy="782" r="2.1"/><circle cx="677.3" cy="771" r="1.1"/><circle cx="676.3" cy="779.2" r="2.1"/><circle cx="660.9" cy="784.7" r="1.1"/><circle cx="665.2" cy="773.5" r="1.8"/><circle cx="676.8" cy="773.9" r="1.7"/><circle cx="666.2" cy="772.5" r="1.3"/><circle cx="672.5" cy="785" r="1.9"/><circle cx="581.9" cy="652.7" r="1.2"/><circle cx="584.6" cy="652.5" r="1.6"/><circle cx="582.9" cy="649.6" r="1.5"/><circle cx="581.7" cy="665.4" r="2.1"/><circle cx="579.2" cy="653.8" r="1.2"/><circle cx="582.7" cy="642.3" r="1.5"/><circle cx="582.3" cy="642.4" r="1.1"/><circle cx="583" cy="654.3" r="1.3"/><circle cx="575" cy="650.4" r="1.4"/><circle cx="575.9" cy="657.6" r="1.2"/><circle cx="583.6" cy="660.5" r="0.9"/><circle cx="583" cy="658.6" r="2.2"/><circle cx="586.4" cy="663.8" r="1.8"/><circle cx="578" cy="663.1" r="2"/><circle cx="582.8" cy="666.1" r="1"/><circle cx="590.3" cy="651.3" r="1.7"/><circle cx="588.3" cy="646.3" r="1.6"/><circle cx="581.7" cy="645.1" r="2.2"/><circle cx="583.1" cy="664.2" r="1.3"/><circle cx="582.3" cy="648.4" r="1.7"/><circle cx="586.7" cy="656.9" r="1.7"/><circle cx="579.6" cy="666.8" r="0.9"/><circle cx="577" cy="659.4" r="2.3"/><circle cx="589.3" cy="648.4" r="2.2"/><circle cx="582.2" cy="656.8" r="1.8"/><circle cx="585.1" cy="664.9" r="2.2"/><circle cx="579.7" cy="665.2" r="1.3"/><circle cx="586.3" cy="646.1" r="1.8"/><circle cx="586" cy="652.1" r="2.2"/><circle cx="576.1" cy="661.4" r="1.8"/><circle cx="574.3" cy="654" r="1.1"/><circle cx="585.4" cy="656.1" r="1.1"/><circle cx="590.8" cy="656.9" r="1.8"/><circle cx="578.7" cy="646" r="1.4"/><circle cx="582.9" cy="652.2" r="2"/><circle cx="576.6" cy="647.4" r="1.6"/><circle cx="586.4" cy="650.2" r="1.2"/><circle cx="576.3" cy="651.5" r="1.4"/><circle cx="588.3" cy="648.2" r="1.4"/><circle cx="587.4" cy="647.4" r="1"/><circle cx="579.7" cy="649.4" r="1.5"/><circle cx="577.8" cy="662.4" r="2.1"/><circle cx="586.8" cy="652.4" r="2.1"/><circle cx="586" cy="646.5" r="2.3"/><circle cx="588.3" cy="652.7" r="1.9"/><circle cx="579.3" cy="643.7" r="1.6"/><circle cx="575.4" cy="653.9" r="2.1"/><circle cx="584.4" cy="648.9" r="1.2"/><circle cx="584" cy="655.2" r="2.2"/><circle cx="577.1" cy="654.1" r="1.5"/><circle cx="683" cy="926.2" r="1.4"/><circle cx="684.3" cy="926.3" r="1.3"/><circle cx="684.2" cy="935.3" r="1.6"/><circle cx="682.8" cy="924.4" r="1.6"/><circle cx="682.8" cy="925.4" r="1.6"/><circle cx="684.9" cy="928.2" r="1.9"/><circle cx="685.1" cy="924.8" r="1"/><circle cx="684.2" cy="931.3" r="1.7"/><circle cx="583.8" cy="543.1" r="1.9"/><circle cx="585.8" cy="545.3" r="1.2"/><circle cx="588.5" cy="544.8" r="0.9"/><circle cx="590.1" cy="548.6" r="2.3"/><circle cx="592.3" cy="547.4" r="1.6"/><circle cx="584.2" cy="547.4" r="1.5"/><circle cx="584.9" cy="540.4" r="1.7"/><circle cx="589.5" cy="548.2" r="1.1"/><circle cx="583.5" cy="546.6" r="1.1"/><circle cx="588.6" cy="542.1" r="1.7"/><circle cx="590.2" cy="543.1" r="1.8"/><circle cx="588.2" cy="549.9" r="2"/><circle cx="590.5" cy="550.5" r="2.1"/><circle cx="589.7" cy="552.3" r="1.3"/><circle cx="583.8" cy="550.7" r="1.2"/><circle cx="593.2" cy="548" r="1.2"/><circle cx="589.4" cy="547.9" r="2.3"/><circle cx="589.9" cy="545.2" r="1.3"/><circle cx="583.8" cy="549.9" r="1.6"/><circle cx="586.3" cy="552.1" r="1.5"/><circle cx="592.3" cy="552.1" r="1.3"/><circle cx="593.9" cy="550.4" r="2.1"/><circle cx="590.9" cy="553.5" r="1.4"/><circle cx="593.2" cy="553.2" r="1.6"/><circle cx="587.4" cy="550.9" r="1"/><circle cx="590.5" cy="555.3" r="1.2"/><circle cx="590.4" cy="550" r="1.3"/><circle cx="592" cy="550.8" r="1.6"/><circle cx="587.4" cy="557.2" r="1"/><circle cx="585.3" cy="553.2" r="2.2"/><circle cx="593.5" cy="552.9" r="2"/><circle cx="584.1" cy="555.5" r="1.4"/><circle cx="591.7" cy="556.5" r="1.1"/><circle cx="589.7" cy="559.8" r="1.7"/><circle cx="591.7" cy="554.5" r="1.4"/><circle cx="594" cy="551.5" r="2.1"/><circle cx="590.1" cy="564.3" r="1.2"/><circle cx="589.1" cy="560.3" r="1.2"/><circle cx="588.6" cy="562.7" r="2"/><circle cx="589.7" cy="559.6" r="1.7"/><circle cx="592.6" cy="565" r="1.7"/><circle cx="597" cy="559.7" r="1.5"/><circle cx="591.3" cy="554.1" r="1.5"/><circle cx="586.9" cy="557.2" r="2.1"/><circle cx="592.6" cy="559.8" r="1"/><circle cx="589.1" cy="560.4" r="1.5"/><circle cx="592.3" cy="554.8" r="1.8"/><circle cx="592.8" cy="556.3" r="1.7"/><circle cx="594.4" cy="565.2" r="1.9"/><circle cx="592.4" cy="567.5" r="1.4"/><circle cx="593.7" cy="567.8" r="1.7"/><circle cx="594.2" cy="563.6" r="1.4"/><circle cx="594.9" cy="564.4" r="1.5"/><circle cx="591.5" cy="562.5" r="1.8"/><circle cx="597.5" cy="561.3" r="1.8"/><circle cx="593.4" cy="566.6" r="1.8"/><circle cx="591.8" cy="559.1" r="1.4"/><circle cx="593.3" cy="566.6" r="2.2"/><circle cx="594.9" cy="566.8" r="1.4"/><circle cx="596.5" cy="560.6" r="2.1"/><circle cx="594.6" cy="569.4" r="1.9"/><circle cx="595.3" cy="575.9" r="1.1"/><circle cx="589.5" cy="571.1" r="1.2"/><circle cx="595.1" cy="567.5" r="1.4"/><circle cx="591.5" cy="567" r="1.1"/><circle cx="593.1" cy="565.3" r="2.3"/><circle cx="599.2" cy="570.6" r="2.3"/><circle cx="594" cy="569.2" r="0.9"/><circle cx="595.7" cy="566.9" r="2.1"/><circle cx="591.4" cy="574.6" r="1.4"/><circle cx="598.4" cy="572.6" r="2.2"/><circle cx="595.7" cy="568.3" r="1.3"/><circle cx="593.3" cy="570.2" r="1.3"/><circle cx="594.3" cy="578.9" r="0.9"/><circle cx="596.5" cy="575.1" r="1.1"/><circle cx="598.8" cy="571.5" r="1.9"/><circle cx="594.2" cy="570.1" r="1.1"/><circle cx="593" cy="570.6" r="1.3"/><circle cx="602.1" cy="573.5" r="1.5"/><circle cx="599.5" cy="569.9" r="1"/><circle cx="600.9" cy="572.9" r="1.1"/><circle cx="592.7" cy="577.9" r="2.3"/><circle cx="595.3" cy="577.5" r="1.5"/><circle cx="592.9" cy="572.8" r="1.4"/><circle cx="595.3" cy="583.5" r="1"/><circle cx="596.9" cy="582.8" r="0.9"/><circle cx="603.8" cy="581.4" r="1.8"/><circle cx="594.6" cy="576.4" r="2.1"/><circle cx="602.1" cy="576.4" r="1"/><circle cx="599.4" cy="575.1" r="2.1"/><circle cx="602.4" cy="577.4" r="1.1"/><circle cx="598.4" cy="583" r="1"/><circle cx="600.7" cy="575.5" r="1.4"/><circle cx="598.7" cy="577.6" r="2.2"/><circle cx="603.1" cy="582.7" r="1.6"/><circle cx="600" cy="578" r="1.6"/><circle cx="600.6" cy="584.1" r="1.5"/><circle cx="602.8" cy="589.3" r="1.3"/><circle cx="600" cy="588.2" r="1.9"/><circle cx="597.6" cy="579.7" r="1.6"/><circle cx="598" cy="589.4" r="2.2"/><circle cx="600.5" cy="588.3" r="1.9"/><circle cx="600.2" cy="584.3" r="2.2"/><circle cx="603.6" cy="585.9" r="2.3"/><circle cx="595.8" cy="588.2" r="1.7"/><circle cx="597.9" cy="580.5" r="1.7"/><circle cx="604.4" cy="581.1" r="2.2"/><circle cx="600.6" cy="584.8" r="1.4"/><circle cx="597.4" cy="587.9" r="2.2"/><circle cx="602" cy="590.7" r="1"/><circle cx="601.1" cy="591.6" r="2.3"/><circle cx="596.8" cy="592.5" r="1"/><circle cx="604.3" cy="592.3" r="1.2"/><circle cx="601.5" cy="589.7" r="1.2"/><circle cx="600.8" cy="585.4" r="1.9"/><circle cx="607.7" cy="591.2" r="1.5"/><circle cx="602.2" cy="586.4" r="1.9"/><circle cx="604.3" cy="585.9" r="1.4"/><circle cx="597.5" cy="593.1" r="0.9"/><circle cx="606" cy="587" r="1.6"/><circle cx="606.5" cy="601.6" r="2.1"/><circle cx="599.8" cy="598.9" r="1.5"/><circle cx="600" cy="595.9" r="2.2"/><circle cx="604.5" cy="600.9" r="1.6"/><circle cx="601" cy="600.5" r="1.1"/><circle cx="606.3" cy="593.9" r="1"/><circle cx="600" cy="600.5" r="1.1"/><circle cx="605.9" cy="596.7" r="1.7"/><circle cx="609.9" cy="597.2" r="2"/><circle cx="606.6" cy="596" r="1.2"/><circle cx="608.5" cy="597.1" r="2.3"/><circle cx="608.6" cy="599.3" r="1.9"/><circle cx="602" cy="606" r="1.9"/><circle cx="601.2" cy="598.6" r="2"/><circle cx="609.2" cy="604.3" r="1.4"/><circle cx="602.7" cy="601.3" r="1.3"/><circle cx="608.8" cy="606" r="1.9"/><circle cx="603.9" cy="603" r="1.3"/><circle cx="606.6" cy="602.4" r="1.1"/><circle cx="610.1" cy="605.7" r="2"/><circle cx="601.1" cy="598.8" r="1.9"/><circle cx="609.7" cy="603.4" r="2.2"/><circle cx="605.1" cy="598.7" r="1.6"/><circle cx="603.6" cy="600.6" r="2"/><circle cx="605.5" cy="610.6" r="1.7"/><circle cx="601.9" cy="608.1" r="2.1"/><circle cx="609.4" cy="612.2" r="1.8"/><circle cx="606.8" cy="604.4" r="2"/><circle cx="605.2" cy="610" r="1.8"/><circle cx="601.9" cy="609.4" r="1.4"/><circle cx="604.7" cy="609.7" r="1.8"/><circle cx="604.2" cy="610.5" r="1"/><circle cx="608.5" cy="608.4" r="1.6"/><circle cx="606.9" cy="604.4" r="1.7"/><circle cx="606.7" cy="611.7" r="2.2"/><circle cx="609.1" cy="603" r="1.6"/><circle cx="604.9" cy="614.4" r="2"/><circle cx="611.4" cy="613.6" r="1.1"/><circle cx="609.2" cy="608.6" r="1.8"/><circle cx="608.1" cy="612.8" r="1.4"/><circle cx="606.6" cy="609.7" r="1.8"/><circle cx="609.6" cy="613.2" r="2"/><circle cx="609.4" cy="609.9" r="1.3"/><circle cx="610" cy="616" r="1.8"/><circle cx="612.3" cy="612.3" r="2"/><circle cx="610.3" cy="611.1" r="1.1"/><circle cx="610.8" cy="618.2" r="2.2"/><circle cx="613.1" cy="617.9" r="1.7"/><circle cx="607.9" cy="617.6" r="2.1"/><circle cx="608.3" cy="619.8" r="1.7"/><circle cx="607.4" cy="623.6" r="2"/><circle cx="614.6" cy="621" r="2.1"/><circle cx="613.8" cy="615.2" r="2"/><circle cx="616.3" cy="617.5" r="1.6"/><circle cx="611.3" cy="620.7" r="1.7"/><circle cx="611.3" cy="615.2" r="1.6"/><circle cx="607.3" cy="619.2" r="1.9"/><circle cx="614" cy="615.9" r="1.3"/><circle cx="616.6" cy="621.5" r="1.2"/><circle cx="612.3" cy="617" r="1"/><circle cx="615.9" cy="620.3" r="1.1"/><circle cx="616.1" cy="630.6" r="1"/><circle cx="617" cy="620.7" r="1"/><circle cx="616.8" cy="629.9" r="0.9"/><circle cx="612.9" cy="622.9" r="1.2"/><circle cx="615.6" cy="620.7" r="1.8"/><circle cx="609.6" cy="621.4" r="2.3"/><circle cx="611.2" cy="624.4" r="1.8"/><circle cx="609.4" cy="627" r="1.9"/><circle cx="615" cy="623.6" r="2"/><circle cx="608.8" cy="625.6" r="1.7"/><circle cx="610.9" cy="623.6" r="1.7"/><circle cx="615.6" cy="624.8" r="2.3"/><circle cx="616.5" cy="625.7" r="1.1"/><circle cx="612.7" cy="630.8" r="2.2"/><circle cx="620.2" cy="631.1" r="1.3"/><circle cx="619.1" cy="633.7" r="1.2"/><circle cx="613.7" cy="628.9" r="1.7"/><circle cx="621.7" cy="631.1" r="1.3"/><circle cx="619.7" cy="625.8" r="1.1"/><circle cx="611.1" cy="630.9" r="1.7"/><circle cx="616.6" cy="630.6" r="1.2"/><circle cx="613.5" cy="631" r="1.5"/><circle cx="617" cy="635" r="1.6"/><circle cx="619.9" cy="629.6" r="1.2"/><circle cx="616.3" cy="633.6" r="1.1"/><circle cx="625.2" cy="632.6" r="1.3"/><circle cx="614.9" cy="633.4" r="2"/><circle cx="620.6" cy="639.7" r="1.8"/><circle cx="621.7" cy="634.1" r="2.1"/><circle cx="619.4" cy="630.7" r="1.2"/><circle cx="616.2" cy="636.5" r="1.9"/><circle cx="619.6" cy="636.8" r="1.5"/><circle cx="621.1" cy="629.5" r="1.5"/><circle cx="625.7" cy="635.9" r="1.4"/><circle cx="621.5" cy="640.7" r="1.6"/><circle cx="622.3" cy="643.2" r="2.1"/><circle cx="620" cy="641.4" r="1.3"/><circle cx="621.6" cy="643" r="1.4"/><circle cx="628.3" cy="639.2" r="2.1"/><circle cx="618.9" cy="638.2" r="0.9"/><circle cx="623.2" cy="638.9" r="2.3"/><circle cx="622" cy="637" r="1.1"/><circle cx="623.7" cy="642.1" r="2.1"/><circle cx="625.4" cy="634.6" r="1.8"/><circle cx="627.8" cy="639" r="1.5"/><circle cx="625.1" cy="635.6" r="1.2"/><circle cx="618.7" cy="641.3" r="1.6"/><circle cx="624.3" cy="646" r="1.1"/><circle cx="625.1" cy="645.1" r="2"/><circle cx="623" cy="644.4" r="1.7"/><circle cx="627.3" cy="644.8" r="1.4"/><circle cx="623.5" cy="645.7" r="2.1"/><circle cx="628.9" cy="645.6" r="2.2"/><circle cx="623.7" cy="644.6" r="2.1"/><circle cx="626.8" cy="647.5" r="1.2"/><circle cx="625.4" cy="649.5" r="1.5"/><circle cx="627.2" cy="644.8" r="2.1"/><circle cx="626.1" cy="648.4" r="1.9"/><circle cx="625.5" cy="645" r="1.3"/><circle cx="624.6" cy="647.8" r="1"/><circle cx="627.6" cy="652.1" r="2.3"/><circle cx="626.4" cy="644" r="1.4"/><circle cx="629.4" cy="643.7" r="2"/><circle cx="625.9" cy="648.5" r="1.3"/><circle cx="631.8" cy="643.4" r="1.6"/><circle cx="634" cy="650" r="1.2"/><circle cx="629.9" cy="650.8" r="1.7"/><circle cx="634.8" cy="645.6" r="1"/><circle cx="631.6" cy="644.4" r="2.1"/><circle cx="633.3" cy="651.3" r="2.1"/><circle cx="628.6" cy="650.7" r="0.9"/><circle cx="635" cy="652.3" r="2.3"/><circle cx="636.1" cy="652.4" r="1.9"/><circle cx="633.7" cy="654.4" r="0.9"/><circle cx="629.4" cy="650.1" r="1.9"/><circle cx="637.7" cy="654.5" r="2"/><circle cx="634.3" cy="648.8" r="1.3"/><circle cx="633.6" cy="656" r="1.5"/><circle cx="635" cy="651" r="1.3"/><circle cx="628.7" cy="652" r="1.7"/><circle cx="630.8" cy="658.3" r="1.3"/><circle cx="631.2" cy="656.8" r="1.8"/><circle cx="632" cy="654.9" r="1.9"/><circle cx="633.3" cy="654.3" r="1.8"/><circle cx="636.2" cy="652.6" r="1.1"/><circle cx="634.5" cy="653.1" r="1.6"/><circle cx="634.1" cy="655.5" r="2"/><circle cx="638.2" cy="652.8" r="1.7"/><circle cx="632" cy="655.9" r="1.2"/><circle cx="631.2" cy="655.1" r="1.6"/><circle cx="639.1" cy="661.3" r="1"/><circle cx="638.5" cy="659.7" r="1.3"/><circle cx="630.9" cy="655" r="1.3"/><circle cx="639.5" cy="657.7" r="1"/><circle cx="632.2" cy="653.7" r="1.1"/><circle cx="633.6" cy="660.8" r="1"/><circle cx="635.5" cy="667.3" r="1.2"/><circle cx="638.1" cy="667.2" r="0.9"/><circle cx="640.7" cy="663.5" r="0.9"/><circle cx="642.7" cy="666.5" r="1"/><circle cx="643.5" cy="663.9" r="1.8"/><circle cx="640.5" cy="665.6" r="1.2"/><circle cx="632.4" cy="663.9" r="1.3"/><circle cx="636.1" cy="667.4" r="1.7"/><circle cx="633.4" cy="665.4" r="1.9"/><circle cx="638.8" cy="668.4" r="1.6"/><circle cx="639.8" cy="657.7" r="1.3"/><circle cx="545.6" cy="559.2" r="1.6"/><circle cx="543.4" cy="562.3" r="1"/><circle cx="545" cy="561" r="0.9"/><circle cx="545.9" cy="563.7" r="1.9"/><circle cx="546.5" cy="556" r="2"/><circle cx="547" cy="560.6" r="1.9"/><circle cx="544.4" cy="563.9" r="1.8"/><circle cx="550.2" cy="562" r="1.3"/><circle cx="545.3" cy="558.5" r="2"/><circle cx="549.2" cy="557.3" r="2.2"/><circle cx="548.2" cy="565.7" r="1.8"/><circle cx="552.5" cy="563.1" r="2.3"/><circle cx="549.4" cy="567.1" r="1.5"/><circle cx="549.9" cy="561.1" r="1.4"/><circle cx="548.6" cy="567.9" r="1.1"/><circle cx="546" cy="566.7" r="1.6"/><circle cx="549" cy="569" r="2"/><circle cx="547.9" cy="565.2" r="1.5"/><circle cx="546.4" cy="569.5" r="1.2"/><circle cx="547.1" cy="565.7" r="1.9"/><circle cx="551.4" cy="562.7" r="1.4"/><circle cx="548.2" cy="562.5" r="1.2"/><circle cx="551.3" cy="565.8" r="1.4"/><circle cx="551.7" cy="567.9" r="1.1"/><circle cx="550.3" cy="567.5" r="1"/><circle cx="548.9" cy="569.3" r="1.9"/><circle cx="548.4" cy="568.6" r="2.2"/><circle cx="553" cy="569.3" r="1.2"/><circle cx="548.2" cy="574.2" r="1.4"/><circle cx="551.1" cy="564.3" r="1.2"/><circle cx="548.2" cy="566.4" r="2.1"/><circle cx="556.7" cy="567.8" r="2"/><circle cx="548.9" cy="571" r="1.2"/><circle cx="557.9" cy="575.2" r="1.7"/><circle cx="556.5" cy="575.3" r="1.6"/><circle cx="555.5" cy="574.7" r="1.7"/><circle cx="550.6" cy="570.8" r="1.2"/><circle cx="558.7" cy="576.1" r="0.9"/><circle cx="549.2" cy="576" r="1.6"/><circle cx="558.4" cy="573.6" r="1.8"/><circle cx="555.2" cy="578.6" r="1.9"/><circle cx="556.8" cy="573" r="2"/><circle cx="554.2" cy="580.5" r="1.4"/><circle cx="554.4" cy="579.3" r="2"/><circle cx="557.7" cy="575.7" r="1.1"/><circle cx="553.1" cy="581.8" r="0.9"/><circle cx="557.2" cy="575.4" r="1.2"/><circle cx="552.7" cy="580.6" r="1.9"/><circle cx="556.4" cy="585" r="1.9"/><circle cx="550.9" cy="578.3" r="1.2"/><circle cx="554.7" cy="577.4" r="2.1"/><circle cx="554" cy="584.5" r="2.2"/><circle cx="558.1" cy="578.4" r="1.8"/><circle cx="558.5" cy="578.1" r="1.6"/><circle cx="558.9" cy="577.7" r="1.9"/><circle cx="556.8" cy="587.5" r="1.3"/><circle cx="552.7" cy="587" r="1.3"/><circle cx="554.1" cy="584.6" r="1.6"/><circle cx="562.4" cy="587.4" r="1.5"/><circle cx="557" cy="586.2" r="1.1"/><circle cx="555.2" cy="586.2" r="2.2"/><circle cx="558.9" cy="581.5" r="2.3"/><circle cx="561.2" cy="581.7" r="1.4"/><circle cx="554.3" cy="588.9" r="1.9"/><circle cx="561" cy="585.8" r="1.2"/><circle cx="552.1" cy="586.1" r="0.9"/><circle cx="560.2" cy="593.3" r="1.1"/><circle cx="559.2" cy="590.5" r="1.1"/><circle cx="556.4" cy="591.3" r="1.1"/><circle cx="555.8" cy="586.7" r="2.2"/><circle cx="560.9" cy="588.9" r="0.9"/><circle cx="557" cy="591.8" r="0.9"/><circle cx="558.2" cy="595.4" r="1.1"/><circle cx="555.6" cy="589.7" r="1.3"/><circle cx="557.8" cy="591" r="2.2"/><circle cx="559" cy="584.5" r="1.4"/><circle cx="564.2" cy="589.2" r="1"/><circle cx="558.7" cy="591.7" r="1.4"/><circle cx="559.5" cy="597.1" r="1.9"/><circle cx="565.5" cy="599.5" r="2"/><circle cx="557.8" cy="597.3" r="1"/><circle cx="563.8" cy="591.7" r="2.1"/><circle cx="565.8" cy="594.6" r="1.9"/><circle cx="563.4" cy="596.4" r="1.4"/><circle cx="563.9" cy="590.7" r="1.5"/><circle cx="563.7" cy="594.1" r="1.2"/><circle cx="567.1" cy="592.5" r="1.7"/><circle cx="561.5" cy="591.2" r="2.3"/><circle cx="566.4" cy="604.7" r="1.3"/><circle cx="558.4" cy="602.4" r="1"/><circle cx="562.9" cy="598.3" r="1.9"/><circle cx="562.2" cy="602.9" r="1.3"/><circle cx="560" cy="599.6" r="1.1"/><circle cx="564" cy="598.7" r="2.3"/><circle cx="567.1" cy="603.9" r="1.4"/><circle cx="565.3" cy="595.4" r="1.4"/><circle cx="559.4" cy="599.9" r="1.5"/><circle cx="564.8" cy="601.1" r="1.3"/><circle cx="567.9" cy="599.4" r="2"/><circle cx="565.2" cy="606.1" r="2"/><circle cx="568.8" cy="607.3" r="1.9"/><circle cx="568.6" cy="601.4" r="2.1"/><circle cx="566.7" cy="610.3" r="1.7"/><circle cx="561" cy="605.6" r="1.8"/><circle cx="563.6" cy="599.9" r="2.1"/><circle cx="561.8" cy="607.5" r="1.7"/><circle cx="561.8" cy="602.9" r="1.2"/><circle cx="565.4" cy="602.3" r="1.7"/><circle cx="562.4" cy="600.4" r="1.9"/><circle cx="563.9" cy="602.1" r="1.9"/><circle cx="571.5" cy="608.4" r="1.9"/><circle cx="560.7" cy="610.5" r="1.8"/><circle cx="564.1" cy="609" r="1.5"/><circle cx="565" cy="606.3" r="1.7"/><circle cx="571.2" cy="607.1" r="1.6"/><circle cx="563.3" cy="612.1" r="1.5"/><circle cx="567.6" cy="608.9" r="1.6"/><circle cx="565.8" cy="608" r="2.1"/><circle cx="564.2" cy="613.5" r="1.5"/><circle cx="562.1" cy="610.9" r="1.3"/><circle cx="571.9" cy="609.7" r="2"/><circle cx="570.4" cy="612.6" r="1.1"/><circle cx="569.3" cy="611.3" r="2"/><circle cx="569.5" cy="611.6" r="2"/><circle cx="573.9" cy="614.8" r="2.3"/><circle cx="567.7" cy="609.2" r="1.5"/><circle cx="566.6" cy="620" r="1.6"/><circle cx="566.9" cy="609.2" r="1"/><circle cx="565" cy="614.2" r="2.2"/><circle cx="570.7" cy="617.4" r="1.1"/><circle cx="568.9" cy="617.4" r="1.1"/><circle cx="570.1" cy="613.3" r="1.4"/><circle cx="567.8" cy="615" r="2"/><circle cx="570.2" cy="614.3" r="1.7"/><circle cx="567.8" cy="620.3" r="1.3"/><circle cx="567.6" cy="616.7" r="1.9"/><circle cx="568.5" cy="624.3" r="1.4"/><circle cx="565.5" cy="619.5" r="1"/><circle cx="565.8" cy="620.3" r="1.7"/><circle cx="566.6" cy="616.2" r="1.6"/><circle cx="569.3" cy="619.8" r="1.8"/><circle cx="572.4" cy="615.8" r="1.4"/><circle cx="567.7" cy="625.1" r="1.5"/><circle cx="501.7" cy="556.7" r="1"/><circle cx="497.8" cy="561.1" r="1.5"/><circle cx="503" cy="562.6" r="1.8"/><circle cx="499.2" cy="557.2" r="1.8"/><circle cx="500" cy="556.7" r="1"/><circle cx="500.7" cy="564.7" r="1.5"/><circle cx="500.8" cy="564.8" r="1.9"/><circle cx="502.7" cy="563.1" r="1.1"/><circle cx="498.6" cy="561.3" r="1.7"/><circle cx="502" cy="560.5" r="1.6"/><circle cx="502.6" cy="569" r="1"/><circle cx="503.8" cy="565.7" r="1.4"/><circle cx="502.9" cy="570" r="1.6"/><circle cx="498.9" cy="566.7" r="1"/><circle cx="500.9" cy="571.3" r="1.3"/><circle cx="506.4" cy="570.3" r="1.8"/><circle cx="505.4" cy="570.1" r="0.9"/><circle cx="502" cy="572.8" r="2.3"/><circle cx="502.5" cy="570.5" r="1.4"/><circle cx="503.9" cy="567.4" r="2.2"/><circle cx="501.2" cy="577.2" r="2.1"/><circle cx="504.4" cy="578.6" r="1.2"/><circle cx="501.6" cy="574.1" r="1.5"/><circle cx="506" cy="573.3" r="1.2"/><circle cx="502.3" cy="574.2" r="1.8"/><circle cx="504" cy="582.4" r="1.5"/><circle cx="506.8" cy="581.4" r="1.5"/><circle cx="504" cy="581" r="1.8"/><circle cx="508.6" cy="578.6" r="2.1"/><circle cx="506.1" cy="579.3" r="2.1"/><circle cx="502.6" cy="580.7" r="1.6"/><circle cx="508.6" cy="580" r="2"/><circle cx="502.7" cy="581.3" r="1.5"/><circle cx="507.7" cy="582.7" r="2.1"/><circle cx="507.5" cy="581.6" r="1.6"/><circle cx="506.1" cy="589.2" r="1.3"/><circle cx="504.4" cy="584.2" r="1.3"/><circle cx="509.5" cy="587.7" r="1.2"/><circle cx="506.4" cy="589.4" r="2.2"/><circle cx="505.6" cy="589.9" r="0.9"/><circle cx="509.5" cy="593.4" r="2"/><circle cx="508.6" cy="587.2" r="1.2"/><circle cx="505.8" cy="588.8" r="1.8"/><circle cx="506.4" cy="587.7" r="2.1"/><circle cx="504.9" cy="591.1" r="1.5"/><circle cx="508.8" cy="596.7" r="1.9"/><circle cx="511.5" cy="596.1" r="0.9"/><circle cx="506.8" cy="595.6" r="2.1"/><circle cx="509.3" cy="596.9" r="1"/><circle cx="507.1" cy="596.3" r="2"/><circle cx="507.8" cy="598.1" r="1.5"/><circle cx="511.9" cy="596.7" r="1.3"/><circle cx="512.1" cy="599.1" r="1.4"/><circle cx="511.7" cy="595.6" r="1.6"/><circle cx="507.5" cy="596.3" r="1.5"/><circle cx="507.7" cy="599.7" r="1.4"/><circle cx="509.6" cy="601.3" r="2.2"/><circle cx="513.8" cy="599.6" r="1.1"/><circle cx="513.1" cy="603.2" r="2.2"/><circle cx="510.2" cy="598.6" r="1"/><circle cx="511.2" cy="607.1" r="1"/><circle cx="511.5" cy="601.7" r="1.2"/><circle cx="512.4" cy="606.2" r="2.2"/><circle cx="510.6" cy="602.9" r="1"/><circle cx="512.3" cy="604.7" r="2.2"/><circle cx="512.9" cy="605.4" r="1.1"/><circle cx="515" cy="606.6" r="1.4"/><circle cx="512.5" cy="608.2" r="1.3"/><circle cx="516.8" cy="607.8" r="1.9"/><circle cx="510.7" cy="605.7" r="0.9"/><circle cx="512.7" cy="614.9" r="1.6"/><circle cx="511.9" cy="612.4" r="1.7"/><circle cx="511.6" cy="612.1" r="2.2"/><circle cx="513.6" cy="616.4" r="1.9"/><circle cx="515.5" cy="612" r="1.2"/><circle cx="516.3" cy="613.8" r="1.5"/><circle cx="512.2" cy="615.6" r="2.3"/><circle cx="515.8" cy="616.4" r="1.8"/><circle cx="516.2" cy="617.1" r="1.3"/><circle cx="512.7" cy="617.1" r="2.2"/><circle cx="519" cy="619.9" r="1.3"/><circle cx="516.7" cy="616.4" r="1.6"/><circle cx="515.8" cy="620.9" r="2.2"/><circle cx="515.9" cy="622.3" r="0.9"/><circle cx="515" cy="621.7" r="1.5"/><circle cx="644.3" cy="668.1" r="1.7"/><circle cx="643.7" cy="670.4" r="1.5"/><circle cx="640.8" cy="671.8" r="1"/><circle cx="644.5" cy="667.6" r="1.6"/><circle cx="640.2" cy="666.4" r="1"/><circle cx="642" cy="671.1" r="1.9"/><circle cx="643" cy="676.3" r="1.3"/><circle cx="641.4" cy="669.9" r="1.7"/><circle cx="642.7" cy="668.6" r="1.6"/><circle cx="644.1" cy="675.3" r="1.6"/><circle cx="643" cy="673.8" r="1.2"/><circle cx="643.8" cy="672" r="1.3"/><circle cx="644" cy="673.1" r="1.8"/><circle cx="640.5" cy="675.5" r="1"/><circle cx="644.4" cy="672.4" r="2.1"/><circle cx="642.2" cy="680.1" r="1.4"/><circle cx="640.8" cy="677.5" r="1.2"/><circle cx="646.8" cy="675.8" r="1.3"/><circle cx="645.8" cy="677.5" r="1.3"/><circle cx="641.2" cy="677.6" r="1.2"/><circle cx="641.9" cy="679.2" r="1.5"/><circle cx="645.9" cy="680.5" r="1.9"/><circle cx="646" cy="679.7" r="2.1"/><circle cx="641.8" cy="678" r="0.9"/><circle cx="644.8" cy="687.1" r="1.7"/><circle cx="644.1" cy="682" r="1.5"/><circle cx="649.8" cy="683.7" r="1.4"/><circle cx="641.4" cy="683" r="2.2"/><circle cx="644.9" cy="686.7" r="2.2"/><circle cx="649.6" cy="686.1" r="1.6"/><circle cx="644.5" cy="692" r="2"/><circle cx="647.7" cy="689.7" r="1.1"/><circle cx="644.8" cy="687.6" r="1.3"/><circle cx="645.9" cy="683.6" r="2"/><circle cx="645.6" cy="686" r="1.3"/><circle cx="644.7" cy="688.9" r="1.9"/><circle cx="646.4" cy="693.9" r="1.7"/><circle cx="649.8" cy="694.1" r="2"/><circle cx="642.7" cy="690.7" r="1.1"/><circle cx="650" cy="689" r="2.2"/><circle cx="645.6" cy="688.9" r="1.9"/><circle cx="644.2" cy="690.8" r="1.5"/><circle cx="648.9" cy="696.5" r="1.8"/><circle cx="648.8" cy="695.7" r="1.6"/><circle cx="646.3" cy="699.3" r="1.7"/><circle cx="649.4" cy="699.2" r="1.9"/><circle cx="651.1" cy="695.9" r="1.9"/><circle cx="651.1" cy="696.2" r="2"/><circle cx="646.3" cy="697.6" r="2.1"/><circle cx="648.8" cy="704.8" r="1.7"/><circle cx="646.2" cy="697.3" r="2.2"/><circle cx="646.1" cy="697.7" r="1.6"/><circle cx="650.3" cy="701.3" r="1"/><circle cx="650.9" cy="702.2" r="1.4"/><circle cx="652.8" cy="705" r="2"/><circle cx="645.3" cy="703.3" r="2"/><circle cx="650.7" cy="706.8" r="1.9"/><circle cx="647.2" cy="705" r="1"/><circle cx="648.4" cy="701.8" r="1.4"/><circle cx="647.6" cy="701.5" r="2"/><circle cx="653.2" cy="708.5" r="2.2"/><circle cx="647.9" cy="709.5" r="1.6"/><circle cx="648.8" cy="713.7" r="1.5"/><circle cx="652.3" cy="709.4" r="1.4"/><circle cx="645.3" cy="710.2" r="2"/><circle cx="649.7" cy="708.5" r="1.9"/><circle cx="647.2" cy="713.4" r="1.2"/><circle cx="653.6" cy="716.2" r="1.5"/><circle cx="652.9" cy="714" r="1.8"/><circle cx="648" cy="716.1" r="1.8"/><circle cx="649.5" cy="716.2" r="1.3"/><circle cx="652.7" cy="716.8" r="1.1"/><circle cx="653.1" cy="716.1" r="1.3"/><circle cx="649.7" cy="720.5" r="1.8"/><circle cx="650" cy="719.6" r="2"/><circle cx="648.3" cy="721.3" r="1.6"/><circle cx="652.2" cy="721.2" r="1.2"/><circle cx="650.7" cy="719.9" r="0.9"/><circle cx="651" cy="722.4" r="1.5"/><circle cx="652" cy="725" r="1.1"/><circle cx="654" cy="720" r="1"/><circle cx="651.7" cy="718.7" r="1.5"/><circle cx="649" cy="721.5" r="1.1"/><circle cx="651.5" cy="722.9" r="1.8"/><circle cx="651.8" cy="722.2" r="1.5"/><circle cx="654.1" cy="724.7" r="1.9"/><circle cx="651.3" cy="728.8" r="2.2"/><circle cx="652.3" cy="726.3" r="1.4"/><circle cx="650.2" cy="726.8" r="1.1"/><circle cx="650" cy="725.3" r="2.3"/><circle cx="653" cy="734.2" r="1.8"/><circle cx="655.3" cy="733.7" r="1.7"/><circle cx="656.2" cy="729.7" r="2"/><circle cx="655.3" cy="726.2" r="2"/><circle cx="653.4" cy="726.7" r="2.1"/><circle cx="651.7" cy="733.6" r="1.4"/><circle cx="658.5" cy="739.5" r="2"/><circle cx="656.7" cy="740.1" r="1.2"/><circle cx="656.5" cy="736.5" r="1.3"/><circle cx="656" cy="741.7" r="1.1"/><circle cx="659.3" cy="736.3" r="2.1"/><circle cx="660.3" cy="741" r="2.2"/><circle cx="658.3" cy="736.8" r="0.9"/><circle cx="655.6" cy="743.7" r="1.7"/><circle cx="658.1" cy="747.9" r="2"/><circle cx="655.2" cy="744.8" r="1.2"/><circle cx="656.9" cy="742.4" r="1.2"/><circle cx="657.5" cy="741.5" r="1.4"/><circle cx="660.2" cy="744.6" r="1.9"/><circle cx="660" cy="742.3" r="1.2"/><circle cx="659.8" cy="752" r="1.7"/><circle cx="661.1" cy="749.8" r="2.1"/><circle cx="663.1" cy="747.7" r="2.2"/><circle cx="656.9" cy="749.3" r="1.1"/><circle cx="660" cy="744.7" r="1.3"/><circle cx="656.6" cy="748.4" r="1"/><circle cx="658.4" cy="750.5" r="1.3"/><circle cx="662.7" cy="755.3" r="1.8"/><circle cx="659.7" cy="749.2" r="2.3"/><circle cx="665.8" cy="750.4" r="2.2"/><circle cx="658.3" cy="749.5" r="2.1"/><circle cx="659.5" cy="754.4" r="1.1"/><circle cx="662" cy="752.7" r="1.7"/><circle cx="663.9" cy="755.2" r="1.6"/><circle cx="661" cy="759" r="1.5"/><circle cx="661.2" cy="758.8" r="2"/><circle cx="666.3" cy="756.3" r="0.9"/><circle cx="659" cy="756.8" r="1"/><circle cx="664.4" cy="753" r="2"/><circle cx="663.1" cy="756.5" r="2.1"/><circle cx="661.4" cy="755.1" r="1.7"/><circle cx="667.2" cy="762.9" r="2.3"/><circle cx="660.6" cy="762.3" r="2.1"/><circle cx="661.8" cy="759.9" r="1.2"/><circle cx="668.5" cy="760.4" r="2.1"/><circle cx="662.4" cy="761.6" r="1.9"/><circle cx="663.2" cy="758.6" r="1"/><circle cx="665.8" cy="759.9" r="1.2"/><circle cx="664.4" cy="763.4" r="1.1"/><circle cx="666.8" cy="761.9" r="1.2"/><circle cx="667.9" cy="762.4" r="2.1"/><circle cx="669.9" cy="763.5" r="2"/><circle cx="667.2" cy="765.5" r="2.2"/><circle cx="667.5" cy="766.3" r="2.2"/><circle cx="665.6" cy="761.4" r="0.9"/><circle cx="669" cy="768.5" r="2.1"/><circle cx="664.3" cy="769.4" r="0.9"/><circle cx="665.2" cy="768.2" r="1.2"/><circle cx="668.7" cy="771.1" r="2.1"/><circle cx="667.4" cy="771" r="2"/><circle cx="669.1" cy="767.1" r="1.7"/><circle cx="669.9" cy="766.5" r="1.4"/><circle cx="663.6" cy="773.4" r="1.1"/><circle cx="667.5" cy="769.7" r="1.1"/><circle cx="671.5" cy="771" r="2.2"/><circle cx="670.1" cy="773.3" r="1.6"/><circle cx="669.3" cy="775.3" r="1.2"/><circle cx="668.4" cy="770.4" r="1.2"/><circle cx="665.5" cy="775.1" r="2.2"/><circle cx="668.4" cy="773.3" r="1.1"/><circle cx="667.3" cy="775.1" r="2.1"/><circle cx="669.2" cy="776.2" r="1.8"/><circle cx="666.1" cy="775.1" r="1.5"/><circle cx="665.1" cy="774.5" r="1.7"/><circle cx="669.9" cy="774.1" r="1"/><circle cx="669.6" cy="773.1" r="0.9"/><circle cx="673.9" cy="778.4" r="2"/><circle cx="673.2" cy="781.2" r="0.9"/><circle cx="668" cy="778.9" r="1.5"/><circle cx="670.7" cy="777.2" r="1.2"/><circle cx="665.7" cy="779.1" r="1.1"/><circle cx="673.1" cy="777.5" r="1.6"/><circle cx="670.7" cy="775.9" r="1.7"/><circle cx="673.7" cy="781.4" r="1.8"/><circle cx="673" cy="784.3" r="1.4"/><circle cx="671.1" cy="785.3" r="1.5"/><circle cx="673.1" cy="786" r="2"/><circle cx="670.4" cy="780.6" r="1.1"/><circle cx="669.2" cy="784.3" r="1"/><circle cx="669.3" cy="780.6" r="1.6"/><circle cx="669.3" cy="790.4" r="1"/><circle cx="670.7" cy="789.7" r="2.1"/><circle cx="671" cy="791.5" r="2.1"/><circle cx="672.6" cy="786" r="1.2"/><circle cx="673.7" cy="783.5" r="1.8"/><circle cx="669.6" cy="784.7" r="1.8"/><circle cx="671" cy="783.5" r="1.1"/><circle cx="675.6" cy="790.2" r="2"/><circle cx="671.6" cy="792.1" r="1.2"/><circle cx="671.4" cy="792.7" r="1.5"/><circle cx="668.8" cy="792.6" r="1.9"/><circle cx="670.1" cy="791" r="1.3"/><circle cx="668.9" cy="790.6" r="1.1"/><circle cx="674.8" cy="792.6" r="1.4"/><circle cx="673.3" cy="798.9" r="1"/><circle cx="670.8" cy="794.8" r="1.4"/><circle cx="676.6" cy="795.8" r="1.5"/><circle cx="674.5" cy="795" r="1.7"/><circle cx="672.4" cy="797.8" r="1.6"/><circle cx="671.6" cy="795.8" r="2"/><circle cx="674" cy="793.4" r="1.7"/><circle cx="677.2" cy="795.9" r="2.1"/><circle cx="674.7" cy="798" r="1.6"/><circle cx="677.8" cy="795.8" r="1.2"/><circle cx="675.4" cy="794.4" r="1.5"/><circle cx="672.2" cy="796" r="1.4"/><circle cx="679.1" cy="799.8" r="1.3"/><circle cx="676.7" cy="798.8" r="0.9"/><circle cx="676.5" cy="804.3" r="2"/><circle cx="677.1" cy="801.4" r="1.5"/><circle cx="679.9" cy="801.9" r="1.7"/><circle cx="679.3" cy="805.8" r="1.7"/><circle cx="677.2" cy="798.9" r="1.4"/><circle cx="674.2" cy="805" r="1.8"/><circle cx="673.7" cy="803.2" r="2.1"/><circle cx="681.6" cy="805.1" r="1.4"/><circle cx="678.8" cy="805.5" r="2.3"/><circle cx="682.5" cy="805" r="1.3"/><circle cx="679.4" cy="805.3" r="1.2"/><circle cx="674.8" cy="805.3" r="2.1"/><circle cx="681.2" cy="805.8" r="1.5"/><circle cx="675.3" cy="808.9" r="2"/><circle cx="677.5" cy="811.5" r="2.1"/><circle cx="678.7" cy="807.6" r="1.9"/><circle cx="681.1" cy="809.1" r="0.9"/><circle cx="678.4" cy="811.8" r="1.2"/><circle cx="679.8" cy="812.4" r="1.4"/><circle cx="676.6" cy="811.6" r="1.9"/><circle cx="681" cy="813.7" r="1.4"/><circle cx="681.6" cy="813.3" r="2.1"/><circle cx="680" cy="811.4" r="1.4"/><circle cx="684.4" cy="815.9" r="1.2"/><circle cx="680" cy="816.4" r="1.9"/><circle cx="682.5" cy="811.3" r="0.9"/><circle cx="684.8" cy="812.2" r="2.1"/><circle cx="683.6" cy="815.8" r="2"/><circle cx="686.4" cy="815.9" r="2.2"/><circle cx="686.3" cy="817.9" r="2.2"/><circle cx="681.5" cy="813.6" r="1.1"/><circle cx="686.4" cy="820.3" r="1.5"/><circle cx="684.4" cy="813.3" r="2.2"/><circle cx="681" cy="814.8" r="1.6"/><circle cx="682.8" cy="817.4" r="1.9"/><circle cx="681.7" cy="823.9" r="1.4"/><circle cx="683.6" cy="824.8" r="1.9"/><circle cx="686.6" cy="823.9" r="1.5"/><circle cx="683.1" cy="821.5" r="2.1"/><circle cx="681.6" cy="823.1" r="1.6"/><circle cx="688.5" cy="823.1" r="2.2"/><circle cx="683.7" cy="820.9" r="1.2"/><circle cx="683.4" cy="823.3" r="1.2"/><circle cx="687.1" cy="825.6" r="1.9"/><circle cx="686.2" cy="826" r="1.6"/><circle cx="685.8" cy="823.6" r="1.3"/><circle cx="684.5" cy="825.1" r="1.5"/><circle cx="686.4" cy="826.5" r="2.3"/><circle cx="686.7" cy="829.4" r="1.3"/><circle cx="688" cy="830.7" r="1.5"/><circle cx="686.6" cy="827.6" r="2.3"/><circle cx="686.8" cy="828.6" r="1.3"/><circle cx="691" cy="828.5" r="1.7"/><circle cx="686.2" cy="831.5" r="1.7"/><circle cx="687.3" cy="826.5" r="0.9"/><circle cx="687.2" cy="828" r="1.9"/><circle cx="686.4" cy="830.9" r="1.1"/><circle cx="686.5" cy="836.3" r="1.9"/><circle cx="688.5" cy="830.9" r="1.8"/><circle cx="686.7" cy="836" r="1.1"/><circle cx="687.1" cy="832.7" r="1.8"/><circle cx="692" cy="833.8" r="1.6"/><circle cx="689.2" cy="837.4" r="1.4"/><circle cx="421" cy="463.8" r="1.7"/><circle cx="427.6" cy="459.9" r="1.2"/><circle cx="419.7" cy="467.6" r="2.1"/><circle cx="417.3" cy="465.9" r="1.9"/><circle cx="416.3" cy="466.1" r="2.1"/><circle cx="425.4" cy="459.9" r="2"/><circle cx="417.6" cy="468" r="1.1"/><circle cx="424.7" cy="462.4" r="1.7"/><circle cx="420.4" cy="461.5" r="1.7"/><circle cx="419.3" cy="468" r="1.2"/><circle cx="420.8" cy="464.7" r="1.9"/><circle cx="415.8" cy="466.5" r="0.9"/><circle cx="428.3" cy="472.9" r="1.6"/><circle cx="428.5" cy="472.4" r="1.8"/><circle cx="419.6" cy="462.8" r="1.1"/><circle cx="417.3" cy="470.9" r="1.9"/><circle cx="429.2" cy="466.9" r="1.4"/><circle cx="428.1" cy="472.6" r="2.3"/><circle cx="421.8" cy="472.7" r="1.2"/><circle cx="423.6" cy="472" r="1.9"/><circle cx="425.7" cy="462.7" r="2.2"/><circle cx="423.9" cy="470.2" r="1.2"/><circle cx="427" cy="472.1" r="1.2"/><circle cx="429" cy="467.3" r="2.1"/><circle cx="419.3" cy="466.7" r="1.2"/><circle cx="418.1" cy="468.7" r="1.6"/><circle cx="424.9" cy="468.8" r="1.3"/><circle cx="421.8" cy="474.2" r="1.5"/><circle cx="425" cy="480.9" r="1.5"/><circle cx="427.9" cy="469.7" r="1.3"/><circle cx="430.5" cy="479.1" r="1.6"/><circle cx="419.6" cy="475.3" r="2.2"/><circle cx="426.2" cy="468.3" r="1.9"/><circle cx="424.2" cy="468.2" r="1"/><circle cx="427.5" cy="478.7" r="1.4"/><circle cx="420.2" cy="471.8" r="1.2"/><circle cx="425.8" cy="471.8" r="2.2"/><circle cx="426.7" cy="474.3" r="1"/><circle cx="423.4" cy="471.9" r="2"/><circle cx="421.4" cy="477" r="1.8"/><circle cx="423.8" cy="468.6" r="1.6"/><circle cx="419.5" cy="471.4" r="2.2"/><circle cx="430.5" cy="471.8" r="1.4"/><circle cx="422.8" cy="476.9" r="1.3"/><circle cx="427.6" cy="483.6" r="1.3"/><circle cx="422.9" cy="483.6" r="1.8"/><circle cx="432.8" cy="482.8" r="1.8"/><circle cx="426.5" cy="476.6" r="2.2"/><circle cx="429.2" cy="486.7" r="1.8"/><circle cx="425.8" cy="484.4" r="1.3"/><circle cx="428.1" cy="483.3" r="2"/><circle cx="424.4" cy="485.1" r="1.7"/><circle cx="429.8" cy="475.8" r="1.6"/><circle cx="422.3" cy="483.3" r="2"/><circle cx="426.4" cy="480.6" r="1.8"/><circle cx="428.8" cy="488.2" r="2.1"/><circle cx="430.6" cy="479.4" r="1"/><circle cx="430.5" cy="477.6" r="1.9"/><circle cx="430.1" cy="486.5" r="1"/><circle cx="427.7" cy="479.3" r="1.4"/><circle cx="427.6" cy="492.7" r="1.5"/><circle cx="431.7" cy="482.6" r="1.7"/><circle cx="432.9" cy="482.7" r="1.4"/><circle cx="427.7" cy="488.7" r="1"/><circle cx="437.8" cy="486.4" r="2.2"/><circle cx="436.6" cy="487.2" r="1.4"/><circle cx="432.7" cy="485.3" r="1.2"/><circle cx="436.8" cy="490" r="1.6"/><circle cx="430.4" cy="492.1" r="1.9"/><circle cx="427.9" cy="485.4" r="1.5"/><circle cx="424.8" cy="486.9" r="1.1"/><circle cx="433.3" cy="485.7" r="1.4"/><circle cx="427.1" cy="484.5" r="1.2"/><circle cx="436.4" cy="487.4" r="1.7"/><circle cx="428.5" cy="494.3" r="1.7"/><circle cx="426.4" cy="490.5" r="0.9"/><circle cx="431" cy="493" r="2.2"/><circle cx="438.8" cy="498" r="1.7"/><circle cx="430.8" cy="496.1" r="1.7"/><circle cx="435.4" cy="499.8" r="1.4"/><circle cx="436.9" cy="488.5" r="2.1"/><circle cx="440.4" cy="491.2" r="1.9"/><circle cx="438.4" cy="493" r="2.1"/><circle cx="438.3" cy="490.2" r="1.8"/><circle cx="435.2" cy="494.9" r="1.5"/><circle cx="435.9" cy="494.8" r="1.3"/><circle cx="433.1" cy="489.3" r="1.8"/><circle cx="439.5" cy="490.2" r="1.7"/><circle cx="433.5" cy="489.5" r="1"/><circle cx="429.9" cy="490.9" r="1.6"/><circle cx="430.8" cy="495.1" r="1.6"/><circle cx="431.1" cy="496.5" r="1.8"/><circle cx="445.3" cy="497.7" r="2"/><circle cx="440.7" cy="501" r="1"/><circle cx="436.3" cy="499" r="1"/><circle cx="433.6" cy="500.8" r="1.2"/><circle cx="439.4" cy="498.5" r="1.3"/><circle cx="438.4" cy="496.9" r="2.2"/><circle cx="438.4" cy="494.8" r="1.9"/><circle cx="434.3" cy="503.4" r="2"/><circle cx="444.9" cy="500.3" r="1.9"/><circle cx="443.1" cy="504.4" r="1.7"/><circle cx="444.5" cy="503.4" r="1.4"/><circle cx="437.2" cy="504.8" r="2.2"/><circle cx="437.3" cy="505.9" r="2"/><circle cx="441.7" cy="497.7" r="1.3"/><circle cx="436.1" cy="502.6" r="1.5"/><circle cx="435.1" cy="495" r="2"/><circle cx="439.2" cy="500.4" r="1.6"/><circle cx="437.3" cy="503.7" r="1.2"/><circle cx="448.5" cy="505.8" r="1.6"/><circle cx="443.1" cy="498.3" r="2.1"/><circle cx="444.4" cy="509" r="2.1"/><circle cx="445.5" cy="510.3" r="1.3"/><circle cx="442.5" cy="499.5" r="1.6"/><circle cx="442.9" cy="502.4" r="1.2"/><circle cx="442.5" cy="502" r="1.6"/><circle cx="444.5" cy="503.7" r="1.7"/><circle cx="442.3" cy="505" r="1.6"/><circle cx="444.7" cy="508.6" r="1.3"/><circle cx="438.8" cy="502.4" r="1.1"/><circle cx="447.2" cy="510.8" r="1.8"/><circle cx="439.6" cy="499.8" r="2"/><circle cx="444.5" cy="500" r="2.3"/><circle cx="443.2" cy="507.9" r="1.7"/><circle cx="449.9" cy="505.1" r="1.3"/><circle cx="447.7" cy="516.1" r="2.1"/><circle cx="446.4" cy="512.3" r="2"/><circle cx="445.4" cy="503.7" r="1.6"/><circle cx="442.8" cy="512.2" r="1.5"/><circle cx="452.3" cy="507.5" r="2.3"/><circle cx="448" cy="510" r="2.1"/><circle cx="444.4" cy="509.1" r="2"/><circle cx="450.3" cy="506.3" r="1.4"/><circle cx="451.7" cy="510.8" r="1.1"/><circle cx="446" cy="503.3" r="1.5"/><circle cx="444.2" cy="507.2" r="1.4"/><circle cx="447" cy="509.1" r="2.2"/><circle cx="451.2" cy="506.8" r="1.1"/><circle cx="448.7" cy="514.7" r="1.2"/><circle cx="456.7" cy="511.1" r="2.2"/><circle cx="457.3" cy="514.3" r="1.4"/><circle cx="453.3" cy="518.7" r="1.6"/><circle cx="453.9" cy="512.9" r="0.9"/><circle cx="456.6" cy="507.5" r="2.2"/><circle cx="446.1" cy="513.9" r="1.3"/><circle cx="455.6" cy="514.8" r="1.9"/><circle cx="447.6" cy="509.2" r="1.6"/><circle cx="459" cy="511.5" r="1.2"/><circle cx="453.3" cy="510.4" r="1"/><circle cx="457.3" cy="512.4" r="2.1"/><circle cx="447.5" cy="510.7" r="1.1"/><circle cx="457.8" cy="512.3" r="1.7"/><circle cx="446.7" cy="512.2" r="1.4"/><circle cx="455.9" cy="509.3" r="2.3"/><circle cx="450.6" cy="513.2" r="1.6"/><circle cx="455.8" cy="509.8" r="1"/><circle cx="459.6" cy="510.9" r="1.2"/><circle cx="455.5" cy="509.5" r="1.4"/><circle cx="455" cy="513.6" r="2.1"/><circle cx="455.3" cy="510" r="2"/><circle cx="461.2" cy="520.4" r="1.4"/><circle cx="461.1" cy="518.7" r="1.7"/><circle cx="459.6" cy="515.5" r="1.5"/><circle cx="457.7" cy="517.5" r="2.1"/><circle cx="455.7" cy="516.8" r="1.4"/><circle cx="453.4" cy="518.9" r="0.9"/><circle cx="453.4" cy="519.4" r="1.5"/><circle cx="455.2" cy="515.8" r="2.2"/><circle cx="460" cy="514.1" r="2.2"/><circle cx="454.4" cy="510.3" r="1.9"/><circle cx="462.2" cy="520.1" r="1.5"/><circle cx="447.2" cy="461.5" r="1.3"/><circle cx="450.3" cy="465.6" r="1.9"/><circle cx="443.3" cy="463.8" r="2.2"/><circle cx="440.8" cy="464" r="2.2"/><circle cx="449.6" cy="462.2" r="1.9"/><circle cx="440.3" cy="464.5" r="0.9"/><circle cx="444.2" cy="461.3" r="1.5"/><circle cx="447" cy="467.1" r="2.1"/><circle cx="450.2" cy="462.7" r="1.4"/><circle cx="444" cy="462" r="2.1"/><circle cx="448.5" cy="467" r="1.8"/><circle cx="445" cy="468.8" r="2"/><circle cx="443.2" cy="468" r="2"/><circle cx="452.8" cy="471.6" r="1.1"/><circle cx="448.1" cy="468.3" r="1.8"/><circle cx="449" cy="475.5" r="2.2"/><circle cx="451.8" cy="473.6" r="1.9"/><circle cx="451.9" cy="475.5" r="1.6"/><circle cx="443.9" cy="468" r="1.8"/><circle cx="448" cy="470.6" r="1.6"/><circle cx="444" cy="470.5" r="1.7"/><circle cx="450.5" cy="474" r="1"/><circle cx="446.5" cy="477.8" r="2"/><circle cx="447.3" cy="480.9" r="1.2"/><circle cx="447.6" cy="482.2" r="1.2"/><circle cx="454.1" cy="478.6" r="0.9"/><circle cx="449.6" cy="478.5" r="1.1"/><circle cx="448.5" cy="477.8" r="1.6"/><circle cx="455.1" cy="476.6" r="2.2"/><circle cx="447.5" cy="480.9" r="1.1"/><circle cx="451" cy="481" r="2.1"/><circle cx="447.7" cy="482.2" r="1.1"/><circle cx="455.8" cy="478.5" r="1.2"/><circle cx="455.7" cy="483.1" r="1.2"/><circle cx="454.6" cy="488.2" r="1.9"/><circle cx="455.5" cy="478.7" r="1.5"/><circle cx="450.5" cy="484.4" r="1.8"/><circle cx="450.7" cy="481.4" r="1.5"/><circle cx="450.4" cy="480.3" r="1.2"/><circle cx="452.9" cy="488.6" r="1.2"/><circle cx="458.5" cy="486" r="2.2"/><circle cx="457.6" cy="487" r="2.2"/><circle cx="449.3" cy="485.6" r="1.4"/><circle cx="449" cy="481.3" r="1.8"/><circle cx="460.2" cy="493.8" r="0.9"/><circle cx="456.4" cy="495.8" r="1.1"/><circle cx="456.9" cy="489.3" r="1.9"/><circle cx="457.1" cy="492.8" r="1"/><circle cx="459.7" cy="493.3" r="1.4"/><circle cx="461.1" cy="491.6" r="1.6"/><circle cx="450.5" cy="489.8" r="1.4"/><circle cx="455.2" cy="488.1" r="2.1"/><circle cx="454.4" cy="485.2" r="1.3"/><circle cx="460" cy="490.2" r="1.4"/><circle cx="455" cy="485.7" r="1.3"/><circle cx="461.5" cy="493.9" r="1.8"/><circle cx="455.1" cy="495.5" r="1.8"/><circle cx="458.3" cy="496.3" r="1.5"/><circle cx="457.9" cy="496.9" r="1.5"/><circle cx="456.6" cy="495" r="2"/><circle cx="454.9" cy="495.7" r="1.2"/><circle cx="457.2" cy="501.6" r="1.9"/><circle cx="455.8" cy="498.8" r="1.6"/><circle cx="457.9" cy="501.6" r="2.1"/><circle cx="459.6" cy="498" r="1.8"/><circle cx="462.8" cy="494.4" r="1.8"/><circle cx="458.6" cy="498.7" r="1.3"/><circle cx="460.8" cy="499.6" r="1.7"/><circle cx="456.5" cy="499.8" r="1.7"/><circle cx="465.5" cy="505.5" r="1.5"/><circle cx="463.5" cy="496.3" r="2.2"/><circle cx="464" cy="505.5" r="1"/><circle cx="461" cy="499.6" r="2.1"/><circle cx="465.1" cy="497.9" r="2.3"/><circle cx="458.5" cy="497.6" r="1.7"/><circle cx="461.3" cy="507.5" r="1"/><circle cx="466.9" cy="504.6" r="1.3"/><circle cx="460.8" cy="509.5" r="0.9"/><circle cx="462.5" cy="502" r="1.4"/><circle cx="465.6" cy="508.7" r="1.8"/><circle cx="468.4" cy="511" r="2.2"/><circle cx="470.3" cy="505.1" r="2.2"/><circle cx="462" cy="502.4" r="1.8"/><circle cx="462.1" cy="507.3" r="1"/><circle cx="464.4" cy="510.9" r="1.2"/><circle cx="460.9" cy="505.3" r="1.4"/><circle cx="463" cy="504.9" r="1"/><circle cx="466.7" cy="506.9" r="1.8"/><circle cx="465.9" cy="516.8" r="2"/><circle cx="468.7" cy="510.6" r="2.1"/><circle cx="467.2" cy="511" r="1.7"/><circle cx="462.7" cy="512" r="1"/><circle cx="463.5" cy="508.5" r="1.8"/><circle cx="468.5" cy="510.9" r="1.5"/><circle cx="464.7" cy="510.9" r="1"/><circle cx="464.4" cy="510.3" r="1.7"/><circle cx="471.8" cy="512.7" r="2"/><circle cx="466.4" cy="507.6" r="1.9"/><circle cx="466.4" cy="511.2" r="1.1"/><circle cx="468.4" cy="516.7" r="1.3"/><circle cx="468.9" cy="520" r="1.5"/><circle cx="476.9" cy="518.5" r="2"/><circle cx="474.9" cy="519.9" r="1.1"/><circle cx="469.7" cy="513.8" r="2"/><circle cx="473.4" cy="516.5" r="1.7"/><circle cx="472" cy="515.6" r="1.7"/><circle cx="474.7" cy="521.3" r="1.9"/><circle cx="478.1" cy="518.6" r="2"/><circle cx="473.9" cy="523.1" r="1.6"/><circle cx="476.1" cy="524.3" r="1.1"/><circle cx="475.3" cy="518.8" r="1"/><circle cx="478.1" cy="517.3" r="1.1"/><circle cx="471.7" cy="523.1" r="1.9"/><circle cx="476.9" cy="522.6" r="1.4"/><circle cx="478.6" cy="518.1" r="1.3"/><circle cx="483.2" cy="520.9" r="1.9"/><circle cx="479.9" cy="522.3" r="1.8"/><circle cx="480.6" cy="523.4" r="2"/><circle cx="476.7" cy="520" r="1.5"/><circle cx="481.5" cy="522.6" r="0.9"/><circle cx="481.6" cy="528.9" r="1.1"/><circle cx="482.7" cy="522.8" r="1.7"/><circle cx="484.6" cy="523.3" r="1.1"/><circle cx="481.5" cy="529.8" r="0.9"/><circle cx="480" cy="522.2" r="1.6"/><circle cx="484.9" cy="525.6" r="1.7"/><circle cx="479.2" cy="525.3" r="1.9"/><circle cx="491.7" cy="527.6" r="2.3"/><circle cx="488.1" cy="525.9" r="1.1"/><circle cx="487.8" cy="522.7" r="1.3"/><circle cx="486.2" cy="523.4" r="1.6"/><circle cx="486.7" cy="524.5" r="1.6"/><circle cx="490.2" cy="525.5" r="1.2"/><circle cx="486.8" cy="531.8" r="1.2"/><circle cx="487.1" cy="530.1" r="2.3"/><circle cx="492.7" cy="525.1" r="1.3"/><circle cx="494.5" cy="531.8" r="1"/><circle cx="491.6" cy="529.8" r="1.1"/><circle cx="488.3" cy="528.1" r="1.5"/><circle cx="496.5" cy="528.3" r="2.1"/><circle cx="487.2" cy="529.7" r="1.1"/><circle cx="632.9" cy="288.5" r="1.9"/><circle cx="636.7" cy="288.5" r="1.9"/><circle cx="637.4" cy="292.6" r="1.9"/><circle cx="632.7" cy="295" r="2.2"/><circle cx="638.2" cy="294.1" r="1.1"/><circle cx="638.2" cy="293" r="1.9"/><circle cx="634.9" cy="298.5" r="1.8"/><circle cx="635.4" cy="299.5" r="0.9"/><circle cx="634.3" cy="293.6" r="2.2"/><circle cx="635.4" cy="297.3" r="2.1"/><circle cx="637.7" cy="298.9" r="2.2"/><circle cx="632.8" cy="300.3" r="2.3"/><circle cx="632.5" cy="303.4" r="2.1"/><circle cx="637" cy="300.4" r="1.4"/><circle cx="631.7" cy="302" r="2.1"/><circle cx="632.6" cy="307.7" r="1.3"/><circle cx="633.8" cy="306.1" r="2"/><circle cx="637.1" cy="304" r="1.4"/><circle cx="635.2" cy="310.1" r="2"/><circle cx="631.8" cy="310.5" r="2"/><circle cx="634" cy="306.8" r="1.9"/><circle cx="629.8" cy="312.7" r="1.5"/><circle cx="634.6" cy="311.6" r="1.4"/><circle cx="631.5" cy="311" r="1.1"/><circle cx="630.5" cy="315" r="1.2"/><circle cx="635.1" cy="314.2" r="1.3"/><circle cx="629.9" cy="312.4" r="1.5"/><circle cx="629.1" cy="315.7" r="2.2"/><circle cx="634.7" cy="318.4" r="2.3"/><circle cx="632.6" cy="316.4" r="1.1"/><circle cx="632.1" cy="323.3" r="2.2"/><circle cx="634.3" cy="319.6" r="1.9"/><circle cx="631.4" cy="322.6" r="1.4"/><circle cx="632.7" cy="322.5" r="1.2"/><circle cx="632.7" cy="325.1" r="1.8"/><circle cx="630.2" cy="321.3" r="2.1"/><circle cx="631" cy="327.2" r="2"/><circle cx="628.1" cy="326.2" r="2.2"/><circle cx="627.7" cy="326" r="1"/><circle cx="628.8" cy="331.1" r="1.1"/><circle cx="631.3" cy="331.2" r="1.9"/><circle cx="630.3" cy="331.3" r="1.6"/><circle cx="629.9" cy="331.7" r="1.7"/><circle cx="627.1" cy="329.9" r="2.1"/><circle cx="629" cy="330.7" r="1.3"/><circle cx="626.9" cy="335.1" r="1.1"/><circle cx="627.7" cy="334" r="1.4"/><circle cx="627.1" cy="331.8" r="2.1"/><circle cx="626" cy="340.1" r="2.2"/><circle cx="626.5" cy="337.3" r="1.8"/><circle cx="630.4" cy="338.6" r="1.8"/><circle cx="623.9" cy="340.4" r="1.5"/><circle cx="627.7" cy="340.8" r="1.9"/><circle cx="629" cy="339.9" r="1.6"/><circle cx="623.2" cy="343.7" r="1.7"/><circle cx="628.3" cy="342.8" r="2"/><circle cx="627.1" cy="347.3" r="1"/><circle cx="640.1" cy="347.2" r="2"/><circle cx="641.4" cy="347.8" r="2.3"/><circle cx="643.2" cy="349.1" r="1.2"/><circle cx="642.2" cy="348.7" r="2.1"/><circle cx="641.2" cy="351.2" r="1.4"/><circle cx="643.7" cy="346.9" r="1.8"/><circle cx="639.5" cy="347.3" r="1.4"/><circle cx="643.7" cy="350.8" r="1.6"/><circle cx="647.9" cy="346" r="1.2"/><circle cx="644.7" cy="345.8" r="1.6"/><circle cx="645.9" cy="349.1" r="2"/><circle cx="645.2" cy="349" r="1.7"/><circle cx="652.1" cy="346.3" r="1.6"/><circle cx="649.7" cy="341.6" r="1.6"/><circle cx="646.6" cy="344.9" r="1.7"/><circle cx="649" cy="346.6" r="1.6"/><circle cx="651.6" cy="344.2" r="1.2"/><circle cx="655.7" cy="342.7" r="1.6"/><circle cx="652.2" cy="340.4" r="1.3"/><circle cx="653.3" cy="347" r="1"/><circle cx="653.7" cy="342.1" r="1.5"/><circle cx="653.1" cy="339.4" r="1.3"/><circle cx="651.5" cy="340.3" r="1"/><circle cx="658" cy="343.2" r="1.6"/><circle cx="657.3" cy="342.4" r="1.4"/><circle cx="661.5" cy="343.8" r="1.2"/><circle cx="658.9" cy="339.9" r="2.3"/><circle cx="659.7" cy="342.9" r="1.6"/><circle cx="664.1" cy="339.4" r="1.6"/><circle cx="663.7" cy="342.4" r="2.2"/><circle cx="663.6" cy="342.6" r="1.1"/><circle cx="659" cy="339.7" r="1.2"/><circle cx="666.6" cy="337.4" r="2.2"/><circle cx="669.9" cy="338.2" r="2"/><circle cx="667.2" cy="336.8" r="1.6"/><circle cx="663.3" cy="337.5" r="1"/><circle cx="670.1" cy="340.9" r="1.5"/><circle cx="668.5" cy="337.9" r="1.4"/><circle cx="676.8" cy="338.9" r="1.4"/><circle cx="673.7" cy="336.5" r="1"/><circle cx="672.2" cy="337.6" r="2"/><circle cx="673" cy="341.5" r="1.1"/><circle cx="676" cy="336.4" r="2"/><circle cx="674.8" cy="339.5" r="1.6"/><circle cx="679.4" cy="339.2" r="1.3"/><circle cx="681.1" cy="338.9" r="1.1"/><circle cx="681.6" cy="339.6" r="1"/><circle cx="677.6" cy="339.5" r="1.9"/><circle cx="680.1" cy="340.6" r="1.3"/><circle cx="683.1" cy="341.9" r="1.6"/><circle cx="688.4" cy="339.3" r="1.4"/><circle cx="684.6" cy="340.9" r="1"/><circle cx="685.2" cy="342.8" r="1.1"/><circle cx="646.6" cy="350" r="1.8"/><circle cx="649" cy="349.3" r="2.2"/><circle cx="647.4" cy="348.6" r="1.3"/><circle cx="653.3" cy="350.9" r="1.7"/><circle cx="654" cy="351.6" r="1.1"/><circle cx="654.2" cy="355.1" r="1.5"/><circle cx="650" cy="355.7" r="1.8"/><circle cx="650.4" cy="357.5" r="1.5"/><circle cx="650.6" cy="355.3" r="0.9"/><circle cx="652.1" cy="360.9" r="1.9"/><circle cx="651.3" cy="355.9" r="2"/><circle cx="655.1" cy="356" r="1.3"/><circle cx="651.9" cy="363.7" r="1.6"/><circle cx="655.1" cy="362.7" r="2"/><circle cx="654.1" cy="357.4" r="1.8"/><circle cx="651.7" cy="364.1" r="1.7"/><circle cx="656.5" cy="366.5" r="2.1"/><circle cx="657.6" cy="363" r="1.9"/><circle cx="653.8" cy="367" r="1.7"/><circle cx="655.6" cy="361.7" r="1.2"/><circle cx="654" cy="367.9" r="1.7"/><circle cx="656.8" cy="364.9" r="2.3"/><circle cx="657" cy="366.9" r="1.8"/><circle cx="655.7" cy="368.1" r="1.6"/><circle cx="658" cy="370.7" r="2"/><circle cx="656.2" cy="374.6" r="1"/><circle cx="651.7" cy="371.8" r="1.5"/><circle cx="653" cy="368.7" r="1.2"/><circle cx="658.9" cy="375.2" r="1.5"/><circle cx="656.3" cy="374.2" r="1.6"/><circle cx="656.4" cy="376.5" r="2.2"/><circle cx="653.5" cy="372.1" r="1.2"/><circle cx="655.1" cy="380.6" r="1.7"/><circle cx="657.8" cy="378" r="2.2"/><circle cx="657.4" cy="381.6" r="2"/><circle cx="656.4" cy="377.2" r="1"/><circle cx="652.8" cy="378.7" r="1"/><circle cx="656.9" cy="382" r="1.4"/><circle cx="656.4" cy="380.5" r="2.2"/><circle cx="652.5" cy="379.6" r="1.2"/><circle cx="653" cy="383.8" r="1.7"/><circle cx="651.1" cy="386.2" r="1.9"/><circle cx="652.7" cy="389.2" r="2.2"/><circle cx="650.8" cy="383.7" r="0.9"/><circle cx="650.8" cy="386.6" r="1.3"/><circle cx="649" cy="389.8" r="1.3"/><circle cx="650.8" cy="390.3" r="1"/><circle cx="648.7" cy="388.9" r="1.2"/><circle cx="647.2" cy="391.7" r="1.2"/><circle cx="650.7" cy="391.9" r="2.2"/><circle cx="652.7" cy="394.1" r="2.2"/><circle cx="651.3" cy="397.2" r="1.6"/><circle cx="646.3" cy="401.1" r="2.2"/><circle cx="645.5" cy="400.1" r="2"/><circle cx="648.3" cy="395.9" r="1"/><circle cx="645.7" cy="396.1" r="1.6"/><circle cx="612.9" cy="510.6" r="1.3"/><circle cx="609.9" cy="508.9" r="1.8"/><circle cx="611.9" cy="517.5" r="2.1"/><circle cx="614.4" cy="509.1" r="1.8"/><circle cx="611" cy="508" r="1"/><circle cx="621.2" cy="508.9" r="1.5"/><circle cx="618.7" cy="509.1" r="1.9"/><circle cx="608.2" cy="510.7" r="0.9"/><circle cx="619.5" cy="509" r="2"/><circle cx="618.6" cy="506.6" r="1.3"/><circle cx="619.1" cy="514.6" r="1.5"/><circle cx="609.9" cy="507.4" r="1.4"/><circle cx="614.9" cy="514.1" r="2.1"/><circle cx="617.7" cy="512.8" r="1.6"/><circle cx="616.6" cy="505.7" r="1"/><circle cx="615.6" cy="511" r="2.1"/><circle cx="611.3" cy="509.9" r="1.3"/><circle cx="619.7" cy="523.2" r="1"/><circle cx="615.9" cy="521.5" r="1.9"/><circle cx="621.3" cy="514.3" r="1.9"/><circle cx="616.8" cy="524.4" r="1.2"/><circle cx="619" cy="514.4" r="1.4"/><circle cx="615.7" cy="524.3" r="1.1"/><circle cx="616.3" cy="517.2" r="1.6"/><circle cx="613.8" cy="513.1" r="1.6"/><circle cx="619.6" cy="523" r="1.9"/><circle cx="619.3" cy="521" r="1.4"/><circle cx="620" cy="518.3" r="1.3"/><circle cx="614.9" cy="518" r="1.1"/><circle cx="620.5" cy="514.4" r="1.7"/><circle cx="621.9" cy="514.6" r="2"/><circle cx="614.4" cy="521.5" r="2.3"/><circle cx="613.5" cy="519" r="1.3"/><circle cx="623.2" cy="516.2" r="1.1"/><circle cx="624.6" cy="529.2" r="2"/><circle cx="625.3" cy="525.4" r="1.5"/><circle cx="624.1" cy="525.9" r="1.2"/><circle cx="621.6" cy="525.1" r="2"/><circle cx="625.2" cy="530.1" r="1"/><circle cx="620.7" cy="525.3" r="1"/><circle cx="622.9" cy="522" r="1.1"/><circle cx="625.1" cy="522.8" r="1.9"/><circle cx="622.3" cy="527.9" r="1"/><circle cx="616" cy="530.5" r="1.4"/><circle cx="617.2" cy="525.9" r="0.9"/><circle cx="623" cy="529.8" r="2.3"/><circle cx="617.4" cy="528.7" r="2.2"/><circle cx="625" cy="525.5" r="2.2"/><circle cx="620.6" cy="526.9" r="1.7"/><circle cx="615.6" cy="524.5" r="1.6"/><circle cx="624" cy="526.9" r="1.4"/><circle cx="618" cy="530.9" r="2.3"/><circle cx="622" cy="531.6" r="2.1"/><circle cx="618.7" cy="537.2" r="1"/><circle cx="623.8" cy="539.2" r="1.7"/><circle cx="618.9" cy="529" r="2"/><circle cx="619.2" cy="539" r="1.5"/><circle cx="616.9" cy="536.2" r="1.9"/><circle cx="620.7" cy="532.9" r="2.2"/><circle cx="616.8" cy="532" r="1.4"/><circle cx="624.3" cy="532.3" r="1.3"/><circle cx="622.3" cy="533.6" r="1"/><circle cx="620" cy="529.5" r="1.3"/><circle cx="620.5" cy="529.9" r="1.4"/><circle cx="625.1" cy="529.3" r="2.2"/><circle cx="616.6" cy="530.1" r="1.9"/><circle cx="624.7" cy="530.3" r="1.3"/><circle cx="625.5" cy="531.3" r="2"/><circle cx="627.4" cy="536.3" r="1.7"/><circle cx="630.5" cy="541.9" r="2.1"/><circle cx="622.8" cy="537" r="1.7"/><circle cx="623" cy="540.3" r="1.3"/><circle cx="620.9" cy="541.5" r="1.1"/><circle cx="621.2" cy="534.3" r="1.9"/><circle cx="620.2" cy="536.8" r="2.1"/><circle cx="625.3" cy="539.5" r="1.4"/><circle cx="625.2" cy="543.9" r="1.4"/><circle cx="619.9" cy="535.6" r="1.9"/><circle cx="624.7" cy="546" r="1.2"/><circle cx="628" cy="538.5" r="1.3"/><circle cx="628" cy="537.5" r="1.2"/><circle cx="624.3" cy="539" r="1"/><circle cx="631.8" cy="538.6" r="1.4"/><circle cx="625.7" cy="542" r="2.1"/><circle cx="621.7" cy="544.3" r="1.9"/><circle cx="634.5" cy="191.9" r="1.9"/><circle cx="635.1" cy="192.6" r="1.5"/><circle cx="636.6" cy="192.9" r="1.6"/><circle cx="638" cy="197.5" r="1.2"/><circle cx="641.2" cy="198.4" r="1.5"/><circle cx="642.5" cy="199.2" r="2"/><circle cx="643.4" cy="201.7" r="2"/><circle cx="643.5" cy="203" r="1.5"/><circle cx="641.6" cy="207.4" r="1.1"/><circle cx="642.9" cy="208.4" r="1.3"/><circle cx="641.8" cy="210.4" r="1.8"/><circle cx="645.8" cy="210.3" r="1"/><circle cx="642.3" cy="214.2" r="1"/><circle cx="642.7" cy="216" r="1.4"/><circle cx="644.7" cy="216.2" r="1.6"/><circle cx="643" cy="218.5" r="2.2"/><circle cx="644" cy="224" r="1.4"/><circle cx="483.1" cy="439" r="1.1"/><circle cx="481.5" cy="443.1" r="1"/><circle cx="471.8" cy="467.9" r="1.1"/><circle cx="461.7" cy="423.1" r="1.6"/><circle cx="472.6" cy="374.8" r="1.2"/><circle cx="484.9" cy="431.9" r="1.4"/><circle cx="466.1" cy="484.1" r="1"/><circle cx="446.1" cy="462.8" r="1.8"/><circle cx="446" cy="450.9" r="1.5"/><circle cx="491.6" cy="408.9" r="1.7"/><circle cx="440.5" cy="482.2" r="2"/><circle cx="481.8" cy="342.3" r="1"/><circle cx="474.9" cy="383.7" r="1"/><circle cx="453.8" cy="460.7" r="1.8"/><circle cx="490.3" cy="426.5" r="1.7"/><circle cx="440.5" cy="454.7" r="1.9"/><circle cx="444.4" cy="437.5" r="0.9"/><circle cx="471.5" cy="400.9" r="1.3"/><circle cx="454.1" cy="425.7" r="1.6"/><circle cx="441.5" cy="438.5" r="0.9"/><circle cx="484.4" cy="372.1" r="1.9"/><circle cx="490.4" cy="466" r="2"/><circle cx="476.7" cy="485.5" r="1.9"/><circle cx="491.9" cy="460.7" r="1.7"/><circle cx="441.3" cy="433" r="1.1"/><circle cx="459.7" cy="455" r="0.9"/><circle cx="492.2" cy="403.5" r="1.8"/><circle cx="467.3" cy="362.7" r="0.9"/><circle cx="470.5" cy="397.3" r="1.7"/><circle cx="475.5" cy="467" r="0.9"/><circle cx="471.7" cy="380.9" r="1.5"/><circle cx="481.2" cy="375.3" r="1.3"/><circle cx="441.6" cy="424.3" r="1.1"/><circle cx="446.8" cy="441.3" r="1.9"/><circle cx="461.6" cy="449.1" r="1.5"/><circle cx="469.3" cy="460" r="1.4"/><circle cx="477.2" cy="454.2" r="2"/><circle cx="443" cy="471.1" r="1.3"/><circle cx="451.6" cy="479" r="0.9"/><circle cx="480.9" cy="472.9" r="1.9"/><circle cx="611.5" cy="253" r="1.5"/><circle cx="649.4" cy="217.7" r="1.4"/><circle cx="621.3" cy="254" r="1"/><circle cx="603.6" cy="269.2" r="1.9"/><circle cx="589.3" cy="317.4" r="1.8"/><circle cx="594" cy="271.5" r="1.7"/><circle cx="623.9" cy="168.3" r="1.9"/><circle cx="662" cy="223.1" r="1.8"/><circle cx="649.5" cy="206.4" r="1.6"/><circle cx="673.9" cy="237.3" r="1.6"/><circle cx="590.3" cy="288.3" r="1.9"/><circle cx="670.7" cy="183.6" r="1.3"/><circle cx="608.6" cy="323.4" r="2"/><circle cx="634.2" cy="261.9" r="1.5"/><circle cx="578.9" cy="260" r="1.7"/><circle cx="653.1" cy="184.1" r="1"/><circle cx="621.3" cy="247" r="1.5"/><circle cx="663.5" cy="161.4" r="1.3"/><circle cx="625.3" cy="190.9" r="1.9"/><circle cx="622.3" cy="257.9" r="2"/><circle cx="654.7" cy="177" r="1.2"/><circle cx="676.8" cy="236.2" r="1.1"/><circle cx="651.3" cy="268.6" r="1.1"/><circle cx="638.1" cy="150.5" r="1.2"/><circle cx="579" cy="295.2" r="1.2"/><circle cx="608.2" cy="257.7" r="1.8"/><circle cx="626.5" cy="221.2" r="1.9"/><circle cx="636.3" cy="334.7" r="1.6"/><circle cx="660.1" cy="259" r="1.2"/><circle cx="639.5" cy="243.4" r="1.4"/><circle cx="624.4" cy="167" r="1.1"/><circle cx="633.4" cy="320.6" r="1.6"/><circle cx="625" cy="202.6" r="1.9"/><circle cx="647" cy="177.4" r="1.2"/><circle cx="641.5" cy="224" r="1.4"/><circle cx="641.3" cy="460.2" r="1.3"/><circle cx="662.6" cy="365.8" r="1.6"/><circle cx="654.1" cy="378.1" r="1.5"/><circle cx="630.5" cy="509" r="1.8"/><circle cx="638.3" cy="348.9" r="1.1"/><circle cx="606.8" cy="408.1" r="1.9"/><circle cx="639.5" cy="420.2" r="1"/><circle cx="663.2" cy="351.8" r="1.5"/><circle cx="632.1" cy="347.9" r="1.7"/><circle cx="619.1" cy="498.3" r="1.7"/><circle cx="616.9" cy="350.4" r="1.9"/><circle cx="668.7" cy="391" r="1.9"/><circle cx="595" cy="372.7" r="1.6"/><circle cx="631.5" cy="493" r="1.8"/><circle cx="629" cy="476.2" r="1.6"/><circle cx="633.8" cy="469.1" r="0.9"/><circle cx="633.1" cy="515.4" r="1.4"/><circle cx="617.7" cy="441" r="1.4"/><circle cx="649.1" cy="400.9" r="1.2"/><circle cx="618.8" cy="501.5" r="1.1"/><circle cx="616.2" cy="436.3" r="0.9"/><circle cx="627.7" cy="422.9" r="1.3"/><circle cx="668.7" cy="386.3" r="1.1"/><circle cx="627.6" cy="449.8" r="1.3"/><circle cx="652.5" cy="511.7" r="1.3"/><circle cx="628.9" cy="465.7" r="1.2"/><circle cx="634.4" cy="484.7" r="0.9"/><circle cx="660.6" cy="426.8" r="1.9"/><circle cx="597.7" cy="353" r="1.3"/><circle cx="663.7" cy="350.4" r="1.9"/><circle cx="633.2" cy="344.7" r="1.3"/><circle cx="641.7" cy="436.8" r="1.9"/><circle cx="596.1" cy="430.5" r="1.3"/><circle cx="652.4" cy="502" r="1"/><circle cx="663.3" cy="466.8" r="1.6"/><circle cx="614.8" cy="355.7" r="1"/><circle cx="666.6" cy="503.7" r="1"/><circle cx="625.6" cy="373" r="2"/><circle cx="597.1" cy="375.7" r="1.4"/><circle cx="587" cy="406.3" r="0.9"/><circle cx="664.7" cy="458" r="1.2"/><circle cx="657.9" cy="368.6" r="1.1"/><circle cx="636.2" cy="401.2" r="1.4"/><circle cx="608.9" cy="372.8" r="0.9"/><circle cx="635.9" cy="401.3" r="1"/><circle cx="600.8" cy="515.1" r="2"/><circle cx="639.4" cy="507" r="1.7"/><circle cx="595.5" cy="469.7" r="1.9"/><circle cx="588" cy="367" r="1"/><circle cx="588.4" cy="466.1" r="1.5"/><circle cx="611.7" cy="387.3" r="0.9"/><circle cx="629" cy="498.5" r="1.3"/><circle cx="644.6" cy="430.5" r="1.3"/><circle cx="643.4" cy="371.9" r="0.9"/><circle cx="596.2" cy="381" r="1.5"/><circle cx="650.4" cy="473.7" r="1.1"/><circle cx="653.8" cy="347.5" r="1"/><circle cx="605.9" cy="485" r="1.8"/><circle cx="601.1" cy="387.5" r="1.6"/><circle cx="608.7" cy="353" r="1.2"/><circle cx="625.7" cy="389.2" r="1.8"/><circle cx="615.1" cy="508.7" r="2"/><circle cx="605.6" cy="468.6" r="1.1"/><circle cx="604.2" cy="368" r="1.9"/><circle cx="645.4" cy="348.5" r="1.7"/><circle cx="598" cy="387.5" r="1.5"/><circle cx="630.5" cy="421.2" r="1.1"/><circle cx="606.9" cy="378.9" r="1"/><circle cx="669.6" cy="342.1" r="1.7"/><circle cx="622.6" cy="391.6" r="1.4"/><circle cx="660" cy="455.9" r="1.4"/><circle cx="619.6" cy="445.4" r="1.7"/><circle cx="589.9" cy="405.5" r="1.4"/><circle cx="654.6" cy="502.5" r="1.3"/><circle cx="608.4" cy="447.1" r="1.5"/><circle cx="630.4" cy="517.1" r="1.1"/><circle cx="635.9" cy="486.9" r="1.5"/><circle cx="607.7" cy="349.6" r="1.9"/><circle cx="634.1" cy="351.5" r="1"/><circle cx="654.8" cy="424.6" r="1.2"/><circle cx="609.8" cy="517.5" r="1.4"/><circle cx="663" cy="457.6" r="1.9"/><circle cx="658.6" cy="506.1" r="1"/><circle cx="644.9" cy="453" r="1.6"/><circle cx="611" cy="509.2" r="1.5"/><circle cx="619.1" cy="481.2" r="1"/><circle cx="631.5" cy="335.4" r="1.2"/><circle cx="595.5" cy="358.1" r="1.1"/><circle cx="659.5" cy="497.1" r="1.1"/><circle cx="626.6" cy="338.5" r="1.9"/><circle cx="680.8" cy="428.5" r="1.5"/><circle cx="698" cy="399" r="1"/><circle cx="708.7" cy="502" r="1"/><circle cx="694.6" cy="431.1" r="1.2"/><circle cx="700.7" cy="410.5" r="1.9"/><circle cx="700" cy="403.9" r="1.3"/><circle cx="721.3" cy="389.3" r="1"/><circle cx="685.5" cy="475.3" r="1.1"/><circle cx="739.8" cy="451.2" r="1.8"/><circle cx="707.2" cy="431.4" r="1"/><circle cx="786.2" cy="450.2" r="1.7"/><circle cx="678" cy="481.1" r="1.3"/><circle cx="514.5" cy="561" r="1.1"/><circle cx="497.8" cy="536" r="1.4"/><circle cx="480.8" cy="490.3" r="1.6"/><circle cx="459.5" cy="489.3" r="1"/><circle cx="520.1" cy="616.6" r="1.4"/><circle cx="470.9" cy="494.2" r="1.7"/><circle cx="519.6" cy="597.2" r="1.1"/><circle cx="487.9" cy="533" r="1"/><circle cx="466.6" cy="508.7" r="1.6"/><circle cx="515" cy="575.2" r="1.5"/><circle cx="494.1" cy="523.5" r="0.9"/><circle cx="521.9" cy="603.9" r="1.2"/><circle cx="438.8" cy="495.9" r="1.7"/><circle cx="520.1" cy="629.6" r="1.1"/><circle cx="516.1" cy="615.1" r="1.3"/><circle cx="481.2" cy="527.9" r="1.1"/><circle cx="519.8" cy="563.2" r="1.6"/><circle cx="485.8" cy="511.4" r="1.3"/><circle cx="467.5" cy="487.7" r="1.4"/><circle cx="523.6" cy="586.9" r="1.8"/><circle cx="512.4" cy="562.2" r="1.8"/><circle cx="500.6" cy="564.7" r="1.3"/><circle cx="471.9" cy="506.7" r="2"/><circle cx="441.7" cy="488.1" r="1.6"/><circle cx="493.9" cy="523.9" r="1.7"/><circle cx="487.4" cy="521.6" r="1.6"/><circle cx="494.8" cy="543" r="1.6"/><circle cx="445.1" cy="494.7" r="1.8"/><circle cx="521.6" cy="583.7" r="1.9"/><circle cx="511" cy="573.3" r="1.2"/><circle cx="473.3" cy="512" r="2"/><circle cx="518.3" cy="630.5" r="0.9"/><circle cx="469.2" cy="503.8" r="2"/><circle cx="526.3" cy="612" r="1.3"/><circle cx="470.6" cy="490.7" r="2"/><circle cx="499.5" cy="539.1" r="1.4"/><circle cx="430.6" cy="497.5" r="1.5"/><circle cx="514.7" cy="613.8" r="1.3"/><circle cx="525.2" cy="594.3" r="1.2"/><circle cx="510.4" cy="607.4" r="1"/><circle cx="650" cy="522.9" r="1.3"/><circle cx="682.7" cy="943.1" r="1.1"/><circle cx="698.7" cy="836.8" r="1.2"/><circle cx="605.3" cy="531.6" r="1.6"/><circle cx="643.1" cy="553.3" r="1.5"/><circle cx="669" cy="529.9" r="1.4"/><circle cx="655" cy="694.1" r="1"/><circle cx="693" cy="882.9" r="1.2"/><circle cx="661.8" cy="638.1" r="1.1"/><circle cx="643.9" cy="572.6" r="1.5"/><circle cx="686" cy="766.9" r="1.7"/><circle cx="678.2" cy="770.9" r="1.9"/><circle cx="669.6" cy="756.5" r="1.6"/><circle cx="658.9" cy="714.5" r="1.7"/><circle cx="688.7" cy="841.9" r="1.7"/><circle cx="705.1" cy="799.6" r="1.5"/><circle cx="670.1" cy="761.3" r="1.7"/><circle cx="629.1" cy="537.9" r="1.4"/><circle cx="709.8" cy="850.9" r="1.5"/><circle cx="641.4" cy="645" r="1.2"/><circle cx="626.5" cy="578.6" r="1.6"/><circle cx="681.6" cy="824.6" r="1.5"/><circle cx="613.2" cy="625.4" r="1.1"/><circle cx="668.7" cy="760.3" r="1.4"/><circle cx="686.4" cy="891.7" r="1.1"/><circle cx="611.5" cy="571.9" r="1.9"/><circle cx="688.6" cy="918.9" r="2"/><circle cx="621.2" cy="581.3" r="1.7"/><circle cx="644.4" cy="610.3" r="1"/><circle cx="648.6" cy="546" r="1.5"/><circle cx="670.1" cy="802.5" r="0.9"/><circle cx="648.4" cy="543.6" r="1"/><circle cx="639.7" cy="549.7" r="1.6"/><circle cx="704.2" cy="838.7" r="1.3"/><circle cx="609.4" cy="577.4" r="1.7"/><circle cx="685.7" cy="810.2" r="1"/><circle cx="639.3" cy="645.1" r="1.9"/><circle cx="610" cy="562.2" r="1.5"/><circle cx="644.1" cy="682.9" r="1.7"/><circle cx="643.2" cy="667.4" r="1.6"/><circle cx="688.7" cy="893.5" r="1.2"/><circle cx="658.4" cy="633.1" r="1.3"/><circle cx="685.9" cy="780.6" r="1.2"/><circle cx="681.8" cy="914.1" r="0.9"/><circle cx="652.8" cy="724.2" r="1"/><circle cx="625.8" cy="610.6" r="1.7"/><circle cx="672" cy="797.1" r="1"/><circle cx="651.3" cy="626.4" r="1.4"/><circle cx="693.1" cy="866.1" r="1.9"/><circle cx="640.5" cy="668.8" r="2"/><circle cx="515.2" cy="437" r="0.9"/><circle cx="510.1" cy="320.7" r="1.7"/><circle cx="541.9" cy="393.8" r="1.1"/><circle cx="547.4" cy="413.4" r="1.5"/><circle cx="584.1" cy="419.4" r="2"/><circle cx="550.1" cy="429" r="1.9"/><circle cx="581.6" cy="337.7" r="1.5"/><circle cx="528.8" cy="320.8" r="1.9"/><circle cx="552.1" cy="318.7" r="0.9"/><circle cx="528.5" cy="414.3" r="1.9"/><circle cx="593" cy="438.7" r="0.9"/><circle cx="579.3" cy="387" r="1.3"/><circle cx="561.6" cy="390.2" r="1.5"/><circle cx="516.6" cy="374" r="1.7"/><circle cx="572.5" cy="360.4" r="1.5"/><circle cx="552.4" cy="406.2" r="1.6"/><circle cx="555.3" cy="390.5" r="1.8"/><circle cx="543.1" cy="432.8" r="1.2"/><circle cx="548.1" cy="325.3" r="1.1"/><circle cx="552.1" cy="331.1" r="1.6"/><circle cx="538.4" cy="387.9" r="1.4"/><circle cx="550.4" cy="335.7" r="1.1"/><circle cx="538.6" cy="386.3" r="1.4"/><circle cx="563" cy="359.3" r="1.4"/><circle cx="511.7" cy="425.2" r="1.8"/><circle cx="583.7" cy="327.6" r="1.3"/><circle cx="555.8" cy="379.1" r="0.9"/><circle cx="505.2" cy="372.2" r="1.6"/><circle cx="497.1" cy="370.9" r="1.7"/><circle cx="580.2" cy="395.7" r="1"/><circle cx="530.6" cy="355.2" r="1.1"/><circle cx="538.6" cy="353.5" r="1.7"/><circle cx="517.3" cy="410.9" r="1.1"/><circle cx="570.2" cy="383.8" r="2"/><circle cx="586.6" cy="421.9" r="1.6"/><circle cx="564.5" cy="420.4" r="1.7"/><circle cx="571.4" cy="389" r="1"/><circle cx="507.9" cy="337.1" r="1.6"/><circle cx="509.3" cy="389.4" r="1.9"/><circle cx="510.4" cy="330.1" r="2"/><circle cx="577.4" cy="323.2" r="1.4"/><circle cx="581.9" cy="319.3" r="1.3"/><circle cx="513.2" cy="359.3" r="1.9"/><circle cx="504.3" cy="407" r="1.8"/><circle cx="515.3" cy="378.6" r="1.9"/><circle cx="582" cy="194.6" r="1.5"/><circle cx="600.1" cy="194.7" r="1.5"/><circle cx="562.8" cy="262.2" r="2"/><circle cx="578.3" cy="236.1" r="1.2"/><circle cx="539.3" cy="245.7" r="1"/><circle cx="553.8" cy="232.9" r="1"/><circle cx="545.8" cy="235.8" r="2"/><circle cx="583.2" cy="197.2" r="1.3"/><circle cx="563.2" cy="495.2" r="0.9"/><circle cx="503.9" cy="447" r="1"/><circle cx="506" cy="672.2" r="1.2"/><circle cx="566.8" cy="639.3" r="1.4"/><circle cx="587.5" cy="654.4" r="1.4"/><circle cx="549.3" cy="578.4" r="1.6"/><circle cx="510.1" cy="654" r="1.6"/><circle cx="532.6" cy="571" r="1.9"/><circle cx="565.9" cy="497" r="1.2"/><circle cx="544.2" cy="634.5" r="1.6"/><circle cx="526" cy="500.9" r="1.6"/><circle cx="570.8" cy="678.4" r="0.9"/><circle cx="572.4" cy="632.1" r="1.6"/><circle cx="545.4" cy="686.4" r="1.2"/><circle cx="515.6" cy="488.1" r="1.7"/><circle cx="539.4" cy="479" r="0.9"/><circle cx="536" cy="487.1" r="1.9"/><circle cx="564.8" cy="471.6" r="1.2"/><circle cx="573" cy="593.8" r="1.7"/><circle cx="548.1" cy="650.1" r="1.6"/><circle cx="573.4" cy="604.8" r="1"/><circle cx="516.4" cy="652.8" r="1.2"/><circle cx="564.1" cy="533.7" r="1.3"/><circle cx="508.5" cy="524.9" r="1.1"/><circle cx="499.6" cy="480.5" r="1.6"/><circle cx="531.6" cy="564.2" r="1.4"/><circle cx="567.4" cy="529.5" r="1.3"/><circle cx="540.3" cy="516.3" r="1"/><circle cx="542.2" cy="447.6" r="1.5"/><circle cx="503.7" cy="686.6" r="1.4"/><circle cx="558.6" cy="635.3" r="1.1"/><circle cx="528.6" cy="520.5" r="1.3"/><circle cx="568.1" cy="523.7" r="1.1"/><circle cx="578.5" cy="539.8" r="1.3"/><circle cx="597.3" cy="624.5" r="1.2"/><circle cx="577.2" cy="646.4" r="1.6"/><circle cx="594.2" cy="561.1" r="1.5"/><circle cx="537.8" cy="637.2" r="1.8"/><circle cx="547.3" cy="467.3" r="1.5"/><circle cx="570" cy="518.7" r="1.1"/><circle cx="606.5" cy="629.9" r="1.6"/><circle cx="536.5" cy="511.4" r="1.7"/><circle cx="555.3" cy="536.8" r="1.2"/><circle cx="558.8" cy="512.5" r="1"/><circle cx="580.7" cy="629.4" r="1.3"/><circle cx="547" cy="505.4" r="1.4"/><circle cx="600.9" cy="621.6" r="1.6"/><circle cx="570.2" cy="678.8" r="0.9"/><circle cx="568.4" cy="460.5" r="1.6"/><circle cx="528.7" cy="502.8" r="1.9"/><circle cx="590.2" cy="517.8" r="1.2"/><circle cx="525.7" cy="560.6" r="1.1"/><circle cx="528" cy="503.7" r="1.9"/><circle cx="507" cy="518.6" r="1.1"/><circle cx="538.5" cy="678.7" r="1.7"/><circle cx="579.5" cy="453.3" r="1.3"/><circle cx="530.5" cy="562" r="1.3"/><circle cx="571.6" cy="656.4" r="1.9"/><circle cx="536.1" cy="520.6" r="1.7"/><circle cx="500.6" cy="449.8" r="1.5"/><circle cx="519.1" cy="522.3" r="2"/><circle cx="514.4" cy="504.6" r="1.5"/><circle cx="561.4" cy="563.7" r="1.3"/><circle cx="581.4" cy="673.8" r="1.8"/><circle cx="545" cy="449.3" r="1.1"/><circle cx="529" cy="661.7" r="1.1"/><circle cx="593.1" cy="501.1" r="1.1"/><circle cx="564.2" cy="678.2" r="1.1"/><circle cx="541.3" cy="687.3" r="0.9"/><circle cx="557.4" cy="564.4" r="1.1"/><circle cx="552.4" cy="461.9" r="1.6"/><circle cx="535.1" cy="631.2" r="1.5"/><circle cx="508.4" cy="472" r="1.8"/><circle cx="562.1" cy="450.7" r="1.8"/><circle cx="607.6" cy="639.6" r="1.5"/><circle cx="541.6" cy="655.1" r="1.9"/><circle cx="527.2" cy="460.8" r="1"/><circle cx="574.1" cy="650.3" r="1.9"/><circle cx="590.8" cy="622.7" r="1.1"/><circle cx="554.2" cy="688.4" r="1"/><circle cx="652" cy="182" r="2.5"/><circle cx="672" cy="204" r="2"/><circle cx="661" cy="216" r="2"/><circle cx="655" cy="224" r="2.5"/><circle cx="670" cy="245" r="3"/><circle cx="676" cy="250" r="2.5"/><circle cx="664" cy="257" r="3"/><circle cx="652" cy="259" r="3"/><circle cx="639" cy="252" r="2"/><circle cx="637" cy="265" r="2.5"/><circle cx="650" cy="272" r="2.5"/><circle cx="550" cy="239" r="2"/><circle cx="560" cy="259" r="2"/><circle cx="565" cy="259" r="3"/><circle cx="571" cy="251" r="2"/><circle cx="552" cy="267" r="2"/><circle cx="531" cy="281" r="2"/><circle cx="546" cy="281" r="2"/><circle cx="559" cy="300" r="2.5"/><circle cx="537" cy="299" r="2"/><circle cx="635" cy="602" r="6"/><circle cx="665" cy="670" r="6"/><circle cx="702" cy="876" r="4"/><circle cx="698" cy="884" r="5"/><circle cx="690" cy="892" r="4"/><circle cx="680" cy="870" r="3"/><circle cx="680" cy="946" r="3"/><circle cx="695" cy="776" r="3"/><circle cx="684" cy="930" r="3"/></g><g fill="#d890a8" fill-opacity="0.5"><circle cx="549.9" cy="448.5" r="1.4"/><circle cx="534.3" cy="468.3" r="1.2"/><circle cx="542.0" cy="432.1" r="0.6"/><circle cx="579.0" cy="450.9" r="0.8"/><circle cx="549.4" cy="388.4" r="0.6"/><circle cx="509.5" cy="472.1" r="1.5"/><circle cx="516.8" cy="470.0" r="1.1"/><circle cx="555.3" cy="396.0" r="1.5"/><circle cx="518.0" cy="435.0" r="0.6"/><circle cx="555.4" cy="409.0" r="0.9"/><circle cx="569.3" cy="423.0" r="0.9"/><circle cx="535.8" cy="444.9" r="0.7"/><circle cx="562.5" cy="458.6" r="0.6"/><circle cx="566.2" cy="411.8" r="1.2"/><circle cx="506.0" cy="469.4" r="0.8"/><circle cx="523.3" cy="427.3" r="1.4"/><circle cx="498.8" cy="449.2" r="1.4"/><circle cx="521.9" cy="435.7" r="1.5"/><circle cx="521.8" cy="466.4" r="1.1"/><circle cx="541.0" cy="415.7" r="0.8"/><circle cx="547.0" cy="456.8" r="1.1"/><circle cx="537.1" cy="458.0" r="0.7"/><circle cx="550.6" cy="453.1" r="0.7"/><circle cx="571.9" cy="404.8" r="1.1"/><circle cx="584.9" cy="420.4" r="1.1"/><circle cx="560.5" cy="422.9" r="0.9"/><circle cx="537.6" cy="409.1" r="0.7"/><circle cx="515.1" cy="452.5" r="1.5"/><circle cx="523.9" cy="452.9" r="1.4"/><circle cx="557.0" cy="440.9" r="1.4"/><circle cx="524.2" cy="444.9" r="0.9"/><circle cx="536.3" cy="451.3" r="1.3"/><circle cx="517.3" cy="468.5" r="1.2"/><circle cx="542.4" cy="400.5" r="1.3"/><circle cx="534.0" cy="455.9" r="1.2"/><circle cx="567.2" cy="410.0" r="1.2"/><circle cx="561.3" cy="457.0" r="1.0"/><circle cx="571.7" cy="461.1" r="1.3"/><circle cx="539.5" cy="427.8" r="0.8"/><circle cx="535.4" cy="443.6" r="1.3"/><circle cx="560.6" cy="392.8" r="1.4"/><circle cx="545.7" cy="441.1" r="1.0"/><circle cx="550.0" cy="451.8" r="1.2"/><circle cx="552.6" cy="397.4" r="1.3"/><circle cx="550.7" cy="380.1" r="1.1"/></g>
<g transform="translate(400,0)">
<text x="319" y="156" class="cty" textLength="53" lengthAdjust="spacingAndGlyphs">CHINA</text>
<text x="38.6" y="249" class="cty" textLength="47" lengthAdjust="spacingAndGlyphs">INDIA</text>
<text x="276" y="587.5" class="cty" textLength="85" lengthAdjust="spacingAndGlyphs">THAILAND</text>
<text x="214.5" y="246" class="st">Kachin</text>
<text x="127.5" y="319.5" class="st">Sagaing</text>
<text x="65.6" y="416" class="st">Chin</text>
<text x="167.5" y="436" class="st">Mandalay</text>
<text x="264" y="444" class="st">Shan</text>
<text x="94" y="487" class="st">Magway</text>
<text x="161" y="520" class="st">Nay Pyi</text>
<text x="171" y="535" class="st">Taw</text>
<text x="81" y="548" class="st">Rakhine</text>
<text x="213" y="554" class="st">Kayah</text>
<text x="174" y="602" class="st">Bago</text>
<text x="234.5" y="636" class="st">Kayin</text>
<text x="107" y="649" class="st">Ayeyarwady</text>
<text x="237.6" y="707" class="st">Mon</text>
<text x="272.5" y="843" class="st">Tanintharyi</text>
</g>
</g>

<g font-family="'Liberation Sans', sans-serif" fill="#111">
<rect x="5.5" y="835.5" width="74" height="121" fill="#fff" stroke="#d8d8d8" stroke-width="1"/>
<text x="14.6" y="852.9" font-weight="bold" font-size="15.5" textLength="57.3" lengthAdjust="spacingAndGlyphs">Number</text>
<text x="11" y="871.8" font-weight="bold" font-size="15.5" textLength="64.6" lengthAdjust="spacingAndGlyphs">of events</text>
<g fill="#d2d2d2" stroke="#a8a8a8" stroke-width="1"><circle cx="19.7" cy="887.1" r="1.8"/><circle cx="19.7" cy="907.1" r="6.1"/><circle cx="19.7" cy="926.6" r="8"/><circle cx="19.7" cy="946.6" r="10.1"/></g>
<g font-size="15.5" text-anchor="end"><text x="62.2" y="892.8">1</text><text x="62.2" y="912.8">50</text><text x="62.2" y="932">100</text><text x="62.2" y="952">168</text></g>
<rect x="8.5" y="956.5" width="81" height="12" fill="#fff"/>
<text x="13" y="965.8" font-size="9.5" fill="#444" textLength="73" lengthAdjust="spacingAndGlyphs">© Mapbox © OSM</text>
</g>
<g font-family="'Liberation Sans', sans-serif" fill="#111">
<rect x="405.5" y="832.5" width="74.5" height="122" fill="#fff" stroke="#d8d8d8" stroke-width="1"/>
<text x="415" y="849.8" font-weight="bold" font-size="15.5" textLength="57.3" lengthAdjust="spacingAndGlyphs">Number</text>
<text x="411" y="868.2" font-weight="bold" font-size="15.5" textLength="65" lengthAdjust="spacingAndGlyphs">of events</text>
<g fill="#d2d2d2" stroke="#a8a8a8" stroke-width="1"><circle cx="419.7" cy="884" r="1.8"/><circle cx="419.7" cy="904" r="6.9"/><circle cx="419.7" cy="923.5" r="8.8"/><circle cx="419.7" cy="943.5" r="10.4"/></g>
<g font-size="15.5" text-anchor="end"><text x="462.2" y="889.7">1</text><text x="462.2" y="909.7">200</text><text x="462.2" y="929.7">400</text><text x="462.2" y="948.9">569</text></g>
<rect x="407.7" y="954.3" width="81.3" height="13" fill="#fff"/>
<text x="412" y="963.5" font-size="9.5" fill="#444" textLength="73" lengthAdjust="spacingAndGlyphs">© Mapbox © OSM</text>
</g>
<rect x="4.5" y="123.5" width="390.5" height="847" fill="none" stroke="#e8e8e8" stroke-width="1.5"/>
<rect x="404" y="123.5" width="391" height="847" fill="none" stroke="#e8e8e8" stroke-width="1.5"/>
</svg>
</body></html>
